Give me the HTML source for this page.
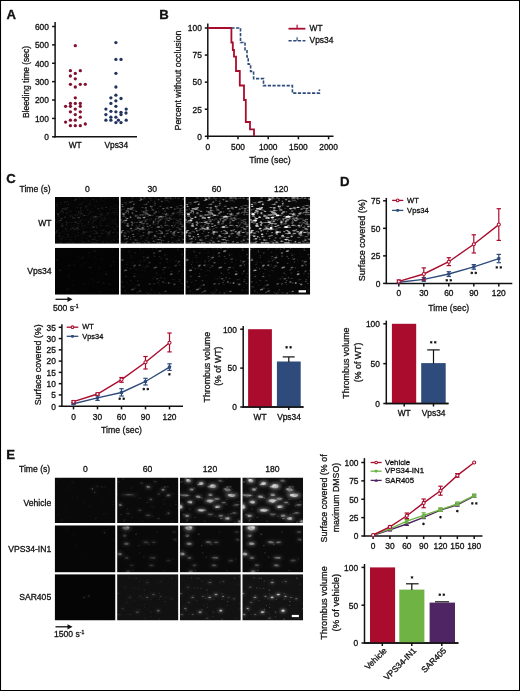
<!DOCTYPE html>
<html><head><meta charset="utf-8"><title>Figure</title>
<style>
html,body{margin:0;padding:0;background:#fff;}
body{width:520px;height:691px;overflow:hidden;font-family:"Liberation Sans",sans-serif;}
svg{display:block;position:absolute;left:0;top:0;will-change:transform;}
svg text{font-family:"Liberation Sans",sans-serif;stroke:#111;stroke-width:0.3px;}
</style></head><body>
<svg width="520" height="691" viewBox="0 0 520 691">
<defs>
<filter id="bl" x="-20%" y="-20%" width="140%" height="140%"><feGaussianBlur stdDeviation="1.7"/></filter>
<filter id="b07" x="-10%" y="-10%" width="120%" height="120%"><feGaussianBlur stdDeviation="0.6"/></filter>
<filter id="b05" x="-10%" y="-10%" width="120%" height="120%"><feGaussianBlur stdDeviation="0.6"/></filter>
<clipPath id="cC00"><rect x="55.0" y="197.0" width="64.1" height="46.8"/></clipPath><clipPath id="cC01"><rect x="120.4" y="197.0" width="63.7" height="46.8"/></clipPath><clipPath id="cC02"><rect x="185.3" y="197.0" width="63.6" height="46.8"/></clipPath><clipPath id="cC03"><rect x="250.1" y="197.0" width="60.1" height="46.8"/></clipPath><clipPath id="cC10"><rect x="55.0" y="247.8" width="64.1" height="46.9"/></clipPath><clipPath id="cC11"><rect x="120.4" y="247.8" width="63.7" height="46.9"/></clipPath><clipPath id="cC12"><rect x="185.3" y="247.8" width="63.6" height="46.9"/></clipPath><clipPath id="cC13"><rect x="250.1" y="247.8" width="60.1" height="46.9"/></clipPath><clipPath id="cE00"><rect x="54.7" y="477.5" width="60.8" height="45.6"/></clipPath><clipPath id="cE01"><rect x="117.1" y="477.5" width="61.3" height="45.6"/></clipPath><clipPath id="cE02"><rect x="179.9" y="477.5" width="60.9" height="45.6"/></clipPath><clipPath id="cE03"><rect x="242.3" y="477.5" width="60.8" height="45.6"/></clipPath><clipPath id="cE10"><rect x="54.7" y="525.3" width="60.8" height="47.1"/></clipPath><clipPath id="cE11"><rect x="117.1" y="525.3" width="61.3" height="47.1"/></clipPath><clipPath id="cE12"><rect x="179.9" y="525.3" width="60.9" height="47.1"/></clipPath><clipPath id="cE13"><rect x="242.3" y="525.3" width="60.8" height="47.1"/></clipPath><clipPath id="cE20"><rect x="54.7" y="574.2" width="60.8" height="46.3"/></clipPath><clipPath id="cE21"><rect x="117.1" y="574.2" width="61.3" height="46.3"/></clipPath><clipPath id="cE22"><rect x="179.9" y="574.2" width="60.9" height="46.3"/></clipPath><clipPath id="cE23"><rect x="242.3" y="574.2" width="60.8" height="46.3"/></clipPath>
</defs>
<rect x="0" y="0" width="520" height="691" fill="#fff"/>
<text x="6.4" y="18.6" font-size="13.2" text-anchor="start" font-weight="bold" fill="#111" stroke-width="0.1">A</text>
<line x1="55.1" y1="22.099999999999998" x2="55.1" y2="137.4" stroke="#111" stroke-width="1.5"/>
<line x1="54.5" y1="136.8" x2="137" y2="136.8" stroke="#111" stroke-width="1.5"/>
<line x1="52.1" y1="136.8" x2="55.1" y2="136.8" stroke="#111" stroke-width="1.5"/>
<text x="48.9" y="140.12400000000002" font-size="8.4" text-anchor="end" font-weight="normal" fill="#111">0</text>
<line x1="52.1" y1="118.41666666666667" x2="55.1" y2="118.41666666666667" stroke="#111" stroke-width="1.5"/>
<text x="48.9" y="121.74066666666667" font-size="8.4" text-anchor="end" font-weight="normal" fill="#111">100</text>
<line x1="52.1" y1="100.03333333333333" x2="55.1" y2="100.03333333333333" stroke="#111" stroke-width="1.5"/>
<text x="48.9" y="103.35733333333333" font-size="8.4" text-anchor="end" font-weight="normal" fill="#111">200</text>
<line x1="52.1" y1="81.65" x2="55.1" y2="81.65" stroke="#111" stroke-width="1.5"/>
<text x="48.9" y="84.974" font-size="8.4" text-anchor="end" font-weight="normal" fill="#111">300</text>
<line x1="52.1" y1="63.266666666666666" x2="55.1" y2="63.266666666666666" stroke="#111" stroke-width="1.5"/>
<text x="48.9" y="66.59066666666666" font-size="8.4" text-anchor="end" font-weight="normal" fill="#111">400</text>
<line x1="52.1" y1="44.883333333333326" x2="55.1" y2="44.883333333333326" stroke="#111" stroke-width="1.5"/>
<text x="48.9" y="48.207333333333324" font-size="8.4" text-anchor="end" font-weight="normal" fill="#111">500</text>
<line x1="52.1" y1="26.5" x2="55.1" y2="26.5" stroke="#111" stroke-width="1.5"/>
<text x="48.9" y="29.824" font-size="8.4" text-anchor="end" font-weight="normal" fill="#111">600</text>
<text transform="translate(29.0,82) rotate(-90)" font-size="9.9" text-anchor="middle" fill="#111" textLength="72" lengthAdjust="spacingAndGlyphs">Bleeding time (sec)</text>
<text x="75.2" y="148.2" font-size="8.4" text-anchor="middle" font-weight="normal" fill="#111">WT</text>
<text x="116.3" y="148.2" font-size="8.4" text-anchor="middle" font-weight="normal" fill="#111">Vps34</text>
<circle cx="75.3" cy="45.7" r="1.65" fill="#84102f"/>
<circle cx="70.4" cy="70.7" r="1.65" fill="#84102f"/>
<circle cx="80.3" cy="70.7" r="1.65" fill="#84102f"/>
<circle cx="75.3" cy="73.4" r="1.65" fill="#84102f"/>
<circle cx="70.4" cy="76.0" r="1.65" fill="#84102f"/>
<circle cx="75.3" cy="78.8" r="1.65" fill="#84102f"/>
<circle cx="70.4" cy="84.3" r="1.65" fill="#84102f"/>
<circle cx="80.3" cy="84.3" r="1.65" fill="#84102f"/>
<circle cx="85.3" cy="84.3" r="1.65" fill="#84102f"/>
<circle cx="75.3" cy="87.0" r="1.65" fill="#84102f"/>
<circle cx="75.3" cy="97.8" r="1.65" fill="#84102f"/>
<circle cx="70.4" cy="103.4" r="1.65" fill="#84102f"/>
<circle cx="75.3" cy="103.4" r="1.65" fill="#84102f"/>
<circle cx="80.3" cy="103.4" r="1.65" fill="#84102f"/>
<circle cx="65.6" cy="106.3" r="1.65" fill="#84102f"/>
<circle cx="70.4" cy="106.3" r="1.65" fill="#84102f"/>
<circle cx="80.3" cy="106.3" r="1.65" fill="#84102f"/>
<circle cx="75.3" cy="109.1" r="1.65" fill="#84102f"/>
<circle cx="70.4" cy="111.8" r="1.65" fill="#84102f"/>
<circle cx="80.3" cy="111.8" r="1.65" fill="#84102f"/>
<circle cx="75.3" cy="114.6" r="1.65" fill="#84102f"/>
<circle cx="80.3" cy="117.2" r="1.65" fill="#84102f"/>
<circle cx="70.4" cy="120.2" r="1.65" fill="#84102f"/>
<circle cx="75.3" cy="120.2" r="1.65" fill="#84102f"/>
<circle cx="65.6" cy="122.1" r="1.65" fill="#84102f"/>
<circle cx="85.3" cy="124.0" r="1.65" fill="#84102f"/>
<circle cx="70.4" cy="125.7" r="1.65" fill="#84102f"/>
<circle cx="75.3" cy="125.7" r="1.65" fill="#84102f"/>
<circle cx="80.3" cy="125.7" r="1.65" fill="#84102f"/>
<circle cx="115.9" cy="42.6" r="1.65" fill="#22335f"/>
<circle cx="115.9" cy="59.4" r="1.65" fill="#22335f"/>
<circle cx="121.0" cy="59.4" r="1.65" fill="#22335f"/>
<circle cx="115.9" cy="73.3" r="1.65" fill="#22335f"/>
<circle cx="115.9" cy="87.0" r="1.65" fill="#22335f"/>
<circle cx="115.9" cy="95.2" r="1.65" fill="#22335f"/>
<circle cx="110.9" cy="97.8" r="1.65" fill="#22335f"/>
<circle cx="121.0" cy="98.5" r="1.65" fill="#22335f"/>
<circle cx="115.9" cy="100.8" r="1.65" fill="#22335f"/>
<circle cx="110.9" cy="103.4" r="1.65" fill="#22335f"/>
<circle cx="115.9" cy="106.3" r="1.65" fill="#22335f"/>
<circle cx="105.9" cy="109.1" r="1.65" fill="#22335f"/>
<circle cx="126.2" cy="109.1" r="1.65" fill="#22335f"/>
<circle cx="110.9" cy="111.3" r="1.65" fill="#22335f"/>
<circle cx="115.9" cy="111.8" r="1.65" fill="#22335f"/>
<circle cx="121.0" cy="112.3" r="1.65" fill="#22335f"/>
<circle cx="126.0" cy="113.0" r="1.65" fill="#22335f"/>
<circle cx="105.9" cy="114.6" r="1.65" fill="#22335f"/>
<circle cx="121.0" cy="114.6" r="1.65" fill="#22335f"/>
<circle cx="110.9" cy="117.2" r="1.65" fill="#22335f"/>
<circle cx="115.9" cy="117.2" r="1.65" fill="#22335f"/>
<circle cx="105.9" cy="120.2" r="1.65" fill="#22335f"/>
<circle cx="110.9" cy="120.2" r="1.65" fill="#22335f"/>
<circle cx="126.2" cy="120.2" r="1.65" fill="#22335f"/>
<circle cx="118.4" cy="120.2" r="1.65" fill="#22335f"/>
<circle cx="115.9" cy="122.6" r="1.65" fill="#22335f"/>
<circle cx="121.0" cy="122.6" r="1.65" fill="#22335f"/>
<text x="159.3" y="18.6" font-size="13.2" text-anchor="start" font-weight="bold" fill="#111" stroke-width="0.1">B</text>
<line x1="207.8" y1="23.4" x2="207.8" y2="136.9" stroke="#111" stroke-width="1.5"/>
<line x1="207.20000000000002" y1="136.3" x2="333.5" y2="136.3" stroke="#111" stroke-width="1.5"/>
<line x1="204.8" y1="136.3" x2="207.8" y2="136.3" stroke="#111" stroke-width="1.5"/>
<text x="201.8" y="139.62400000000002" font-size="8.4" text-anchor="end" font-weight="normal" fill="#111">0</text>
<line x1="204.8" y1="109.22500000000001" x2="207.8" y2="109.22500000000001" stroke="#111" stroke-width="1.5"/>
<text x="201.8" y="112.549" font-size="8.4" text-anchor="end" font-weight="normal" fill="#111">25</text>
<line x1="204.8" y1="82.15" x2="207.8" y2="82.15" stroke="#111" stroke-width="1.5"/>
<text x="201.8" y="85.474" font-size="8.4" text-anchor="end" font-weight="normal" fill="#111">50</text>
<line x1="204.8" y1="55.075" x2="207.8" y2="55.075" stroke="#111" stroke-width="1.5"/>
<text x="201.8" y="58.399" font-size="8.4" text-anchor="end" font-weight="normal" fill="#111">75</text>
<line x1="204.8" y1="28.0" x2="207.8" y2="28.0" stroke="#111" stroke-width="1.5"/>
<text x="201.8" y="31.324" font-size="8.4" text-anchor="end" font-weight="normal" fill="#111">100</text>
<line x1="207.8" y1="136.3" x2="207.8" y2="139.3" stroke="#111" stroke-width="1.5"/>
<text x="207.8" y="150.2" font-size="8.4" text-anchor="middle" font-weight="normal" fill="#111">0</text>
<line x1="238.0" y1="136.3" x2="238.0" y2="139.3" stroke="#111" stroke-width="1.5"/>
<text x="238.0" y="150.2" font-size="8.4" text-anchor="middle" font-weight="normal" fill="#111">500</text>
<line x1="268.2" y1="136.3" x2="268.2" y2="139.3" stroke="#111" stroke-width="1.5"/>
<text x="268.2" y="150.2" font-size="8.4" text-anchor="middle" font-weight="normal" fill="#111">1000</text>
<line x1="298.4" y1="136.3" x2="298.4" y2="139.3" stroke="#111" stroke-width="1.5"/>
<text x="298.4" y="150.2" font-size="8.4" text-anchor="middle" font-weight="normal" fill="#111">1500</text>
<line x1="328.6" y1="136.3" x2="328.6" y2="139.3" stroke="#111" stroke-width="1.5"/>
<text x="328.6" y="150.2" font-size="8.4" text-anchor="middle" font-weight="normal" fill="#111">2000</text>
<text transform="translate(181.2,80.5) rotate(-90)" font-size="9.9" text-anchor="middle" fill="#111" textLength="100" lengthAdjust="spacingAndGlyphs">Percent without occlusion</text>
<text x="270.0" y="163.4" font-size="9.9" text-anchor="middle" font-weight="normal" fill="#111" textLength="41.5" lengthAdjust="spacingAndGlyphs">Time (sec)</text>
<polyline points="207.8,28 231.4,28 231.4,42.5 232.8,42.5 232.8,50 234,50 234,56.7 236,56.7 236,71 239.8,71 239.8,85.5 244,85.5 244,100 245.8,100 245.8,122 250,122 250,129.3 254,129.3 254,136.3" fill="none" stroke="#aa0c2e" stroke-width="1.8"/>
<polyline points="231.4,28 240.5,28 240.5,42.5 245,42.5 245,49.7 247,49.7 247,56.9 248.2,56.9 248.2,64.1 250.6,64.1 250.6,71.4 253.6,71.4 253.6,78.6 263.5,78.6 263.5,85.6 292.4,85.6 292.4,93.1 319.4,93.1 319.4,89.5" fill="none" stroke="#2e4b7c" stroke-width="1.6" stroke-dasharray="3.2 1.5"/>
<line x1="288.5" y1="28.7" x2="305.4" y2="28.7" stroke="#aa0c2e" stroke-width="1.8"/>
<line x1="297.1" y1="24.8" x2="297.1" y2="28.7" stroke="#aa0c2e" stroke-width="1.2"/>
<text x="309.6" y="31.3" font-size="8.4" text-anchor="start" font-weight="normal" fill="#111">WT</text>
<line x1="288.5" y1="40.8" x2="305.4" y2="40.8" stroke="#2e4b7c" stroke-width="1.6" stroke-dasharray="3.2 1.5"/>
<line x1="297.1" y1="37.2" x2="297.1" y2="40.8" stroke="#2e4b7c" stroke-width="1.2"/>
<text x="309.6" y="43.4" font-size="8.4" text-anchor="start" font-weight="normal" fill="#111">Vps34</text>
<text x="6.3" y="182.6" font-size="13.2" text-anchor="start" font-weight="bold" fill="#111" stroke-width="0.1">C</text>
<text x="19.5" y="191.8" font-size="8.6" text-anchor="start" font-weight="normal" fill="#111">Time (s)</text>
<text x="87.3" y="191.8" font-size="8.6" text-anchor="middle" font-weight="normal" fill="#111">0</text>
<text x="152.2" y="191.8" font-size="8.6" text-anchor="middle" font-weight="normal" fill="#111">30</text>
<text x="216.6" y="191.8" font-size="8.6" text-anchor="middle" font-weight="normal" fill="#111">60</text>
<text x="281.2" y="191.8" font-size="8.6" text-anchor="middle" font-weight="normal" fill="#111">120</text>
<text x="51.6" y="226.3" font-size="8.6" text-anchor="end" font-weight="normal" fill="#111">WT</text>
<text x="51.6" y="274.0" font-size="8.6" text-anchor="end" font-weight="normal" fill="#111">Vps34</text>
<g clip-path="url(#cC00)" fill="#fff">
<rect x="55.0" y="197.0" width="64.1" height="46.8" fill="rgb(5,5,5)"/>
<g filter="url(#b05)">
<ellipse cx="84.0" cy="197.9" rx=".8" ry=".6" opacity=".06"/>
<ellipse cx="66.8" cy="208.7" rx=".8" ry=".7" opacity=".11"/>
<ellipse cx="61.0" cy="218.4" rx="1.1" ry=".7" opacity=".03"/>
<ellipse cx="118.0" cy="226.2" rx="1.2" ry=".7" opacity=".06"/>
<ellipse cx="65.1" cy="237.5" rx=".5" ry=".5" opacity=".05"/>
<ellipse cx="56.9" cy="222.0" rx=".8" ry=".6" opacity=".13"/>
<ellipse cx="88.3" cy="209.9" rx="1.0" ry=".6" opacity=".05"/>
<ellipse cx="118.9" cy="207.6" rx="1.2" ry=".7" opacity=".07"/>
<ellipse cx="75.2" cy="221.9" rx=".5" ry=".7" opacity=".07"/>
<ellipse cx="109.3" cy="231.9" rx=".7" ry=".8" opacity=".08"/>
<ellipse cx="55.0" cy="228.1" rx=".8" ry=".8" opacity=".08"/>
<ellipse cx="59.7" cy="242.9" rx=".9" ry=".7" opacity=".06"/>
<ellipse cx="60.6" cy="202.4" rx="1.0" ry=".4" opacity=".05"/>
<ellipse cx="61.5" cy="242.9" rx=".5" ry=".7" opacity=".05"/>
<ellipse cx="90.9" cy="211.8" rx="1.0" ry=".5" opacity=".08"/>
<ellipse cx="62.5" cy="223.4" rx=".8" ry=".5" opacity=".06"/>
<ellipse cx="117.2" cy="224.3" rx="1.2" ry=".5" opacity=".05"/>
<ellipse cx="109.8" cy="209.1" rx=".9" ry=".4" opacity=".09"/>
<ellipse cx="68.7" cy="219.1" rx=".7" ry=".5" opacity=".04"/>
<ellipse cx="60.8" cy="242.9" rx=".9" ry=".5" opacity=".10"/>
<ellipse cx="78.8" cy="197.9" rx=".8" ry=".6" opacity=".09"/>
<ellipse cx="66.7" cy="230.7" rx=".5" ry=".8" opacity=".12"/>
<ellipse cx="71.0" cy="228.9" rx="1.2" ry=".5" opacity=".13"/>
<ellipse cx="111.5" cy="241.8" rx=".9" ry=".6" opacity=".03"/>
<ellipse cx="57.5" cy="230.5" rx="1.0" ry=".5" opacity=".12"/>
<ellipse cx="93.2" cy="218.0" rx=".6" ry=".5" opacity=".09"/>
<ellipse cx="59.4" cy="222.8" rx="1.1" ry=".6" opacity=".06"/>
<ellipse cx="113.8" cy="238.2" rx=".6" ry=".4" opacity=".04"/>
<ellipse cx="83.6" cy="228.5" rx=".7" ry=".6" opacity=".04"/>
<ellipse cx="78.2" cy="223.6" rx="1.2" ry=".8" opacity=".09"/>
<ellipse cx="99.3" cy="213.7" rx=".4" ry=".4" opacity=".10"/>
<ellipse cx="99.9" cy="216.5" rx="1.2" ry=".4" opacity=".07"/>
<ellipse cx="85.9" cy="218.9" rx="1.2" ry=".4" opacity=".08"/>
<ellipse cx="102.2" cy="208.2" rx="1.2" ry=".7" opacity=".08"/>
<ellipse cx="105.8" cy="231.7" rx="1.0" ry=".8" opacity=".09"/>
<ellipse cx="81.7" cy="213.7" rx="1.1" ry=".7" opacity=".08"/>
<ellipse cx="95.1" cy="206.7" rx=".9" ry=".4" opacity=".07"/>
<ellipse cx="118.7" cy="232.9" rx="1.1" ry=".7" opacity=".04"/>
<ellipse cx="102.1" cy="207.2" rx="1.1" ry=".4" opacity=".08"/>
<ellipse cx="56.9" cy="213.0" rx=".9" ry=".6" opacity=".06"/>
<ellipse cx="74.3" cy="220.7" rx="1.0" ry=".5" opacity=".04"/>
<ellipse cx="113.1" cy="212.3" rx="1.2" ry=".5" opacity=".07"/>
<ellipse cx="67.7" cy="207.6" rx=".8" ry=".7" opacity=".12"/>
<ellipse cx="111.4" cy="206.5" rx=".7" ry=".5" opacity=".05"/>
<ellipse cx="108.7" cy="232.7" rx="1.1" ry=".7" opacity=".09"/>
<ellipse cx="72.7" cy="227.9" rx=".6" ry=".5" opacity=".07"/>
<ellipse cx="95.1" cy="233.8" rx=".8" ry=".5" opacity=".10"/>
<ellipse cx="117.9" cy="215.1" rx=".4" ry=".7" opacity=".02"/>
<ellipse cx="100.4" cy="222.0" rx=".9" ry=".5" opacity=".09"/>
<ellipse cx="56.2" cy="230.6" rx=".4" ry=".7" opacity=".06"/>
<ellipse cx="64.0" cy="232.1" rx=".4" ry=".7" opacity=".08"/>
<ellipse cx="95.4" cy="206.1" rx="1.2" ry=".7" opacity=".04"/>
<ellipse cx="85.5" cy="199.3" rx=".6" ry=".4" opacity=".05"/>
<ellipse cx="100.8" cy="225.2" rx=".7" ry=".7" opacity=".06"/>
<ellipse cx="94.4" cy="230.5" rx="1.0" ry=".6" opacity=".09"/>
<ellipse cx="113.1" cy="242.9" rx="1.0" ry=".5" opacity=".05"/>
<ellipse cx="95.1" cy="237.4" rx="1.2" ry=".6" opacity=".07"/>
<ellipse cx="111.4" cy="230.2" rx=".8" ry=".7" opacity=".03"/>
<ellipse cx="101.3" cy="197.9" rx="1.1" ry=".7" opacity=".06"/>
<ellipse cx="68.7" cy="242.9" rx="1.2" ry=".6" opacity=".11"/>
<ellipse cx="75.5" cy="197.9" rx="1.2" ry=".7" opacity=".05"/>
<ellipse cx="60.3" cy="203.9" rx="1.1" ry=".6" opacity=".03"/>
<ellipse cx="106.9" cy="226.8" rx=".5" ry=".7" opacity=".03"/>
<ellipse cx="76.5" cy="222.2" rx=".5" ry=".6" opacity=".10"/>
<ellipse cx="108.8" cy="212.9" rx="1.0" ry=".8" opacity=".06"/>
<ellipse cx="115.8" cy="228.9" rx=".8" ry=".5" opacity=".07"/>
<ellipse cx="96.0" cy="225.5" rx=".8" ry=".7" opacity=".07"/>
<ellipse cx="75.0" cy="200.5" rx="1.2" ry=".5" opacity=".09"/>
<ellipse cx="117.1" cy="238.8" rx=".8" ry=".6" opacity=".03"/>
<ellipse cx="89.4" cy="201.3" rx=".4" ry=".8" opacity=".06"/>
<ellipse cx="80.7" cy="220.0" rx="1.1" ry=".6" opacity=".07"/>
<ellipse cx="99.3" cy="236.4" rx=".8" ry=".8" opacity=".10"/>
<ellipse cx="72.3" cy="227.4" rx=".8" ry=".5" opacity=".07"/>
<ellipse cx="107.3" cy="233.4" rx=".7" ry=".5" opacity=".07"/>
<ellipse cx="114.3" cy="211.1" rx=".5" ry=".7" opacity=".02"/>
<ellipse cx="67.4" cy="223.4" rx=".7" ry=".5" opacity=".09"/>
<ellipse cx="61.7" cy="241.6" rx="1.0" ry=".4" opacity=".09"/>
<ellipse cx="71.1" cy="226.0" rx=".8" ry=".6" opacity=".07"/>
<ellipse cx="88.9" cy="236.7" rx=".5" ry=".5" opacity=".08"/>
<ellipse cx="95.9" cy="197.9" rx=".9" ry=".7" opacity=".03"/>
<ellipse cx="102.5" cy="215.3" rx="1.1" ry=".8" opacity=".05"/>
<ellipse cx="75.2" cy="229.1" rx="1.2" ry=".8" opacity=".04"/>
<ellipse cx="70.3" cy="215.8" rx="1.0" ry=".5" opacity=".04"/>
<ellipse cx="108.3" cy="198.5" rx=".5" ry=".6" opacity=".06"/>
<ellipse cx="56.1" cy="232.1" rx=".6" ry=".7" opacity=".14"/>
<ellipse cx="117.1" cy="232.9" rx="1.0" ry=".6" opacity=".07"/>
<ellipse cx="67.1" cy="231.5" rx=".5" ry=".4" opacity=".03"/>
<ellipse cx="90.4" cy="202.3" rx=".5" ry=".5" opacity=".04"/>
<ellipse cx="108.9" cy="218.7" rx="1.2" ry=".8" opacity=".03"/>
<ellipse cx="59.0" cy="235.3" rx="1.1" ry=".5" opacity=".08"/>
<ellipse cx="88.0" cy="215.7" rx=".8" ry=".6" opacity=".03"/>
<ellipse cx="99.9" cy="225.4" rx=".8" ry=".7" opacity=".06"/>
<ellipse cx="67.5" cy="213.0" rx=".5" ry=".6" opacity=".03"/>
<ellipse cx="112.3" cy="227.4" rx="1.1" ry=".7" opacity=".05"/>
<ellipse cx="93.4" cy="199.6" rx=".8" ry=".8" opacity=".08"/>
<ellipse cx="71.6" cy="240.1" rx="1.1" ry=".7" opacity=".07"/>
<ellipse cx="112.5" cy="208.1" rx="1.1" ry=".7" opacity=".07"/>
<ellipse cx="104.1" cy="201.7" rx=".5" ry=".5" opacity=".05"/>
<ellipse cx="55.7" cy="233.0" rx=".7" ry=".7" opacity=".10"/>
<ellipse cx="69.9" cy="240.0" rx=".7" ry=".7" opacity=".09"/>
<ellipse cx="89.2" cy="213.3" rx=".7" ry=".8" opacity=".08"/>
<ellipse cx="100.0" cy="223.3" rx=".4" ry=".6" opacity=".08"/>
<ellipse cx="71.5" cy="197.9" rx=".7" ry=".4" opacity=".04"/>
<ellipse cx="79.1" cy="229.1" rx="1.2" ry=".6" opacity=".08"/>
<ellipse cx="117.0" cy="226.6" rx=".9" ry=".8" opacity=".06"/>
<ellipse cx="106.9" cy="237.2" rx="1.0" ry=".4" opacity=".09"/>
<ellipse cx="65.3" cy="229.1" rx=".8" ry=".5" opacity=".08"/>
<ellipse cx="94.2" cy="242.9" rx=".8" ry=".6" opacity=".07"/>
<ellipse cx="78.4" cy="232.6" rx=".6" ry=".7" opacity=".08"/>
<ellipse cx="73.2" cy="217.9" rx=".4" ry=".5" opacity=".03"/>
<ellipse cx="65.0" cy="208.9" rx="1.0" ry=".6" opacity=".13"/>
<ellipse cx="103.0" cy="242.9" rx="1.2" ry=".4" opacity=".09"/>
<ellipse cx="82.5" cy="233.4" rx=".8" ry=".8" opacity=".05"/>
<ellipse cx="88.5" cy="241.2" rx=".8" ry=".8" opacity=".10"/>
<ellipse cx="93.7" cy="211.8" rx=".5" ry=".6" opacity=".06"/>
<ellipse cx="68.1" cy="236.7" rx=".5" ry=".6" opacity=".10"/>
<ellipse cx="84.2" cy="225.9" rx=".6" ry=".6" opacity=".06"/>
<ellipse cx="104.9" cy="197.9" rx="1.2" ry=".7" opacity=".03"/>
<ellipse cx="62.3" cy="211.0" rx="1.2" ry=".7" opacity=".10"/>
<ellipse cx="78.0" cy="217.5" rx=".9" ry=".6" opacity=".09"/>
<ellipse cx="103.3" cy="241.5" rx=".6" ry=".5" opacity=".10"/>
<ellipse cx="113.7" cy="223.3" rx=".5" ry=".5" opacity=".05"/>
<ellipse cx="95.0" cy="217.6" rx=".5" ry=".6" opacity=".03"/>
<ellipse cx="60.5" cy="212.5" rx=".9" ry=".5" opacity=".08"/>
<ellipse cx="68.5" cy="204.5" rx=".7" ry=".7" opacity=".11"/>
<ellipse cx="59.8" cy="239.1" rx=".9" ry=".7" opacity=".05"/>
<ellipse cx="82.2" cy="237.9" rx=".6" ry=".7" opacity=".06"/>
<ellipse cx="96.9" cy="232.8" rx=".9" ry=".7" opacity=".10"/>
<ellipse cx="82.4" cy="219.6" rx=".7" ry=".4" opacity=".11"/>
<ellipse cx="60.0" cy="236.1" rx=".8" ry=".7" opacity=".06"/>
<ellipse cx="104.7" cy="229.4" rx=".5" ry=".5" opacity=".07"/>
<ellipse cx="60.2" cy="212.9" rx="1.0" ry=".5" opacity=".05"/>
<ellipse cx="77.9" cy="241.7" rx="1.0" ry=".5" opacity=".04"/>
<ellipse cx="100.5" cy="197.9" rx="1.2" ry=".8" opacity=".04"/>
<ellipse cx="106.5" cy="207.1" rx=".7" ry=".5" opacity=".05"/>
<ellipse cx="114.9" cy="228.8" rx=".7" ry=".5" opacity=".04"/>
<ellipse cx="80.4" cy="213.9" rx=".7" ry=".5" opacity=".08"/>
<ellipse cx="106.1" cy="197.9" rx=".9" ry=".5" opacity=".06"/>
<ellipse cx="111.5" cy="213.7" rx=".6" ry=".4" opacity=".06"/>
<ellipse cx="89.9" cy="197.9" rx="1.0" ry=".7" opacity=".02"/>
<ellipse cx="90.1" cy="205.4" rx="1.1" ry=".4" opacity=".03"/>
<ellipse cx="102.2" cy="225.2" rx=".9" ry=".5" opacity=".08"/>
<ellipse cx="96.6" cy="216.9" rx=".6" ry=".5" opacity=".09"/>
<ellipse cx="88.4" cy="221.7" rx=".7" ry=".8" opacity=".09"/>
<ellipse cx="86.6" cy="206.4" rx=".9" ry=".7" opacity=".09"/>
<ellipse cx="113.7" cy="198.2" rx="1.0" ry=".7" opacity=".06"/>
<ellipse cx="108.4" cy="234.4" rx="1.2" ry=".8" opacity=".07"/>
<ellipse cx="88.6" cy="214.1" rx=".8" ry=".6" opacity=".04"/>
<ellipse cx="102.5" cy="197.9" rx="1.2" ry=".6" opacity=".03"/>
<ellipse cx="68.1" cy="210.0" rx="1.2" ry=".4" opacity=".06"/>
<ellipse cx="62.4" cy="225.7" rx="1.0" ry=".7" opacity=".05"/>
<ellipse cx="59.0" cy="202.4" rx="1.2" ry=".4" opacity=".04"/>
<ellipse cx="66.8" cy="225.2" rx=".6" ry=".5" opacity=".11"/>
<ellipse cx="93.1" cy="221.9" rx=".6" ry=".5" opacity=".09"/>
<ellipse cx="75.0" cy="229.3" rx=".9" ry=".7" opacity=".08"/>
<ellipse cx="71.7" cy="242.9" rx=".7" ry=".6" opacity=".13"/>
<ellipse cx="85.9" cy="200.2" rx=".6" ry=".4" opacity=".09"/>
<ellipse cx="106.4" cy="207.5" rx=".8" ry=".5" opacity=".10"/>
<ellipse cx="97.1" cy="231.8" rx=".6" ry=".4" opacity=".06"/>
<ellipse cx="78.8" cy="226.8" rx=".9" ry=".5" opacity=".04"/>
<ellipse cx="75.6" cy="199.2" rx=".6" ry=".7" opacity=".06"/>
<ellipse cx="95.8" cy="231.4" rx=".9" ry=".5" opacity=".09"/>
<ellipse cx="55.1" cy="219.9" rx="1.1" ry=".7" opacity=".13"/>
<ellipse cx="60.3" cy="217.6" rx=".5" ry=".6" opacity=".08"/>
<ellipse cx="116.2" cy="242.5" rx=".9" ry=".7" opacity=".04"/>
<ellipse cx="105.6" cy="197.9" rx=".5" ry=".7" opacity=".03"/>
<ellipse cx="89.8" cy="236.0" rx=".8" ry=".5" opacity=".10"/>
<ellipse cx="75.0" cy="218.3" rx=".7" ry=".6" opacity=".10"/>
<ellipse cx="78.1" cy="225.6" rx="1.0" ry=".4" opacity=".07"/>
<ellipse cx="84.6" cy="242.9" rx="1.0" ry=".4" opacity=".06"/>
<ellipse cx="100.5" cy="214.9" rx=".6" ry=".6" opacity=".06"/>
<ellipse cx="55.7" cy="242.9" rx=".6" ry=".6" opacity=".06"/>
<ellipse cx="79.1" cy="219.1" rx=".9" ry=".5" opacity=".06"/>
<ellipse cx="80.1" cy="215.0" rx=".6" ry=".7" opacity=".06"/>
<ellipse cx="115.6" cy="211.0" rx=".9" ry=".7" opacity=".04"/>
<ellipse cx="108.0" cy="226.9" rx=".5" ry=".7" opacity=".07"/>
<ellipse cx="66.5" cy="224.6" rx=".7" ry=".7" opacity=".09"/>
<ellipse cx="60.8" cy="221.6" rx=".5" ry=".6" opacity=".04"/>
<ellipse cx="114.0" cy="228.5" rx=".8" ry=".6" opacity=".07"/>
<ellipse cx="104.2" cy="226.4" rx=".7" ry=".6" opacity=".02"/>
<ellipse cx="80.7" cy="207.9" rx="1.0" ry=".8" opacity=".10"/>
<ellipse cx="97.3" cy="218.3" rx=".7" ry=".5" opacity=".08"/>
<ellipse cx="61.8" cy="218.7" rx=".7" ry=".6" opacity=".12"/>
<ellipse cx="107.9" cy="214.1" rx="1.1" ry=".8" opacity=".06"/>
<ellipse cx="77.6" cy="215.1" rx=".8" ry=".5" opacity=".10"/>
<ellipse cx="118.3" cy="198.3" rx="1.1" ry=".5" opacity=".06"/>
<ellipse cx="95.2" cy="218.2" rx=".6" ry=".4" opacity=".04"/>
<ellipse cx="92.0" cy="216.3" rx="1.2" ry=".5" opacity=".06"/>
<ellipse cx="63.0" cy="208.5" rx="1.2" ry=".5" opacity=".13"/>
<ellipse cx="89.8" cy="203.7" rx=".6" ry=".8" opacity=".10"/>
<ellipse cx="107.4" cy="213.7" rx=".9" ry=".4" opacity=".08"/>
<ellipse cx="73.5" cy="228.7" rx=".9" ry=".7" opacity=".05"/>
<ellipse cx="90.1" cy="214.1" rx=".5" ry=".4" opacity=".04"/>
<ellipse cx="118.3" cy="239.5" rx=".7" ry=".7" opacity=".07"/>
<ellipse cx="79.5" cy="212.8" rx=".9" ry=".7" opacity=".03"/>
<ellipse cx="67.8" cy="212.8" rx=".7" ry=".6" opacity=".05"/>
<ellipse cx="88.3" cy="222.0" rx=".6" ry=".6" opacity=".05"/>
<ellipse cx="96.1" cy="240.7" rx=".5" ry=".8" opacity=".07"/>
<ellipse cx="85.1" cy="225.3" rx=".7" ry=".6" opacity=".09"/>
<ellipse cx="103.6" cy="220.6" rx="1.2" ry=".7" opacity=".09"/>
<ellipse cx="81.2" cy="204.2" rx=".8" ry=".6" opacity=".10"/>
<ellipse cx="88.7" cy="205.6" rx="1.2" ry=".5" opacity=".03"/>
<ellipse cx="101.5" cy="218.1" rx="1.2" ry=".7" opacity=".07"/>
<ellipse cx="103.2" cy="214.0" rx=".5" ry=".4" opacity=".06"/>
<ellipse cx="87.2" cy="238.1" rx=".7" ry=".4" opacity=".09"/>
<ellipse cx="88.7" cy="221.2" rx=".7" ry=".5" opacity=".03"/>
<ellipse cx="113.4" cy="232.4" rx="1.2" ry=".7" opacity=".08"/>
<ellipse cx="82.0" cy="223.8" rx="1.0" ry=".6" opacity=".11"/>
<ellipse cx="61.3" cy="211.1" rx="1.1" ry=".4" opacity=".09"/>
<ellipse cx="116.0" cy="230.9" rx=".7" ry=".5" opacity=".02"/>
<ellipse cx="112.4" cy="220.4" rx="1.1" ry=".6" opacity=".05"/>
<ellipse cx="92.5" cy="223.8" rx="1.2" ry=".5" opacity=".07"/>
<ellipse cx="114.9" cy="221.4" rx="1.2" ry=".6" opacity=".03"/>
<ellipse cx="73.9" cy="242.9" rx=".6" ry=".7" opacity=".06"/>
<ellipse cx="85.3" cy="206.4" rx=".5" ry=".8" opacity=".11"/>
<ellipse cx="67.9" cy="214.2" rx="1.1" ry=".4" opacity=".04"/>
<ellipse cx="101.5" cy="213.6" rx=".7" ry=".8" opacity=".09"/>
<ellipse cx="100.7" cy="234.7" rx="1.2" ry=".6" opacity=".03"/>
<ellipse cx="69.3" cy="236.6" rx=".7" ry=".7" opacity=".05"/>
<ellipse cx="66.6" cy="222.3" rx="1.1" ry=".5" opacity=".10"/>
<ellipse cx="111.7" cy="241.1" rx=".9" ry=".5" opacity=".04"/>
<ellipse cx="114.4" cy="214.8" rx=".9" ry=".4" opacity=".09"/>
<ellipse cx="83.2" cy="210.6" rx=".8" ry=".6" opacity=".03"/>
<ellipse cx="93.4" cy="218.1" rx="1.1" ry=".4" opacity=".05"/>
<ellipse cx="103.4" cy="230.8" rx=".6" ry=".5" opacity=".07"/>
<ellipse cx="66.9" cy="242.9" rx=".4" ry=".6" opacity=".11"/>
<ellipse cx="79.7" cy="197.9" rx="1.2" ry=".6" opacity=".03"/>
<ellipse cx="90.6" cy="212.3" rx="1.0" ry=".7" opacity=".07"/>
<ellipse cx="87.4" cy="209.9" rx="1.1" ry=".7" opacity=".07"/>
<ellipse cx="116.0" cy="231.6" rx=".5" ry=".6" opacity=".04"/>
<ellipse cx="83.2" cy="242.1" rx="1.1" ry=".7" opacity=".10"/>
<ellipse cx="70.1" cy="210.5" rx=".9" ry=".6" opacity=".03"/>
<ellipse cx="93.3" cy="221.1" rx="1.0" ry=".6" opacity=".10"/>
<ellipse cx="66.5" cy="221.9" rx=".8" ry=".6" opacity=".08"/>
<ellipse cx="71.9" cy="222.6" rx="1.1" ry=".4" opacity=".12"/>
<ellipse cx="91.5" cy="197.9" rx=".6" ry=".5" opacity=".04"/>
<ellipse cx="57.7" cy="213.7" rx=".7" ry=".6" opacity=".09"/>
<ellipse cx="72.0" cy="215.3" rx="1.1" ry=".5" opacity=".05"/>
<ellipse cx="65.2" cy="217.2" rx="1.0" ry=".7" opacity=".11"/>
<ellipse cx="58.9" cy="209.1" rx=".6" ry=".8" opacity=".03"/>
<ellipse cx="86.4" cy="227.5" rx="1.0" ry=".8" opacity=".04"/>
<ellipse cx="84.2" cy="220.3" rx=".6" ry=".8" opacity=".04"/>
<ellipse cx="80.2" cy="216.4" rx=".7" ry=".6" opacity=".03"/>
<ellipse cx="57.2" cy="242.9" rx="1.0" ry=".5" opacity=".06"/>
<ellipse cx="90.4" cy="219.8" rx=".6" ry=".6" opacity=".11"/>
<ellipse cx="78.3" cy="199.8" rx=".9" ry=".4" opacity=".05"/>
<ellipse cx="96.7" cy="242.9" rx=".4" ry=".5" opacity=".08"/>
<ellipse cx="110.4" cy="197.9" rx=".8" ry=".6" opacity=".06"/>
<ellipse cx="79.4" cy="204.6" rx="1.1" ry=".5" opacity=".05"/>
<ellipse cx="66.8" cy="212.4" rx=".6" ry=".5" opacity=".08"/>
<ellipse cx="74.8" cy="217.8" rx=".8" ry=".8" opacity=".10"/>
<ellipse cx="110.3" cy="224.3" rx=".5" ry=".7" opacity=".05"/>
<ellipse cx="72.6" cy="233.6" rx=".4" ry=".5" opacity=".05"/>
<ellipse cx="80.2" cy="240.1" rx=".6" ry=".5" opacity=".04"/>
<ellipse cx="115.0" cy="210.1" rx=".7" ry=".7" opacity=".07"/>
<ellipse cx="113.1" cy="232.7" rx=".7" ry=".4" opacity=".08"/>
<ellipse cx="75.8" cy="222.0" rx="1.1" ry=".6" opacity=".03"/>
<ellipse cx="80.3" cy="220.7" rx=".5" ry=".6" opacity=".03"/>
<ellipse cx="75.0" cy="224.4" rx=".8" ry=".6" opacity=".04"/>
<ellipse cx="100.3" cy="218.9" rx="1.0" ry=".5" opacity=".04"/>
<ellipse cx="73.0" cy="242.9" rx="1.0" ry=".6" opacity=".07"/>
<ellipse cx="110.5" cy="222.1" rx=".7" ry=".5" opacity=".02"/>
<ellipse cx="56.6" cy="231.9" rx=".9" ry=".6" opacity=".12"/>
<ellipse cx="117.5" cy="214.2" rx="1.2" ry=".5" opacity=".07"/>
<ellipse cx="97.7" cy="240.4" rx="1.2" ry=".7" opacity=".04"/>
<ellipse cx="95.5" cy="232.9" rx=".7" ry=".4" opacity=".06"/>
<ellipse cx="76.0" cy="228.3" rx=".8" ry=".5" opacity=".04"/>
<ellipse cx="80.8" cy="212.0" rx="1.0" ry=".5" opacity=".03"/>
<ellipse cx="76.9" cy="221.7" rx=".8" ry=".5" opacity=".08"/>
<ellipse cx="100.0" cy="199.8" rx=".4" ry=".6" opacity=".04"/>
<ellipse cx="59.0" cy="213.3" rx=".7" ry=".4" opacity=".09"/>
<ellipse cx="92.6" cy="208.2" rx=".6" ry=".4" opacity=".05"/>
<ellipse cx="112.2" cy="222.8" rx=".9" ry=".5" opacity=".07"/>
<ellipse cx="66.9" cy="201.4" rx="1.2" ry=".5" opacity=".08"/>
<ellipse cx="115.4" cy="224.1" rx="1.1" ry=".7" opacity=".06"/>
<ellipse cx="81.3" cy="210.7" rx="1.1" ry=".8" opacity=".06"/>
<ellipse cx="113.3" cy="226.1" rx=".4" ry=".5" opacity=".06"/>
<ellipse cx="74.8" cy="197.9" rx=".5" ry=".5" opacity=".04"/>
<ellipse cx="98.6" cy="242.9" rx=".6" ry=".4" opacity=".07"/>
<ellipse cx="80.2" cy="221.5" rx="1.0" ry=".6" opacity=".09"/>
<ellipse cx="90.9" cy="236.7" rx="1.1" ry=".8" opacity=".05"/>
<ellipse cx="77.2" cy="229.6" rx="1.0" ry=".7" opacity=".09"/>
<ellipse cx="116.8" cy="212.4" rx="1.1" ry=".5" opacity=".06"/>
<ellipse cx="86.5" cy="208.0" rx=".6" ry=".7" opacity=".07"/>
<ellipse cx="70.2" cy="215.1" rx=".6" ry=".5" opacity=".05"/>
<ellipse cx="87.9" cy="224.0" rx=".5" ry=".4" opacity=".09"/>
<ellipse cx="62.2" cy="224.0" rx=".8" ry=".7" opacity=".08"/>
<ellipse cx="65.4" cy="239.3" rx=".4" ry=".5" opacity=".08"/>
<ellipse cx="106.1" cy="199.3" rx=".7" ry=".7" opacity=".03"/>
<ellipse cx="100.9" cy="214.5" rx="1.0" ry=".7" opacity=".09"/>
<ellipse cx="91.4" cy="231.6" rx=".8" ry=".7" opacity=".08"/>
<ellipse cx="108.3" cy="222.7" rx=".7" ry=".7" opacity=".04"/>
<ellipse cx="66.8" cy="213.5" rx=".4" ry=".6" opacity=".13"/>
<ellipse cx="117.2" cy="234.7" rx=".8" ry=".7" opacity=".05"/>
<ellipse cx="114.8" cy="236.4" rx="1.2" ry=".4" opacity=".07"/>
<ellipse cx="62.6" cy="231.5" rx="1.0" ry=".8" opacity=".04"/>
<ellipse cx="76.2" cy="223.4" rx=".4" ry=".6" opacity=".07"/>
<ellipse cx="78.9" cy="211.2" rx="1.1" ry=".5" opacity=".06"/>
<ellipse cx="94.6" cy="242.9" rx="1.1" ry=".8" opacity=".06"/>
<ellipse cx="99.5" cy="197.9" rx=".5" ry=".5" opacity=".02"/>
<ellipse cx="114.8" cy="213.2" rx=".6" ry=".6" opacity=".03"/>
<ellipse cx="75.7" cy="238.4" rx=".5" ry=".7" opacity=".05"/>
<ellipse cx="69.6" cy="222.6" rx=".8" ry=".5" opacity=".06"/>
<ellipse cx="58.3" cy="242.9" rx=".7" ry=".4" opacity=".05"/>
<ellipse cx="86.0" cy="232.1" rx="1.2" ry=".5" opacity=".11"/>
<ellipse cx="86.0" cy="198.5" rx=".7" ry=".4" opacity=".06"/>
<ellipse cx="97.1" cy="233.4" rx=".9" ry=".5" opacity=".10"/>
<ellipse cx="110.4" cy="235.6" rx="1.1" ry=".7" opacity=".03"/>
<ellipse cx="56.7" cy="219.9" rx=".5" ry=".4" opacity=".04"/>
<ellipse cx="78.0" cy="220.7" rx=".8" ry=".4" opacity=".05"/>
<ellipse cx="116.5" cy="208.3" rx=".4" ry=".6" opacity=".07"/>
<ellipse cx="105.8" cy="219.1" rx="1.1" ry=".7" opacity=".08"/>
<ellipse cx="118.2" cy="206.3" rx=".5" ry=".8" opacity=".04"/>
<ellipse cx="100.2" cy="220.3" rx=".4" ry=".6" opacity=".04"/>
<ellipse cx="79.9" cy="242.9" rx=".7" ry=".7" opacity=".10"/>
<ellipse cx="78.4" cy="211.9" rx=".6" ry=".8" opacity=".06"/>
<ellipse cx="61.0" cy="210.4" rx=".7" ry=".7" opacity=".05"/>
<ellipse cx="102.6" cy="200.1" rx=".6" ry=".4" opacity=".03"/>
<ellipse cx="77.5" cy="214.3" rx=".8" ry=".4" opacity=".08"/>
<ellipse cx="80.9" cy="212.8" rx="1.2" ry=".5" opacity=".11"/>
<ellipse cx="75.6" cy="236.1" rx="1.0" ry=".4" opacity=".13"/>
<ellipse cx="82.6" cy="230.0" rx=".7" ry=".7" opacity=".04"/>
<ellipse cx="72.5" cy="218.1" rx="1.0" ry=".8" opacity=".06"/>
<ellipse cx="66.8" cy="197.9" rx=".5" ry=".7" opacity=".05"/>
<ellipse cx="96.3" cy="242.9" rx=".6" ry=".6" opacity=".10"/>
<ellipse cx="109.9" cy="208.9" rx=".9" ry=".4" opacity=".08"/>
<ellipse cx="99.2" cy="208.4" rx=".8" ry=".7" opacity=".06"/>
<ellipse cx="79.7" cy="222.8" rx=".9" ry=".6" opacity=".03"/>
<ellipse cx="95.2" cy="239.3" rx=".8" ry=".6" opacity=".07"/>
<ellipse cx="114.7" cy="229.5" rx="1.2" ry=".7" opacity=".04"/>
<ellipse cx="102.2" cy="233.3" rx="1.2" ry=".6" opacity=".09"/>
<ellipse cx="63.1" cy="236.7" rx=".6" ry=".7" opacity=".10"/>
<ellipse cx="115.1" cy="219.4" rx="1.1" ry=".7" opacity=".06"/>
<ellipse cx="118.7" cy="242.9" rx="1.0" ry=".5" opacity=".07"/>
<ellipse cx="84.1" cy="231.6" rx=".9" ry=".7" opacity=".04"/>
<ellipse cx="72.9" cy="217.0" rx=".9" ry=".7" opacity=".08"/>
<ellipse cx="70.5" cy="216.1" rx="1.1" ry=".7" opacity=".11"/>
<ellipse cx="90.2" cy="241.2" rx=".5" ry=".5" opacity=".03"/>
<ellipse cx="57.4" cy="206.4" rx=".7" ry=".7" opacity=".12"/>
<ellipse cx="62.5" cy="226.2" rx="1.1" ry=".6" opacity=".13"/>
<ellipse cx="59.6" cy="233.1" rx="1.2" ry=".5" opacity=".10"/>
<ellipse cx="111.2" cy="219.1" rx="1.0" ry=".6" opacity=".02"/>
<ellipse cx="76.8" cy="211.2" rx=".7" ry=".7" opacity=".05"/>
<ellipse cx="93.7" cy="217.4" rx=".5" ry=".7" opacity=".06"/>
<ellipse cx="63.3" cy="212.1" rx=".5" ry=".8" opacity=".10"/>
<ellipse cx="77.9" cy="235.5" rx="1.0" ry=".7" opacity=".06"/>
<ellipse cx="74.9" cy="242.9" rx=".7" ry=".5" opacity=".09"/>
<ellipse cx="82.2" cy="226.5" rx=".8" ry=".6" opacity=".12"/>
<ellipse cx="77.2" cy="207.4" rx="1.0" ry=".5" opacity=".08"/>
<ellipse cx="73.3" cy="228.4" rx="1.1" ry=".7" opacity=".07"/>
<ellipse cx="114.8" cy="212.1" rx=".7" ry=".7" opacity=".06"/>
<ellipse cx="83.7" cy="233.9" rx=".6" ry=".6" opacity=".12"/>
<ellipse cx="73.8" cy="226.1" rx="1.0" ry=".7" opacity=".05"/>
<ellipse cx="81.4" cy="240.5" rx=".6" ry=".6" opacity=".06"/>
<ellipse cx="107.6" cy="242.4" rx="1.1" ry=".6" opacity=".06"/>
<ellipse cx="61.4" cy="225.2" rx=".7" ry=".5" opacity=".11"/>
<ellipse cx="97.9" cy="216.7" rx=".7" ry=".8" opacity=".10"/>
<ellipse cx="56.5" cy="209.8" rx=".7" ry=".6" opacity=".07"/>
<ellipse cx="98.0" cy="208.7" rx=".9" ry=".8" opacity=".10"/>
<ellipse cx="118.6" cy="199.5" rx="1.0" ry=".7" opacity=".07"/>
<ellipse cx="59.3" cy="236.5" rx=".8" ry=".6" opacity=".10"/>
<ellipse cx="69.0" cy="230.0" rx=".7" ry=".5" opacity=".07"/>
<ellipse cx="102.5" cy="219.8" rx=".5" ry=".5" opacity=".07"/>
<ellipse cx="94.9" cy="219.9" rx="1.1" ry=".7" opacity=".09"/>
<ellipse cx="62.7" cy="209.7" rx=".8" ry=".4" opacity=".12"/>
<ellipse cx="115.5" cy="222.9" rx=".7" ry=".6" opacity=".06"/>
<ellipse cx="62.1" cy="218.5" rx="1.1" ry=".5" opacity=".09"/>
<ellipse cx="63.0" cy="213.7" rx=".5" ry=".6" opacity=".06"/>
<ellipse cx="104.8" cy="217.3" rx=".6" ry=".6" opacity=".03"/>
<ellipse cx="69.0" cy="203.3" rx=".8" ry=".7" opacity=".03"/>
<ellipse cx="109.5" cy="225.8" rx=".5" ry=".8" opacity=".06"/>
<ellipse cx="81.1" cy="199.0" rx="1.2" ry=".6" opacity=".02"/>
<ellipse cx="64.9" cy="202.2" rx="1.1" ry=".7" opacity=".09"/>
<ellipse cx="65.0" cy="217.1" rx=".5" ry=".5" opacity=".13"/>
<ellipse cx="96.2" cy="219.7" rx="1.1" ry=".4" opacity=".06"/>
<ellipse cx="60.0" cy="219.9" rx="1.2" ry=".5" opacity=".08"/>
<ellipse cx="96.9" cy="227.2" rx="1.2" ry=".8" opacity=".07"/>
<ellipse cx="87.1" cy="232.0" rx=".7" ry=".7" opacity=".05"/>
<ellipse cx="78.6" cy="212.4" rx=".8" ry=".6" opacity=".06"/>
<ellipse cx="82.6" cy="216.1" rx="1.1" ry=".4" opacity=".08"/>
<ellipse cx="90.1" cy="221.8" rx=".7" ry=".5" opacity=".03"/>
<ellipse cx="78.8" cy="214.0" rx=".6" ry=".7" opacity=".07"/>
<ellipse cx="55.6" cy="235.2" rx=".7" ry=".8" opacity=".03"/>
<ellipse cx="93.0" cy="233.4" rx=".9" ry=".5" opacity=".05"/>
<ellipse cx="94.0" cy="217.1" rx=".9" ry=".5" opacity=".07"/>
<ellipse cx="88.1" cy="220.5" rx=".5" ry=".5" opacity=".05"/>
<ellipse cx="106.0" cy="215.8" rx=".8" ry=".7" opacity=".05"/>
<ellipse cx="73.3" cy="217.9" rx="1.2" ry=".7" opacity=".06"/>
<ellipse cx="75.3" cy="215.0" rx="1.1" ry=".7" opacity=".09"/>
<ellipse cx="58.6" cy="220.8" rx=".9" ry=".6" opacity=".13"/>
<ellipse cx="95.9" cy="216.0" rx=".4" ry=".8" opacity=".09"/>
<ellipse cx="92.2" cy="242.9" rx=".8" ry=".7" opacity=".11"/>
<ellipse cx="113.8" cy="221.2" rx=".5" ry=".7" opacity=".05"/>
<ellipse cx="103.2" cy="209.4" rx=".8" ry=".4" opacity=".05"/>
<ellipse cx="102.1" cy="231.0" rx=".5" ry=".4" opacity=".09"/>
<ellipse cx="97.7" cy="213.8" rx=".5" ry=".5" opacity=".10"/>
<ellipse cx="90.9" cy="218.4" rx="1.2" ry=".5" opacity=".06"/>
<ellipse cx="89.4" cy="224.2" rx="1.1" ry=".6" opacity=".03"/>
<ellipse cx="82.7" cy="214.3" rx=".7" ry=".7" opacity=".11"/>
<ellipse cx="86.6" cy="215.2" rx="1.1" ry=".4" opacity=".09"/>
<ellipse cx="65.7" cy="207.5" rx=".9" ry=".5" opacity=".06"/>
<ellipse cx="65.5" cy="209.4" rx=".8" ry=".6" opacity=".09"/>
<ellipse cx="109.0" cy="235.6" rx=".7" ry=".6" opacity=".06"/>
<ellipse cx="117.9" cy="210.2" rx=".6" ry=".5" opacity=".07"/>
<ellipse cx="91.9" cy="239.6" rx=".6" ry=".4" opacity=".10"/>
<ellipse cx="79.2" cy="217.3" rx=".9" ry=".6" opacity=".12"/>
<ellipse cx="113.3" cy="205.8" rx=".8" ry=".6" opacity=".03"/>
<ellipse cx="103.3" cy="230.0" rx="1.1" ry=".4" opacity=".08"/>
<ellipse cx="91.4" cy="227.6" rx=".9" ry=".5" opacity=".04"/>
<ellipse cx="115.9" cy="222.7" rx=".5" ry=".7" opacity=".03"/>
<ellipse cx="67.8" cy="197.9" rx=".9" ry=".6" opacity=".03"/>
<ellipse cx="104.0" cy="197.9" rx="1.2" ry=".7" opacity=".04"/>
<ellipse cx="116.0" cy="205.5" rx="1.0" ry=".5" opacity=".07"/>
<ellipse cx="101.6" cy="219.4" rx=".4" ry=".6" opacity=".04"/>
<ellipse cx="73.8" cy="231.0" rx=".6" ry=".5" opacity=".08"/>
<ellipse cx="72.5" cy="217.9" rx=".8" ry=".7" opacity=".04"/>
<ellipse cx="110.1" cy="231.4" rx="1.1" ry=".6" opacity=".06"/>
<ellipse cx="102.0" cy="200.3" rx="1.2" ry=".7" opacity=".03"/>
<ellipse cx="58.5" cy="216.0" rx="1.2" ry=".5" opacity=".12"/>
<ellipse cx="58.2" cy="214.3" rx="1.1" ry=".6" opacity=".20"/>
<ellipse cx="60.8" cy="220.4" rx="1.0" ry=".6" opacity=".20"/>
<ellipse cx="56.9" cy="204.5" rx=".8" ry=".5" opacity=".14"/>
<ellipse cx="84.5" cy="215.3" rx="1.1" ry=".6" opacity=".20"/>
<ellipse cx="95.4" cy="216.7" rx="1.5" ry=".7" opacity=".20"/>
<ellipse cx="78.7" cy="217.6" rx=".9" ry=".6" opacity=".19"/>
<ellipse cx="77.4" cy="227.9" rx=".9" ry=".8" opacity=".20"/>
<ellipse cx="93.5" cy="227.0" rx="1.4" ry=".7" opacity=".20"/>
<ellipse cx="83.8" cy="232.1" rx="1.1" ry=".6" opacity=".19"/>
<ellipse cx="67.8" cy="234.4" rx=".8" ry=".5" opacity=".16"/>
<ellipse cx="93.5" cy="239.6" rx=".9" ry=".5" opacity=".16"/>
<ellipse cx="74.9" cy="222.3" rx="1.0" ry=".5" opacity=".16"/>
<ellipse cx="65.9" cy="228.4" rx=".8" ry=".5" opacity=".15"/>
<ellipse cx="106.9" cy="225.5" rx=".9" ry=".5" opacity=".14"/>
<ellipse cx="109.5" cy="233.0" rx=".8" ry=".5" opacity=".14"/>
<ellipse cx="76.2" cy="199.3" rx="1.0" ry=".5" opacity=".16"/>
<ellipse cx="96.7" cy="201.2" rx=".9" ry=".4" opacity=".14"/>
<ellipse cx="83.2" cy="202.1" rx=".8" ry=".4" opacity=".14"/>
<ellipse cx="105.6" cy="207.3" rx=".8" ry=".4" opacity=".13"/>
<ellipse cx="61.4" cy="238.7" rx=".8" ry=".5" opacity=".14"/>
<ellipse cx="71.0" cy="211.5" rx=".8" ry=".4" opacity=".14"/>
<ellipse cx="115.3" cy="208.7" rx=".7" ry=".4" opacity=".12"/>
<ellipse cx="104.4" cy="218.1" rx=".9" ry=".5" opacity=".14"/>
<ellipse cx="89.6" cy="235.4" rx=".8" ry=".5" opacity=".14"/>
<ellipse cx="114.0" cy="240.1" rx=".8" ry=".5" opacity=".14"/>
<ellipse cx="99.9" cy="211.0" rx=".8" ry=".4" opacity=".12"/>
<ellipse cx="88.3" cy="222.7" rx=".8" ry=".4" opacity=".14"/>
<ellipse cx="62.7" cy="225.1" rx=".8" ry=".4" opacity=".12"/>
<ellipse cx="101.2" cy="230.7" rx=".8" ry=".4" opacity=".12"/>
<ellipse cx="80.6" cy="210.1" rx=".8" ry=".4" opacity=".12"/>
</g></g>
<g clip-path="url(#cC01)" fill="#fff">
<rect x="120.4" y="197.0" width="63.7" height="46.8" fill="rgb(6,6,6)"/>
<g filter="url(#b05)">
<ellipse cx="149.2" cy="197.9" rx="1.0" ry=".6" opacity=".19"/>
<ellipse cx="132.2" cy="208.7" rx="1.0" ry=".7" opacity=".34"/>
<ellipse cx="126.4" cy="218.4" rx="1.3" ry=".7" opacity=".10"/>
<ellipse cx="183.0" cy="226.2" rx="1.5" ry=".7" opacity=".18"/>
<ellipse cx="130.4" cy="237.5" rx=".6" ry=".5" opacity=".16"/>
<ellipse cx="122.3" cy="222.0" rx="1.0" ry=".6" opacity=".38"/>
<ellipse cx="153.5" cy="209.9" rx="1.2" ry=".6" opacity=".15"/>
<ellipse cx="184.0" cy="207.6" rx="1.5" ry=".7" opacity=".20"/>
<ellipse cx="140.5" cy="221.9" rx=".6" ry=".7" opacity=".20"/>
<ellipse cx="174.3" cy="231.9" rx=".9" ry=".8" opacity=".25"/>
<ellipse cx="120.4" cy="228.1" rx="1.0" ry=".8" opacity=".23"/>
<ellipse cx="125.1" cy="242.9" rx="1.2" ry=".7" opacity=".18"/>
<ellipse cx="126.0" cy="202.4" rx="1.3" ry=".4" opacity=".15"/>
<ellipse cx="126.8" cy="242.9" rx=".6" ry=".7" opacity=".15"/>
<ellipse cx="156.0" cy="211.8" rx="1.3" ry=".5" opacity=".24"/>
<ellipse cx="127.8" cy="223.4" rx=".9" ry=".5" opacity=".18"/>
<ellipse cx="182.2" cy="224.3" rx="1.4" ry=".5" opacity=".14"/>
<ellipse cx="174.8" cy="209.1" rx="1.2" ry=".4" opacity=".28"/>
<ellipse cx="134.0" cy="219.1" rx=".8" ry=".5" opacity=".11"/>
<ellipse cx="126.1" cy="242.9" rx="1.1" ry=".5" opacity=".29"/>
<ellipse cx="144.1" cy="197.9" rx="1.0" ry=".6" opacity=".26"/>
<ellipse cx="132.0" cy="230.7" rx=".7" ry=".8" opacity=".35"/>
<ellipse cx="136.3" cy="228.9" rx="1.5" ry=".5" opacity=".38"/>
<ellipse cx="176.6" cy="241.8" rx="1.1" ry=".6" opacity=".08"/>
<ellipse cx="122.9" cy="230.5" rx="1.2" ry=".5" opacity=".37"/>
<ellipse cx="158.4" cy="218.0" rx=".8" ry=".5" opacity=".26"/>
<ellipse cx="124.8" cy="222.8" rx="1.4" ry=".6" opacity=".18"/>
<ellipse cx="178.8" cy="238.2" rx=".7" ry=".4" opacity=".12"/>
<ellipse cx="148.8" cy="228.5" rx=".9" ry=".6" opacity=".11"/>
<ellipse cx="143.5" cy="223.6" rx="1.4" ry=".8" opacity=".27"/>
<ellipse cx="164.4" cy="213.7" rx=".5" ry=".4" opacity=".29"/>
<ellipse cx="165.1" cy="216.5" rx="1.5" ry=".4" opacity=".22"/>
<ellipse cx="151.1" cy="218.9" rx="1.5" ry=".4" opacity=".23"/>
<ellipse cx="167.3" cy="208.2" rx="1.4" ry=".7" opacity=".23"/>
<ellipse cx="170.9" cy="231.7" rx="1.2" ry=".8" opacity=".27"/>
<ellipse cx="147.0" cy="213.7" rx="1.3" ry=".7" opacity=".24"/>
<ellipse cx="160.2" cy="206.7" rx="1.1" ry=".4" opacity=".22"/>
<ellipse cx="183.7" cy="232.9" rx="1.4" ry=".7" opacity=".13"/>
<ellipse cx="167.2" cy="207.2" rx="1.4" ry=".4" opacity=".24"/>
<ellipse cx="122.3" cy="213.0" rx="1.1" ry=".6" opacity=".17"/>
<ellipse cx="164.9" cy="201.0" rx="1.5" ry=".5" opacity=".06"/>
<ellipse cx="139.6" cy="220.7" rx="1.2" ry=".5" opacity=".13"/>
<ellipse cx="178.1" cy="212.3" rx="1.4" ry=".5" opacity=".20"/>
<ellipse cx="133.0" cy="207.6" rx="1.0" ry=".7" opacity=".37"/>
<ellipse cx="176.5" cy="206.5" rx=".8" ry=".5" opacity=".16"/>
<ellipse cx="173.7" cy="232.7" rx="1.4" ry=".7" opacity=".28"/>
<ellipse cx="138.0" cy="227.9" rx=".8" ry=".5" opacity=".21"/>
<ellipse cx="160.3" cy="233.8" rx="1.0" ry=".5" opacity=".29"/>
<ellipse cx="183.0" cy="215.1" rx=".5" ry=".7" opacity=".06"/>
<ellipse cx="165.5" cy="222.0" rx="1.1" ry=".5" opacity=".26"/>
<ellipse cx="121.6" cy="230.6" rx=".5" ry=".7" opacity=".17"/>
<ellipse cx="129.4" cy="232.1" rx=".5" ry=".7" opacity=".23"/>
<ellipse cx="160.5" cy="206.1" rx="1.5" ry=".7" opacity=".11"/>
<ellipse cx="150.7" cy="199.3" rx=".7" ry=".4" opacity=".16"/>
<ellipse cx="165.9" cy="225.2" rx=".9" ry=".7" opacity=".19"/>
<ellipse cx="159.5" cy="230.5" rx="1.3" ry=".6" opacity=".27"/>
<ellipse cx="178.1" cy="242.9" rx="1.3" ry=".5" opacity=".16"/>
<ellipse cx="160.2" cy="237.4" rx="1.5" ry=".6" opacity=".22"/>
<ellipse cx="176.4" cy="230.2" rx="1.0" ry=".7" opacity=".10"/>
<ellipse cx="166.4" cy="197.9" rx="1.4" ry=".7" opacity=".19"/>
<ellipse cx="134.0" cy="242.9" rx="1.5" ry=".6" opacity=".33"/>
<ellipse cx="140.8" cy="197.9" rx="1.5" ry=".7" opacity=".14"/>
<ellipse cx="125.7" cy="203.9" rx="1.3" ry=".6" opacity=".09"/>
<ellipse cx="171.9" cy="226.8" rx=".6" ry=".7" opacity=".10"/>
<ellipse cx="141.7" cy="222.2" rx=".7" ry=".6" opacity=".30"/>
<ellipse cx="173.9" cy="212.9" rx="1.2" ry=".8" opacity=".17"/>
<ellipse cx="180.9" cy="228.9" rx="1.1" ry=".5" opacity=".21"/>
<ellipse cx="161.1" cy="225.5" rx="1.0" ry=".7" opacity=".21"/>
<ellipse cx="140.3" cy="200.5" rx="1.4" ry=".5" opacity=".28"/>
<ellipse cx="182.1" cy="238.8" rx="1.0" ry=".6" opacity=".10"/>
<ellipse cx="154.5" cy="201.3" rx=".5" ry=".8" opacity=".18"/>
<ellipse cx="145.9" cy="220.0" rx="1.3" ry=".6" opacity=".22"/>
<ellipse cx="164.4" cy="236.4" rx=".9" ry=".8" opacity=".30"/>
<ellipse cx="137.5" cy="227.4" rx="1.0" ry=".5" opacity=".22"/>
<ellipse cx="172.4" cy="233.4" rx=".8" ry=".5" opacity=".20"/>
<ellipse cx="179.3" cy="211.1" rx=".6" ry=".7" opacity=".06"/>
<ellipse cx="132.8" cy="223.4" rx=".8" ry=".5" opacity=".28"/>
<ellipse cx="127.1" cy="241.6" rx="1.3" ry=".4" opacity=".26"/>
<ellipse cx="136.4" cy="226.0" rx="1.0" ry=".6" opacity=".21"/>
<ellipse cx="154.1" cy="236.7" rx=".7" ry=".5" opacity=".24"/>
<ellipse cx="161.1" cy="197.9" rx="1.1" ry=".7" opacity=".10"/>
<ellipse cx="167.6" cy="215.3" rx="1.4" ry=".8" opacity=".14"/>
<ellipse cx="140.5" cy="229.1" rx="1.5" ry=".8" opacity=".12"/>
<ellipse cx="135.6" cy="215.8" rx="1.3" ry=".5" opacity=".11"/>
<ellipse cx="173.4" cy="198.5" rx=".6" ry=".6" opacity=".17"/>
<ellipse cx="121.5" cy="232.1" rx=".7" ry=".7" opacity=".41"/>
<ellipse cx="182.1" cy="232.9" rx="1.3" ry=".6" opacity=".20"/>
<ellipse cx="132.4" cy="231.5" rx=".6" ry=".4" opacity=".10"/>
<ellipse cx="155.5" cy="202.3" rx=".7" ry=".5" opacity=".11"/>
<ellipse cx="173.9" cy="218.7" rx="1.5" ry=".8" opacity=".08"/>
<ellipse cx="124.3" cy="235.3" rx="1.3" ry=".5" opacity=".25"/>
<ellipse cx="153.2" cy="215.7" rx=".9" ry=".6" opacity=".08"/>
<ellipse cx="165.1" cy="225.4" rx="1.0" ry=".7" opacity=".17"/>
<ellipse cx="132.8" cy="213.0" rx=".7" ry=".6" opacity=".09"/>
<ellipse cx="177.3" cy="227.4" rx="1.4" ry=".7" opacity=".15"/>
<ellipse cx="158.6" cy="199.6" rx="1.0" ry=".8" opacity=".23"/>
<ellipse cx="136.9" cy="240.1" rx="1.3" ry=".7" opacity=".21"/>
<ellipse cx="177.5" cy="208.1" rx="1.4" ry=".7" opacity=".22"/>
<ellipse cx="169.1" cy="201.7" rx=".6" ry=".5" opacity=".15"/>
<ellipse cx="121.1" cy="233.0" rx=".9" ry=".7" opacity=".31"/>
<ellipse cx="135.2" cy="240.0" rx=".9" ry=".7" opacity=".26"/>
<ellipse cx="154.4" cy="213.3" rx=".9" ry=".8" opacity=".25"/>
<ellipse cx="165.1" cy="223.3" rx=".5" ry=".6" opacity=".25"/>
<ellipse cx="136.7" cy="197.9" rx=".9" ry=".4" opacity=".11"/>
<ellipse cx="144.3" cy="229.1" rx="1.5" ry=".6" opacity=".23"/>
<ellipse cx="182.0" cy="226.6" rx="1.1" ry=".8" opacity=".19"/>
<ellipse cx="172.0" cy="237.2" rx="1.3" ry=".4" opacity=".28"/>
<ellipse cx="130.6" cy="229.1" rx="1.0" ry=".5" opacity=".25"/>
<ellipse cx="159.3" cy="242.9" rx=".9" ry=".6" opacity=".22"/>
<ellipse cx="143.7" cy="232.6" rx=".8" ry=".7" opacity=".24"/>
<ellipse cx="138.5" cy="217.9" rx=".5" ry=".5" opacity=".09"/>
<ellipse cx="130.4" cy="208.9" rx="1.3" ry=".6" opacity=".38"/>
<ellipse cx="168.1" cy="242.9" rx="1.5" ry=".4" opacity=".28"/>
<ellipse cx="147.8" cy="233.4" rx="1.0" ry=".8" opacity=".15"/>
<ellipse cx="153.7" cy="241.2" rx="1.0" ry=".8" opacity=".30"/>
<ellipse cx="158.9" cy="211.8" rx=".6" ry=".6" opacity=".19"/>
<ellipse cx="133.4" cy="236.7" rx=".6" ry=".6" opacity=".30"/>
<ellipse cx="149.4" cy="225.9" rx=".8" ry=".6" opacity=".19"/>
<ellipse cx="170.0" cy="197.9" rx="1.5" ry=".7" opacity=".09"/>
<ellipse cx="127.7" cy="211.0" rx="1.4" ry=".7" opacity=".29"/>
<ellipse cx="143.3" cy="217.5" rx="1.1" ry=".6" opacity=".27"/>
<ellipse cx="168.4" cy="241.5" rx=".7" ry=".5" opacity=".30"/>
<ellipse cx="178.7" cy="223.3" rx=".6" ry=".5" opacity=".15"/>
<ellipse cx="160.1" cy="217.6" rx=".6" ry=".6" opacity=".09"/>
<ellipse cx="125.9" cy="212.5" rx="1.2" ry=".5" opacity=".25"/>
<ellipse cx="133.8" cy="204.5" rx=".9" ry=".7" opacity=".32"/>
<ellipse cx="125.1" cy="239.1" rx="1.2" ry=".7" opacity=".16"/>
<ellipse cx="147.4" cy="237.9" rx=".8" ry=".7" opacity=".18"/>
<ellipse cx="162.0" cy="232.8" rx="1.1" ry=".7" opacity=".30"/>
<ellipse cx="147.6" cy="219.6" rx=".9" ry=".4" opacity=".33"/>
<ellipse cx="125.4" cy="236.1" rx="1.0" ry=".7" opacity=".19"/>
<ellipse cx="169.8" cy="229.4" rx=".6" ry=".5" opacity=".22"/>
<ellipse cx="125.6" cy="212.9" rx="1.2" ry=".5" opacity=".14"/>
<ellipse cx="143.2" cy="241.7" rx="1.3" ry=".5" opacity=".11"/>
<ellipse cx="165.6" cy="197.9" rx="1.5" ry=".8" opacity=".13"/>
<ellipse cx="171.6" cy="207.1" rx=".8" ry=".5" opacity=".15"/>
<ellipse cx="179.9" cy="228.8" rx=".9" ry=".5" opacity=".13"/>
<ellipse cx="145.6" cy="213.9" rx=".9" ry=".5" opacity=".24"/>
<ellipse cx="171.2" cy="197.9" rx="1.1" ry=".5" opacity=".18"/>
<ellipse cx="176.5" cy="213.7" rx=".8" ry=".4" opacity=".17"/>
<ellipse cx="155.1" cy="197.9" rx="1.2" ry=".7" opacity=".07"/>
<ellipse cx="155.2" cy="205.4" rx="1.3" ry=".4" opacity=".09"/>
<ellipse cx="167.4" cy="225.2" rx="1.2" ry=".5" opacity=".25"/>
<ellipse cx="161.7" cy="216.9" rx=".8" ry=".5" opacity=".26"/>
<ellipse cx="153.6" cy="221.7" rx=".9" ry=".8" opacity=".26"/>
<ellipse cx="151.8" cy="206.4" rx="1.1" ry=".7" opacity=".26"/>
<ellipse cx="178.7" cy="198.2" rx="1.2" ry=".7" opacity=".18"/>
<ellipse cx="173.5" cy="234.4" rx="1.4" ry=".8" opacity=".21"/>
<ellipse cx="153.8" cy="214.1" rx=".9" ry=".6" opacity=".11"/>
<ellipse cx="167.6" cy="197.9" rx="1.5" ry=".6" opacity=".08"/>
<ellipse cx="133.4" cy="210.0" rx="1.5" ry=".4" opacity=".18"/>
<ellipse cx="127.7" cy="225.7" rx="1.2" ry=".7" opacity=".15"/>
<ellipse cx="124.4" cy="202.4" rx="1.5" ry=".4" opacity=".11"/>
<ellipse cx="132.2" cy="225.2" rx=".7" ry=".5" opacity=".32"/>
<ellipse cx="158.3" cy="221.9" rx=".8" ry=".5" opacity=".27"/>
<ellipse cx="140.3" cy="229.3" rx="1.1" ry=".7" opacity=".23"/>
<ellipse cx="137.0" cy="242.9" rx=".9" ry=".6" opacity=".38"/>
<ellipse cx="151.1" cy="200.2" rx=".7" ry=".4" opacity=".28"/>
<ellipse cx="171.5" cy="207.5" rx="1.0" ry=".5" opacity=".29"/>
<ellipse cx="162.3" cy="231.8" rx=".7" ry=".4" opacity=".19"/>
<ellipse cx="144.1" cy="226.8" rx="1.1" ry=".5" opacity=".12"/>
<ellipse cx="140.9" cy="199.2" rx=".8" ry=".7" opacity=".19"/>
<ellipse cx="161.0" cy="231.4" rx="1.1" ry=".5" opacity=".27"/>
<ellipse cx="120.5" cy="219.9" rx="1.4" ry=".7" opacity=".38"/>
<ellipse cx="125.7" cy="217.6" rx=".6" ry=".6" opacity=".25"/>
<ellipse cx="181.3" cy="242.5" rx="1.1" ry=".7" opacity=".12"/>
<ellipse cx="170.7" cy="197.9" rx=".6" ry=".7" opacity=".09"/>
<ellipse cx="155.0" cy="236.0" rx="1.1" ry=".5" opacity=".30"/>
<ellipse cx="140.2" cy="218.3" rx=".8" ry=".6" opacity=".30"/>
<ellipse cx="143.3" cy="225.6" rx="1.2" ry=".4" opacity=".20"/>
<ellipse cx="149.8" cy="242.9" rx="1.2" ry=".4" opacity=".18"/>
<ellipse cx="165.6" cy="214.9" rx=".7" ry=".6" opacity=".18"/>
<ellipse cx="121.1" cy="242.9" rx=".7" ry=".6" opacity=".19"/>
<ellipse cx="144.4" cy="219.1" rx="1.1" ry=".5" opacity=".18"/>
<ellipse cx="145.4" cy="215.0" rx=".7" ry=".7" opacity=".17"/>
<ellipse cx="180.6" cy="211.0" rx="1.1" ry=".7" opacity=".13"/>
<ellipse cx="173.1" cy="226.9" rx=".6" ry=".7" opacity=".22"/>
<ellipse cx="131.9" cy="224.6" rx=".9" ry=".7" opacity=".28"/>
<ellipse cx="126.1" cy="221.6" rx=".6" ry=".6" opacity=".11"/>
<ellipse cx="179.0" cy="228.5" rx=".9" ry=".6" opacity=".20"/>
<ellipse cx="169.2" cy="226.4" rx=".8" ry=".6" opacity=".07"/>
<ellipse cx="145.9" cy="207.9" rx="1.2" ry=".8" opacity=".30"/>
<ellipse cx="162.5" cy="218.3" rx=".8" ry=".5" opacity=".23"/>
<ellipse cx="127.2" cy="218.7" rx=".9" ry=".6" opacity=".35"/>
<ellipse cx="173.0" cy="214.1" rx="1.3" ry=".8" opacity=".19"/>
<ellipse cx="142.9" cy="215.1" rx="1.0" ry=".5" opacity=".29"/>
<ellipse cx="183.3" cy="198.3" rx="1.4" ry=".5" opacity=".19"/>
<ellipse cx="160.3" cy="218.2" rx=".7" ry=".4" opacity=".13"/>
<ellipse cx="157.1" cy="216.3" rx="1.5" ry=".5" opacity=".19"/>
<ellipse cx="128.3" cy="208.5" rx="1.5" ry=".5" opacity=".38"/>
<ellipse cx="155.0" cy="203.7" rx=".8" ry=".8" opacity=".30"/>
<ellipse cx="172.5" cy="213.7" rx="1.1" ry=".4" opacity=".25"/>
<ellipse cx="138.8" cy="228.7" rx="1.1" ry=".7" opacity=".14"/>
<ellipse cx="155.3" cy="214.1" rx=".6" ry=".4" opacity=".12"/>
<ellipse cx="183.3" cy="239.5" rx=".8" ry=".7" opacity=".21"/>
<ellipse cx="144.7" cy="212.8" rx="1.1" ry=".7" opacity=".08"/>
<ellipse cx="133.1" cy="212.8" rx=".9" ry=".6" opacity=".14"/>
<ellipse cx="153.5" cy="222.0" rx=".8" ry=".6" opacity=".16"/>
<ellipse cx="161.3" cy="240.7" rx=".6" ry=".8" opacity=".22"/>
<ellipse cx="150.3" cy="225.3" rx=".9" ry=".6" opacity=".27"/>
<ellipse cx="168.7" cy="220.6" rx="1.5" ry=".7" opacity=".27"/>
<ellipse cx="146.5" cy="204.2" rx="1.0" ry=".6" opacity=".31"/>
<ellipse cx="153.9" cy="205.6" rx="1.4" ry=".5" opacity=".08"/>
<ellipse cx="166.6" cy="218.1" rx="1.4" ry=".7" opacity=".21"/>
<ellipse cx="168.3" cy="214.0" rx=".6" ry=".4" opacity=".17"/>
<ellipse cx="152.4" cy="238.1" rx=".9" ry=".4" opacity=".26"/>
<ellipse cx="153.9" cy="221.2" rx=".9" ry=".5" opacity=".09"/>
<ellipse cx="178.4" cy="232.4" rx="1.5" ry=".7" opacity=".25"/>
<ellipse cx="147.2" cy="223.8" rx="1.3" ry=".6" opacity=".34"/>
<ellipse cx="126.7" cy="211.1" rx="1.3" ry=".4" opacity=".27"/>
<ellipse cx="181.0" cy="230.9" rx=".8" ry=".5" opacity=".07"/>
<ellipse cx="177.4" cy="220.4" rx="1.4" ry=".6" opacity=".14"/>
<ellipse cx="157.7" cy="223.8" rx="1.4" ry=".5" opacity=".20"/>
<ellipse cx="179.9" cy="221.4" rx="1.5" ry=".6" opacity=".10"/>
<ellipse cx="139.2" cy="242.9" rx=".7" ry=".7" opacity=".19"/>
<ellipse cx="150.5" cy="206.4" rx=".7" ry=".8" opacity=".34"/>
<ellipse cx="133.3" cy="214.2" rx="1.4" ry=".4" opacity=".12"/>
<ellipse cx="166.6" cy="213.6" rx=".8" ry=".8" opacity=".28"/>
<ellipse cx="165.8" cy="234.7" rx="1.5" ry=".6" opacity=".08"/>
<ellipse cx="134.6" cy="236.6" rx=".8" ry=".7" opacity=".15"/>
<ellipse cx="131.9" cy="222.3" rx="1.3" ry=".5" opacity=".30"/>
<ellipse cx="176.7" cy="241.1" rx="1.1" ry=".5" opacity=".13"/>
<ellipse cx="179.4" cy="214.8" rx="1.2" ry=".4" opacity=".27"/>
<ellipse cx="148.4" cy="210.6" rx="1.1" ry=".6" opacity=".09"/>
<ellipse cx="158.6" cy="218.1" rx="1.3" ry=".4" opacity=".14"/>
<ellipse cx="168.5" cy="230.8" rx=".8" ry=".5" opacity=".20"/>
<ellipse cx="132.3" cy="242.9" rx=".5" ry=".6" opacity=".33"/>
<ellipse cx="144.9" cy="197.9" rx="1.5" ry=".6" opacity=".10"/>
<ellipse cx="155.8" cy="212.3" rx="1.2" ry=".7" opacity=".21"/>
<ellipse cx="152.6" cy="209.9" rx="1.4" ry=".7" opacity=".22"/>
<ellipse cx="181.0" cy="231.6" rx=".7" ry=".6" opacity=".11"/>
<ellipse cx="148.5" cy="242.1" rx="1.3" ry=".7" opacity=".30"/>
<ellipse cx="135.4" cy="210.5" rx="1.1" ry=".6" opacity=".09"/>
<ellipse cx="158.4" cy="221.1" rx="1.2" ry=".6" opacity=".30"/>
<ellipse cx="131.9" cy="221.9" rx="1.0" ry=".6" opacity=".23"/>
<ellipse cx="137.1" cy="222.6" rx="1.3" ry=".4" opacity=".36"/>
<ellipse cx="156.6" cy="197.9" rx=".7" ry=".5" opacity=".12"/>
<ellipse cx="123.1" cy="213.7" rx=".8" ry=".6" opacity=".27"/>
<ellipse cx="137.3" cy="215.3" rx="1.4" ry=".5" opacity=".16"/>
<ellipse cx="130.6" cy="217.2" rx="1.2" ry=".7" opacity=".34"/>
<ellipse cx="124.3" cy="209.1" rx=".7" ry=".8" opacity=".10"/>
<ellipse cx="151.6" cy="227.5" rx="1.3" ry=".8" opacity=".11"/>
<ellipse cx="149.4" cy="220.3" rx=".7" ry=".8" opacity=".12"/>
<ellipse cx="145.4" cy="216.4" rx=".8" ry=".6" opacity=".10"/>
<ellipse cx="122.6" cy="242.9" rx="1.3" ry=".5" opacity=".18"/>
<ellipse cx="155.6" cy="219.8" rx=".8" ry=".6" opacity=".32"/>
<ellipse cx="143.6" cy="199.8" rx="1.1" ry=".4" opacity=".16"/>
<ellipse cx="161.8" cy="242.9" rx=".6" ry=".5" opacity=".24"/>
<ellipse cx="175.5" cy="197.9" rx="1.0" ry=".6" opacity=".19"/>
<ellipse cx="144.7" cy="204.6" rx="1.3" ry=".5" opacity=".16"/>
<ellipse cx="132.1" cy="212.4" rx=".7" ry=".5" opacity=".24"/>
<ellipse cx="140.1" cy="217.8" rx="1.0" ry=".8" opacity=".29"/>
<ellipse cx="175.4" cy="224.3" rx=".6" ry=".7" opacity=".14"/>
<ellipse cx="137.9" cy="233.6" rx=".5" ry=".5" opacity=".16"/>
<ellipse cx="145.4" cy="240.1" rx=".8" ry=".5" opacity=".12"/>
<ellipse cx="180.1" cy="210.1" rx=".9" ry=".7" opacity=".21"/>
<ellipse cx="178.2" cy="232.7" rx=".9" ry=".4" opacity=".25"/>
<ellipse cx="141.1" cy="222.0" rx="1.3" ry=".6" opacity=".10"/>
<ellipse cx="145.5" cy="220.7" rx=".7" ry=".6" opacity=".09"/>
<ellipse cx="140.3" cy="224.4" rx=".9" ry=".6" opacity=".12"/>
<ellipse cx="165.4" cy="218.9" rx="1.2" ry=".5" opacity=".12"/>
<ellipse cx="138.3" cy="242.9" rx="1.2" ry=".6" opacity=".20"/>
<ellipse cx="175.6" cy="222.1" rx=".9" ry=".5" opacity=".07"/>
<ellipse cx="122.0" cy="231.9" rx="1.2" ry=".6" opacity=".37"/>
<ellipse cx="182.5" cy="214.2" rx="1.5" ry=".5" opacity=".20"/>
<ellipse cx="162.9" cy="240.4" rx="1.5" ry=".7" opacity=".13"/>
<ellipse cx="160.7" cy="232.9" rx=".9" ry=".4" opacity=".17"/>
<ellipse cx="141.3" cy="228.3" rx="1.0" ry=".5" opacity=".13"/>
<ellipse cx="146.0" cy="212.0" rx="1.2" ry=".5" opacity=".10"/>
<ellipse cx="142.2" cy="221.7" rx=".9" ry=".5" opacity=".25"/>
<ellipse cx="165.1" cy="199.8" rx=".5" ry=".6" opacity=".13"/>
<ellipse cx="124.4" cy="213.3" rx=".9" ry=".4" opacity=".26"/>
<ellipse cx="157.7" cy="208.2" rx=".8" ry=".4" opacity=".16"/>
<ellipse cx="177.2" cy="222.8" rx="1.1" ry=".5" opacity=".21"/>
<ellipse cx="132.2" cy="201.4" rx="1.5" ry=".5" opacity=".23"/>
<ellipse cx="180.4" cy="224.1" rx="1.3" ry=".7" opacity=".19"/>
<ellipse cx="146.6" cy="210.7" rx="1.4" ry=".8" opacity=".19"/>
<ellipse cx="178.3" cy="226.1" rx=".5" ry=".5" opacity=".17"/>
<ellipse cx="140.1" cy="197.9" rx=".7" ry=".5" opacity=".12"/>
<ellipse cx="163.7" cy="242.9" rx=".7" ry=".4" opacity=".20"/>
<ellipse cx="145.5" cy="221.5" rx="1.2" ry=".6" opacity=".26"/>
<ellipse cx="156.1" cy="236.7" rx="1.4" ry=".8" opacity=".16"/>
<ellipse cx="142.5" cy="229.6" rx="1.3" ry=".7" opacity=".28"/>
<ellipse cx="181.8" cy="212.4" rx="1.4" ry=".5" opacity=".19"/>
<ellipse cx="151.7" cy="208.0" rx=".8" ry=".7" opacity=".22"/>
<ellipse cx="135.5" cy="215.1" rx=".8" ry=".5" opacity=".14"/>
<ellipse cx="153.1" cy="224.0" rx=".6" ry=".4" opacity=".27"/>
<ellipse cx="127.6" cy="224.0" rx="1.0" ry=".7" opacity=".25"/>
<ellipse cx="130.8" cy="239.3" rx=".6" ry=".5" opacity=".25"/>
<ellipse cx="171.1" cy="199.3" rx=".9" ry=".7" opacity=".10"/>
<ellipse cx="166.0" cy="214.5" rx="1.3" ry=".7" opacity=".27"/>
<ellipse cx="156.5" cy="231.6" rx=".9" ry=".7" opacity=".24"/>
<ellipse cx="173.3" cy="222.7" rx=".9" ry=".7" opacity=".11"/>
<ellipse cx="132.2" cy="213.5" rx=".5" ry=".6" opacity=".39"/>
<ellipse cx="182.2" cy="234.7" rx=".9" ry=".7" opacity=".14"/>
<ellipse cx="179.9" cy="236.4" rx="1.5" ry=".4" opacity=".21"/>
<ellipse cx="127.9" cy="231.5" rx="1.3" ry=".8" opacity=".13"/>
<ellipse cx="141.4" cy="223.4" rx=".5" ry=".6" opacity=".22"/>
<ellipse cx="144.2" cy="211.2" rx="1.4" ry=".5" opacity=".19"/>
<ellipse cx="159.8" cy="242.9" rx="1.3" ry=".8" opacity=".17"/>
<ellipse cx="164.6" cy="197.9" rx=".7" ry=".5" opacity=".07"/>
<ellipse cx="179.9" cy="213.2" rx=".8" ry=".6" opacity=".08"/>
<ellipse cx="141.0" cy="238.4" rx=".6" ry=".7" opacity=".16"/>
<ellipse cx="134.9" cy="222.6" rx="1.0" ry=".5" opacity=".17"/>
<ellipse cx="123.7" cy="242.9" rx=".8" ry=".4" opacity=".15"/>
<ellipse cx="151.2" cy="232.1" rx="1.5" ry=".5" opacity=".32"/>
<ellipse cx="151.2" cy="198.5" rx=".9" ry=".4" opacity=".18"/>
<ellipse cx="162.2" cy="233.4" rx="1.2" ry=".5" opacity=".31"/>
<ellipse cx="175.5" cy="235.6" rx="1.4" ry=".7" opacity=".10"/>
<ellipse cx="122.1" cy="219.9" rx=".7" ry=".4" opacity=".12"/>
<ellipse cx="143.3" cy="220.7" rx="1.0" ry=".4" opacity=".14"/>
<ellipse cx="181.5" cy="208.3" rx=".5" ry=".6" opacity=".22"/>
<ellipse cx="170.9" cy="219.1" rx="1.3" ry=".7" opacity=".24"/>
<ellipse cx="183.2" cy="206.3" rx=".6" ry=".8" opacity=".13"/>
<ellipse cx="165.3" cy="220.3" rx=".5" ry=".6" opacity=".12"/>
<ellipse cx="145.1" cy="242.9" rx=".9" ry=".7" opacity=".31"/>
<ellipse cx="143.6" cy="211.9" rx=".8" ry=".8" opacity=".17"/>
<ellipse cx="126.4" cy="210.4" rx=".8" ry=".7" opacity=".16"/>
<ellipse cx="167.7" cy="200.1" rx=".7" ry=".4" opacity=".08"/>
<ellipse cx="142.7" cy="214.3" rx="1.0" ry=".4" opacity=".23"/>
<ellipse cx="146.1" cy="212.8" rx="1.5" ry=".5" opacity=".33"/>
<ellipse cx="140.8" cy="236.1" rx="1.3" ry=".4" opacity=".38"/>
<ellipse cx="147.8" cy="230.0" rx=".9" ry=".7" opacity=".13"/>
<ellipse cx="137.8" cy="218.1" rx="1.2" ry=".8" opacity=".18"/>
<ellipse cx="132.1" cy="197.9" rx=".7" ry=".7" opacity=".16"/>
<ellipse cx="161.4" cy="242.9" rx=".7" ry=".6" opacity=".29"/>
<ellipse cx="174.9" cy="208.9" rx="1.1" ry=".4" opacity=".25"/>
<ellipse cx="164.3" cy="208.4" rx="1.0" ry=".7" opacity=".17"/>
<ellipse cx="144.9" cy="222.8" rx="1.1" ry=".6" opacity=".09"/>
<ellipse cx="160.4" cy="239.3" rx="1.0" ry=".6" opacity=".22"/>
<ellipse cx="179.7" cy="229.5" rx="1.5" ry=".7" opacity=".12"/>
<ellipse cx="167.3" cy="233.3" rx="1.5" ry=".6" opacity=".27"/>
<ellipse cx="128.5" cy="236.7" rx=".7" ry=".7" opacity=".30"/>
<ellipse cx="180.1" cy="219.4" rx="1.4" ry=".7" opacity=".17"/>
<ellipse cx="183.7" cy="242.9" rx="1.2" ry=".5" opacity=".22"/>
<ellipse cx="149.3" cy="231.6" rx="1.1" ry=".7" opacity=".13"/>
<ellipse cx="138.2" cy="217.0" rx="1.1" ry=".7" opacity=".23"/>
<ellipse cx="135.8" cy="216.1" rx="1.3" ry=".7" opacity=".32"/>
<ellipse cx="155.4" cy="241.2" rx=".7" ry=".5" opacity=".10"/>
<ellipse cx="122.7" cy="206.4" rx=".9" ry=".7" opacity=".36"/>
<ellipse cx="127.9" cy="226.2" rx="1.4" ry=".6" opacity=".39"/>
<ellipse cx="125.0" cy="233.1" rx="1.5" ry=".5" opacity=".30"/>
<ellipse cx="176.2" cy="219.1" rx="1.2" ry=".6" opacity=".06"/>
<ellipse cx="142.0" cy="211.2" rx=".8" ry=".7" opacity=".16"/>
<ellipse cx="158.8" cy="217.4" rx=".6" ry=".7" opacity=".19"/>
<ellipse cx="128.6" cy="212.1" rx=".6" ry=".8" opacity=".29"/>
<ellipse cx="143.2" cy="235.5" rx="1.2" ry=".7" opacity=".19"/>
<ellipse cx="140.2" cy="242.9" rx=".9" ry=".5" opacity=".27"/>
<ellipse cx="147.5" cy="226.5" rx="1.0" ry=".6" opacity=".35"/>
<ellipse cx="142.5" cy="207.4" rx="1.2" ry=".5" opacity=".24"/>
<ellipse cx="138.5" cy="228.4" rx="1.4" ry=".7" opacity=".22"/>
<ellipse cx="179.9" cy="212.1" rx=".9" ry=".7" opacity=".19"/>
<ellipse cx="149.0" cy="233.9" rx=".8" ry=".6" opacity=".35"/>
<ellipse cx="139.1" cy="226.1" rx="1.2" ry=".7" opacity=".16"/>
<ellipse cx="146.6" cy="240.5" rx=".8" ry=".6" opacity=".18"/>
<ellipse cx="172.7" cy="242.4" rx="1.4" ry=".6" opacity=".19"/>
<ellipse cx="126.7" cy="225.2" rx=".9" ry=".5" opacity=".33"/>
<ellipse cx="163.0" cy="216.7" rx=".9" ry=".8" opacity=".31"/>
<ellipse cx="121.9" cy="209.8" rx=".9" ry=".6" opacity=".20"/>
<ellipse cx="163.1" cy="208.7" rx="1.1" ry=".8" opacity=".31"/>
<ellipse cx="183.6" cy="199.5" rx="1.2" ry=".7" opacity=".21"/>
<ellipse cx="124.6" cy="236.5" rx="1.0" ry=".6" opacity=".31"/>
<ellipse cx="134.3" cy="230.0" rx=".9" ry=".5" opacity=".21"/>
<ellipse cx="167.7" cy="219.8" rx=".6" ry=".5" opacity=".22"/>
<ellipse cx="160.1" cy="219.9" rx="1.4" ry=".7" opacity=".27"/>
<ellipse cx="128.0" cy="209.7" rx="1.0" ry=".4" opacity=".37"/>
<ellipse cx="180.6" cy="222.9" rx=".9" ry=".6" opacity=".17"/>
<ellipse cx="127.5" cy="218.5" rx="1.3" ry=".5" opacity=".26"/>
<ellipse cx="128.3" cy="213.7" rx=".6" ry=".6" opacity=".18"/>
<ellipse cx="169.9" cy="217.3" rx=".8" ry=".6" opacity=".08"/>
<ellipse cx="134.3" cy="203.3" rx="1.0" ry=".7" opacity=".10"/>
<ellipse cx="174.6" cy="225.8" rx=".7" ry=".8" opacity=".18"/>
<ellipse cx="146.3" cy="199.0" rx="1.5" ry=".6" opacity=".06"/>
<ellipse cx="130.2" cy="202.2" rx="1.4" ry=".7" opacity=".27"/>
<ellipse cx="130.4" cy="217.1" rx=".6" ry=".5" opacity=".40"/>
<ellipse cx="161.4" cy="219.7" rx="1.4" ry=".4" opacity=".17"/>
<ellipse cx="125.4" cy="219.9" rx="1.5" ry=".5" opacity=".25"/>
<ellipse cx="162.1" cy="227.2" rx="1.4" ry=".8" opacity=".21"/>
<ellipse cx="152.3" cy="232.0" rx=".8" ry=".7" opacity=".14"/>
<ellipse cx="143.8" cy="212.4" rx=".9" ry=".6" opacity=".18"/>
<ellipse cx="147.8" cy="216.1" rx="1.4" ry=".4" opacity=".23"/>
<ellipse cx="155.3" cy="221.8" rx=".9" ry=".5" opacity=".10"/>
<ellipse cx="144.1" cy="214.0" rx=".7" ry=".7" opacity=".22"/>
<ellipse cx="121.0" cy="235.2" rx=".9" ry=".8" opacity=".09"/>
<ellipse cx="158.2" cy="233.4" rx="1.1" ry=".5" opacity=".15"/>
<ellipse cx="159.2" cy="217.1" rx="1.1" ry=".5" opacity=".20"/>
<ellipse cx="153.3" cy="220.5" rx=".6" ry=".5" opacity=".15"/>
<ellipse cx="171.1" cy="215.8" rx=".9" ry=".7" opacity=".16"/>
<ellipse cx="138.6" cy="217.9" rx="1.5" ry=".7" opacity=".18"/>
<ellipse cx="140.6" cy="215.0" rx="1.4" ry=".7" opacity=".27"/>
<ellipse cx="124.0" cy="220.8" rx="1.2" ry=".6" opacity=".40"/>
<ellipse cx="161.1" cy="216.0" rx=".5" ry=".8" opacity=".26"/>
<ellipse cx="157.3" cy="242.9" rx=".9" ry=".7" opacity=".33"/>
<ellipse cx="178.8" cy="221.2" rx=".6" ry=".7" opacity=".15"/>
<ellipse cx="168.3" cy="209.4" rx="1.0" ry=".4" opacity=".14"/>
<ellipse cx="167.2" cy="231.0" rx=".6" ry=".4" opacity=".27"/>
<ellipse cx="162.8" cy="213.8" rx=".6" ry=".5" opacity=".31"/>
<ellipse cx="156.1" cy="218.4" rx="1.5" ry=".5" opacity=".18"/>
<ellipse cx="154.6" cy="224.2" rx="1.4" ry=".6" opacity=".08"/>
<ellipse cx="147.9" cy="214.3" rx=".9" ry=".7" opacity=".34"/>
<ellipse cx="151.8" cy="215.2" rx="1.3" ry=".4" opacity=".28"/>
<ellipse cx="131.0" cy="207.5" rx="1.1" ry=".5" opacity=".19"/>
<ellipse cx="130.8" cy="209.4" rx="1.0" ry=".6" opacity=".27"/>
<ellipse cx="174.1" cy="235.6" rx=".9" ry=".6" opacity=".17"/>
<ellipse cx="182.9" cy="210.2" rx=".7" ry=".5" opacity=".21"/>
<ellipse cx="157.0" cy="239.6" rx=".8" ry=".4" opacity=".29"/>
<ellipse cx="144.5" cy="217.3" rx="1.1" ry=".6" opacity=".36"/>
<ellipse cx="178.3" cy="205.8" rx="1.0" ry=".6" opacity=".10"/>
<ellipse cx="168.4" cy="230.0" rx="1.4" ry=".4" opacity=".23"/>
<ellipse cx="156.6" cy="227.6" rx="1.1" ry=".5" opacity=".11"/>
<ellipse cx="181.0" cy="222.7" rx=".6" ry=".7" opacity=".10"/>
<ellipse cx="133.1" cy="197.9" rx="1.1" ry=".6" opacity=".09"/>
<ellipse cx="169.1" cy="197.9" rx="1.5" ry=".7" opacity=".12"/>
<ellipse cx="181.0" cy="205.5" rx="1.3" ry=".5" opacity=".22"/>
<ellipse cx="166.7" cy="219.4" rx=".5" ry=".6" opacity=".13"/>
<ellipse cx="139.1" cy="231.0" rx=".8" ry=".5" opacity=".23"/>
<ellipse cx="137.8" cy="217.9" rx="1.0" ry=".7" opacity=".13"/>
<ellipse cx="175.2" cy="231.4" rx="1.4" ry=".6" opacity=".18"/>
<ellipse cx="167.2" cy="200.3" rx="1.5" ry=".7" opacity=".10"/>
<ellipse cx="123.9" cy="216.0" rx="1.5" ry=".5" opacity=".36"/>
<ellipse cx="123.6" cy="214.3" rx="1.4" ry=".7" opacity=".48"/>
<ellipse cx="126.1" cy="220.4" rx="1.2" ry=".7" opacity=".48"/>
<ellipse cx="122.3" cy="204.5" rx="1.0" ry=".6" opacity=".34"/>
<ellipse cx="149.7" cy="215.3" rx="1.4" ry=".7" opacity=".48"/>
<ellipse cx="160.5" cy="216.7" rx="1.9" ry=".8" opacity=".48"/>
<ellipse cx="144.0" cy="217.6" rx="1.1" ry=".7" opacity=".46"/>
<ellipse cx="142.7" cy="227.9" rx="1.1" ry=".9" opacity=".48"/>
<ellipse cx="158.6" cy="227.0" rx="1.7" ry=".8" opacity=".48"/>
<ellipse cx="149.1" cy="232.1" rx="1.4" ry=".7" opacity=".46"/>
<ellipse cx="133.1" cy="234.4" rx="1.0" ry=".6" opacity=".38"/>
<ellipse cx="158.6" cy="239.6" rx="1.1" ry=".6" opacity=".38"/>
<ellipse cx="140.1" cy="222.3" rx="1.2" ry=".6" opacity=".38"/>
<ellipse cx="131.2" cy="228.4" rx="1.0" ry=".6" opacity=".36"/>
<ellipse cx="172.0" cy="225.5" rx="1.1" ry=".6" opacity=".34"/>
<ellipse cx="174.5" cy="233.0" rx="1.0" ry=".6" opacity=".34"/>
<ellipse cx="141.4" cy="199.3" rx="1.2" ry=".6" opacity=".38"/>
<ellipse cx="161.8" cy="201.2" rx="1.1" ry=".5" opacity=".34"/>
<ellipse cx="148.4" cy="202.1" rx="1.0" ry=".5" opacity=".34"/>
<ellipse cx="170.7" cy="207.3" rx="1.0" ry=".5" opacity=".31"/>
<ellipse cx="126.8" cy="238.7" rx="1.0" ry=".6" opacity=".34"/>
<ellipse cx="136.3" cy="211.5" rx="1.0" ry=".5" opacity=".34"/>
<ellipse cx="180.3" cy="208.7" rx=".9" ry=".5" opacity=".29"/>
<ellipse cx="169.4" cy="218.1" rx="1.1" ry=".6" opacity=".34"/>
<ellipse cx="154.8" cy="235.4" rx="1.0" ry=".6" opacity=".34"/>
<ellipse cx="179.0" cy="240.1" rx="1.0" ry=".6" opacity=".34"/>
<ellipse cx="165.0" cy="211.0" rx=".9" ry=".5" opacity=".29"/>
<ellipse cx="153.5" cy="222.7" rx="1.0" ry=".5" opacity=".34"/>
<ellipse cx="128.0" cy="225.1" rx=".9" ry=".5" opacity=".29"/>
<ellipse cx="166.3" cy="230.7" rx=".9" ry=".5" opacity=".29"/>
<ellipse cx="145.9" cy="210.1" rx=".9" ry=".5" opacity=".29"/>
</g></g>
<g clip-path="url(#cC02)" fill="#fff">
<rect x="185.3" y="197.0" width="63.6" height="46.8" fill="rgb(8,8,8)"/>
<g filter="url(#b05)">
<ellipse cx="214.1" cy="197.9" rx="1.1" ry=".6" opacity=".30"/>
<ellipse cx="197.0" cy="208.7" rx="1.2" ry=".7" opacity=".55"/>
<ellipse cx="191.3" cy="218.4" rx="1.6" ry=".7" opacity=".17"/>
<ellipse cx="247.8" cy="226.2" rx="1.8" ry=".7" opacity=".30"/>
<ellipse cx="195.3" cy="237.5" rx=".6" ry=".5" opacity=".27"/>
<ellipse cx="187.2" cy="222.0" rx="1.1" ry=".6" opacity=".61"/>
<ellipse cx="218.3" cy="209.9" rx="1.4" ry=".6" opacity=".24"/>
<ellipse cx="248.8" cy="207.6" rx="1.8" ry=".7" opacity=".32"/>
<ellipse cx="205.4" cy="221.9" rx=".7" ry=".7" opacity=".33"/>
<ellipse cx="239.1" cy="231.9" rx="1.0" ry=".8" opacity=".41"/>
<ellipse cx="185.3" cy="228.1" rx="1.2" ry=".8" opacity=".37"/>
<ellipse cx="189.9" cy="242.9" rx="1.3" ry=".7" opacity=".29"/>
<ellipse cx="190.8" cy="202.4" rx="1.5" ry=".4" opacity=".24"/>
<ellipse cx="191.7" cy="242.9" rx=".6" ry=".7" opacity=".24"/>
<ellipse cx="220.9" cy="211.8" rx="1.5" ry=".5" opacity=".39"/>
<ellipse cx="192.7" cy="223.4" rx="1.1" ry=".5" opacity=".29"/>
<ellipse cx="247.1" cy="224.3" rx="1.7" ry=".5" opacity=".22"/>
<ellipse cx="239.6" cy="209.1" rx="1.4" ry=".4" opacity=".46"/>
<ellipse cx="198.9" cy="219.1" rx="1.0" ry=".5" opacity=".17"/>
<ellipse cx="191.0" cy="242.9" rx="1.3" ry=".5" opacity=".47"/>
<ellipse cx="208.9" cy="197.9" rx="1.2" ry=".6" opacity=".42"/>
<ellipse cx="196.9" cy="230.7" rx=".8" ry=".8" opacity=".56"/>
<ellipse cx="201.2" cy="228.9" rx="1.7" ry=".5" opacity=".61"/>
<ellipse cx="241.4" cy="241.8" rx="1.3" ry=".6" opacity=".13"/>
<ellipse cx="187.8" cy="230.5" rx="1.4" ry=".5" opacity=".60"/>
<ellipse cx="223.2" cy="218.0" rx=".9" ry=".5" opacity=".42"/>
<ellipse cx="189.7" cy="222.8" rx="1.6" ry=".6" opacity=".30"/>
<ellipse cx="243.6" cy="238.2" rx=".8" ry=".4" opacity=".19"/>
<ellipse cx="213.6" cy="228.5" rx="1.0" ry=".6" opacity=".18"/>
<ellipse cx="208.3" cy="223.6" rx="1.7" ry=".8" opacity=".44"/>
<ellipse cx="229.3" cy="213.7" rx=".6" ry=".4" opacity=".47"/>
<ellipse cx="229.9" cy="216.5" rx="1.8" ry=".4" opacity=".36"/>
<ellipse cx="216.0" cy="218.9" rx="1.8" ry=".4" opacity=".37"/>
<ellipse cx="232.2" cy="208.2" rx="1.7" ry=".7" opacity=".38"/>
<ellipse cx="235.8" cy="231.7" rx="1.4" ry=".8" opacity=".43"/>
<ellipse cx="211.8" cy="213.7" rx="1.5" ry=".7" opacity=".39"/>
<ellipse cx="225.0" cy="206.7" rx="1.3" ry=".4" opacity=".36"/>
<ellipse cx="248.5" cy="232.9" rx="1.7" ry=".7" opacity=".22"/>
<ellipse cx="232.0" cy="207.2" rx="1.6" ry=".4" opacity=".39"/>
<ellipse cx="187.2" cy="213.0" rx="1.3" ry=".6" opacity=".28"/>
<ellipse cx="229.7" cy="201.0" rx="1.7" ry=".5" opacity=".09"/>
<ellipse cx="204.4" cy="220.7" rx="1.4" ry=".5" opacity=".21"/>
<ellipse cx="242.9" cy="212.3" rx="1.7" ry=".5" opacity=".33"/>
<ellipse cx="197.9" cy="207.6" rx="1.1" ry=".7" opacity=".59"/>
<ellipse cx="241.3" cy="206.5" rx="1.0" ry=".5" opacity=".26"/>
<ellipse cx="238.5" cy="232.7" rx="1.6" ry=".7" opacity=".45"/>
<ellipse cx="202.9" cy="227.9" rx=".9" ry=".5" opacity=".34"/>
<ellipse cx="225.1" cy="233.8" rx="1.2" ry=".5" opacity=".46"/>
<ellipse cx="247.8" cy="215.1" rx=".6" ry=".7" opacity=".10"/>
<ellipse cx="230.4" cy="222.0" rx="1.3" ry=".5" opacity=".42"/>
<ellipse cx="186.5" cy="230.6" rx=".6" ry=".7" opacity=".28"/>
<ellipse cx="194.3" cy="232.1" rx=".6" ry=".7" opacity=".38"/>
<ellipse cx="225.4" cy="206.1" rx="1.7" ry=".7" opacity=".18"/>
<ellipse cx="215.5" cy="199.3" rx=".8" ry=".4" opacity=".27"/>
<ellipse cx="230.7" cy="225.2" rx="1.0" ry=".7" opacity=".31"/>
<ellipse cx="224.4" cy="230.5" rx="1.5" ry=".6" opacity=".44"/>
<ellipse cx="242.9" cy="242.9" rx="1.5" ry=".5" opacity=".25"/>
<ellipse cx="225.1" cy="237.4" rx="1.7" ry=".6" opacity=".35"/>
<ellipse cx="241.2" cy="230.2" rx="1.1" ry=".7" opacity=".17"/>
<ellipse cx="231.2" cy="197.9" rx="1.6" ry=".7" opacity=".30"/>
<ellipse cx="198.9" cy="242.9" rx="1.8" ry=".6" opacity=".54"/>
<ellipse cx="205.7" cy="197.9" rx="1.7" ry=".7" opacity=".23"/>
<ellipse cx="190.6" cy="203.9" rx="1.5" ry=".6" opacity=".14"/>
<ellipse cx="236.8" cy="226.8" rx=".7" ry=".7" opacity=".16"/>
<ellipse cx="206.6" cy="222.2" rx=".8" ry=".6" opacity=".48"/>
<ellipse cx="238.7" cy="212.9" rx="1.4" ry=".8" opacity=".28"/>
<ellipse cx="245.7" cy="228.9" rx="1.2" ry=".5" opacity=".34"/>
<ellipse cx="225.9" cy="225.5" rx="1.2" ry=".7" opacity=".34"/>
<ellipse cx="205.1" cy="200.5" rx="1.7" ry=".5" opacity=".45"/>
<ellipse cx="246.9" cy="238.8" rx="1.2" ry=".6" opacity=".16"/>
<ellipse cx="219.4" cy="201.3" rx=".6" ry=".8" opacity=".29"/>
<ellipse cx="210.8" cy="220.0" rx="1.6" ry=".6" opacity=".36"/>
<ellipse cx="229.2" cy="236.4" rx="1.1" ry=".8" opacity=".48"/>
<ellipse cx="202.4" cy="227.4" rx="1.2" ry=".5" opacity=".35"/>
<ellipse cx="237.2" cy="233.4" rx="1.0" ry=".5" opacity=".33"/>
<ellipse cx="244.1" cy="211.1" rx=".7" ry=".7" opacity=".10"/>
<ellipse cx="197.6" cy="223.4" rx="1.0" ry=".5" opacity=".46"/>
<ellipse cx="192.0" cy="241.6" rx="1.5" ry=".4" opacity=".42"/>
<ellipse cx="201.2" cy="226.0" rx="1.1" ry=".6" opacity=".34"/>
<ellipse cx="219.0" cy="236.7" rx=".8" ry=".5" opacity=".39"/>
<ellipse cx="225.9" cy="197.9" rx="1.3" ry=".7" opacity=".16"/>
<ellipse cx="232.4" cy="215.3" rx="1.6" ry=".8" opacity=".23"/>
<ellipse cx="205.3" cy="229.1" rx="1.8" ry=".8" opacity=".20"/>
<ellipse cx="200.5" cy="215.8" rx="1.5" ry=".5" opacity=".18"/>
<ellipse cx="238.2" cy="198.5" rx=".7" ry=".6" opacity=".28"/>
<ellipse cx="186.4" cy="232.1" rx=".8" ry=".7" opacity=".66"/>
<ellipse cx="246.9" cy="232.9" rx="1.5" ry=".6" opacity=".32"/>
<ellipse cx="197.3" cy="231.5" rx=".7" ry=".4" opacity=".16"/>
<ellipse cx="220.4" cy="202.3" rx=".8" ry=".5" opacity=".18"/>
<ellipse cx="238.7" cy="218.7" rx="1.8" ry=".8" opacity=".13"/>
<ellipse cx="189.2" cy="235.3" rx="1.5" ry=".5" opacity=".40"/>
<ellipse cx="218.1" cy="215.7" rx="1.1" ry=".6" opacity=".12"/>
<ellipse cx="229.9" cy="225.4" rx="1.1" ry=".7" opacity=".27"/>
<ellipse cx="197.7" cy="213.0" rx=".8" ry=".6" opacity=".15"/>
<ellipse cx="242.1" cy="227.4" rx="1.6" ry=".7" opacity=".24"/>
<ellipse cx="223.4" cy="199.6" rx="1.2" ry=".8" opacity=".37"/>
<ellipse cx="201.7" cy="240.1" rx="1.5" ry=".7" opacity=".34"/>
<ellipse cx="242.3" cy="208.1" rx="1.7" ry=".7" opacity=".36"/>
<ellipse cx="234.0" cy="201.7" rx=".7" ry=".5" opacity=".24"/>
<ellipse cx="186.0" cy="233.0" rx="1.0" ry=".7" opacity=".50"/>
<ellipse cx="200.1" cy="240.0" rx="1.0" ry=".7" opacity=".42"/>
<ellipse cx="219.2" cy="213.3" rx="1.1" ry=".8" opacity=".40"/>
<ellipse cx="229.9" cy="223.3" rx=".6" ry=".6" opacity=".40"/>
<ellipse cx="201.6" cy="197.9" rx="1.1" ry=".4" opacity=".18"/>
<ellipse cx="209.2" cy="229.1" rx="1.7" ry=".6" opacity=".37"/>
<ellipse cx="246.8" cy="226.6" rx="1.3" ry=".8" opacity=".31"/>
<ellipse cx="236.8" cy="237.2" rx="1.5" ry=".4" opacity=".45"/>
<ellipse cx="195.5" cy="229.1" rx="1.2" ry=".5" opacity=".40"/>
<ellipse cx="224.2" cy="242.9" rx="1.1" ry=".6" opacity=".36"/>
<ellipse cx="208.6" cy="232.6" rx=".9" ry=".7" opacity=".39"/>
<ellipse cx="203.3" cy="217.9" rx=".6" ry=".5" opacity=".15"/>
<ellipse cx="195.3" cy="208.9" rx="1.5" ry=".6" opacity=".61"/>
<ellipse cx="232.9" cy="242.9" rx="1.7" ry=".4" opacity=".46"/>
<ellipse cx="212.6" cy="233.4" rx="1.2" ry=".8" opacity=".24"/>
<ellipse cx="218.6" cy="241.2" rx="1.1" ry=".8" opacity=".48"/>
<ellipse cx="223.7" cy="211.8" rx=".7" ry=".6" opacity=".31"/>
<ellipse cx="198.3" cy="236.7" rx=".7" ry=".6" opacity=".48"/>
<ellipse cx="214.3" cy="225.9" rx=".9" ry=".6" opacity=".31"/>
<ellipse cx="234.8" cy="197.9" rx="1.7" ry=".7" opacity=".15"/>
<ellipse cx="192.5" cy="211.0" rx="1.7" ry=".7" opacity=".48"/>
<ellipse cx="208.1" cy="217.5" rx="1.3" ry=".6" opacity=".43"/>
<ellipse cx="233.2" cy="241.5" rx=".8" ry=".5" opacity=".48"/>
<ellipse cx="243.5" cy="223.3" rx=".7" ry=".5" opacity=".24"/>
<ellipse cx="224.9" cy="217.6" rx=".7" ry=".6" opacity=".14"/>
<ellipse cx="190.8" cy="212.5" rx="1.3" ry=".5" opacity=".40"/>
<ellipse cx="198.7" cy="204.5" rx="1.0" ry=".7" opacity=".52"/>
<ellipse cx="190.0" cy="239.1" rx="1.3" ry=".7" opacity=".26"/>
<ellipse cx="212.3" cy="237.9" rx=".9" ry=".7" opacity=".29"/>
<ellipse cx="226.9" cy="232.8" rx="1.2" ry=".7" opacity=".49"/>
<ellipse cx="212.5" cy="219.6" rx="1.0" ry=".4" opacity=".53"/>
<ellipse cx="190.3" cy="236.1" rx="1.2" ry=".7" opacity=".31"/>
<ellipse cx="234.6" cy="229.4" rx=".7" ry=".5" opacity=".36"/>
<ellipse cx="190.5" cy="212.9" rx="1.4" ry=".5" opacity=".22"/>
<ellipse cx="208.1" cy="241.7" rx="1.5" ry=".5" opacity=".18"/>
<ellipse cx="230.4" cy="197.9" rx="1.7" ry=".8" opacity=".22"/>
<ellipse cx="236.4" cy="207.1" rx=".9" ry=".5" opacity=".24"/>
<ellipse cx="244.7" cy="228.8" rx="1.0" ry=".5" opacity=".22"/>
<ellipse cx="210.5" cy="213.9" rx="1.1" ry=".5" opacity=".39"/>
<ellipse cx="236.0" cy="197.9" rx="1.3" ry=".5" opacity=".30"/>
<ellipse cx="241.3" cy="213.7" rx=".9" ry=".4" opacity=".28"/>
<ellipse cx="219.9" cy="197.9" rx="1.4" ry=".7" opacity=".11"/>
<ellipse cx="220.1" cy="205.4" rx="1.5" ry=".4" opacity=".14"/>
<ellipse cx="232.2" cy="225.2" rx="1.4" ry=".5" opacity=".40"/>
<ellipse cx="226.6" cy="216.9" rx=".9" ry=".5" opacity=".43"/>
<ellipse cx="218.5" cy="221.7" rx="1.0" ry=".8" opacity=".41"/>
<ellipse cx="216.7" cy="206.4" rx="1.2" ry=".7" opacity=".41"/>
<ellipse cx="243.5" cy="198.2" rx="1.4" ry=".7" opacity=".29"/>
<ellipse cx="238.3" cy="234.4" rx="1.7" ry=".8" opacity=".34"/>
<ellipse cx="218.6" cy="214.1" rx="1.1" ry=".6" opacity=".18"/>
<ellipse cx="232.4" cy="197.9" rx="1.8" ry=".6" opacity=".13"/>
<ellipse cx="198.3" cy="210.0" rx="1.8" ry=".4" opacity=".30"/>
<ellipse cx="192.6" cy="225.7" rx="1.4" ry=".7" opacity=".24"/>
<ellipse cx="189.3" cy="202.4" rx="1.7" ry=".4" opacity=".18"/>
<ellipse cx="197.0" cy="225.2" rx=".8" ry=".5" opacity=".51"/>
<ellipse cx="223.1" cy="221.9" rx=".9" ry=".5" opacity=".43"/>
<ellipse cx="205.1" cy="229.3" rx="1.2" ry=".7" opacity=".37"/>
<ellipse cx="201.9" cy="242.9" rx="1.0" ry=".6" opacity=".61"/>
<ellipse cx="216.0" cy="200.2" rx=".8" ry=".4" opacity=".45"/>
<ellipse cx="236.3" cy="207.5" rx="1.2" ry=".5" opacity=".46"/>
<ellipse cx="227.1" cy="231.8" rx=".9" ry=".4" opacity=".30"/>
<ellipse cx="208.9" cy="226.8" rx="1.3" ry=".5" opacity=".20"/>
<ellipse cx="205.8" cy="199.2" rx=".9" ry=".7" opacity=".30"/>
<ellipse cx="225.8" cy="231.4" rx="1.2" ry=".5" opacity=".43"/>
<ellipse cx="185.4" cy="219.9" rx="1.6" ry=".7" opacity=".61"/>
<ellipse cx="190.5" cy="217.6" rx=".7" ry=".6" opacity=".40"/>
<ellipse cx="246.1" cy="242.5" rx="1.3" ry=".7" opacity=".19"/>
<ellipse cx="235.5" cy="197.9" rx=".7" ry=".7" opacity=".14"/>
<ellipse cx="219.9" cy="236.0" rx="1.2" ry=".5" opacity=".48"/>
<ellipse cx="205.1" cy="218.3" rx="1.0" ry=".6" opacity=".48"/>
<ellipse cx="208.2" cy="225.6" rx="1.4" ry=".4" opacity=".32"/>
<ellipse cx="214.7" cy="242.9" rx="1.4" ry=".4" opacity=".29"/>
<ellipse cx="230.5" cy="214.9" rx=".9" ry=".6" opacity=".29"/>
<ellipse cx="186.0" cy="242.9" rx=".8" ry=".6" opacity=".31"/>
<ellipse cx="209.2" cy="219.1" rx="1.2" ry=".5" opacity=".29"/>
<ellipse cx="210.2" cy="215.0" rx=".8" ry=".7" opacity=".28"/>
<ellipse cx="245.4" cy="211.0" rx="1.3" ry=".7" opacity=".21"/>
<ellipse cx="237.9" cy="226.9" rx=".7" ry=".7" opacity=".36"/>
<ellipse cx="196.7" cy="224.6" rx="1.1" ry=".7" opacity=".45"/>
<ellipse cx="191.0" cy="221.6" rx=".7" ry=".6" opacity=".18"/>
<ellipse cx="243.9" cy="228.5" rx="1.1" ry=".6" opacity=".32"/>
<ellipse cx="234.1" cy="226.4" rx="1.0" ry=".6" opacity=".11"/>
<ellipse cx="210.8" cy="207.9" rx="1.4" ry=".8" opacity=".49"/>
<ellipse cx="227.3" cy="218.3" rx="1.0" ry=".5" opacity=".38"/>
<ellipse cx="192.1" cy="218.7" rx="1.0" ry=".6" opacity=".57"/>
<ellipse cx="237.8" cy="214.1" rx="1.5" ry=".8" opacity=".30"/>
<ellipse cx="207.7" cy="215.1" rx="1.2" ry=".5" opacity=".47"/>
<ellipse cx="248.1" cy="198.3" rx="1.6" ry=".5" opacity=".31"/>
<ellipse cx="225.2" cy="218.2" rx=".8" ry=".4" opacity=".21"/>
<ellipse cx="222.0" cy="216.3" rx="1.7" ry=".5" opacity=".31"/>
<ellipse cx="193.2" cy="208.5" rx="1.8" ry=".5" opacity=".62"/>
<ellipse cx="219.9" cy="203.7" rx=".9" ry=".8" opacity=".49"/>
<ellipse cx="237.3" cy="213.7" rx="1.3" ry=".4" opacity=".41"/>
<ellipse cx="203.7" cy="228.7" rx="1.3" ry=".7" opacity=".22"/>
<ellipse cx="220.1" cy="214.1" rx=".7" ry=".4" opacity=".19"/>
<ellipse cx="248.1" cy="239.5" rx="1.0" ry=".7" opacity=".34"/>
<ellipse cx="209.6" cy="212.8" rx="1.3" ry=".7" opacity=".13"/>
<ellipse cx="198.0" cy="212.8" rx="1.0" ry=".6" opacity=".23"/>
<ellipse cx="218.4" cy="222.0" rx=".9" ry=".6" opacity=".26"/>
<ellipse cx="226.1" cy="240.7" rx=".8" ry=".8" opacity=".36"/>
<ellipse cx="215.2" cy="225.3" rx="1.1" ry=".6" opacity=".43"/>
<ellipse cx="233.5" cy="220.6" rx="1.8" ry=".7" opacity=".43"/>
<ellipse cx="211.3" cy="204.2" rx="1.1" ry=".6" opacity=".49"/>
<ellipse cx="218.8" cy="205.6" rx="1.7" ry=".5" opacity=".13"/>
<ellipse cx="231.4" cy="218.1" rx="1.7" ry=".7" opacity=".34"/>
<ellipse cx="233.1" cy="214.0" rx=".7" ry=".4" opacity=".28"/>
<ellipse cx="217.3" cy="238.1" rx="1.1" ry=".4" opacity=".43"/>
<ellipse cx="218.8" cy="221.2" rx="1.1" ry=".5" opacity=".15"/>
<ellipse cx="243.3" cy="232.4" rx="1.8" ry=".7" opacity=".40"/>
<ellipse cx="212.1" cy="223.8" rx="1.5" ry=".6" opacity=".54"/>
<ellipse cx="191.6" cy="211.1" rx="1.5" ry=".4" opacity=".43"/>
<ellipse cx="245.8" cy="230.9" rx=".9" ry=".5" opacity=".11"/>
<ellipse cx="242.2" cy="220.4" rx="1.6" ry=".6" opacity=".22"/>
<ellipse cx="222.5" cy="223.8" rx="1.7" ry=".5" opacity=".33"/>
<ellipse cx="244.7" cy="221.4" rx="1.8" ry=".6" opacity=".16"/>
<ellipse cx="204.1" cy="242.9" rx=".8" ry=".7" opacity=".31"/>
<ellipse cx="215.4" cy="206.4" rx=".8" ry=".8" opacity=".54"/>
<ellipse cx="198.1" cy="214.2" rx="1.7" ry=".4" opacity=".19"/>
<ellipse cx="231.5" cy="213.6" rx="1.0" ry=".8" opacity=".45"/>
<ellipse cx="230.7" cy="234.7" rx="1.7" ry=".6" opacity=".14"/>
<ellipse cx="199.5" cy="236.6" rx="1.0" ry=".7" opacity=".24"/>
<ellipse cx="196.8" cy="222.3" rx="1.5" ry=".5" opacity=".48"/>
<ellipse cx="241.6" cy="241.1" rx="1.3" ry=".5" opacity=".20"/>
<ellipse cx="244.2" cy="214.8" rx="1.4" ry=".4" opacity=".44"/>
<ellipse cx="213.3" cy="210.6" rx="1.2" ry=".6" opacity=".14"/>
<ellipse cx="223.4" cy="218.1" rx="1.6" ry=".4" opacity=".23"/>
<ellipse cx="233.4" cy="230.8" rx=".9" ry=".5" opacity=".32"/>
<ellipse cx="197.2" cy="242.9" rx=".6" ry=".6" opacity=".53"/>
<ellipse cx="209.8" cy="197.9" rx="1.7" ry=".6" opacity=".16"/>
<ellipse cx="220.7" cy="212.3" rx="1.4" ry=".7" opacity=".34"/>
<ellipse cx="217.5" cy="209.9" rx="1.6" ry=".7" opacity=".35"/>
<ellipse cx="245.8" cy="231.6" rx=".8" ry=".6" opacity=".17"/>
<ellipse cx="213.3" cy="242.1" rx="1.5" ry=".7" opacity=".49"/>
<ellipse cx="200.3" cy="210.5" rx="1.3" ry=".6" opacity=".15"/>
<ellipse cx="223.3" cy="221.1" rx="1.5" ry=".6" opacity=".48"/>
<ellipse cx="196.8" cy="221.9" rx="1.2" ry=".6" opacity=".37"/>
<ellipse cx="202.0" cy="222.6" rx="1.6" ry=".4" opacity=".59"/>
<ellipse cx="221.5" cy="197.9" rx=".9" ry=".5" opacity=".19"/>
<ellipse cx="188.0" cy="213.7" rx="1.0" ry=".6" opacity=".44"/>
<ellipse cx="202.1" cy="215.3" rx="1.6" ry=".5" opacity=".26"/>
<ellipse cx="195.5" cy="217.2" rx="1.4" ry=".7" opacity=".55"/>
<ellipse cx="189.2" cy="209.1" rx=".8" ry=".8" opacity=".17"/>
<ellipse cx="216.4" cy="227.5" rx="1.5" ry=".8" opacity=".18"/>
<ellipse cx="214.3" cy="220.3" rx=".9" ry=".8" opacity=".19"/>
<ellipse cx="210.3" cy="216.4" rx=".9" ry=".6" opacity=".16"/>
<ellipse cx="187.5" cy="242.9" rx="1.5" ry=".5" opacity=".29"/>
<ellipse cx="220.4" cy="219.8" rx=".9" ry=".6" opacity=".52"/>
<ellipse cx="208.5" cy="199.8" rx="1.3" ry=".4" opacity=".26"/>
<ellipse cx="226.6" cy="242.9" rx=".6" ry=".5" opacity=".40"/>
<ellipse cx="240.3" cy="197.9" rx="1.1" ry=".6" opacity=".31"/>
<ellipse cx="209.5" cy="204.6" rx="1.5" ry=".5" opacity=".27"/>
<ellipse cx="197.0" cy="212.4" rx=".8" ry=".5" opacity=".38"/>
<ellipse cx="204.9" cy="217.8" rx="1.1" ry=".8" opacity=".46"/>
<ellipse cx="240.2" cy="224.3" rx=".7" ry=".7" opacity=".23"/>
<ellipse cx="202.8" cy="233.6" rx=".6" ry=".5" opacity=".26"/>
<ellipse cx="210.3" cy="240.1" rx=".9" ry=".5" opacity=".20"/>
<ellipse cx="244.9" cy="210.1" rx="1.0" ry=".7" opacity=".34"/>
<ellipse cx="243.0" cy="232.7" rx="1.0" ry=".4" opacity=".41"/>
<ellipse cx="206.0" cy="222.0" rx="1.5" ry=".6" opacity=".16"/>
<ellipse cx="210.4" cy="220.7" rx=".8" ry=".6" opacity=".14"/>
<ellipse cx="205.2" cy="224.4" rx="1.1" ry=".6" opacity=".20"/>
<ellipse cx="230.2" cy="218.9" rx="1.4" ry=".5" opacity=".19"/>
<ellipse cx="203.1" cy="242.9" rx="1.4" ry=".6" opacity=".32"/>
<ellipse cx="240.4" cy="222.1" rx="1.0" ry=".5" opacity=".11"/>
<ellipse cx="186.9" cy="231.9" rx="1.3" ry=".6" opacity=".60"/>
<ellipse cx="247.3" cy="214.2" rx="1.7" ry=".5" opacity=".32"/>
<ellipse cx="227.7" cy="240.4" rx="1.7" ry=".7" opacity=".20"/>
<ellipse cx="225.5" cy="232.9" rx="1.1" ry=".4" opacity=".27"/>
<ellipse cx="206.2" cy="228.3" rx="1.2" ry=".5" opacity=".21"/>
<ellipse cx="210.9" cy="212.0" rx="1.4" ry=".5" opacity=".17"/>
<ellipse cx="207.0" cy="221.7" rx="1.1" ry=".5" opacity=".41"/>
<ellipse cx="229.9" cy="199.8" rx=".6" ry=".6" opacity=".20"/>
<ellipse cx="189.3" cy="213.3" rx="1.1" ry=".4" opacity=".42"/>
<ellipse cx="222.6" cy="208.2" rx=".9" ry=".4" opacity=".26"/>
<ellipse cx="242.0" cy="222.8" rx="1.3" ry=".5" opacity=".33"/>
<ellipse cx="197.1" cy="201.4" rx="1.7" ry=".5" opacity=".37"/>
<ellipse cx="245.2" cy="224.1" rx="1.5" ry=".7" opacity=".31"/>
<ellipse cx="211.4" cy="210.7" rx="1.6" ry=".8" opacity=".30"/>
<ellipse cx="243.2" cy="226.1" rx=".6" ry=".5" opacity=".27"/>
<ellipse cx="204.9" cy="197.9" rx=".8" ry=".5" opacity=".19"/>
<ellipse cx="228.6" cy="242.9" rx=".9" ry=".4" opacity=".33"/>
<ellipse cx="210.4" cy="221.5" rx="1.4" ry=".6" opacity=".42"/>
<ellipse cx="221.0" cy="236.7" rx="1.6" ry=".8" opacity=".26"/>
<ellipse cx="207.3" cy="229.6" rx="1.5" ry=".7" opacity=".46"/>
<ellipse cx="246.6" cy="212.4" rx="1.6" ry=".5" opacity=".30"/>
<ellipse cx="216.5" cy="208.0" rx=".9" ry=".7" opacity=".35"/>
<ellipse cx="200.4" cy="215.1" rx=".9" ry=".5" opacity=".23"/>
<ellipse cx="218.0" cy="224.0" rx=".7" ry=".4" opacity=".43"/>
<ellipse cx="192.5" cy="224.0" rx="1.1" ry=".7" opacity=".40"/>
<ellipse cx="195.6" cy="239.3" rx=".6" ry=".5" opacity=".41"/>
<ellipse cx="236.0" cy="199.3" rx="1.1" ry=".7" opacity=".16"/>
<ellipse cx="230.8" cy="214.5" rx="1.5" ry=".7" opacity=".43"/>
<ellipse cx="221.4" cy="231.6" rx="1.1" ry=".7" opacity=".38"/>
<ellipse cx="238.2" cy="222.7" rx="1.0" ry=".7" opacity=".18"/>
<ellipse cx="197.0" cy="213.5" rx=".6" ry=".6" opacity=".63"/>
<ellipse cx="247.0" cy="234.7" rx="1.1" ry=".7" opacity=".22"/>
<ellipse cx="244.7" cy="236.4" rx="1.8" ry=".4" opacity=".34"/>
<ellipse cx="192.8" cy="231.5" rx="1.5" ry=".8" opacity=".21"/>
<ellipse cx="206.3" cy="223.4" rx=".6" ry=".6" opacity=".36"/>
<ellipse cx="209.1" cy="211.2" rx="1.6" ry=".5" opacity=".31"/>
<ellipse cx="224.6" cy="242.9" rx="1.5" ry=".8" opacity=".28"/>
<ellipse cx="229.4" cy="197.9" rx=".8" ry=".5" opacity=".12"/>
<ellipse cx="244.7" cy="213.2" rx=".9" ry=".6" opacity=".13"/>
<ellipse cx="205.9" cy="238.4" rx=".8" ry=".7" opacity=".26"/>
<ellipse cx="199.8" cy="222.6" rx="1.2" ry=".5" opacity=".27"/>
<ellipse cx="188.6" cy="242.9" rx="1.0" ry=".4" opacity=".25"/>
<ellipse cx="216.0" cy="232.1" rx="1.8" ry=".5" opacity=".51"/>
<ellipse cx="216.1" cy="198.5" rx="1.1" ry=".4" opacity=".29"/>
<ellipse cx="227.1" cy="233.4" rx="1.3" ry=".5" opacity=".49"/>
<ellipse cx="240.3" cy="235.6" rx="1.6" ry=".7" opacity=".16"/>
<ellipse cx="187.0" cy="219.9" rx=".8" ry=".4" opacity=".19"/>
<ellipse cx="208.1" cy="220.7" rx="1.2" ry=".4" opacity=".23"/>
<ellipse cx="246.3" cy="208.3" rx=".6" ry=".6" opacity=".36"/>
<ellipse cx="235.7" cy="219.1" rx="1.6" ry=".7" opacity=".39"/>
<ellipse cx="248.0" cy="206.3" rx=".7" ry=".8" opacity=".21"/>
<ellipse cx="230.2" cy="220.3" rx=".6" ry=".6" opacity=".20"/>
<ellipse cx="210.0" cy="242.9" rx="1.0" ry=".7" opacity=".51"/>
<ellipse cx="208.5" cy="211.9" rx=".9" ry=".8" opacity=".28"/>
<ellipse cx="191.3" cy="210.4" rx="1.0" ry=".7" opacity=".26"/>
<ellipse cx="232.6" cy="200.1" rx=".8" ry=".4" opacity=".13"/>
<ellipse cx="207.6" cy="214.3" rx="1.1" ry=".4" opacity=".37"/>
<ellipse cx="211.0" cy="212.8" rx="1.7" ry=".5" opacity=".54"/>
<ellipse cx="205.7" cy="236.1" rx="1.5" ry=".4" opacity=".61"/>
<ellipse cx="212.7" cy="230.0" rx="1.1" ry=".7" opacity=".21"/>
<ellipse cx="202.7" cy="218.1" rx="1.4" ry=".8" opacity=".29"/>
<ellipse cx="197.0" cy="197.9" rx=".8" ry=".7" opacity=".26"/>
<ellipse cx="226.3" cy="242.9" rx=".8" ry=".6" opacity=".48"/>
<ellipse cx="239.8" cy="208.9" rx="1.3" ry=".4" opacity=".40"/>
<ellipse cx="229.2" cy="208.4" rx="1.1" ry=".7" opacity=".27"/>
<ellipse cx="209.8" cy="222.8" rx="1.3" ry=".6" opacity=".14"/>
<ellipse cx="225.2" cy="239.3" rx="1.1" ry=".6" opacity=".36"/>
<ellipse cx="244.6" cy="229.5" rx="1.8" ry=".7" opacity=".20"/>
<ellipse cx="232.2" cy="233.3" rx="1.8" ry=".6" opacity=".44"/>
<ellipse cx="193.4" cy="236.7" rx=".9" ry=".7" opacity=".49"/>
<ellipse cx="244.9" cy="219.4" rx="1.6" ry=".7" opacity=".27"/>
<ellipse cx="248.5" cy="242.9" rx="1.4" ry=".5" opacity=".36"/>
<ellipse cx="214.2" cy="231.6" rx="1.2" ry=".7" opacity=".21"/>
<ellipse cx="203.1" cy="217.0" rx="1.3" ry=".7" opacity=".38"/>
<ellipse cx="200.7" cy="216.1" rx="1.6" ry=".7" opacity=".52"/>
<ellipse cx="220.2" cy="241.2" rx=".8" ry=".5" opacity=".16"/>
<ellipse cx="187.6" cy="206.4" rx="1.0" ry=".7" opacity=".58"/>
<ellipse cx="192.8" cy="226.2" rx="1.6" ry=".6" opacity=".62"/>
<ellipse cx="189.9" cy="233.1" rx="1.8" ry=".5" opacity=".49"/>
<ellipse cx="241.0" cy="219.1" rx="1.4" ry=".6" opacity=".10"/>
<ellipse cx="206.9" cy="211.2" rx="1.0" ry=".7" opacity=".26"/>
<ellipse cx="223.7" cy="217.4" rx=".7" ry=".7" opacity=".31"/>
<ellipse cx="193.5" cy="212.1" rx=".7" ry=".8" opacity=".47"/>
<ellipse cx="208.0" cy="235.5" rx="1.4" ry=".7" opacity=".30"/>
<ellipse cx="205.0" cy="242.9" rx="1.1" ry=".5" opacity=".44"/>
<ellipse cx="212.3" cy="226.5" rx="1.1" ry=".6" opacity=".56"/>
<ellipse cx="207.3" cy="207.4" rx="1.4" ry=".5" opacity=".40"/>
<ellipse cx="203.4" cy="228.4" rx="1.6" ry=".7" opacity=".36"/>
<ellipse cx="244.7" cy="212.1" rx="1.1" ry=".7" opacity=".30"/>
<ellipse cx="213.8" cy="233.9" rx=".9" ry=".6" opacity=".56"/>
<ellipse cx="203.9" cy="226.1" rx="1.4" ry=".7" opacity=".25"/>
<ellipse cx="211.5" cy="240.5" rx=".9" ry=".6" opacity=".28"/>
<ellipse cx="237.5" cy="242.4" rx="1.6" ry=".6" opacity=".30"/>
<ellipse cx="191.6" cy="225.2" rx="1.0" ry=".5" opacity=".53"/>
<ellipse cx="227.9" cy="216.7" rx="1.0" ry=".8" opacity=".50"/>
<ellipse cx="186.8" cy="209.8" rx="1.0" ry=".6" opacity=".32"/>
<ellipse cx="228.0" cy="208.7" rx="1.3" ry=".8" opacity=".51"/>
<ellipse cx="248.4" cy="199.5" rx="1.4" ry=".7" opacity=".34"/>
<ellipse cx="189.5" cy="236.5" rx="1.1" ry=".6" opacity=".50"/>
<ellipse cx="199.2" cy="230.0" rx="1.0" ry=".5" opacity=".34"/>
<ellipse cx="232.5" cy="219.8" rx=".7" ry=".5" opacity=".36"/>
<ellipse cx="224.9" cy="219.9" rx="1.6" ry=".7" opacity=".44"/>
<ellipse cx="192.9" cy="209.7" rx="1.1" ry=".4" opacity=".60"/>
<ellipse cx="245.4" cy="222.9" rx="1.0" ry=".6" opacity=".28"/>
<ellipse cx="192.4" cy="218.5" rx="1.5" ry=".5" opacity=".41"/>
<ellipse cx="193.2" cy="213.7" rx=".7" ry=".6" opacity=".30"/>
<ellipse cx="234.7" cy="217.3" rx=".9" ry=".6" opacity=".12"/>
<ellipse cx="199.1" cy="203.3" rx="1.1" ry=".7" opacity=".17"/>
<ellipse cx="239.4" cy="225.8" rx=".8" ry=".8" opacity=".29"/>
<ellipse cx="211.1" cy="199.0" rx="1.8" ry=".6" opacity=".10"/>
<ellipse cx="195.1" cy="202.2" rx="1.6" ry=".7" opacity=".44"/>
<ellipse cx="195.3" cy="217.1" rx=".7" ry=".5" opacity=".65"/>
<ellipse cx="226.2" cy="219.7" rx="1.6" ry=".4" opacity=".28"/>
<ellipse cx="190.3" cy="219.9" rx="1.7" ry=".5" opacity=".41"/>
<ellipse cx="226.9" cy="227.2" rx="1.7" ry=".8" opacity=".34"/>
<ellipse cx="217.2" cy="232.0" rx=".9" ry=".7" opacity=".23"/>
<ellipse cx="208.7" cy="212.4" rx="1.1" ry=".6" opacity=".30"/>
<ellipse cx="212.7" cy="216.1" rx="1.6" ry=".4" opacity=".37"/>
<ellipse cx="220.1" cy="221.8" rx="1.1" ry=".5" opacity=".16"/>
<ellipse cx="209.0" cy="214.0" rx=".9" ry=".7" opacity=".36"/>
<ellipse cx="185.9" cy="235.2" rx="1.1" ry=".8" opacity=".15"/>
<ellipse cx="223.0" cy="233.4" rx="1.3" ry=".5" opacity=".24"/>
<ellipse cx="224.0" cy="217.1" rx="1.3" ry=".5" opacity=".32"/>
<ellipse cx="218.1" cy="220.5" rx=".7" ry=".5" opacity=".24"/>
<ellipse cx="235.9" cy="215.8" rx="1.1" ry=".7" opacity=".25"/>
<ellipse cx="203.5" cy="217.9" rx="1.8" ry=".7" opacity=".29"/>
<ellipse cx="205.5" cy="215.0" rx="1.6" ry=".7" opacity=".44"/>
<ellipse cx="188.9" cy="220.8" rx="1.3" ry=".6" opacity=".65"/>
<ellipse cx="225.9" cy="216.0" rx=".6" ry=".8" opacity=".42"/>
<ellipse cx="222.2" cy="242.9" rx="1.1" ry=".7" opacity=".54"/>
<ellipse cx="243.6" cy="221.2" rx=".7" ry=".7" opacity=".25"/>
<ellipse cx="233.1" cy="209.4" rx="1.1" ry=".4" opacity=".23"/>
<ellipse cx="232.0" cy="231.0" rx=".7" ry=".4" opacity=".43"/>
<ellipse cx="227.7" cy="213.8" rx=".7" ry=".5" opacity=".50"/>
<ellipse cx="220.9" cy="218.4" rx="1.7" ry=".5" opacity=".29"/>
<ellipse cx="219.4" cy="224.2" rx="1.6" ry=".6" opacity=".13"/>
<ellipse cx="212.8" cy="214.3" rx="1.0" ry=".7" opacity=".55"/>
<ellipse cx="216.7" cy="215.2" rx="1.5" ry=".4" opacity=".45"/>
<ellipse cx="195.9" cy="207.5" rx="1.3" ry=".5" opacity=".31"/>
<ellipse cx="195.7" cy="209.4" rx="1.2" ry=".6" opacity=".44"/>
<ellipse cx="238.9" cy="235.6" rx="1.0" ry=".6" opacity=".27"/>
<ellipse cx="247.7" cy="210.2" rx=".9" ry=".5" opacity=".33"/>
<ellipse cx="221.9" cy="239.6" rx=".9" ry=".4" opacity=".47"/>
<ellipse cx="209.3" cy="217.3" rx="1.3" ry=".6" opacity=".59"/>
<ellipse cx="243.2" cy="205.8" rx="1.1" ry=".6" opacity=".16"/>
<ellipse cx="233.2" cy="230.0" rx="1.6" ry=".4" opacity=".37"/>
<ellipse cx="221.4" cy="227.6" rx="1.3" ry=".5" opacity=".18"/>
<ellipse cx="245.8" cy="222.7" rx=".7" ry=".7" opacity=".17"/>
<ellipse cx="198.0" cy="197.9" rx="1.2" ry=".6" opacity=".15"/>
<ellipse cx="233.9" cy="197.9" rx="1.7" ry=".7" opacity=".19"/>
<ellipse cx="245.8" cy="205.5" rx="1.5" ry=".5" opacity=".36"/>
<ellipse cx="231.5" cy="219.4" rx=".6" ry=".6" opacity=".21"/>
<ellipse cx="203.9" cy="231.0" rx=".9" ry=".5" opacity=".37"/>
<ellipse cx="202.6" cy="217.9" rx="1.2" ry=".7" opacity=".21"/>
<ellipse cx="240.0" cy="231.4" rx="1.6" ry=".6" opacity=".29"/>
<ellipse cx="232.0" cy="200.3" rx="1.7" ry=".7" opacity=".17"/>
<ellipse cx="188.8" cy="216.0" rx="1.7" ry=".5" opacity=".58"/>
<ellipse cx="188.5" cy="214.3" rx="1.6" ry=".9" opacity=".78"/>
<ellipse cx="191.0" cy="220.4" rx="1.4" ry=".9" opacity=".78"/>
<ellipse cx="187.2" cy="204.5" rx="1.2" ry=".6" opacity=".55"/>
<ellipse cx="214.6" cy="215.3" rx="1.6" ry=".8" opacity=".78"/>
<ellipse cx="225.4" cy="216.7" rx="2.2" ry=".9" opacity=".78"/>
<ellipse cx="208.8" cy="217.6" rx="1.3" ry=".8" opacity=".74"/>
<ellipse cx="207.6" cy="227.9" rx="1.3" ry="1.1" opacity=".78"/>
<ellipse cx="223.5" cy="227.0" rx="2.0" ry=".9" opacity=".78"/>
<ellipse cx="213.9" cy="232.1" rx="1.6" ry=".8" opacity=".74"/>
<ellipse cx="198.0" cy="234.4" rx="1.2" ry=".7" opacity=".62"/>
<ellipse cx="223.5" cy="239.6" rx="1.3" ry=".7" opacity=".62"/>
<ellipse cx="205.0" cy="222.3" rx="1.4" ry=".6" opacity=".62"/>
<ellipse cx="196.1" cy="228.4" rx="1.2" ry=".6" opacity=".58"/>
<ellipse cx="236.8" cy="225.5" rx="1.3" ry=".6" opacity=".55"/>
<ellipse cx="239.4" cy="233.0" rx="1.2" ry=".6" opacity=".55"/>
<ellipse cx="206.3" cy="199.3" rx="1.4" ry=".6" opacity=".62"/>
<ellipse cx="226.6" cy="201.2" rx="1.3" ry=".6" opacity=".55"/>
<ellipse cx="213.3" cy="202.1" rx="1.2" ry=".6" opacity=".55"/>
<ellipse cx="235.5" cy="207.3" rx="1.2" ry=".6" opacity=".51"/>
<ellipse cx="191.7" cy="238.7" rx="1.2" ry=".6" opacity=".55"/>
<ellipse cx="201.2" cy="211.5" rx="1.2" ry=".6" opacity=".55"/>
<ellipse cx="245.1" cy="208.7" rx="1.0" ry=".6" opacity=".47"/>
<ellipse cx="234.3" cy="218.1" rx="1.3" ry=".6" opacity=".55"/>
<ellipse cx="219.6" cy="235.4" rx="1.2" ry=".6" opacity=".55"/>
<ellipse cx="243.8" cy="240.1" rx="1.2" ry=".6" opacity=".55"/>
<ellipse cx="229.8" cy="211.0" rx="1.1" ry=".6" opacity=".47"/>
<ellipse cx="218.4" cy="222.7" rx="1.2" ry=".6" opacity=".55"/>
<ellipse cx="192.9" cy="225.1" rx="1.1" ry=".6" opacity=".47"/>
<ellipse cx="231.1" cy="230.7" rx="1.1" ry=".6" opacity=".47"/>
<ellipse cx="210.7" cy="210.1" rx="1.1" ry=".6" opacity=".47"/>
</g></g>
<g clip-path="url(#cC03)" fill="#fff">
<rect x="250.1" y="197.0" width="60.1" height="46.8" fill="rgb(9,9,9)"/>
<g filter="url(#b05)">
<ellipse cx="277.3" cy="197.9" rx="1.3" ry=".6" opacity=".41"/>
<ellipse cx="261.2" cy="208.7" rx="1.3" ry=".7" opacity=".74"/>
<ellipse cx="255.8" cy="218.4" rx="1.7" ry=".7" opacity=".23"/>
<ellipse cx="309.1" cy="226.2" rx="2.0" ry=".7" opacity=".40"/>
<ellipse cx="259.6" cy="237.5" rx=".7" ry=".5" opacity=".36"/>
<ellipse cx="251.9" cy="222.0" rx="1.3" ry=".6" opacity=".83"/>
<ellipse cx="281.3" cy="209.9" rx="1.5" ry=".6" opacity=".33"/>
<ellipse cx="310.1" cy="207.6" rx="2.0" ry=".7" opacity=".43"/>
<ellipse cx="269.0" cy="221.9" rx=".7" ry=".7" opacity=".44"/>
<ellipse cx="301.0" cy="231.9" rx="1.2" ry=".8" opacity=".55"/>
<ellipse cx="250.1" cy="228.1" rx="1.3" ry=".8" opacity=".50"/>
<ellipse cx="254.5" cy="242.9" rx="1.5" ry=".7" opacity=".39"/>
<ellipse cx="255.3" cy="202.4" rx="1.7" ry=".4" opacity=".33"/>
<ellipse cx="256.2" cy="242.9" rx=".7" ry=".7" opacity=".32"/>
<ellipse cx="283.7" cy="211.8" rx="1.6" ry=".5" opacity=".53"/>
<ellipse cx="257.1" cy="223.4" rx="1.2" ry=".5" opacity=".39"/>
<ellipse cx="308.5" cy="224.3" rx="1.8" ry=".5" opacity=".30"/>
<ellipse cx="301.4" cy="209.1" rx="1.5" ry=".4" opacity=".62"/>
<ellipse cx="262.9" cy="219.1" rx="1.1" ry=".5" opacity=".24"/>
<ellipse cx="255.5" cy="242.9" rx="1.4" ry=".5" opacity=".63"/>
<ellipse cx="272.4" cy="197.9" rx="1.3" ry=".6" opacity=".56"/>
<ellipse cx="261.1" cy="230.7" rx=".8" ry=".8" opacity=".76"/>
<ellipse cx="265.1" cy="228.9" rx="1.9" ry=".5" opacity=".83"/>
<ellipse cx="303.1" cy="241.8" rx="1.5" ry=".6" opacity=".18"/>
<ellipse cx="252.4" cy="230.5" rx="1.6" ry=".5" opacity=".81"/>
<ellipse cx="285.9" cy="218.0" rx="1.0" ry=".5" opacity=".57"/>
<ellipse cx="254.2" cy="222.8" rx="1.8" ry=".6" opacity=".40"/>
<ellipse cx="305.2" cy="238.2" rx=".9" ry=".4" opacity=".25"/>
<ellipse cx="276.9" cy="228.5" rx="1.1" ry=".6" opacity=".25"/>
<ellipse cx="271.9" cy="223.6" rx="1.9" ry=".8" opacity=".60"/>
<ellipse cx="291.6" cy="213.7" rx=".7" ry=".4" opacity=".64"/>
<ellipse cx="292.2" cy="216.5" rx="1.9" ry=".4" opacity=".49"/>
<ellipse cx="279.1" cy="218.9" rx="2.0" ry=".4" opacity=".50"/>
<ellipse cx="294.4" cy="208.2" rx="1.9" ry=".7" opacity=".51"/>
<ellipse cx="297.8" cy="231.7" rx="1.6" ry=".8" opacity=".58"/>
<ellipse cx="275.2" cy="213.7" rx="1.7" ry=".7" opacity=".53"/>
<ellipse cx="287.7" cy="206.7" rx="1.5" ry=".4" opacity=".49"/>
<ellipse cx="309.8" cy="232.9" rx="1.8" ry=".7" opacity=".30"/>
<ellipse cx="294.3" cy="207.2" rx="1.8" ry=".4" opacity=".52"/>
<ellipse cx="251.9" cy="213.0" rx="1.5" ry=".6" opacity=".37"/>
<ellipse cx="292.1" cy="201.0" rx="1.9" ry=".5" opacity=".13"/>
<ellipse cx="268.2" cy="220.7" rx="1.6" ry=".5" opacity=".29"/>
<ellipse cx="304.5" cy="212.3" rx="1.9" ry=".5" opacity=".45"/>
<ellipse cx="262.0" cy="207.6" rx="1.2" ry=".7" opacity=".80"/>
<ellipse cx="303.0" cy="206.5" rx="1.1" ry=".5" opacity=".35"/>
<ellipse cx="300.4" cy="232.7" rx="1.8" ry=".7" opacity=".61"/>
<ellipse cx="266.7" cy="227.9" rx="1.0" ry=".5" opacity=".46"/>
<ellipse cx="287.7" cy="233.8" rx="1.3" ry=".5" opacity=".62"/>
<ellipse cx="309.1" cy="215.1" rx=".7" ry=".7" opacity=".14"/>
<ellipse cx="292.7" cy="222.0" rx="1.4" ry=".5" opacity=".57"/>
<ellipse cx="251.2" cy="230.6" rx=".7" ry=".7" opacity=".38"/>
<ellipse cx="258.6" cy="232.1" rx=".7" ry=".7" opacity=".51"/>
<ellipse cx="288.0" cy="206.1" rx="1.9" ry=".7" opacity=".25"/>
<ellipse cx="278.7" cy="199.3" rx=".9" ry=".4" opacity=".36"/>
<ellipse cx="293.0" cy="225.2" rx="1.1" ry=".7" opacity=".42"/>
<ellipse cx="287.0" cy="230.5" rx="1.7" ry=".6" opacity=".60"/>
<ellipse cx="304.6" cy="242.9" rx="1.6" ry=".5" opacity=".34"/>
<ellipse cx="287.7" cy="237.4" rx="1.9" ry=".6" opacity=".47"/>
<ellipse cx="302.9" cy="230.2" rx="1.3" ry=".7" opacity=".23"/>
<ellipse cx="293.5" cy="197.9" rx="1.8" ry=".7" opacity=".41"/>
<ellipse cx="262.9" cy="242.9" rx="2.0" ry=".6" opacity=".73"/>
<ellipse cx="269.4" cy="197.9" rx="1.9" ry=".7" opacity=".31"/>
<ellipse cx="255.1" cy="203.9" rx="1.7" ry=".6" opacity=".19"/>
<ellipse cx="298.7" cy="226.8" rx=".7" ry=".7" opacity=".22"/>
<ellipse cx="270.2" cy="222.2" rx=".8" ry=".6" opacity=".65"/>
<ellipse cx="300.6" cy="212.9" rx="1.6" ry=".8" opacity=".38"/>
<ellipse cx="307.1" cy="228.9" rx="1.4" ry=".5" opacity=".46"/>
<ellipse cx="288.5" cy="225.5" rx="1.4" ry=".7" opacity=".46"/>
<ellipse cx="268.8" cy="200.5" rx="1.9" ry=".5" opacity=".61"/>
<ellipse cx="308.3" cy="238.8" rx="1.4" ry=".6" opacity=".21"/>
<ellipse cx="282.3" cy="201.3" rx=".7" ry=".8" opacity=".39"/>
<ellipse cx="274.2" cy="220.0" rx="1.7" ry=".6" opacity=".48"/>
<ellipse cx="291.6" cy="236.4" rx="1.2" ry=".8" opacity=".65"/>
<ellipse cx="266.3" cy="227.4" rx="1.3" ry=".5" opacity=".47"/>
<ellipse cx="299.1" cy="233.4" rx="1.1" ry=".5" opacity=".45"/>
<ellipse cx="305.7" cy="211.1" rx=".8" ry=".7" opacity=".14"/>
<ellipse cx="261.8" cy="223.4" rx="1.1" ry=".5" opacity=".62"/>
<ellipse cx="256.4" cy="241.6" rx="1.6" ry=".4" opacity=".56"/>
<ellipse cx="265.2" cy="226.0" rx="1.2" ry=".6" opacity=".46"/>
<ellipse cx="281.9" cy="236.7" rx=".9" ry=".5" opacity=".53"/>
<ellipse cx="288.5" cy="197.9" rx="1.5" ry=".7" opacity=".22"/>
<ellipse cx="294.6" cy="215.3" rx="1.7" ry=".8" opacity=".31"/>
<ellipse cx="269.0" cy="229.1" rx="2.0" ry=".8" opacity=".26"/>
<ellipse cx="264.5" cy="215.8" rx="1.6" ry=".5" opacity=".25"/>
<ellipse cx="300.1" cy="198.5" rx=".8" ry=".6" opacity=".37"/>
<ellipse cx="251.2" cy="232.1" rx=".9" ry=".7" opacity=".89"/>
<ellipse cx="308.3" cy="232.9" rx="1.7" ry=".6" opacity=".44"/>
<ellipse cx="261.5" cy="231.5" rx=".7" ry=".4" opacity=".21"/>
<ellipse cx="283.3" cy="202.3" rx=".8" ry=".5" opacity=".24"/>
<ellipse cx="300.6" cy="218.7" rx="2.0" ry=".8" opacity=".18"/>
<ellipse cx="253.8" cy="235.3" rx="1.7" ry=".5" opacity=".54"/>
<ellipse cx="281.1" cy="215.7" rx="1.2" ry=".6" opacity=".17"/>
<ellipse cx="292.2" cy="225.4" rx="1.3" ry=".7" opacity=".36"/>
<ellipse cx="261.8" cy="213.0" rx=".9" ry=".6" opacity=".20"/>
<ellipse cx="303.8" cy="227.4" rx="1.8" ry=".7" opacity=".32"/>
<ellipse cx="286.1" cy="199.6" rx="1.3" ry=".8" opacity=".49"/>
<ellipse cx="265.6" cy="240.1" rx="1.7" ry=".7" opacity=".46"/>
<ellipse cx="304.0" cy="208.1" rx="1.8" ry=".7" opacity=".49"/>
<ellipse cx="296.1" cy="201.7" rx=".7" ry=".5" opacity=".33"/>
<ellipse cx="250.7" cy="233.0" rx="1.1" ry=".7" opacity=".67"/>
<ellipse cx="264.0" cy="240.0" rx="1.1" ry=".7" opacity=".57"/>
<ellipse cx="282.1" cy="213.3" rx="1.2" ry=".8" opacity=".54"/>
<ellipse cx="292.2" cy="223.3" rx=".7" ry=".6" opacity=".54"/>
<ellipse cx="265.5" cy="197.9" rx="1.2" ry=".4" opacity=".24"/>
<ellipse cx="272.7" cy="229.1" rx="1.9" ry=".6" opacity=".50"/>
<ellipse cx="308.2" cy="226.6" rx="1.4" ry=".8" opacity=".41"/>
<ellipse cx="298.8" cy="237.2" rx="1.7" ry=".4" opacity=".61"/>
<ellipse cx="259.7" cy="229.1" rx="1.3" ry=".5" opacity=".54"/>
<ellipse cx="286.8" cy="242.9" rx="1.2" ry=".6" opacity=".49"/>
<ellipse cx="272.1" cy="232.6" rx="1.0" ry=".7" opacity=".53"/>
<ellipse cx="267.1" cy="217.9" rx=".7" ry=".5" opacity=".21"/>
<ellipse cx="259.5" cy="208.9" rx="1.7" ry=".6" opacity=".83"/>
<ellipse cx="295.1" cy="242.9" rx="1.9" ry=".4" opacity=".62"/>
<ellipse cx="275.9" cy="233.4" rx="1.3" ry=".8" opacity=".32"/>
<ellipse cx="281.6" cy="241.2" rx="1.3" ry=".8" opacity=".65"/>
<ellipse cx="286.4" cy="211.8" rx=".8" ry=".6" opacity=".41"/>
<ellipse cx="262.3" cy="236.7" rx=".8" ry=".6" opacity=".65"/>
<ellipse cx="277.5" cy="225.9" rx="1.0" ry=".6" opacity=".42"/>
<ellipse cx="296.9" cy="197.9" rx="1.9" ry=".7" opacity=".20"/>
<ellipse cx="256.9" cy="211.0" rx="1.9" ry=".7" opacity=".65"/>
<ellipse cx="271.7" cy="217.5" rx="1.4" ry=".6" opacity=".58"/>
<ellipse cx="295.4" cy="241.5" rx=".9" ry=".5" opacity=".65"/>
<ellipse cx="305.1" cy="223.3" rx=".7" ry=".5" opacity=".33"/>
<ellipse cx="287.6" cy="217.6" rx=".8" ry=".6" opacity=".19"/>
<ellipse cx="255.3" cy="212.5" rx="1.5" ry=".5" opacity=".55"/>
<ellipse cx="262.8" cy="204.5" rx="1.1" ry=".7" opacity=".70"/>
<ellipse cx="254.6" cy="239.1" rx="1.5" ry=".7" opacity=".35"/>
<ellipse cx="275.6" cy="237.9" rx="1.0" ry=".7" opacity=".40"/>
<ellipse cx="289.4" cy="232.8" rx="1.4" ry=".7" opacity=".66"/>
<ellipse cx="275.8" cy="219.6" rx="1.1" ry=".4" opacity=".72"/>
<ellipse cx="254.8" cy="236.1" rx="1.3" ry=".7" opacity=".42"/>
<ellipse cx="296.7" cy="229.4" rx=".7" ry=".5" opacity=".48"/>
<ellipse cx="255.0" cy="212.9" rx="1.6" ry=".5" opacity=".30"/>
<ellipse cx="271.6" cy="241.7" rx="1.6" ry=".5" opacity=".25"/>
<ellipse cx="292.7" cy="197.9" rx="1.9" ry=".8" opacity=".29"/>
<ellipse cx="298.4" cy="207.1" rx="1.1" ry=".5" opacity=".33"/>
<ellipse cx="306.3" cy="228.8" rx="1.1" ry=".5" opacity=".30"/>
<ellipse cx="273.9" cy="213.9" rx="1.2" ry=".5" opacity=".53"/>
<ellipse cx="298.0" cy="197.9" rx="1.4" ry=".5" opacity=".40"/>
<ellipse cx="303.0" cy="213.7" rx="1.0" ry=".4" opacity=".38"/>
<ellipse cx="282.8" cy="197.9" rx="1.5" ry=".7" opacity=".15"/>
<ellipse cx="283.0" cy="205.4" rx="1.7" ry=".4" opacity=".19"/>
<ellipse cx="294.4" cy="225.2" rx="1.5" ry=".5" opacity=".54"/>
<ellipse cx="289.1" cy="216.9" rx="1.0" ry=".5" opacity=".58"/>
<ellipse cx="281.4" cy="221.7" rx="1.1" ry=".8" opacity=".56"/>
<ellipse cx="279.8" cy="206.4" rx="1.4" ry=".7" opacity=".56"/>
<ellipse cx="305.1" cy="198.2" rx="1.5" ry=".7" opacity=".39"/>
<ellipse cx="300.2" cy="234.4" rx="1.8" ry=".8" opacity=".45"/>
<ellipse cx="281.6" cy="214.1" rx="1.2" ry=".6" opacity=".25"/>
<ellipse cx="294.6" cy="197.9" rx="2.0" ry=".6" opacity=".18"/>
<ellipse cx="262.4" cy="210.0" rx="2.0" ry=".4" opacity=".40"/>
<ellipse cx="257.0" cy="225.7" rx="1.5" ry=".7" opacity=".32"/>
<ellipse cx="253.8" cy="202.4" rx="1.9" ry=".4" opacity=".24"/>
<ellipse cx="261.2" cy="225.2" rx=".9" ry=".5" opacity=".69"/>
<ellipse cx="285.8" cy="221.9" rx="1.0" ry=".5" opacity=".59"/>
<ellipse cx="268.8" cy="229.3" rx="1.4" ry=".7" opacity=".49"/>
<ellipse cx="265.8" cy="242.9" rx="1.1" ry=".6" opacity=".83"/>
<ellipse cx="279.1" cy="200.2" rx=".9" ry=".4" opacity=".60"/>
<ellipse cx="298.3" cy="207.5" rx="1.3" ry=".5" opacity=".62"/>
<ellipse cx="289.6" cy="231.8" rx="1.0" ry=".4" opacity=".41"/>
<ellipse cx="272.4" cy="226.8" rx="1.5" ry=".5" opacity=".27"/>
<ellipse cx="269.4" cy="199.2" rx="1.0" ry=".7" opacity=".41"/>
<ellipse cx="288.4" cy="231.4" rx="1.4" ry=".5" opacity=".58"/>
<ellipse cx="250.2" cy="219.9" rx="1.8" ry=".7" opacity=".83"/>
<ellipse cx="255.1" cy="217.6" rx=".8" ry=".6" opacity=".54"/>
<ellipse cx="307.5" cy="242.5" rx="1.4" ry=".7" opacity=".26"/>
<ellipse cx="297.5" cy="197.9" rx=".8" ry=".7" opacity=".19"/>
<ellipse cx="282.8" cy="236.0" rx="1.4" ry=".5" opacity=".65"/>
<ellipse cx="268.8" cy="218.3" rx="1.1" ry=".6" opacity=".65"/>
<ellipse cx="271.7" cy="225.6" rx="1.6" ry=".4" opacity=".43"/>
<ellipse cx="277.9" cy="242.9" rx="1.5" ry=".4" opacity=".40"/>
<ellipse cx="292.8" cy="214.9" rx="1.0" ry=".6" opacity=".39"/>
<ellipse cx="250.7" cy="242.9" rx=".9" ry=".6" opacity=".42"/>
<ellipse cx="272.7" cy="219.1" rx="1.4" ry=".5" opacity=".39"/>
<ellipse cx="273.7" cy="215.0" rx=".9" ry=".7" opacity=".38"/>
<ellipse cx="306.9" cy="211.0" rx="1.4" ry=".7" opacity=".28"/>
<ellipse cx="299.8" cy="226.9" rx=".8" ry=".7" opacity=".49"/>
<ellipse cx="260.9" cy="224.6" rx="1.2" ry=".7" opacity=".60"/>
<ellipse cx="255.5" cy="221.6" rx=".8" ry=".6" opacity=".25"/>
<ellipse cx="305.4" cy="228.5" rx="1.2" ry=".6" opacity=".43"/>
<ellipse cx="296.2" cy="226.4" rx="1.1" ry=".6" opacity=".15"/>
<ellipse cx="274.2" cy="207.9" rx="1.6" ry=".8" opacity=".66"/>
<ellipse cx="289.8" cy="218.3" rx="1.1" ry=".5" opacity=".51"/>
<ellipse cx="256.5" cy="218.7" rx="1.2" ry=".6" opacity=".77"/>
<ellipse cx="299.7" cy="214.1" rx="1.7" ry=".8" opacity=".41"/>
<ellipse cx="271.3" cy="215.1" rx="1.3" ry=".5" opacity=".64"/>
<ellipse cx="309.4" cy="198.3" rx="1.8" ry=".5" opacity=".43"/>
<ellipse cx="287.8" cy="218.2" rx=".9" ry=".4" opacity=".29"/>
<ellipse cx="284.7" cy="216.3" rx="1.9" ry=".5" opacity=".42"/>
<ellipse cx="257.6" cy="208.5" rx="2.0" ry=".5" opacity=".84"/>
<ellipse cx="282.8" cy="203.7" rx="1.0" ry=".8" opacity=".66"/>
<ellipse cx="299.2" cy="213.7" rx="1.5" ry=".4" opacity=".55"/>
<ellipse cx="267.4" cy="228.7" rx="1.4" ry=".7" opacity=".30"/>
<ellipse cx="283.0" cy="214.1" rx=".7" ry=".4" opacity=".26"/>
<ellipse cx="309.4" cy="239.5" rx="1.1" ry=".7" opacity=".45"/>
<ellipse cx="273.0" cy="212.8" rx="1.4" ry=".7" opacity=".18"/>
<ellipse cx="262.1" cy="212.8" rx="1.2" ry=".6" opacity=".31"/>
<ellipse cx="281.3" cy="222.0" rx="1.0" ry=".6" opacity=".36"/>
<ellipse cx="288.7" cy="240.7" rx=".8" ry=".8" opacity=".49"/>
<ellipse cx="278.3" cy="225.3" rx="1.2" ry=".6" opacity=".59"/>
<ellipse cx="295.7" cy="220.6" rx="2.0" ry=".7" opacity=".59"/>
<ellipse cx="274.7" cy="204.2" rx="1.2" ry=".6" opacity=".67"/>
<ellipse cx="281.7" cy="205.6" rx="1.9" ry=".5" opacity=".18"/>
<ellipse cx="293.7" cy="218.1" rx="1.9" ry=".7" opacity=".46"/>
<ellipse cx="295.3" cy="214.0" rx=".7" ry=".4" opacity=".38"/>
<ellipse cx="280.3" cy="238.1" rx="1.2" ry=".4" opacity=".58"/>
<ellipse cx="281.7" cy="221.2" rx="1.2" ry=".5" opacity=".20"/>
<ellipse cx="304.9" cy="232.4" rx="2.0" ry=".7" opacity=".54"/>
<ellipse cx="275.4" cy="223.8" rx="1.7" ry=".6" opacity=".73"/>
<ellipse cx="256.0" cy="211.1" rx="1.7" ry=".4" opacity=".59"/>
<ellipse cx="307.3" cy="230.9" rx="1.0" ry=".5" opacity=".15"/>
<ellipse cx="303.9" cy="220.4" rx="1.7" ry=".6" opacity=".30"/>
<ellipse cx="285.3" cy="223.8" rx="1.9" ry=".5" opacity=".44"/>
<ellipse cx="306.2" cy="221.4" rx="2.0" ry=".6" opacity=".22"/>
<ellipse cx="267.9" cy="242.9" rx=".9" ry=".7" opacity=".41"/>
<ellipse cx="278.5" cy="206.4" rx=".9" ry=".8" opacity=".74"/>
<ellipse cx="262.2" cy="214.2" rx="1.8" ry=".4" opacity=".26"/>
<ellipse cx="293.7" cy="213.6" rx="1.1" ry=".8" opacity=".61"/>
<ellipse cx="293.0" cy="234.7" rx="1.9" ry=".6" opacity=".19"/>
<ellipse cx="263.5" cy="236.6" rx="1.1" ry=".7" opacity=".32"/>
<ellipse cx="261.0" cy="222.3" rx="1.7" ry=".5" opacity=".65"/>
<ellipse cx="303.3" cy="241.1" rx="1.4" ry=".5" opacity=".27"/>
<ellipse cx="305.8" cy="214.8" rx="1.5" ry=".4" opacity=".59"/>
<ellipse cx="276.6" cy="210.6" rx="1.4" ry=".6" opacity=".19"/>
<ellipse cx="286.1" cy="218.1" rx="1.7" ry=".4" opacity=".32"/>
<ellipse cx="295.5" cy="230.8" rx="1.0" ry=".5" opacity=".43"/>
<ellipse cx="261.3" cy="242.9" rx=".7" ry=".6" opacity=".71"/>
<ellipse cx="273.2" cy="197.9" rx="1.9" ry=".6" opacity=".22"/>
<ellipse cx="283.5" cy="212.3" rx="1.5" ry=".7" opacity=".46"/>
<ellipse cx="280.5" cy="209.9" rx="1.8" ry=".7" opacity=".47"/>
<ellipse cx="307.3" cy="231.6" rx=".9" ry=".6" opacity=".23"/>
<ellipse cx="276.6" cy="242.1" rx="1.7" ry=".7" opacity=".66"/>
<ellipse cx="264.3" cy="210.5" rx="1.4" ry=".6" opacity=".21"/>
<ellipse cx="286.0" cy="221.1" rx="1.6" ry=".6" opacity=".65"/>
<ellipse cx="260.9" cy="221.9" rx="1.3" ry=".6" opacity=".50"/>
<ellipse cx="265.9" cy="222.6" rx="1.7" ry=".4" opacity=".80"/>
<ellipse cx="284.3" cy="197.9" rx="1.0" ry=".5" opacity=".26"/>
<ellipse cx="252.6" cy="213.7" rx="1.1" ry=".6" opacity=".59"/>
<ellipse cx="266.0" cy="215.3" rx="1.8" ry=".5" opacity=".35"/>
<ellipse cx="259.7" cy="217.2" rx="1.6" ry=".7" opacity=".75"/>
<ellipse cx="253.8" cy="209.1" rx=".9" ry=".8" opacity=".23"/>
<ellipse cx="279.5" cy="227.5" rx="1.7" ry=".8" opacity=".25"/>
<ellipse cx="277.5" cy="220.3" rx="1.0" ry=".8" opacity=".25"/>
<ellipse cx="273.7" cy="216.4" rx="1.0" ry=".6" opacity=".22"/>
<ellipse cx="252.2" cy="242.9" rx="1.6" ry=".5" opacity=".39"/>
<ellipse cx="283.3" cy="219.8" rx="1.0" ry=".6" opacity=".70"/>
<ellipse cx="272.0" cy="199.8" rx="1.5" ry=".4" opacity=".35"/>
<ellipse cx="289.2" cy="242.9" rx=".7" ry=".5" opacity=".54"/>
<ellipse cx="302.1" cy="197.9" rx="1.3" ry=".6" opacity=".42"/>
<ellipse cx="273.0" cy="204.6" rx="1.7" ry=".5" opacity=".36"/>
<ellipse cx="261.1" cy="212.4" rx=".9" ry=".5" opacity=".52"/>
<ellipse cx="268.6" cy="217.8" rx="1.2" ry=".8" opacity=".63"/>
<ellipse cx="301.9" cy="224.3" rx=".7" ry=".7" opacity=".31"/>
<ellipse cx="266.6" cy="233.6" rx=".7" ry=".5" opacity=".36"/>
<ellipse cx="273.7" cy="240.1" rx="1.0" ry=".5" opacity=".27"/>
<ellipse cx="306.4" cy="210.1" rx="1.1" ry=".7" opacity=".46"/>
<ellipse cx="304.6" cy="232.7" rx="1.2" ry=".4" opacity=".55"/>
<ellipse cx="269.6" cy="222.0" rx="1.7" ry=".6" opacity=".21"/>
<ellipse cx="273.8" cy="220.7" rx=".8" ry=".6" opacity=".19"/>
<ellipse cx="268.9" cy="224.4" rx="1.2" ry=".6" opacity=".27"/>
<ellipse cx="292.6" cy="218.9" rx="1.5" ry=".5" opacity=".25"/>
<ellipse cx="266.9" cy="242.9" rx="1.6" ry=".6" opacity=".44"/>
<ellipse cx="302.1" cy="222.1" rx="1.1" ry=".5" opacity=".15"/>
<ellipse cx="251.6" cy="231.9" rx="1.5" ry=".6" opacity=".81"/>
<ellipse cx="308.7" cy="214.2" rx="1.9" ry=".5" opacity=".44"/>
<ellipse cx="290.2" cy="240.4" rx="1.9" ry=".7" opacity=".28"/>
<ellipse cx="288.1" cy="232.9" rx="1.2" ry=".4" opacity=".37"/>
<ellipse cx="269.8" cy="228.3" rx="1.3" ry=".5" opacity=".28"/>
<ellipse cx="274.3" cy="212.0" rx="1.5" ry=".5" opacity=".23"/>
<ellipse cx="270.6" cy="221.7" rx="1.2" ry=".5" opacity=".55"/>
<ellipse cx="292.3" cy="199.8" rx=".7" ry=".6" opacity=".28"/>
<ellipse cx="253.9" cy="213.3" rx="1.2" ry=".4" opacity=".56"/>
<ellipse cx="285.3" cy="208.2" rx="1.0" ry=".4" opacity=".35"/>
<ellipse cx="303.7" cy="222.8" rx="1.4" ry=".5" opacity=".45"/>
<ellipse cx="261.3" cy="201.4" rx="1.9" ry=".5" opacity=".50"/>
<ellipse cx="306.7" cy="224.1" rx="1.7" ry=".7" opacity=".41"/>
<ellipse cx="274.8" cy="210.7" rx="1.8" ry=".8" opacity=".41"/>
<ellipse cx="304.8" cy="226.1" rx=".7" ry=".5" opacity=".37"/>
<ellipse cx="268.6" cy="197.9" rx=".8" ry=".5" opacity=".25"/>
<ellipse cx="291.0" cy="242.9" rx="1.0" ry=".4" opacity=".44"/>
<ellipse cx="273.8" cy="221.5" rx="1.5" ry=".6" opacity=".57"/>
<ellipse cx="283.8" cy="236.7" rx="1.8" ry=".8" opacity=".35"/>
<ellipse cx="270.9" cy="229.6" rx="1.6" ry=".7" opacity=".62"/>
<ellipse cx="308.0" cy="212.4" rx="1.8" ry=".5" opacity=".41"/>
<ellipse cx="279.6" cy="208.0" rx="1.0" ry=".7" opacity=".48"/>
<ellipse cx="264.3" cy="215.1" rx="1.0" ry=".5" opacity=".30"/>
<ellipse cx="281.0" cy="224.0" rx=".7" ry=".4" opacity=".58"/>
<ellipse cx="256.9" cy="224.0" rx="1.3" ry=".7" opacity=".54"/>
<ellipse cx="259.9" cy="239.3" rx=".7" ry=".5" opacity=".55"/>
<ellipse cx="298.0" cy="199.3" rx="1.2" ry=".7" opacity=".21"/>
<ellipse cx="293.1" cy="214.5" rx="1.7" ry=".7" opacity=".59"/>
<ellipse cx="284.2" cy="231.6" rx="1.2" ry=".7" opacity=".52"/>
<ellipse cx="300.0" cy="222.7" rx="1.2" ry=".7" opacity=".25"/>
<ellipse cx="261.2" cy="213.5" rx=".7" ry=".6" opacity=".85"/>
<ellipse cx="308.4" cy="234.7" rx="1.2" ry=".7" opacity=".30"/>
<ellipse cx="306.2" cy="236.4" rx="2.0" ry=".4" opacity=".46"/>
<ellipse cx="257.2" cy="231.5" rx="1.6" ry=".8" opacity=".28"/>
<ellipse cx="269.9" cy="223.4" rx=".7" ry=".6" opacity=".49"/>
<ellipse cx="272.5" cy="211.2" rx="1.8" ry=".5" opacity=".42"/>
<ellipse cx="287.2" cy="242.9" rx="1.7" ry=".8" opacity=".37"/>
<ellipse cx="291.8" cy="197.9" rx=".8" ry=".5" opacity=".16"/>
<ellipse cx="306.2" cy="213.2" rx="1.0" ry=".6" opacity=".18"/>
<ellipse cx="269.6" cy="238.4" rx=".8" ry=".7" opacity=".36"/>
<ellipse cx="263.8" cy="222.6" rx="1.3" ry=".5" opacity=".36"/>
<ellipse cx="253.2" cy="242.9" rx="1.1" ry=".4" opacity=".33"/>
<ellipse cx="279.2" cy="232.1" rx="2.0" ry=".5" opacity=".69"/>
<ellipse cx="279.2" cy="198.5" rx="1.2" ry=".4" opacity=".39"/>
<ellipse cx="289.6" cy="233.4" rx="1.5" ry=".5" opacity=".67"/>
<ellipse cx="302.1" cy="235.6" rx="1.8" ry=".7" opacity=".22"/>
<ellipse cx="251.7" cy="219.9" rx=".9" ry=".4" opacity=".26"/>
<ellipse cx="271.7" cy="220.7" rx="1.3" ry=".4" opacity=".31"/>
<ellipse cx="307.8" cy="208.3" rx=".7" ry=".6" opacity=".49"/>
<ellipse cx="297.7" cy="219.1" rx="1.7" ry=".7" opacity=".53"/>
<ellipse cx="309.4" cy="206.3" rx=".8" ry=".8" opacity=".29"/>
<ellipse cx="292.5" cy="220.3" rx=".7" ry=".6" opacity=".27"/>
<ellipse cx="273.4" cy="242.9" rx="1.1" ry=".7" opacity=".69"/>
<ellipse cx="272.0" cy="211.9" rx="1.0" ry=".8" opacity=".38"/>
<ellipse cx="255.8" cy="210.4" rx="1.1" ry=".7" opacity=".35"/>
<ellipse cx="294.8" cy="200.1" rx=".9" ry=".4" opacity=".18"/>
<ellipse cx="271.2" cy="214.3" rx="1.2" ry=".4" opacity=".50"/>
<ellipse cx="274.3" cy="212.8" rx="1.9" ry=".5" opacity=".73"/>
<ellipse cx="269.4" cy="236.1" rx="1.7" ry=".4" opacity=".83"/>
<ellipse cx="275.9" cy="230.0" rx="1.2" ry=".7" opacity=".28"/>
<ellipse cx="266.5" cy="218.1" rx="1.6" ry=".8" opacity=".40"/>
<ellipse cx="261.1" cy="197.9" rx=".8" ry=".7" opacity=".35"/>
<ellipse cx="288.8" cy="242.9" rx=".9" ry=".6" opacity=".65"/>
<ellipse cx="301.6" cy="208.9" rx="1.4" ry=".4" opacity=".54"/>
<ellipse cx="291.6" cy="208.4" rx="1.3" ry=".7" opacity=".37"/>
<ellipse cx="273.2" cy="222.8" rx="1.4" ry=".6" opacity=".19"/>
<ellipse cx="287.8" cy="239.3" rx="1.2" ry=".6" opacity=".49"/>
<ellipse cx="306.1" cy="229.5" rx="2.0" ry=".7" opacity=".27"/>
<ellipse cx="294.4" cy="233.3" rx="2.0" ry=".6" opacity=".60"/>
<ellipse cx="257.7" cy="236.7" rx="1.0" ry=".7" opacity=".66"/>
<ellipse cx="306.5" cy="219.4" rx="1.8" ry=".7" opacity=".36"/>
<ellipse cx="309.8" cy="242.9" rx="1.6" ry=".5" opacity=".48"/>
<ellipse cx="277.4" cy="231.6" rx="1.4" ry=".7" opacity=".29"/>
<ellipse cx="266.9" cy="217.0" rx="1.4" ry=".7" opacity=".51"/>
<ellipse cx="264.6" cy="216.1" rx="1.7" ry=".7" opacity=".71"/>
<ellipse cx="283.1" cy="241.2" rx=".8" ry=".5" opacity=".22"/>
<ellipse cx="252.3" cy="206.4" rx="1.1" ry=".7" opacity=".78"/>
<ellipse cx="257.2" cy="226.2" rx="1.8" ry=".6" opacity=".84"/>
<ellipse cx="254.4" cy="233.1" rx="2.0" ry=".5" opacity=".66"/>
<ellipse cx="302.8" cy="219.1" rx="1.5" ry=".6" opacity=".14"/>
<ellipse cx="270.5" cy="211.2" rx="1.1" ry=".7" opacity=".36"/>
<ellipse cx="286.3" cy="217.4" rx=".8" ry=".7" opacity=".42"/>
<ellipse cx="257.9" cy="212.1" rx=".8" ry=".8" opacity=".63"/>
<ellipse cx="271.6" cy="235.5" rx="1.6" ry=".7" opacity=".41"/>
<ellipse cx="268.7" cy="242.9" rx="1.2" ry=".5" opacity=".60"/>
<ellipse cx="275.6" cy="226.5" rx="1.3" ry=".6" opacity=".76"/>
<ellipse cx="270.9" cy="207.4" rx="1.6" ry=".5" opacity=".54"/>
<ellipse cx="267.2" cy="228.4" rx="1.8" ry=".7" opacity=".48"/>
<ellipse cx="306.2" cy="212.1" rx="1.2" ry=".7" opacity=".41"/>
<ellipse cx="277.0" cy="233.9" rx="1.0" ry=".6" opacity=".76"/>
<ellipse cx="267.7" cy="226.1" rx="1.6" ry=".7" opacity=".34"/>
<ellipse cx="274.8" cy="240.5" rx="1.0" ry=".6" opacity=".38"/>
<ellipse cx="299.4" cy="242.4" rx="1.8" ry=".6" opacity=".41"/>
<ellipse cx="256.1" cy="225.2" rx="1.1" ry=".5" opacity=".72"/>
<ellipse cx="290.3" cy="216.7" rx="1.1" ry=".8" opacity=".67"/>
<ellipse cx="251.5" cy="209.8" rx="1.1" ry=".6" opacity=".44"/>
<ellipse cx="290.4" cy="208.7" rx="1.5" ry=".8" opacity=".68"/>
<ellipse cx="309.8" cy="199.5" rx="1.5" ry=".7" opacity=".46"/>
<ellipse cx="254.1" cy="236.5" rx="1.3" ry=".6" opacity=".68"/>
<ellipse cx="263.2" cy="230.0" rx="1.1" ry=".5" opacity=".46"/>
<ellipse cx="294.7" cy="219.8" rx=".8" ry=".5" opacity=".48"/>
<ellipse cx="287.5" cy="219.9" rx="1.7" ry=".7" opacity=".59"/>
<ellipse cx="257.3" cy="209.7" rx="1.3" ry=".4" opacity=".81"/>
<ellipse cx="306.9" cy="222.9" rx="1.1" ry=".6" opacity=".37"/>
<ellipse cx="256.8" cy="218.5" rx="1.7" ry=".5" opacity=".56"/>
<ellipse cx="257.6" cy="213.7" rx=".8" ry=".6" opacity=".40"/>
<ellipse cx="296.8" cy="217.3" rx="1.0" ry=".6" opacity=".17"/>
<ellipse cx="263.2" cy="203.3" rx="1.3" ry=".7" opacity=".23"/>
<ellipse cx="301.2" cy="225.8" rx=".9" ry=".8" opacity=".39"/>
<ellipse cx="274.5" cy="199.0" rx="2.0" ry=".6" opacity=".14"/>
<ellipse cx="259.3" cy="202.2" rx="1.8" ry=".7" opacity=".60"/>
<ellipse cx="259.5" cy="217.1" rx=".8" ry=".5" opacity=".88"/>
<ellipse cx="288.7" cy="219.7" rx="1.8" ry=".4" opacity=".38"/>
<ellipse cx="254.8" cy="219.9" rx="1.9" ry=".5" opacity=".56"/>
<ellipse cx="289.4" cy="227.2" rx="1.8" ry=".8" opacity=".46"/>
<ellipse cx="280.2" cy="232.0" rx="1.0" ry=".7" opacity=".32"/>
<ellipse cx="272.2" cy="212.4" rx="1.2" ry=".6" opacity=".40"/>
<ellipse cx="276.0" cy="216.1" rx="1.8" ry=".4" opacity=".50"/>
<ellipse cx="283.0" cy="221.8" rx="1.2" ry=".5" opacity=".22"/>
<ellipse cx="272.5" cy="214.0" rx="1.0" ry=".7" opacity=".49"/>
<ellipse cx="250.6" cy="235.2" rx="1.2" ry=".8" opacity=".21"/>
<ellipse cx="285.8" cy="233.4" rx="1.5" ry=".5" opacity=".33"/>
<ellipse cx="286.7" cy="217.1" rx="1.4" ry=".5" opacity=".44"/>
<ellipse cx="281.1" cy="220.5" rx=".8" ry=".5" opacity=".32"/>
<ellipse cx="297.9" cy="215.8" rx="1.2" ry=".7" opacity=".34"/>
<ellipse cx="267.3" cy="217.9" rx="2.0" ry=".7" opacity=".40"/>
<ellipse cx="269.2" cy="215.0" rx="1.8" ry=".7" opacity=".60"/>
<ellipse cx="253.5" cy="220.8" rx="1.5" ry=".6" opacity=".89"/>
<ellipse cx="288.5" cy="216.0" rx=".7" ry=".8" opacity=".57"/>
<ellipse cx="284.9" cy="242.9" rx="1.2" ry=".7" opacity=".72"/>
<ellipse cx="305.2" cy="221.2" rx=".7" ry=".7" opacity=".34"/>
<ellipse cx="295.3" cy="209.4" rx="1.2" ry=".4" opacity=".31"/>
<ellipse cx="294.3" cy="231.0" rx=".7" ry=".4" opacity=".58"/>
<ellipse cx="290.1" cy="213.8" rx=".8" ry=".5" opacity=".67"/>
<ellipse cx="283.8" cy="218.4" rx="1.9" ry=".5" opacity=".40"/>
<ellipse cx="282.3" cy="224.2" rx="1.8" ry=".6" opacity=".18"/>
<ellipse cx="276.1" cy="214.3" rx="1.2" ry=".7" opacity=".75"/>
<ellipse cx="279.8" cy="215.2" rx="1.7" ry=".4" opacity=".61"/>
<ellipse cx="260.1" cy="207.5" rx="1.4" ry=".5" opacity=".42"/>
<ellipse cx="259.9" cy="209.4" rx="1.3" ry=".6" opacity=".60"/>
<ellipse cx="300.7" cy="235.6" rx="1.1" ry=".6" opacity=".37"/>
<ellipse cx="309.0" cy="210.2" rx="1.0" ry=".5" opacity=".45"/>
<ellipse cx="284.7" cy="239.6" rx="1.0" ry=".4" opacity=".63"/>
<ellipse cx="272.8" cy="217.3" rx="1.5" ry=".6" opacity=".80"/>
<ellipse cx="304.8" cy="205.8" rx="1.3" ry=".6" opacity=".22"/>
<ellipse cx="295.4" cy="230.0" rx="1.8" ry=".4" opacity=".51"/>
<ellipse cx="284.2" cy="227.6" rx="1.4" ry=".5" opacity=".24"/>
<ellipse cx="307.2" cy="222.7" rx=".8" ry=".7" opacity=".22"/>
<ellipse cx="262.1" cy="197.9" rx="1.4" ry=".6" opacity=".21"/>
<ellipse cx="296.1" cy="197.9" rx="1.9" ry=".7" opacity=".25"/>
<ellipse cx="307.3" cy="205.5" rx="1.6" ry=".5" opacity=".49"/>
<ellipse cx="293.8" cy="219.4" rx=".7" ry=".6" opacity=".28"/>
<ellipse cx="267.7" cy="231.0" rx="1.0" ry=".5" opacity=".50"/>
<ellipse cx="266.5" cy="217.9" rx="1.3" ry=".7" opacity=".29"/>
<ellipse cx="301.8" cy="231.4" rx="1.8" ry=".6" opacity=".40"/>
<ellipse cx="294.2" cy="200.3" rx="1.9" ry=".7" opacity=".23"/>
<ellipse cx="253.4" cy="216.0" rx="1.9" ry=".5" opacity=".78"/>
<ellipse cx="253.1" cy="214.3" rx="1.8" ry="1.0" opacity="1.00"/>
<ellipse cx="255.5" cy="220.4" rx="1.6" ry="1.0" opacity="1.00"/>
<ellipse cx="251.9" cy="204.5" rx="1.3" ry=".7" opacity=".70"/>
<ellipse cx="277.7" cy="215.3" rx="1.8" ry=".9" opacity="1.00"/>
<ellipse cx="288.0" cy="216.7" rx="2.4" ry="1.0" opacity="1.00"/>
<ellipse cx="272.3" cy="217.6" rx="1.4" ry=".9" opacity=".95"/>
<ellipse cx="271.1" cy="227.9" rx="1.4" ry="1.2" opacity="1.00"/>
<ellipse cx="286.2" cy="227.0" rx="2.2" ry="1.0" opacity="1.00"/>
<ellipse cx="277.1" cy="232.1" rx="1.8" ry=".9" opacity=".95"/>
<ellipse cx="262.1" cy="234.4" rx="1.3" ry=".8" opacity=".80"/>
<ellipse cx="286.2" cy="239.6" rx="1.4" ry=".8" opacity=".80"/>
<ellipse cx="268.7" cy="222.3" rx="1.6" ry=".7" opacity=".80"/>
<ellipse cx="260.3" cy="228.4" rx="1.3" ry=".7" opacity=".75"/>
<ellipse cx="298.8" cy="225.5" rx="1.4" ry=".7" opacity=".70"/>
<ellipse cx="301.2" cy="233.0" rx="1.3" ry=".7" opacity=".70"/>
<ellipse cx="269.9" cy="199.3" rx="1.6" ry=".7" opacity=".80"/>
<ellipse cx="289.2" cy="201.2" rx="1.4" ry=".6" opacity=".70"/>
<ellipse cx="276.5" cy="202.1" rx="1.3" ry=".6" opacity=".70"/>
<ellipse cx="297.6" cy="207.3" rx="1.3" ry=".6" opacity=".65"/>
<ellipse cx="256.1" cy="238.7" rx="1.3" ry=".7" opacity=".70"/>
<ellipse cx="265.1" cy="211.5" rx="1.3" ry=".6" opacity=".70"/>
<ellipse cx="306.6" cy="208.7" rx="1.1" ry=".6" opacity=".60"/>
<ellipse cx="296.4" cy="218.1" rx="1.4" ry=".7" opacity=".70"/>
<ellipse cx="282.6" cy="235.4" rx="1.3" ry=".7" opacity=".70"/>
<ellipse cx="305.4" cy="240.1" rx="1.3" ry=".7" opacity=".70"/>
<ellipse cx="292.2" cy="211.0" rx="1.2" ry=".6" opacity=".60"/>
<ellipse cx="281.4" cy="222.7" rx="1.3" ry=".6" opacity=".70"/>
<ellipse cx="257.3" cy="225.1" rx="1.2" ry=".6" opacity=".60"/>
<ellipse cx="293.4" cy="230.7" rx="1.2" ry=".6" opacity=".60"/>
<ellipse cx="274.1" cy="210.1" rx="1.2" ry=".6" opacity=".60"/>
</g></g>
<g clip-path="url(#cC10)" fill="#fff">
<rect x="55.0" y="247.8" width="64.1" height="46.9" fill="rgb(3,3,3)"/>
<g filter="url(#b05)">
<ellipse cx="79.0" cy="260.7" rx=".9" ry=".5" opacity=".03" transform="rotate(-12 79.0 260.7)"/>
<ellipse cx="113.1" cy="250.6" rx=".9" ry=".4" opacity=".03" transform="rotate(-12 113.1 250.6)"/>
<ellipse cx="113.7" cy="271.7" rx=".5" ry=".6" opacity=".04" transform="rotate(-12 113.7 271.7)"/>
<ellipse cx="62.2" cy="267.6" rx=".5" ry=".4" opacity=".03" transform="rotate(-12 62.2 267.6)"/>
<ellipse cx="65.5" cy="280.5" rx=".5" ry=".4" opacity=".03" transform="rotate(-12 65.5 280.5)"/>
<ellipse cx="80.7" cy="267.4" rx=".8" ry=".5" opacity=".02" transform="rotate(-12 80.7 267.4)"/>
<ellipse cx="57.0" cy="281.9" rx="1.0" ry=".6" opacity=".03" transform="rotate(-12 57.0 281.9)"/>
<ellipse cx="70.1" cy="264.8" rx=".7" ry=".6" opacity=".03" transform="rotate(-12 70.1 264.8)"/>
<ellipse cx="82.4" cy="266.0" rx=".9" ry=".4" opacity=".03" transform="rotate(-12 82.4 266.0)"/>
<ellipse cx="66.4" cy="280.4" rx=".4" ry=".4" opacity=".02" transform="rotate(-12 66.4 280.4)"/>
<ellipse cx="114.2" cy="264.9" rx=".5" ry=".5" opacity=".04" transform="rotate(-12 114.2 264.9)"/>
<ellipse cx="55.6" cy="249.7" rx=".8" ry=".6" opacity=".04" transform="rotate(-12 55.6 249.7)"/>
<ellipse cx="87.3" cy="248.9" rx=".6" ry=".5" opacity=".03" transform="rotate(-12 87.3 248.9)"/>
<ellipse cx="96.0" cy="258.6" rx=".7" ry=".5" opacity=".03" transform="rotate(-12 96.0 258.6)"/>
<ellipse cx="111.0" cy="260.9" rx="1.0" ry=".5" opacity=".03" transform="rotate(-12 111.0 260.9)"/>
<ellipse cx="100.2" cy="257.8" rx=".6" ry=".4" opacity=".03" transform="rotate(-12 100.2 257.8)"/>
<ellipse cx="82.9" cy="293.7" rx=".8" ry=".5" opacity=".04" transform="rotate(-12 82.9 293.7)"/>
<ellipse cx="116.7" cy="283.5" rx=".7" ry=".5" opacity=".04" transform="rotate(-12 116.7 283.5)"/>
<ellipse cx="105.6" cy="275.0" rx=".6" ry=".4" opacity=".03" transform="rotate(-12 105.6 275.0)"/>
<ellipse cx="91.1" cy="248.6" rx=".8" ry=".6" opacity=".03" transform="rotate(-12 91.1 248.6)"/>
<ellipse cx="112.5" cy="290.5" rx=".7" ry=".5" opacity=".02" transform="rotate(-12 112.5 290.5)"/>
<ellipse cx="61.3" cy="264.4" rx=".6" ry=".6" opacity=".03" transform="rotate(-12 61.3 264.4)"/>
<ellipse cx="89.7" cy="277.0" rx=".5" ry=".5" opacity=".03" transform="rotate(-12 89.7 277.0)"/>
<ellipse cx="80.3" cy="259.3" rx=".7" ry=".4" opacity=".03" transform="rotate(-12 80.3 259.3)"/>
<ellipse cx="64.1" cy="252.0" rx=".6" ry=".5" opacity=".03" transform="rotate(-12 64.1 252.0)"/>
<ellipse cx="97.3" cy="291.6" rx=".6" ry=".4" opacity=".02" transform="rotate(-12 97.3 291.6)"/>
<ellipse cx="67.9" cy="268.1" rx=".6" ry=".6" opacity=".03" transform="rotate(-12 67.9 268.1)"/>
<ellipse cx="99.7" cy="255.4" rx=".7" ry=".5" opacity=".04" transform="rotate(-12 99.7 255.4)"/>
<ellipse cx="89.5" cy="283.5" rx=".7" ry=".5" opacity=".03" transform="rotate(-12 89.5 283.5)"/>
<ellipse cx="117.3" cy="273.8" rx=".8" ry=".4" opacity=".03" transform="rotate(-12 117.3 273.8)"/>
<ellipse cx="69.5" cy="273.3" rx=".6" ry=".4" opacity=".03" transform="rotate(-12 69.5 273.3)"/>
<ellipse cx="73.3" cy="291.7" rx=".8" ry=".4" opacity=".04" transform="rotate(-12 73.3 291.7)"/>
<ellipse cx="112.5" cy="262.9" rx=".5" ry=".5" opacity=".04" transform="rotate(-12 112.5 262.9)"/>
<ellipse cx="81.1" cy="265.6" rx=".7" ry=".4" opacity=".03" transform="rotate(-12 81.1 265.6)"/>
<ellipse cx="65.9" cy="257.4" rx=".6" ry=".6" opacity=".03" transform="rotate(-12 65.9 257.4)"/>
<ellipse cx="58.4" cy="287.0" rx=".9" ry=".6" opacity=".02" transform="rotate(-12 58.4 287.0)"/>
<ellipse cx="102.1" cy="262.1" rx=".5" ry=".6" opacity=".03" transform="rotate(-12 102.1 262.1)"/>
<ellipse cx="98.9" cy="272.9" rx=".7" ry=".5" opacity=".03" transform="rotate(-12 98.9 272.9)"/>
<ellipse cx="106.3" cy="271.5" rx=".8" ry=".5" opacity=".03" transform="rotate(-12 106.3 271.5)"/>
<ellipse cx="114.3" cy="270.9" rx=".9" ry=".5" opacity=".04" transform="rotate(-12 114.3 270.9)"/>
<ellipse cx="98.7" cy="267.8" rx=".7" ry=".5" opacity=".03" transform="rotate(-12 98.7 267.8)"/>
<ellipse cx="58.6" cy="248.2" rx=".6" ry=".4" opacity=".03" transform="rotate(-12 58.6 248.2)"/>
<ellipse cx="94.5" cy="293.1" rx="1.0" ry=".5" opacity=".04" transform="rotate(-12 94.5 293.1)"/>
<ellipse cx="60.6" cy="276.3" rx="1.0" ry=".6" opacity=".03" transform="rotate(-12 60.6 276.3)"/>
<ellipse cx="114.8" cy="264.8" rx=".6" ry=".6" opacity=".03" transform="rotate(-12 114.8 264.8)"/>
<ellipse cx="97.9" cy="248.4" rx=".6" ry=".5" opacity=".03" transform="rotate(-12 97.9 248.4)"/>
<ellipse cx="107.9" cy="283.3" rx=".6" ry=".4" opacity=".04" transform="rotate(-12 107.9 283.3)"/>
<ellipse cx="118.4" cy="270.5" rx=".5" ry=".5" opacity=".03" transform="rotate(-12 118.4 270.5)"/>
<ellipse cx="89.7" cy="292.5" rx=".9" ry=".4" opacity=".02" transform="rotate(-12 89.7 292.5)"/>
<ellipse cx="61.6" cy="282.4" rx=".8" ry=".4" opacity=".03" transform="rotate(-12 61.6 282.4)"/>
<ellipse cx="93.2" cy="274.9" rx=".7" ry=".4" opacity=".02" transform="rotate(-12 93.2 274.9)"/>
<ellipse cx="80.6" cy="257.4" rx=".6" ry=".4" opacity=".02" transform="rotate(-12 80.6 257.4)"/>
<ellipse cx="115.1" cy="261.7" rx=".6" ry=".5" opacity=".02" transform="rotate(-12 115.1 261.7)"/>
<ellipse cx="95.9" cy="277.7" rx=".8" ry=".5" opacity=".04" transform="rotate(-12 95.9 277.7)"/>
<ellipse cx="84.4" cy="291.7" rx=".7" ry=".5" opacity=".02" transform="rotate(-12 84.4 291.7)"/>
<ellipse cx="100.8" cy="283.0" rx=".6" ry=".5" opacity=".03" transform="rotate(-12 100.8 283.0)"/>
<ellipse cx="87.2" cy="278.9" rx=".8" ry=".5" opacity=".02" transform="rotate(-12 87.2 278.9)"/>
<ellipse cx="74.7" cy="249.0" rx="1.0" ry=".5" opacity=".02" transform="rotate(-12 74.7 249.0)"/>
<ellipse cx="117.0" cy="290.1" rx=".5" ry=".6" opacity=".02" transform="rotate(-12 117.0 290.1)"/>
<ellipse cx="62.5" cy="262.2" rx=".5" ry=".4" opacity=".03" transform="rotate(-12 62.5 262.2)"/>
<ellipse cx="69.6" cy="288.2" rx="1.0" ry=".6" opacity=".03" transform="rotate(-12 69.6 288.2)"/>
<ellipse cx="78.5" cy="256.6" rx="1.0" ry=".5" opacity=".03" transform="rotate(-12 78.5 256.6)"/>
<ellipse cx="94.6" cy="256.5" rx=".9" ry=".6" opacity=".03" transform="rotate(-12 94.6 256.5)"/>
<ellipse cx="82.9" cy="248.8" rx=".7" ry=".4" opacity=".02" transform="rotate(-12 82.9 248.8)"/>
<ellipse cx="60.0" cy="291.0" rx=".7" ry=".5" opacity=".04" transform="rotate(-12 60.0 291.0)"/>
<ellipse cx="112.5" cy="273.6" rx=".7" ry=".6" opacity=".02" transform="rotate(-12 112.5 273.6)"/>
<ellipse cx="112.7" cy="248.9" rx=".9" ry=".5" opacity=".03" transform="rotate(-12 112.7 248.9)"/>
<ellipse cx="118.5" cy="258.1" rx=".7" ry=".5" opacity=".03" transform="rotate(-12 118.5 258.1)"/>
<ellipse cx="88.6" cy="284.2" rx=".8" ry=".6" opacity=".03" transform="rotate(-12 88.6 284.2)"/>
<ellipse cx="117.5" cy="254.4" rx=".8" ry=".4" opacity=".04" transform="rotate(-12 117.5 254.4)"/>
<ellipse cx="89.1" cy="256.1" rx=".9" ry=".6" opacity=".04" transform="rotate(-12 89.1 256.1)"/>
<ellipse cx="69.3" cy="266.7" rx=".8" ry=".4" opacity=".03" transform="rotate(-12 69.3 266.7)"/>
<ellipse cx="103.4" cy="268.1" rx=".5" ry=".4" opacity=".03" transform="rotate(-12 103.4 268.1)"/>
<ellipse cx="91.3" cy="273.1" rx=".7" ry=".6" opacity=".04" transform="rotate(-12 91.3 273.1)"/>
<ellipse cx="62.8" cy="292.8" rx=".5" ry=".4" opacity=".02" transform="rotate(-12 62.8 292.8)"/>
<ellipse cx="107.5" cy="279.7" rx="1.0" ry=".5" opacity=".02" transform="rotate(-12 107.5 279.7)"/>
<ellipse cx="113.4" cy="262.7" rx=".5" ry=".6" opacity=".04" transform="rotate(-12 113.4 262.7)"/>
<ellipse cx="61.0" cy="270.3" rx="1.0" ry=".6" opacity=".03" transform="rotate(-12 61.0 270.3)"/>
<ellipse cx="98.2" cy="269.7" rx=".9" ry=".5" opacity=".04" transform="rotate(-12 98.2 269.7)"/>
<ellipse cx="109.2" cy="279.6" rx=".8" ry=".4" opacity=".02" transform="rotate(-12 109.2 279.6)"/>
<ellipse cx="95.0" cy="263.2" rx="1.0" ry=".5" opacity=".03" transform="rotate(-12 95.0 263.2)"/>
<ellipse cx="82.8" cy="266.2" rx=".5" ry=".6" opacity=".04" transform="rotate(-12 82.8 266.2)"/>
<ellipse cx="75.8" cy="275.3" rx=".5" ry=".4" opacity=".03" transform="rotate(-12 75.8 275.3)"/>
<ellipse cx="86.1" cy="289.5" rx=".5" ry=".4" opacity=".04" transform="rotate(-12 86.1 289.5)"/>
<ellipse cx="94.0" cy="280.3" rx=".8" ry=".4" opacity=".04" transform="rotate(-12 94.0 280.3)"/>
<ellipse cx="86.8" cy="290.4" rx=".5" ry=".4" opacity=".03" transform="rotate(-12 86.8 290.4)"/>
<ellipse cx="72.4" cy="292.3" rx=".9" ry=".5" opacity=".02" transform="rotate(-12 72.4 292.3)"/>
<ellipse cx="57.7" cy="286.8" rx=".5" ry=".4" opacity=".02" transform="rotate(-12 57.7 286.8)"/>
<ellipse cx="102.1" cy="254.4" rx=".6" ry=".4" opacity=".02" transform="rotate(-12 102.1 254.4)"/>
<ellipse cx="73.9" cy="285.0" rx="1.0" ry=".4" opacity=".02" transform="rotate(-12 73.9 285.0)"/>
<ellipse cx="116.5" cy="254.9" rx=".5" ry=".4" opacity=".04" transform="rotate(-12 116.5 254.9)"/>
<ellipse cx="93.1" cy="282.6" rx=".9" ry=".5" opacity=".04" transform="rotate(-12 93.1 282.6)"/>
<ellipse cx="72.5" cy="280.4" rx="1.0" ry=".4" opacity=".03" transform="rotate(-12 72.5 280.4)"/>
<ellipse cx="114.8" cy="279.7" rx=".9" ry=".6" opacity=".02" transform="rotate(-12 114.8 279.7)"/>
<ellipse cx="99.6" cy="278.5" rx=".8" ry=".4" opacity=".04" transform="rotate(-12 99.6 278.5)"/>
<ellipse cx="65.1" cy="268.7" rx=".8" ry=".5" opacity=".03" transform="rotate(-12 65.1 268.7)"/>
<ellipse cx="75.0" cy="261.8" rx=".9" ry=".4" opacity=".04" transform="rotate(-12 75.0 261.8)"/>
<ellipse cx="63.7" cy="250.9" rx=".5" ry=".5" opacity=".04" transform="rotate(-12 63.7 250.9)"/>
<ellipse cx="55.4" cy="269.5" rx=".6" ry=".4" opacity=".02" transform="rotate(-12 55.4 269.5)"/>
<ellipse cx="114.5" cy="281.5" rx="1.0" ry=".6" opacity=".03" transform="rotate(-12 114.5 281.5)"/>
<ellipse cx="69.5" cy="252.9" rx="1.0" ry=".5" opacity=".03" transform="rotate(-12 69.5 252.9)"/>
<ellipse cx="117.0" cy="277.0" rx=".5" ry=".4" opacity=".03" transform="rotate(-12 117.0 277.0)"/>
<ellipse cx="77.6" cy="270.2" rx=".5" ry=".4" opacity=".02" transform="rotate(-12 77.6 270.2)"/>
<ellipse cx="56.9" cy="260.0" rx="1.5" ry=".8" opacity=".05" transform="rotate(-12 56.9 260.0)"/>
<ellipse cx="60.1" cy="270.3" rx="1.7" ry=".8" opacity=".06" transform="rotate(-12 60.1 270.3)"/>
<ellipse cx="69.1" cy="265.6" rx="1.4" ry=".8" opacity=".05" transform="rotate(-12 69.1 265.6)"/>
<ellipse cx="74.2" cy="265.2" rx="1.3" ry=".8" opacity=".05" transform="rotate(-12 74.2 265.2)"/>
<ellipse cx="82.6" cy="257.6" rx="1.5" ry=".8" opacity=".05" transform="rotate(-12 82.6 257.6)"/>
<ellipse cx="84.5" cy="262.8" rx="1.3" ry=".7" opacity=".04" transform="rotate(-12 84.5 262.8)"/>
<ellipse cx="90.3" cy="267.5" rx="2.0" ry=".8" opacity=".06" transform="rotate(-12 90.3 267.5)"/>
<ellipse cx="94.7" cy="251.1" rx="1.7" ry=".8" opacity=".06" transform="rotate(-12 94.7 251.1)"/>
<ellipse cx="89.0" cy="253.0" rx="1.4" ry=".7" opacity=".05" transform="rotate(-12 89.0 253.0)"/>
<ellipse cx="106.3" cy="274.1" rx="1.5" ry=".8" opacity=".07" transform="rotate(-12 106.3 274.1)"/>
<ellipse cx="110.8" cy="265.6" rx="1.4" ry=".8" opacity=".04" transform="rotate(-12 110.8 265.6)"/>
<ellipse cx="99.9" cy="267.5" rx="1.4" ry=".8" opacity=".04" transform="rotate(-12 99.9 267.5)"/>
<ellipse cx="69.1" cy="276.4" rx="1.3" ry=".7" opacity=".04" transform="rotate(-12 69.1 276.4)"/>
<ellipse cx="67.2" cy="289.5" rx="1.7" ry=".8" opacity=".05" transform="rotate(-12 67.2 289.5)"/>
<ellipse cx="74.9" cy="290.9" rx="1.4" ry=".7" opacity=".04" transform="rotate(-12 74.9 290.9)"/>
<ellipse cx="84.5" cy="283.9" rx="1.4" ry=".7" opacity=".05" transform="rotate(-12 84.5 283.9)"/>
<ellipse cx="92.2" cy="278.8" rx="1.4" ry=".7" opacity=".04" transform="rotate(-12 92.2 278.8)"/>
<ellipse cx="103.7" cy="283.0" rx="1.0" ry=".8" opacity=".07" transform="rotate(-12 103.7 283.0)"/>
<ellipse cx="109.5" cy="284.4" rx="1.2" ry=".8" opacity=".05" transform="rotate(-12 109.5 284.4)"/>
<ellipse cx="100.5" cy="291.4" rx="1.4" ry=".7" opacity=".05" transform="rotate(-12 100.5 291.4)"/>
<ellipse cx="101.8" cy="259.1" rx="1.4" ry=".7" opacity=".04" transform="rotate(-12 101.8 259.1)"/>
<ellipse cx="114.0" cy="261.4" rx="1.3" ry=".7" opacity=".04" transform="rotate(-12 114.0 261.4)"/>
<ellipse cx="73.6" cy="284.9" rx="1.3" ry=".7" opacity=".04" transform="rotate(-12 73.6 284.9)"/>
<ellipse cx="97.9" cy="282.0" rx="1.2" ry=".7" opacity=".05" transform="rotate(-12 97.9 282.0)"/>
</g></g>
<g clip-path="url(#cC11)" fill="#fff">
<rect x="120.4" y="247.8" width="63.7" height="46.9" fill="rgb(4,4,4)"/>
<g filter="url(#b05)">
<ellipse cx="150.6" cy="278.6" rx=".8" ry=".4" opacity=".04" transform="rotate(-12 150.6 278.6)"/>
<ellipse cx="144.3" cy="260.7" rx=".9" ry=".5" opacity=".11" transform="rotate(-12 144.3 260.7)"/>
<ellipse cx="156.0" cy="278.8" rx=".5" ry=".5" opacity=".06" transform="rotate(-12 156.0 278.8)"/>
<ellipse cx="178.1" cy="250.6" rx=".9" ry=".4" opacity=".12" transform="rotate(-12 178.1 250.6)"/>
<ellipse cx="141.9" cy="266.8" rx=".9" ry=".4" opacity=".05" transform="rotate(-12 141.9 266.8)"/>
<ellipse cx="178.7" cy="271.7" rx=".5" ry=".6" opacity=".15" transform="rotate(-12 178.7 271.7)"/>
<ellipse cx="127.6" cy="267.6" rx=".5" ry=".4" opacity=".11" transform="rotate(-12 127.6 267.6)"/>
<ellipse cx="130.8" cy="280.5" rx=".5" ry=".4" opacity=".14" transform="rotate(-12 130.8 280.5)"/>
<ellipse cx="145.9" cy="267.4" rx=".8" ry=".5" opacity=".09" transform="rotate(-12 145.9 267.4)"/>
<ellipse cx="122.3" cy="281.9" rx="1.0" ry=".6" opacity=".12" transform="rotate(-12 122.3 281.9)"/>
<ellipse cx="143.1" cy="264.8" rx=".8" ry=".5" opacity=".05" transform="rotate(-12 143.1 264.8)"/>
<ellipse cx="135.4" cy="264.8" rx=".7" ry=".6" opacity=".10" transform="rotate(-12 135.4 264.8)"/>
<ellipse cx="122.2" cy="286.4" rx=".7" ry=".5" opacity=".07" transform="rotate(-12 122.2 286.4)"/>
<ellipse cx="147.6" cy="266.0" rx=".9" ry=".4" opacity=".11" transform="rotate(-12 147.6 266.0)"/>
<ellipse cx="131.7" cy="280.4" rx=".4" ry=".4" opacity=".08" transform="rotate(-12 131.7 280.4)"/>
<ellipse cx="161.0" cy="250.2" rx=".7" ry=".4" opacity=".07" transform="rotate(-12 161.0 250.2)"/>
<ellipse cx="150.7" cy="292.8" rx=".7" ry=".6" opacity=".06" transform="rotate(-12 150.7 292.8)"/>
<ellipse cx="179.3" cy="264.9" rx=".5" ry=".5" opacity=".15" transform="rotate(-12 179.3 264.9)"/>
<ellipse cx="120.8" cy="260.4" rx=".9" ry=".4" opacity=".07" transform="rotate(-12 120.8 260.4)"/>
<ellipse cx="120.9" cy="249.7" rx=".8" ry=".6" opacity=".16" transform="rotate(-12 120.9 249.7)"/>
<ellipse cx="152.5" cy="248.9" rx=".6" ry=".5" opacity=".14" transform="rotate(-12 152.5 248.9)"/>
<ellipse cx="161.1" cy="258.6" rx=".7" ry=".5" opacity=".12" transform="rotate(-12 161.1 258.6)"/>
<ellipse cx="137.1" cy="292.2" rx="1.0" ry=".4" opacity=".07" transform="rotate(-12 137.1 292.2)"/>
<ellipse cx="176.0" cy="260.9" rx="1.0" ry=".5" opacity=".12" transform="rotate(-12 176.0 260.9)"/>
<ellipse cx="165.3" cy="257.8" rx=".6" ry=".4" opacity=".12" transform="rotate(-12 165.3 257.8)"/>
<ellipse cx="164.6" cy="254.0" rx="1.0" ry=".5" opacity=".07" transform="rotate(-12 164.6 254.0)"/>
<ellipse cx="148.1" cy="293.7" rx=".8" ry=".5" opacity=".15" transform="rotate(-12 148.1 293.7)"/>
<ellipse cx="181.7" cy="283.5" rx=".7" ry=".5" opacity=".15" transform="rotate(-12 181.7 283.5)"/>
<ellipse cx="170.7" cy="275.0" rx=".6" ry=".4" opacity=".13" transform="rotate(-12 170.7 275.0)"/>
<ellipse cx="156.3" cy="248.6" rx=".8" ry=".6" opacity=".14" transform="rotate(-12 156.3 248.6)"/>
<ellipse cx="177.6" cy="290.5" rx=".7" ry=".5" opacity=".09" transform="rotate(-12 177.6 290.5)"/>
<ellipse cx="126.7" cy="264.4" rx=".6" ry=".6" opacity=".12" transform="rotate(-12 126.7 264.4)"/>
<ellipse cx="154.9" cy="277.0" rx=".5" ry=".5" opacity=".12" transform="rotate(-12 154.9 277.0)"/>
<ellipse cx="145.5" cy="259.3" rx=".7" ry=".4" opacity=".12" transform="rotate(-12 145.5 259.3)"/>
<ellipse cx="129.4" cy="252.0" rx=".6" ry=".5" opacity=".13" transform="rotate(-12 129.4 252.0)"/>
<ellipse cx="162.4" cy="291.6" rx=".6" ry=".4" opacity=".10" transform="rotate(-12 162.4 291.6)"/>
<ellipse cx="148.7" cy="256.2" rx=".8" ry=".4" opacity=".07" transform="rotate(-12 148.7 256.2)"/>
<ellipse cx="141.3" cy="292.1" rx=".4" ry=".4" opacity=".07" transform="rotate(-12 141.3 292.1)"/>
<ellipse cx="133.2" cy="268.1" rx=".6" ry=".6" opacity=".10" transform="rotate(-12 133.2 268.1)"/>
<ellipse cx="164.9" cy="255.4" rx=".7" ry=".5" opacity=".14" transform="rotate(-12 164.9 255.4)"/>
<ellipse cx="136.3" cy="269.4" rx=".9" ry=".6" opacity=".07" transform="rotate(-12 136.3 269.4)"/>
<ellipse cx="154.7" cy="283.5" rx=".7" ry=".5" opacity=".12" transform="rotate(-12 154.7 283.5)"/>
<ellipse cx="182.3" cy="273.8" rx=".8" ry=".4" opacity=".13" transform="rotate(-12 182.3 273.8)"/>
<ellipse cx="140.9" cy="271.2" rx=".6" ry=".4" opacity=".06" transform="rotate(-12 140.9 271.2)"/>
<ellipse cx="134.8" cy="273.3" rx=".6" ry=".4" opacity=".14" transform="rotate(-12 134.8 273.3)"/>
<ellipse cx="138.6" cy="291.7" rx=".8" ry=".4" opacity=".14" transform="rotate(-12 138.6 291.7)"/>
<ellipse cx="177.6" cy="262.9" rx=".5" ry=".5" opacity=".14" transform="rotate(-12 177.6 262.9)"/>
<ellipse cx="159.2" cy="284.6" rx=".7" ry=".5" opacity=".07" transform="rotate(-12 159.2 284.6)"/>
<ellipse cx="146.3" cy="265.6" rx=".7" ry=".4" opacity=".14" transform="rotate(-12 146.3 265.6)"/>
<ellipse cx="131.2" cy="257.4" rx=".6" ry=".6" opacity=".10" transform="rotate(-12 131.2 257.4)"/>
<ellipse cx="123.8" cy="287.0" rx=".9" ry=".6" opacity=".08" transform="rotate(-12 123.8 287.0)"/>
<ellipse cx="167.2" cy="262.1" rx=".5" ry=".6" opacity=".14" transform="rotate(-12 167.2 262.1)"/>
<ellipse cx="133.9" cy="289.1" rx=".4" ry=".4" opacity=".04" transform="rotate(-12 133.9 289.1)"/>
<ellipse cx="131.3" cy="255.5" rx=".9" ry=".4" opacity=".06" transform="rotate(-12 131.3 255.5)"/>
<ellipse cx="132.1" cy="262.4" rx=".9" ry=".5" opacity=".05" transform="rotate(-12 132.1 262.4)"/>
<ellipse cx="164.0" cy="272.9" rx=".7" ry=".5" opacity=".12" transform="rotate(-12 164.0 272.9)"/>
<ellipse cx="171.4" cy="271.5" rx=".8" ry=".5" opacity=".12" transform="rotate(-12 171.4 271.5)"/>
<ellipse cx="145.1" cy="267.3" rx=".7" ry=".5" opacity=".07" transform="rotate(-12 145.1 267.3)"/>
<ellipse cx="179.3" cy="270.9" rx=".9" ry=".5" opacity=".15" transform="rotate(-12 179.3 270.9)"/>
<ellipse cx="163.9" cy="267.8" rx=".7" ry=".5" opacity=".13" transform="rotate(-12 163.9 267.8)"/>
<ellipse cx="173.8" cy="253.9" rx=".5" ry=".4" opacity=".05" transform="rotate(-12 173.8 253.9)"/>
<ellipse cx="124.0" cy="248.2" rx=".6" ry=".4" opacity=".12" transform="rotate(-12 124.0 248.2)"/>
<ellipse cx="159.6" cy="293.1" rx="1.0" ry=".5" opacity=".15" transform="rotate(-12 159.6 293.1)"/>
<ellipse cx="122.2" cy="258.5" rx="1.0" ry=".5" opacity=".06" transform="rotate(-12 122.2 258.5)"/>
<ellipse cx="168.6" cy="267.7" rx=".7" ry=".4" opacity=".07" transform="rotate(-12 168.6 267.7)"/>
<ellipse cx="126.0" cy="276.3" rx="1.0" ry=".6" opacity=".13" transform="rotate(-12 126.0 276.3)"/>
<ellipse cx="179.9" cy="264.8" rx=".6" ry=".6" opacity=".11" transform="rotate(-12 179.9 264.8)"/>
<ellipse cx="163.0" cy="248.4" rx=".6" ry=".5" opacity=".13" transform="rotate(-12 163.0 248.4)"/>
<ellipse cx="173.0" cy="283.3" rx=".6" ry=".4" opacity=".14" transform="rotate(-12 173.0 283.3)"/>
<ellipse cx="183.4" cy="270.5" rx=".5" ry=".5" opacity=".10" transform="rotate(-12 183.4 270.5)"/>
<ellipse cx="143.4" cy="258.6" rx=".7" ry=".5" opacity=".06" transform="rotate(-12 143.4 258.6)"/>
<ellipse cx="154.9" cy="292.5" rx=".9" ry=".4" opacity=".09" transform="rotate(-12 154.9 292.5)"/>
<ellipse cx="126.9" cy="282.4" rx=".8" ry=".4" opacity=".11" transform="rotate(-12 126.9 282.4)"/>
<ellipse cx="158.4" cy="274.9" rx=".7" ry=".4" opacity=".08" transform="rotate(-12 158.4 274.9)"/>
<ellipse cx="183.9" cy="263.3" rx=".7" ry=".5" opacity=".06" transform="rotate(-12 183.9 263.3)"/>
<ellipse cx="145.9" cy="257.4" rx=".6" ry=".4" opacity=".08" transform="rotate(-12 145.9 257.4)"/>
<ellipse cx="180.1" cy="261.7" rx=".6" ry=".5" opacity=".09" transform="rotate(-12 180.1 261.7)"/>
<ellipse cx="153.3" cy="278.2" rx=".5" ry=".5" opacity=".05" transform="rotate(-12 153.3 278.2)"/>
<ellipse cx="136.3" cy="285.8" rx="1.0" ry=".5" opacity=".06" transform="rotate(-12 136.3 285.8)"/>
<ellipse cx="148.3" cy="261.1" rx=".9" ry=".4" opacity=".06" transform="rotate(-12 148.3 261.1)"/>
<ellipse cx="161.0" cy="277.7" rx=".8" ry=".5" opacity=".16" transform="rotate(-12 161.0 277.7)"/>
<ellipse cx="149.6" cy="291.7" rx=".7" ry=".5" opacity=".08" transform="rotate(-12 149.6 291.7)"/>
<ellipse cx="166.0" cy="283.0" rx=".6" ry=".5" opacity=".13" transform="rotate(-12 166.0 283.0)"/>
<ellipse cx="152.3" cy="278.9" rx=".8" ry=".5" opacity=".08" transform="rotate(-12 152.3 278.9)"/>
<ellipse cx="139.9" cy="249.0" rx="1.0" ry=".5" opacity=".09" transform="rotate(-12 139.9 249.0)"/>
<ellipse cx="182.0" cy="290.1" rx=".5" ry=".6" opacity=".09" transform="rotate(-12 182.0 290.1)"/>
<ellipse cx="140.4" cy="260.0" rx=".7" ry=".4" opacity=".05" transform="rotate(-12 140.4 260.0)"/>
<ellipse cx="127.8" cy="262.2" rx=".5" ry=".4" opacity=".14" transform="rotate(-12 127.8 262.2)"/>
<ellipse cx="144.6" cy="270.8" rx=".8" ry=".6" opacity=".06" transform="rotate(-12 144.6 270.8)"/>
<ellipse cx="134.9" cy="288.2" rx="1.0" ry=".6" opacity=".10" transform="rotate(-12 134.9 288.2)"/>
<ellipse cx="143.8" cy="256.6" rx="1.0" ry=".5" opacity=".11" transform="rotate(-12 143.8 256.6)"/>
<ellipse cx="170.8" cy="260.0" rx=".7" ry=".6" opacity=".05" transform="rotate(-12 170.8 260.0)"/>
<ellipse cx="159.7" cy="256.5" rx=".9" ry=".6" opacity=".12" transform="rotate(-12 159.7 256.5)"/>
<ellipse cx="148.2" cy="248.8" rx=".7" ry=".4" opacity=".09" transform="rotate(-12 148.2 248.8)"/>
<ellipse cx="125.3" cy="291.0" rx=".7" ry=".5" opacity=".14" transform="rotate(-12 125.3 291.0)"/>
<ellipse cx="177.5" cy="273.6" rx=".7" ry=".6" opacity=".08" transform="rotate(-12 177.5 273.6)"/>
<ellipse cx="177.8" cy="248.9" rx=".9" ry=".5" opacity=".11" transform="rotate(-12 177.8 248.9)"/>
<ellipse cx="183.5" cy="258.1" rx=".7" ry=".5" opacity=".13" transform="rotate(-12 183.5 258.1)"/>
<ellipse cx="153.8" cy="284.2" rx=".8" ry=".6" opacity=".12" transform="rotate(-12 153.8 284.2)"/>
<ellipse cx="143.5" cy="261.3" rx=".5" ry=".4" opacity=".05" transform="rotate(-12 143.5 261.3)"/>
<ellipse cx="182.5" cy="254.4" rx=".8" ry=".4" opacity=".16" transform="rotate(-12 182.5 254.4)"/>
<ellipse cx="154.3" cy="256.1" rx=".9" ry=".6" opacity=".16" transform="rotate(-12 154.3 256.1)"/>
<ellipse cx="134.6" cy="266.7" rx=".8" ry=".4" opacity=".11" transform="rotate(-12 134.6 266.7)"/>
<ellipse cx="165.1" cy="283.0" rx=".9" ry=".5" opacity=".07" transform="rotate(-12 165.1 283.0)"/>
<ellipse cx="168.5" cy="268.1" rx=".5" ry=".4" opacity=".11" transform="rotate(-12 168.5 268.1)"/>
<ellipse cx="143.2" cy="252.2" rx=".7" ry=".5" opacity=".08" transform="rotate(-12 143.2 252.2)"/>
<ellipse cx="156.5" cy="273.1" rx=".7" ry=".6" opacity=".15" transform="rotate(-12 156.5 273.1)"/>
<ellipse cx="139.4" cy="288.7" rx=".6" ry=".6" opacity=".05" transform="rotate(-12 139.4 288.7)"/>
<ellipse cx="140.7" cy="291.5" rx=".8" ry=".5" opacity=".06" transform="rotate(-12 140.7 291.5)"/>
<ellipse cx="128.2" cy="292.8" rx=".5" ry=".4" opacity=".09" transform="rotate(-12 128.2 292.8)"/>
<ellipse cx="172.6" cy="279.7" rx="1.0" ry=".5" opacity=".09" transform="rotate(-12 172.6 279.7)"/>
<ellipse cx="178.5" cy="262.7" rx=".5" ry=".6" opacity=".15" transform="rotate(-12 178.5 262.7)"/>
<ellipse cx="162.5" cy="270.3" rx=".5" ry=".4" opacity=".05" transform="rotate(-12 162.5 270.3)"/>
<ellipse cx="126.4" cy="270.3" rx="1.0" ry=".6" opacity=".10" transform="rotate(-12 126.4 270.3)"/>
<ellipse cx="163.3" cy="269.7" rx=".9" ry=".5" opacity=".16" transform="rotate(-12 163.3 269.7)"/>
<ellipse cx="174.3" cy="279.6" rx=".8" ry=".4" opacity=".10" transform="rotate(-12 174.3 279.6)"/>
<ellipse cx="148.9" cy="255.0" rx=".5" ry=".5" opacity=".06" transform="rotate(-12 148.9 255.0)"/>
<ellipse cx="160.2" cy="263.2" rx="1.0" ry=".5" opacity=".10" transform="rotate(-12 160.2 263.2)"/>
<ellipse cx="148.0" cy="266.2" rx=".5" ry=".6" opacity=".15" transform="rotate(-12 148.0 266.2)"/>
<ellipse cx="161.8" cy="278.3" rx=".5" ry=".5" opacity=".06" transform="rotate(-12 161.8 278.3)"/>
<ellipse cx="141.1" cy="275.3" rx=".5" ry=".4" opacity=".13" transform="rotate(-12 141.1 275.3)"/>
<ellipse cx="151.3" cy="289.5" rx=".5" ry=".4" opacity=".15" transform="rotate(-12 151.3 289.5)"/>
<ellipse cx="159.2" cy="280.3" rx=".8" ry=".4" opacity=".16" transform="rotate(-12 159.2 280.3)"/>
<ellipse cx="152.0" cy="290.4" rx=".5" ry=".4" opacity=".11" transform="rotate(-12 152.0 290.4)"/>
<ellipse cx="136.2" cy="288.1" rx=".6" ry=".4" opacity=".06" transform="rotate(-12 136.2 288.1)"/>
<ellipse cx="137.7" cy="292.3" rx=".9" ry=".5" opacity=".09" transform="rotate(-12 137.7 292.3)"/>
<ellipse cx="123.0" cy="286.8" rx=".5" ry=".4" opacity=".09" transform="rotate(-12 123.0 286.8)"/>
<ellipse cx="175.3" cy="256.4" rx=".5" ry=".6" opacity=".04" transform="rotate(-12 175.3 256.4)"/>
<ellipse cx="167.2" cy="254.4" rx=".6" ry=".4" opacity=".09" transform="rotate(-12 167.2 254.4)"/>
<ellipse cx="179.1" cy="287.2" rx=".7" ry=".4" opacity=".06" transform="rotate(-12 179.1 287.2)"/>
<ellipse cx="139.2" cy="285.0" rx="1.0" ry=".4" opacity=".08" transform="rotate(-12 139.2 285.0)"/>
<ellipse cx="181.6" cy="254.9" rx=".5" ry=".4" opacity=".15" transform="rotate(-12 181.6 254.9)"/>
<ellipse cx="137.2" cy="281.6" rx=".5" ry=".5" opacity=".06" transform="rotate(-12 137.2 281.6)"/>
<ellipse cx="158.3" cy="282.6" rx=".9" ry=".5" opacity=".16" transform="rotate(-12 158.3 282.6)"/>
<ellipse cx="146.3" cy="292.3" rx="1.0" ry=".6" opacity=".05" transform="rotate(-12 146.3 292.3)"/>
<ellipse cx="137.8" cy="280.4" rx="1.0" ry=".4" opacity=".13" transform="rotate(-12 137.8 280.4)"/>
<ellipse cx="150.8" cy="248.0" rx=".5" ry=".4" opacity=".07" transform="rotate(-12 150.8 248.0)"/>
<ellipse cx="179.8" cy="279.7" rx=".9" ry=".6" opacity=".09" transform="rotate(-12 179.8 279.7)"/>
<ellipse cx="164.7" cy="278.5" rx=".8" ry=".4" opacity=".15" transform="rotate(-12 164.7 278.5)"/>
<ellipse cx="130.4" cy="268.7" rx=".8" ry=".5" opacity=".14" transform="rotate(-12 130.4 268.7)"/>
<ellipse cx="140.3" cy="261.8" rx=".9" ry=".4" opacity=".14" transform="rotate(-12 140.3 261.8)"/>
<ellipse cx="140.5" cy="266.2" rx=".6" ry=".5" opacity=".06" transform="rotate(-12 140.5 266.2)"/>
<ellipse cx="129.0" cy="250.9" rx=".5" ry=".5" opacity=".16" transform="rotate(-12 129.0 250.9)"/>
<ellipse cx="120.8" cy="269.5" rx=".6" ry=".4" opacity=".08" transform="rotate(-12 120.8 269.5)"/>
<ellipse cx="127.3" cy="267.7" rx=".6" ry=".4" opacity=".06" transform="rotate(-12 127.3 267.7)"/>
<ellipse cx="179.5" cy="281.5" rx="1.0" ry=".6" opacity=".13" transform="rotate(-12 179.5 281.5)"/>
<ellipse cx="134.8" cy="252.9" rx="1.0" ry=".5" opacity=".13" transform="rotate(-12 134.8 252.9)"/>
<ellipse cx="129.5" cy="284.9" rx=".7" ry=".4" opacity=".07" transform="rotate(-12 129.5 284.9)"/>
<ellipse cx="182.0" cy="277.0" rx=".5" ry=".4" opacity=".13" transform="rotate(-12 182.0 277.0)"/>
<ellipse cx="142.8" cy="270.2" rx=".5" ry=".4" opacity=".10" transform="rotate(-12 142.8 270.2)"/>
<ellipse cx="122.3" cy="260.0" rx="1.5" ry=".8" opacity=".23" transform="rotate(-12 122.3 260.0)"/>
<ellipse cx="125.5" cy="270.3" rx="1.7" ry=".8" opacity=".25" transform="rotate(-12 125.5 270.3)"/>
<ellipse cx="134.4" cy="265.6" rx="1.4" ry=".8" opacity=".23" transform="rotate(-12 134.4 265.6)"/>
<ellipse cx="139.5" cy="265.2" rx="1.3" ry=".8" opacity=".20" transform="rotate(-12 139.5 265.2)"/>
<ellipse cx="147.8" cy="257.6" rx="1.5" ry=".8" opacity=".20" transform="rotate(-12 147.8 257.6)"/>
<ellipse cx="149.7" cy="262.8" rx="1.3" ry=".7" opacity=".18" transform="rotate(-12 149.7 262.8)"/>
<ellipse cx="155.4" cy="267.5" rx="2.0" ry=".8" opacity=".27" transform="rotate(-12 155.4 267.5)"/>
<ellipse cx="159.9" cy="251.1" rx="1.7" ry=".8" opacity=".27" transform="rotate(-12 159.9 251.1)"/>
<ellipse cx="154.2" cy="253.0" rx="1.4" ry=".7" opacity=".20" transform="rotate(-12 154.2 253.0)"/>
<ellipse cx="171.4" cy="274.1" rx="1.5" ry=".8" opacity=".29" transform="rotate(-12 171.4 274.1)"/>
<ellipse cx="175.8" cy="265.6" rx="1.4" ry=".8" opacity=".18" transform="rotate(-12 175.8 265.6)"/>
<ellipse cx="165.0" cy="267.5" rx="1.4" ry=".8" opacity=".18" transform="rotate(-12 165.0 267.5)"/>
<ellipse cx="134.4" cy="276.4" rx="1.3" ry=".7" opacity=".18" transform="rotate(-12 134.4 276.4)"/>
<ellipse cx="132.5" cy="289.5" rx="1.7" ry=".8" opacity=".23" transform="rotate(-12 132.5 289.5)"/>
<ellipse cx="140.1" cy="290.9" rx="1.4" ry=".7" opacity=".18" transform="rotate(-12 140.1 290.9)"/>
<ellipse cx="149.7" cy="283.9" rx="1.4" ry=".7" opacity=".20" transform="rotate(-12 149.7 283.9)"/>
<ellipse cx="157.3" cy="278.8" rx="1.4" ry=".7" opacity=".18" transform="rotate(-12 157.3 278.8)"/>
<ellipse cx="168.8" cy="283.0" rx="1.0" ry=".8" opacity=".32" transform="rotate(-12 168.8 283.0)"/>
<ellipse cx="174.5" cy="284.4" rx="1.2" ry=".8" opacity=".23" transform="rotate(-12 174.5 284.4)"/>
<ellipse cx="165.6" cy="291.4" rx="1.4" ry=".7" opacity=".23" transform="rotate(-12 165.6 291.4)"/>
<ellipse cx="166.9" cy="259.1" rx="1.4" ry=".7" opacity=".18" transform="rotate(-12 166.9 259.1)"/>
<ellipse cx="179.0" cy="261.4" rx="1.3" ry=".7" opacity=".18" transform="rotate(-12 179.0 261.4)"/>
<ellipse cx="138.9" cy="284.9" rx="1.3" ry=".7" opacity=".18" transform="rotate(-12 138.9 284.9)"/>
<ellipse cx="163.1" cy="282.0" rx="1.2" ry=".7" opacity=".20" transform="rotate(-12 163.1 282.0)"/>
</g></g>
<g clip-path="url(#cC12)" fill="#fff">
<rect x="185.3" y="247.8" width="63.6" height="46.9" fill="rgb(5,5,5)"/>
<g filter="url(#b05)">
<ellipse cx="215.5" cy="278.6" rx=".8" ry=".4" opacity=".07" transform="rotate(-12 215.5 278.6)"/>
<ellipse cx="209.1" cy="260.7" rx=".9" ry=".5" opacity=".20" transform="rotate(-12 209.1 260.7)"/>
<ellipse cx="220.8" cy="278.8" rx=".5" ry=".5" opacity=".10" transform="rotate(-12 220.8 278.8)"/>
<ellipse cx="242.9" cy="250.6" rx=".9" ry=".4" opacity=".21" transform="rotate(-12 242.9 250.6)"/>
<ellipse cx="206.7" cy="266.8" rx=".9" ry=".4" opacity=".08" transform="rotate(-12 206.7 266.8)"/>
<ellipse cx="243.5" cy="271.7" rx=".5" ry=".6" opacity=".27" transform="rotate(-12 243.5 271.7)"/>
<ellipse cx="192.5" cy="267.6" rx=".5" ry=".4" opacity=".20" transform="rotate(-12 192.5 267.6)"/>
<ellipse cx="195.7" cy="280.5" rx=".5" ry=".4" opacity=".24" transform="rotate(-12 195.7 280.5)"/>
<ellipse cx="210.8" cy="267.4" rx=".8" ry=".5" opacity=".15" transform="rotate(-12 210.8 267.4)"/>
<ellipse cx="187.2" cy="281.9" rx="1.0" ry=".6" opacity=".21" transform="rotate(-12 187.2 281.9)"/>
<ellipse cx="208.0" cy="264.8" rx=".8" ry=".5" opacity=".09" transform="rotate(-12 208.0 264.8)"/>
<ellipse cx="200.2" cy="264.8" rx=".7" ry=".6" opacity=".18" transform="rotate(-12 200.2 264.8)"/>
<ellipse cx="187.1" cy="286.4" rx=".7" ry=".5" opacity=".12" transform="rotate(-12 187.1 286.4)"/>
<ellipse cx="212.5" cy="266.0" rx=".9" ry=".4" opacity=".19" transform="rotate(-12 212.5 266.0)"/>
<ellipse cx="196.6" cy="280.4" rx=".4" ry=".4" opacity=".14" transform="rotate(-12 196.6 280.4)"/>
<ellipse cx="225.8" cy="250.2" rx=".7" ry=".4" opacity=".13" transform="rotate(-12 225.8 250.2)"/>
<ellipse cx="215.6" cy="292.8" rx=".7" ry=".6" opacity=".11" transform="rotate(-12 215.6 292.8)"/>
<ellipse cx="244.1" cy="264.9" rx=".5" ry=".5" opacity=".26" transform="rotate(-12 244.1 264.9)"/>
<ellipse cx="185.7" cy="260.4" rx=".9" ry=".4" opacity=".12" transform="rotate(-12 185.7 260.4)"/>
<ellipse cx="185.8" cy="249.7" rx=".8" ry=".6" opacity=".28" transform="rotate(-12 185.8 249.7)"/>
<ellipse cx="217.3" cy="248.9" rx=".6" ry=".5" opacity=".24" transform="rotate(-12 217.3 248.9)"/>
<ellipse cx="226.0" cy="258.6" rx=".7" ry=".5" opacity=".20" transform="rotate(-12 226.0 258.6)"/>
<ellipse cx="202.0" cy="292.2" rx="1.0" ry=".4" opacity=".13" transform="rotate(-12 202.0 292.2)"/>
<ellipse cx="240.8" cy="260.9" rx="1.0" ry=".5" opacity=".22" transform="rotate(-12 240.8 260.9)"/>
<ellipse cx="230.1" cy="257.8" rx=".6" ry=".4" opacity=".21" transform="rotate(-12 230.1 257.8)"/>
<ellipse cx="229.4" cy="254.0" rx="1.0" ry=".5" opacity=".12" transform="rotate(-12 229.4 254.0)"/>
<ellipse cx="213.0" cy="293.7" rx=".8" ry=".5" opacity=".26" transform="rotate(-12 213.0 293.7)"/>
<ellipse cx="246.5" cy="283.5" rx=".7" ry=".5" opacity=".26" transform="rotate(-12 246.5 283.5)"/>
<ellipse cx="235.5" cy="275.0" rx=".6" ry=".4" opacity=".22" transform="rotate(-12 235.5 275.0)"/>
<ellipse cx="221.1" cy="248.6" rx=".8" ry=".6" opacity=".24" transform="rotate(-12 221.1 248.6)"/>
<ellipse cx="242.4" cy="290.5" rx=".7" ry=".5" opacity=".15" transform="rotate(-12 242.4 290.5)"/>
<ellipse cx="191.6" cy="264.4" rx=".6" ry=".6" opacity=".21" transform="rotate(-12 191.6 264.4)"/>
<ellipse cx="219.7" cy="277.0" rx=".5" ry=".5" opacity=".22" transform="rotate(-12 219.7 277.0)"/>
<ellipse cx="210.4" cy="259.3" rx=".7" ry=".4" opacity=".21" transform="rotate(-12 210.4 259.3)"/>
<ellipse cx="194.3" cy="252.0" rx=".6" ry=".5" opacity=".23" transform="rotate(-12 194.3 252.0)"/>
<ellipse cx="227.2" cy="291.6" rx=".6" ry=".4" opacity=".17" transform="rotate(-12 227.2 291.6)"/>
<ellipse cx="213.5" cy="256.2" rx=".8" ry=".4" opacity=".12" transform="rotate(-12 213.5 256.2)"/>
<ellipse cx="206.1" cy="292.1" rx=".4" ry=".4" opacity=".13" transform="rotate(-12 206.1 292.1)"/>
<ellipse cx="198.1" cy="268.1" rx=".6" ry=".6" opacity=".18" transform="rotate(-12 198.1 268.1)"/>
<ellipse cx="229.7" cy="255.4" rx=".7" ry=".5" opacity=".25" transform="rotate(-12 229.7 255.4)"/>
<ellipse cx="201.2" cy="269.4" rx=".9" ry=".6" opacity=".12" transform="rotate(-12 201.2 269.4)"/>
<ellipse cx="219.5" cy="283.5" rx=".7" ry=".5" opacity=".21" transform="rotate(-12 219.5 283.5)"/>
<ellipse cx="247.1" cy="273.8" rx=".8" ry=".4" opacity=".22" transform="rotate(-12 247.1 273.8)"/>
<ellipse cx="205.8" cy="271.2" rx=".6" ry=".4" opacity=".10" transform="rotate(-12 205.8 271.2)"/>
<ellipse cx="199.7" cy="273.3" rx=".6" ry=".4" opacity=".24" transform="rotate(-12 199.7 273.3)"/>
<ellipse cx="203.5" cy="291.7" rx=".8" ry=".4" opacity=".25" transform="rotate(-12 203.5 291.7)"/>
<ellipse cx="242.4" cy="262.9" rx=".5" ry=".5" opacity=".25" transform="rotate(-12 242.4 262.9)"/>
<ellipse cx="224.0" cy="284.6" rx=".7" ry=".5" opacity=".13" transform="rotate(-12 224.0 284.6)"/>
<ellipse cx="211.2" cy="265.6" rx=".7" ry=".4" opacity=".24" transform="rotate(-12 211.2 265.6)"/>
<ellipse cx="196.1" cy="257.4" rx=".6" ry=".6" opacity=".18" transform="rotate(-12 196.1 257.4)"/>
<ellipse cx="188.7" cy="287.0" rx=".9" ry=".6" opacity=".15" transform="rotate(-12 188.7 287.0)"/>
<ellipse cx="232.0" cy="262.1" rx=".5" ry=".6" opacity=".24" transform="rotate(-12 232.0 262.1)"/>
<ellipse cx="198.7" cy="289.1" rx=".4" ry=".4" opacity=".07" transform="rotate(-12 198.7 289.1)"/>
<ellipse cx="196.2" cy="255.5" rx=".9" ry=".4" opacity=".11" transform="rotate(-12 196.2 255.5)"/>
<ellipse cx="197.0" cy="262.4" rx=".9" ry=".5" opacity=".09" transform="rotate(-12 197.0 262.4)"/>
<ellipse cx="228.9" cy="272.9" rx=".7" ry=".5" opacity=".21" transform="rotate(-12 228.9 272.9)"/>
<ellipse cx="236.2" cy="271.5" rx=".8" ry=".5" opacity=".20" transform="rotate(-12 236.2 271.5)"/>
<ellipse cx="210.0" cy="267.3" rx=".7" ry=".5" opacity=".13" transform="rotate(-12 210.0 267.3)"/>
<ellipse cx="244.1" cy="270.9" rx=".9" ry=".5" opacity=".27" transform="rotate(-12 244.1 270.9)"/>
<ellipse cx="228.7" cy="267.8" rx=".7" ry=".5" opacity=".23" transform="rotate(-12 228.7 267.8)"/>
<ellipse cx="238.7" cy="253.9" rx=".5" ry=".4" opacity=".09" transform="rotate(-12 238.7 253.9)"/>
<ellipse cx="188.9" cy="248.2" rx=".6" ry=".4" opacity=".21" transform="rotate(-12 188.9 248.2)"/>
<ellipse cx="224.5" cy="293.1" rx="1.0" ry=".5" opacity=".27" transform="rotate(-12 224.5 293.1)"/>
<ellipse cx="187.1" cy="258.5" rx="1.0" ry=".5" opacity=".11" transform="rotate(-12 187.1 258.5)"/>
<ellipse cx="233.4" cy="267.7" rx=".7" ry=".4" opacity=".12" transform="rotate(-12 233.4 267.7)"/>
<ellipse cx="190.8" cy="276.3" rx="1.0" ry=".6" opacity=".23" transform="rotate(-12 190.8 276.3)"/>
<ellipse cx="244.7" cy="264.8" rx=".6" ry=".6" opacity=".20" transform="rotate(-12 244.7 264.8)"/>
<ellipse cx="227.9" cy="248.4" rx=".6" ry=".5" opacity=".22" transform="rotate(-12 227.9 248.4)"/>
<ellipse cx="237.8" cy="283.3" rx=".6" ry=".4" opacity=".25" transform="rotate(-12 237.8 283.3)"/>
<ellipse cx="248.2" cy="270.5" rx=".5" ry=".5" opacity=".18" transform="rotate(-12 248.2 270.5)"/>
<ellipse cx="208.3" cy="258.6" rx=".7" ry=".5" opacity=".10" transform="rotate(-12 208.3 258.6)"/>
<ellipse cx="219.7" cy="292.5" rx=".9" ry=".4" opacity=".16" transform="rotate(-12 219.7 292.5)"/>
<ellipse cx="191.8" cy="282.4" rx=".8" ry=".4" opacity=".19" transform="rotate(-12 191.8 282.4)"/>
<ellipse cx="223.2" cy="274.9" rx=".7" ry=".4" opacity=".14" transform="rotate(-12 223.2 274.9)"/>
<ellipse cx="248.7" cy="263.3" rx=".7" ry=".5" opacity=".11" transform="rotate(-12 248.7 263.3)"/>
<ellipse cx="210.7" cy="257.4" rx=".6" ry=".4" opacity=".14" transform="rotate(-12 210.7 257.4)"/>
<ellipse cx="245.0" cy="261.7" rx=".6" ry=".5" opacity=".15" transform="rotate(-12 245.0 261.7)"/>
<ellipse cx="218.1" cy="278.2" rx=".5" ry=".5" opacity=".09" transform="rotate(-12 218.1 278.2)"/>
<ellipse cx="201.2" cy="285.8" rx="1.0" ry=".5" opacity=".11" transform="rotate(-12 201.2 285.8)"/>
<ellipse cx="213.2" cy="261.1" rx=".9" ry=".4" opacity=".11" transform="rotate(-12 213.2 261.1)"/>
<ellipse cx="225.9" cy="277.7" rx=".8" ry=".5" opacity=".27" transform="rotate(-12 225.9 277.7)"/>
<ellipse cx="214.5" cy="291.7" rx=".7" ry=".5" opacity=".15" transform="rotate(-12 214.5 291.7)"/>
<ellipse cx="230.8" cy="283.0" rx=".6" ry=".5" opacity=".22" transform="rotate(-12 230.8 283.0)"/>
<ellipse cx="217.2" cy="278.9" rx=".8" ry=".5" opacity=".14" transform="rotate(-12 217.2 278.9)"/>
<ellipse cx="204.8" cy="249.0" rx="1.0" ry=".5" opacity=".15" transform="rotate(-12 204.8 249.0)"/>
<ellipse cx="246.8" cy="290.1" rx=".5" ry=".6" opacity=".16" transform="rotate(-12 246.8 290.1)"/>
<ellipse cx="205.3" cy="260.0" rx=".7" ry=".4" opacity=".08" transform="rotate(-12 205.3 260.0)"/>
<ellipse cx="192.7" cy="262.2" rx=".5" ry=".4" opacity=".24" transform="rotate(-12 192.7 262.2)"/>
<ellipse cx="209.4" cy="270.8" rx=".8" ry=".6" opacity=".10" transform="rotate(-12 209.4 270.8)"/>
<ellipse cx="199.8" cy="288.2" rx="1.0" ry=".6" opacity=".18" transform="rotate(-12 199.8 288.2)"/>
<ellipse cx="208.6" cy="256.6" rx="1.0" ry=".5" opacity=".19" transform="rotate(-12 208.6 256.6)"/>
<ellipse cx="235.6" cy="260.0" rx=".7" ry=".6" opacity=".09" transform="rotate(-12 235.6 260.0)"/>
<ellipse cx="224.6" cy="256.5" rx=".9" ry=".6" opacity=".21" transform="rotate(-12 224.6 256.5)"/>
<ellipse cx="213.0" cy="248.8" rx=".7" ry=".4" opacity=".15" transform="rotate(-12 213.0 248.8)"/>
<ellipse cx="190.2" cy="291.0" rx=".7" ry=".5" opacity=".25" transform="rotate(-12 190.2 291.0)"/>
<ellipse cx="242.3" cy="273.6" rx=".7" ry=".6" opacity=".15" transform="rotate(-12 242.3 273.6)"/>
<ellipse cx="242.6" cy="248.9" rx=".9" ry=".5" opacity=".20" transform="rotate(-12 242.6 248.9)"/>
<ellipse cx="248.3" cy="258.1" rx=".7" ry=".5" opacity=".23" transform="rotate(-12 248.3 258.1)"/>
<ellipse cx="218.6" cy="284.2" rx=".8" ry=".6" opacity=".21" transform="rotate(-12 218.6 284.2)"/>
<ellipse cx="208.4" cy="261.3" rx=".5" ry=".4" opacity=".08" transform="rotate(-12 208.4 261.3)"/>
<ellipse cx="247.4" cy="254.4" rx=".8" ry=".4" opacity=".27" transform="rotate(-12 247.4 254.4)"/>
<ellipse cx="219.2" cy="256.1" rx=".9" ry=".6" opacity=".28" transform="rotate(-12 219.2 256.1)"/>
<ellipse cx="199.5" cy="266.7" rx=".8" ry=".4" opacity=".19" transform="rotate(-12 199.5 266.7)"/>
<ellipse cx="229.9" cy="283.0" rx=".9" ry=".5" opacity=".13" transform="rotate(-12 229.9 283.0)"/>
<ellipse cx="233.4" cy="268.1" rx=".5" ry=".4" opacity=".20" transform="rotate(-12 233.4 268.1)"/>
<ellipse cx="208.1" cy="252.2" rx=".7" ry=".5" opacity=".14" transform="rotate(-12 208.1 252.2)"/>
<ellipse cx="221.3" cy="273.1" rx=".7" ry=".6" opacity=".26" transform="rotate(-12 221.3 273.1)"/>
<ellipse cx="204.3" cy="288.7" rx=".6" ry=".6" opacity=".08" transform="rotate(-12 204.3 288.7)"/>
<ellipse cx="205.5" cy="291.5" rx=".8" ry=".5" opacity=".11" transform="rotate(-12 205.5 291.5)"/>
<ellipse cx="193.0" cy="292.8" rx=".5" ry=".4" opacity=".16" transform="rotate(-12 193.0 292.8)"/>
<ellipse cx="237.4" cy="279.7" rx="1.0" ry=".5" opacity=".16" transform="rotate(-12 237.4 279.7)"/>
<ellipse cx="243.3" cy="262.7" rx=".5" ry=".6" opacity=".26" transform="rotate(-12 243.3 262.7)"/>
<ellipse cx="227.3" cy="270.3" rx=".5" ry=".4" opacity=".08" transform="rotate(-12 227.3 270.3)"/>
<ellipse cx="191.3" cy="270.3" rx="1.0" ry=".6" opacity=".18" transform="rotate(-12 191.3 270.3)"/>
<ellipse cx="228.1" cy="269.7" rx=".9" ry=".5" opacity=".28" transform="rotate(-12 228.1 269.7)"/>
<ellipse cx="239.1" cy="279.6" rx=".8" ry=".4" opacity=".17" transform="rotate(-12 239.1 279.6)"/>
<ellipse cx="213.8" cy="255.0" rx=".5" ry=".5" opacity=".11" transform="rotate(-12 213.8 255.0)"/>
<ellipse cx="225.0" cy="263.2" rx="1.0" ry=".5" opacity=".18" transform="rotate(-12 225.0 263.2)"/>
<ellipse cx="212.9" cy="266.2" rx=".5" ry=".6" opacity=".26" transform="rotate(-12 212.9 266.2)"/>
<ellipse cx="226.6" cy="278.3" rx=".5" ry=".5" opacity=".11" transform="rotate(-12 226.6 278.3)"/>
<ellipse cx="205.9" cy="275.3" rx=".5" ry=".4" opacity=".22" transform="rotate(-12 205.9 275.3)"/>
<ellipse cx="216.1" cy="289.5" rx=".5" ry=".4" opacity=".27" transform="rotate(-12 216.1 289.5)"/>
<ellipse cx="224.0" cy="280.3" rx=".8" ry=".4" opacity=".28" transform="rotate(-12 224.0 280.3)"/>
<ellipse cx="216.8" cy="290.4" rx=".5" ry=".4" opacity=".19" transform="rotate(-12 216.8 290.4)"/>
<ellipse cx="201.0" cy="288.1" rx=".6" ry=".4" opacity=".10" transform="rotate(-12 201.0 288.1)"/>
<ellipse cx="202.6" cy="292.3" rx=".9" ry=".5" opacity=".16" transform="rotate(-12 202.6 292.3)"/>
<ellipse cx="187.9" cy="286.8" rx=".5" ry=".4" opacity=".16" transform="rotate(-12 187.9 286.8)"/>
<ellipse cx="240.2" cy="256.4" rx=".5" ry=".6" opacity=".07" transform="rotate(-12 240.2 256.4)"/>
<ellipse cx="232.0" cy="254.4" rx=".6" ry=".4" opacity=".16" transform="rotate(-12 232.0 254.4)"/>
<ellipse cx="243.9" cy="287.2" rx=".7" ry=".4" opacity=".11" transform="rotate(-12 243.9 287.2)"/>
<ellipse cx="204.1" cy="285.0" rx="1.0" ry=".4" opacity=".14" transform="rotate(-12 204.1 285.0)"/>
<ellipse cx="246.4" cy="254.9" rx=".5" ry=".4" opacity=".26" transform="rotate(-12 246.4 254.9)"/>
<ellipse cx="202.0" cy="281.6" rx=".5" ry=".5" opacity=".11" transform="rotate(-12 202.0 281.6)"/>
<ellipse cx="223.1" cy="282.6" rx=".9" ry=".5" opacity=".28" transform="rotate(-12 223.1 282.6)"/>
<ellipse cx="211.1" cy="292.3" rx="1.0" ry=".6" opacity=".09" transform="rotate(-12 211.1 292.3)"/>
<ellipse cx="202.7" cy="280.4" rx="1.0" ry=".4" opacity=".23" transform="rotate(-12 202.7 280.4)"/>
<ellipse cx="215.6" cy="248.0" rx=".5" ry=".4" opacity=".12" transform="rotate(-12 215.6 248.0)"/>
<ellipse cx="244.6" cy="279.7" rx=".9" ry=".6" opacity=".15" transform="rotate(-12 244.6 279.7)"/>
<ellipse cx="229.6" cy="278.5" rx=".8" ry=".4" opacity=".26" transform="rotate(-12 229.6 278.5)"/>
<ellipse cx="195.3" cy="268.7" rx=".8" ry=".5" opacity=".24" transform="rotate(-12 195.3 268.7)"/>
<ellipse cx="205.2" cy="261.8" rx=".9" ry=".4" opacity=".25" transform="rotate(-12 205.2 261.8)"/>
<ellipse cx="205.4" cy="266.2" rx=".6" ry=".5" opacity=".11" transform="rotate(-12 205.4 266.2)"/>
<ellipse cx="193.9" cy="250.9" rx=".5" ry=".5" opacity=".28" transform="rotate(-12 193.9 250.9)"/>
<ellipse cx="185.7" cy="269.5" rx=".6" ry=".4" opacity=".14" transform="rotate(-12 185.7 269.5)"/>
<ellipse cx="192.2" cy="267.7" rx=".6" ry=".4" opacity=".10" transform="rotate(-12 192.2 267.7)"/>
<ellipse cx="244.3" cy="281.5" rx="1.0" ry=".6" opacity=".23" transform="rotate(-12 244.3 281.5)"/>
<ellipse cx="199.7" cy="252.9" rx="1.0" ry=".5" opacity=".22" transform="rotate(-12 199.7 252.9)"/>
<ellipse cx="194.4" cy="284.9" rx=".7" ry=".4" opacity=".11" transform="rotate(-12 194.4 284.9)"/>
<ellipse cx="246.8" cy="277.0" rx=".5" ry=".4" opacity=".23" transform="rotate(-12 246.8 277.0)"/>
<ellipse cx="207.7" cy="270.2" rx=".5" ry=".4" opacity=".17" transform="rotate(-12 207.7 270.2)"/>
<ellipse cx="187.2" cy="260.0" rx="1.5" ry=".8" opacity=".38" transform="rotate(-12 187.2 260.0)"/>
<ellipse cx="190.4" cy="270.3" rx="1.7" ry=".8" opacity=".41" transform="rotate(-12 190.4 270.3)"/>
<ellipse cx="199.3" cy="265.6" rx="1.4" ry=".8" opacity=".38" transform="rotate(-12 199.3 265.6)"/>
<ellipse cx="204.4" cy="265.2" rx="1.3" ry=".8" opacity=".34" transform="rotate(-12 204.4 265.2)"/>
<ellipse cx="212.6" cy="257.6" rx="1.5" ry=".8" opacity=".34" transform="rotate(-12 212.6 257.6)"/>
<ellipse cx="214.6" cy="262.8" rx="1.3" ry=".7" opacity=".30" transform="rotate(-12 214.6 262.8)"/>
<ellipse cx="220.3" cy="267.5" rx="2.0" ry=".8" opacity=".45" transform="rotate(-12 220.3 267.5)"/>
<ellipse cx="224.7" cy="251.1" rx="1.7" ry=".8" opacity=".45" transform="rotate(-12 224.7 251.1)"/>
<ellipse cx="219.0" cy="253.0" rx="1.4" ry=".7" opacity=".34" transform="rotate(-12 219.0 253.0)"/>
<ellipse cx="236.2" cy="274.1" rx="1.5" ry=".8" opacity=".49" transform="rotate(-12 236.2 274.1)"/>
<ellipse cx="240.6" cy="265.6" rx="1.4" ry=".8" opacity=".30" transform="rotate(-12 240.6 265.6)"/>
<ellipse cx="229.8" cy="267.5" rx="1.4" ry=".8" opacity=".30" transform="rotate(-12 229.8 267.5)"/>
<ellipse cx="199.3" cy="276.4" rx="1.3" ry=".7" opacity=".30" transform="rotate(-12 199.3 276.4)"/>
<ellipse cx="197.4" cy="289.5" rx="1.7" ry=".8" opacity=".38" transform="rotate(-12 197.4 289.5)"/>
<ellipse cx="205.0" cy="290.9" rx="1.4" ry=".7" opacity=".30" transform="rotate(-12 205.0 290.9)"/>
<ellipse cx="214.6" cy="283.9" rx="1.4" ry=".7" opacity=".34" transform="rotate(-12 214.6 283.9)"/>
<ellipse cx="222.2" cy="278.8" rx="1.4" ry=".7" opacity=".30" transform="rotate(-12 222.2 278.8)"/>
<ellipse cx="233.6" cy="283.0" rx="1.0" ry=".8" opacity=".52" transform="rotate(-12 233.6 283.0)"/>
<ellipse cx="239.4" cy="284.4" rx="1.2" ry=".8" opacity=".38" transform="rotate(-12 239.4 284.4)"/>
<ellipse cx="230.5" cy="291.4" rx="1.4" ry=".7" opacity=".38" transform="rotate(-12 230.5 291.4)"/>
<ellipse cx="231.7" cy="259.1" rx="1.4" ry=".7" opacity=".30" transform="rotate(-12 231.7 259.1)"/>
<ellipse cx="243.8" cy="261.4" rx="1.3" ry=".7" opacity=".30" transform="rotate(-12 243.8 261.4)"/>
<ellipse cx="203.7" cy="284.9" rx="1.3" ry=".7" opacity=".30" transform="rotate(-12 203.7 284.9)"/>
<ellipse cx="227.9" cy="282.0" rx="1.2" ry=".7" opacity=".34" transform="rotate(-12 227.9 282.0)"/>
</g></g>
<g clip-path="url(#cC13)" fill="#fff">
<rect x="250.1" y="247.8" width="60.1" height="46.9" fill="rgb(6,6,6)"/>
<g filter="url(#b05)">
<ellipse cx="278.6" cy="278.6" rx=".8" ry=".4" opacity=".09" transform="rotate(-12 278.6 278.6)"/>
<ellipse cx="272.6" cy="260.7" rx=".9" ry=".5" opacity=".24" transform="rotate(-12 272.6 260.7)"/>
<ellipse cx="283.6" cy="278.8" rx=".5" ry=".5" opacity=".13" transform="rotate(-12 283.6 278.8)"/>
<ellipse cx="304.5" cy="250.6" rx=".9" ry=".4" opacity=".26" transform="rotate(-12 304.5 250.6)"/>
<ellipse cx="270.4" cy="266.8" rx=".9" ry=".4" opacity=".10" transform="rotate(-12 270.4 266.8)"/>
<ellipse cx="305.1" cy="271.7" rx=".5" ry=".6" opacity=".33" transform="rotate(-12 305.1 271.7)"/>
<ellipse cx="256.9" cy="267.6" rx=".5" ry=".4" opacity=".24" transform="rotate(-12 256.9 267.6)"/>
<ellipse cx="259.9" cy="280.5" rx=".5" ry=".4" opacity=".29" transform="rotate(-12 259.9 280.5)"/>
<ellipse cx="274.2" cy="267.4" rx=".8" ry=".5" opacity=".18" transform="rotate(-12 274.2 267.4)"/>
<ellipse cx="251.9" cy="281.9" rx="1.0" ry=".6" opacity=".25" transform="rotate(-12 251.9 281.9)"/>
<ellipse cx="271.5" cy="264.8" rx=".8" ry=".5" opacity=".11" transform="rotate(-12 271.5 264.8)"/>
<ellipse cx="264.2" cy="264.8" rx=".7" ry=".6" opacity=".21" transform="rotate(-12 264.2 264.8)"/>
<ellipse cx="251.8" cy="286.4" rx=".7" ry=".5" opacity=".14" transform="rotate(-12 251.8 286.4)"/>
<ellipse cx="275.8" cy="266.0" rx=".9" ry=".4" opacity=".23" transform="rotate(-12 275.8 266.0)"/>
<ellipse cx="260.8" cy="280.4" rx=".4" ry=".4" opacity=".17" transform="rotate(-12 260.8 280.4)"/>
<ellipse cx="288.4" cy="250.2" rx=".7" ry=".4" opacity=".16" transform="rotate(-12 288.4 250.2)"/>
<ellipse cx="278.7" cy="292.8" rx=".7" ry=".6" opacity=".13" transform="rotate(-12 278.7 292.8)"/>
<ellipse cx="305.6" cy="264.9" rx=".5" ry=".5" opacity=".32" transform="rotate(-12 305.6 264.9)"/>
<ellipse cx="250.5" cy="260.4" rx=".9" ry=".4" opacity=".15" transform="rotate(-12 250.5 260.4)"/>
<ellipse cx="250.6" cy="249.7" rx=".8" ry=".6" opacity=".34" transform="rotate(-12 250.6 249.7)"/>
<ellipse cx="280.4" cy="248.9" rx=".6" ry=".5" opacity=".30" transform="rotate(-12 280.4 248.9)"/>
<ellipse cx="288.5" cy="258.6" rx=".7" ry=".5" opacity=".24" transform="rotate(-12 288.5 258.6)"/>
<ellipse cx="265.9" cy="292.2" rx="1.0" ry=".4" opacity=".16" transform="rotate(-12 265.9 292.2)"/>
<ellipse cx="302.6" cy="260.9" rx="1.0" ry=".5" opacity=".26" transform="rotate(-12 302.6 260.9)"/>
<ellipse cx="292.5" cy="257.8" rx=".6" ry=".4" opacity=".26" transform="rotate(-12 292.5 257.8)"/>
<ellipse cx="291.8" cy="254.0" rx="1.0" ry=".5" opacity=".15" transform="rotate(-12 291.8 254.0)"/>
<ellipse cx="276.3" cy="293.7" rx=".8" ry=".5" opacity=".32" transform="rotate(-12 276.3 293.7)"/>
<ellipse cx="307.9" cy="283.5" rx=".7" ry=".5" opacity=".31" transform="rotate(-12 307.9 283.5)"/>
<ellipse cx="297.5" cy="275.0" rx=".6" ry=".4" opacity=".27" transform="rotate(-12 297.5 275.0)"/>
<ellipse cx="284.0" cy="248.6" rx=".8" ry=".6" opacity=".29" transform="rotate(-12 284.0 248.6)"/>
<ellipse cx="304.0" cy="290.5" rx=".7" ry=".5" opacity=".18" transform="rotate(-12 304.0 290.5)"/>
<ellipse cx="256.0" cy="264.4" rx=".6" ry=".6" opacity=".26" transform="rotate(-12 256.0 264.4)"/>
<ellipse cx="282.7" cy="277.0" rx=".5" ry=".5" opacity=".26" transform="rotate(-12 282.7 277.0)"/>
<ellipse cx="273.8" cy="259.3" rx=".7" ry=".4" opacity=".26" transform="rotate(-12 273.8 259.3)"/>
<ellipse cx="258.6" cy="252.0" rx=".6" ry=".5" opacity=".28" transform="rotate(-12 258.6 252.0)"/>
<ellipse cx="289.7" cy="291.6" rx=".6" ry=".4" opacity=".21" transform="rotate(-12 289.7 291.6)"/>
<ellipse cx="276.8" cy="256.2" rx=".8" ry=".4" opacity=".15" transform="rotate(-12 276.8 256.2)"/>
<ellipse cx="269.8" cy="292.1" rx=".4" ry=".4" opacity=".16" transform="rotate(-12 269.8 292.1)"/>
<ellipse cx="262.2" cy="268.1" rx=".6" ry=".6" opacity=".21" transform="rotate(-12 262.2 268.1)"/>
<ellipse cx="292.1" cy="255.4" rx=".7" ry=".5" opacity=".30" transform="rotate(-12 292.1 255.4)"/>
<ellipse cx="265.1" cy="269.4" rx=".9" ry=".6" opacity=".14" transform="rotate(-12 265.1 269.4)"/>
<ellipse cx="282.4" cy="283.5" rx=".7" ry=".5" opacity=".25" transform="rotate(-12 282.4 283.5)"/>
<ellipse cx="308.5" cy="273.8" rx=".8" ry=".4" opacity=".27" transform="rotate(-12 308.5 273.8)"/>
<ellipse cx="269.5" cy="271.2" rx=".6" ry=".4" opacity=".12" transform="rotate(-12 269.5 271.2)"/>
<ellipse cx="263.7" cy="273.3" rx=".6" ry=".4" opacity=".29" transform="rotate(-12 263.7 273.3)"/>
<ellipse cx="267.3" cy="291.7" rx=".8" ry=".4" opacity=".31" transform="rotate(-12 267.3 291.7)"/>
<ellipse cx="304.0" cy="262.9" rx=".5" ry=".5" opacity=".30" transform="rotate(-12 304.0 262.9)"/>
<ellipse cx="286.7" cy="284.6" rx=".7" ry=".5" opacity=".15" transform="rotate(-12 286.7 284.6)"/>
<ellipse cx="274.6" cy="265.6" rx=".7" ry=".4" opacity=".29" transform="rotate(-12 274.6 265.6)"/>
<ellipse cx="260.3" cy="257.4" rx=".6" ry=".6" opacity=".22" transform="rotate(-12 260.3 257.4)"/>
<ellipse cx="253.3" cy="287.0" rx=".9" ry=".6" opacity=".18" transform="rotate(-12 253.3 287.0)"/>
<ellipse cx="294.3" cy="262.1" rx=".5" ry=".6" opacity=".30" transform="rotate(-12 294.3 262.1)"/>
<ellipse cx="262.8" cy="289.1" rx=".4" ry=".4" opacity=".09" transform="rotate(-12 262.8 289.1)"/>
<ellipse cx="260.4" cy="255.5" rx=".9" ry=".4" opacity=".13" transform="rotate(-12 260.4 255.5)"/>
<ellipse cx="261.2" cy="262.4" rx=".9" ry=".5" opacity=".11" transform="rotate(-12 261.2 262.4)"/>
<ellipse cx="291.3" cy="272.9" rx=".7" ry=".5" opacity=".25" transform="rotate(-12 291.3 272.9)"/>
<ellipse cx="298.2" cy="271.5" rx=".8" ry=".5" opacity=".25" transform="rotate(-12 298.2 271.5)"/>
<ellipse cx="273.4" cy="267.3" rx=".7" ry=".5" opacity=".16" transform="rotate(-12 273.4 267.3)"/>
<ellipse cx="305.7" cy="270.9" rx=".9" ry=".5" opacity=".33" transform="rotate(-12 305.7 270.9)"/>
<ellipse cx="291.1" cy="267.8" rx=".7" ry=".5" opacity=".28" transform="rotate(-12 291.1 267.8)"/>
<ellipse cx="300.5" cy="253.9" rx=".5" ry=".4" opacity=".11" transform="rotate(-12 300.5 253.9)"/>
<ellipse cx="253.5" cy="248.2" rx=".6" ry=".4" opacity=".26" transform="rotate(-12 253.5 248.2)"/>
<ellipse cx="287.1" cy="293.1" rx="1.0" ry=".5" opacity=".33" transform="rotate(-12 287.1 293.1)"/>
<ellipse cx="251.8" cy="258.5" rx="1.0" ry=".5" opacity=".14" transform="rotate(-12 251.8 258.5)"/>
<ellipse cx="295.6" cy="267.7" rx=".7" ry=".4" opacity=".15" transform="rotate(-12 295.6 267.7)"/>
<ellipse cx="255.3" cy="276.3" rx="1.0" ry=".6" opacity=".28" transform="rotate(-12 255.3 276.3)"/>
<ellipse cx="306.2" cy="264.8" rx=".6" ry=".6" opacity=".24" transform="rotate(-12 306.2 264.8)"/>
<ellipse cx="290.3" cy="248.4" rx=".6" ry=".5" opacity=".27" transform="rotate(-12 290.3 248.4)"/>
<ellipse cx="299.7" cy="283.3" rx=".6" ry=".4" opacity=".30" transform="rotate(-12 299.7 283.3)"/>
<ellipse cx="309.6" cy="270.5" rx=".5" ry=".5" opacity=".22" transform="rotate(-12 309.6 270.5)"/>
<ellipse cx="271.8" cy="258.6" rx=".7" ry=".5" opacity=".12" transform="rotate(-12 271.8 258.6)"/>
<ellipse cx="282.6" cy="292.5" rx=".9" ry=".4" opacity=".19" transform="rotate(-12 282.6 292.5)"/>
<ellipse cx="256.3" cy="282.4" rx=".8" ry=".4" opacity=".22" transform="rotate(-12 256.3 282.4)"/>
<ellipse cx="285.9" cy="274.9" rx=".7" ry=".4" opacity=".18" transform="rotate(-12 285.9 274.9)"/>
<ellipse cx="310.1" cy="263.3" rx=".7" ry=".5" opacity=".13" transform="rotate(-12 310.1 263.3)"/>
<ellipse cx="274.1" cy="257.4" rx=".6" ry=".4" opacity=".17" transform="rotate(-12 274.1 257.4)"/>
<ellipse cx="306.5" cy="261.7" rx=".6" ry=".5" opacity=".19" transform="rotate(-12 306.5 261.7)"/>
<ellipse cx="281.1" cy="278.2" rx=".5" ry=".5" opacity=".11" transform="rotate(-12 281.1 278.2)"/>
<ellipse cx="265.1" cy="285.8" rx="1.0" ry=".5" opacity=".13" transform="rotate(-12 265.1 285.8)"/>
<ellipse cx="276.4" cy="261.1" rx=".9" ry=".4" opacity=".14" transform="rotate(-12 276.4 261.1)"/>
<ellipse cx="288.4" cy="277.7" rx=".8" ry=".5" opacity=".33" transform="rotate(-12 288.4 277.7)"/>
<ellipse cx="277.7" cy="291.7" rx=".7" ry=".5" opacity=".18" transform="rotate(-12 277.7 291.7)"/>
<ellipse cx="293.1" cy="283.0" rx=".6" ry=".5" opacity=".27" transform="rotate(-12 293.1 283.0)"/>
<ellipse cx="280.2" cy="278.9" rx=".8" ry=".5" opacity=".18" transform="rotate(-12 280.2 278.9)"/>
<ellipse cx="268.5" cy="249.0" rx="1.0" ry=".5" opacity=".18" transform="rotate(-12 268.5 249.0)"/>
<ellipse cx="308.2" cy="290.1" rx=".5" ry=".6" opacity=".19" transform="rotate(-12 308.2 290.1)"/>
<ellipse cx="269.0" cy="260.0" rx=".7" ry=".4" opacity=".10" transform="rotate(-12 269.0 260.0)"/>
<ellipse cx="257.1" cy="262.2" rx=".5" ry=".4" opacity=".30" transform="rotate(-12 257.1 262.2)"/>
<ellipse cx="272.9" cy="270.8" rx=".8" ry=".6" opacity=".12" transform="rotate(-12 272.9 270.8)"/>
<ellipse cx="263.8" cy="288.2" rx="1.0" ry=".6" opacity=".22" transform="rotate(-12 263.8 288.2)"/>
<ellipse cx="272.2" cy="256.6" rx="1.0" ry=".5" opacity=".23" transform="rotate(-12 272.2 256.6)"/>
<ellipse cx="297.7" cy="260.0" rx=".7" ry=".6" opacity=".11" transform="rotate(-12 297.7 260.0)"/>
<ellipse cx="287.2" cy="256.5" rx=".9" ry=".6" opacity=".25" transform="rotate(-12 287.2 256.5)"/>
<ellipse cx="276.3" cy="248.8" rx=".7" ry=".4" opacity=".19" transform="rotate(-12 276.3 248.8)"/>
<ellipse cx="254.8" cy="291.0" rx=".7" ry=".5" opacity=".30" transform="rotate(-12 254.8 291.0)"/>
<ellipse cx="304.0" cy="273.6" rx=".7" ry=".6" opacity=".18" transform="rotate(-12 304.0 273.6)"/>
<ellipse cx="304.2" cy="248.9" rx=".9" ry=".5" opacity=".24" transform="rotate(-12 304.2 248.9)"/>
<ellipse cx="309.6" cy="258.1" rx=".7" ry=".5" opacity=".28" transform="rotate(-12 309.6 258.1)"/>
<ellipse cx="281.6" cy="284.2" rx=".8" ry=".6" opacity=".25" transform="rotate(-12 281.6 284.2)"/>
<ellipse cx="271.9" cy="261.3" rx=".5" ry=".4" opacity=".10" transform="rotate(-12 271.9 261.3)"/>
<ellipse cx="308.7" cy="254.4" rx=".8" ry=".4" opacity=".33" transform="rotate(-12 308.7 254.4)"/>
<ellipse cx="282.1" cy="256.1" rx=".9" ry=".6" opacity=".33" transform="rotate(-12 282.1 256.1)"/>
<ellipse cx="263.5" cy="266.7" rx=".8" ry=".4" opacity=".23" transform="rotate(-12 263.5 266.7)"/>
<ellipse cx="292.2" cy="283.0" rx=".9" ry=".5" opacity=".16" transform="rotate(-12 292.2 283.0)"/>
<ellipse cx="295.5" cy="268.1" rx=".5" ry=".4" opacity=".24" transform="rotate(-12 295.5 268.1)"/>
<ellipse cx="271.6" cy="252.2" rx=".7" ry=".5" opacity=".17" transform="rotate(-12 271.6 252.2)"/>
<ellipse cx="284.1" cy="273.1" rx=".7" ry=".6" opacity=".32" transform="rotate(-12 284.1 273.1)"/>
<ellipse cx="268.1" cy="288.7" rx=".6" ry=".6" opacity=".10" transform="rotate(-12 268.1 288.7)"/>
<ellipse cx="269.2" cy="291.5" rx=".8" ry=".5" opacity=".14" transform="rotate(-12 269.2 291.5)"/>
<ellipse cx="257.4" cy="292.8" rx=".5" ry=".4" opacity=".19" transform="rotate(-12 257.4 292.8)"/>
<ellipse cx="299.3" cy="279.7" rx="1.0" ry=".5" opacity=".20" transform="rotate(-12 299.3 279.7)"/>
<ellipse cx="304.9" cy="262.7" rx=".5" ry=".6" opacity=".31" transform="rotate(-12 304.9 262.7)"/>
<ellipse cx="289.8" cy="270.3" rx=".5" ry=".4" opacity=".10" transform="rotate(-12 289.8 270.3)"/>
<ellipse cx="255.7" cy="270.3" rx="1.0" ry=".6" opacity=".22" transform="rotate(-12 255.7 270.3)"/>
<ellipse cx="290.6" cy="269.7" rx=".9" ry=".5" opacity=".34" transform="rotate(-12 290.6 269.7)"/>
<ellipse cx="300.9" cy="279.6" rx=".8" ry=".4" opacity=".21" transform="rotate(-12 300.9 279.6)"/>
<ellipse cx="277.0" cy="255.0" rx=".5" ry=".5" opacity=".13" transform="rotate(-12 277.0 255.0)"/>
<ellipse cx="287.6" cy="263.2" rx="1.0" ry=".5" opacity=".22" transform="rotate(-12 287.6 263.2)"/>
<ellipse cx="276.2" cy="266.2" rx=".5" ry=".6" opacity=".32" transform="rotate(-12 276.2 266.2)"/>
<ellipse cx="289.2" cy="278.3" rx=".5" ry=".5" opacity=".13" transform="rotate(-12 289.2 278.3)"/>
<ellipse cx="269.6" cy="275.3" rx=".5" ry=".4" opacity=".27" transform="rotate(-12 269.6 275.3)"/>
<ellipse cx="279.2" cy="289.5" rx=".5" ry=".4" opacity=".32" transform="rotate(-12 279.2 289.5)"/>
<ellipse cx="286.7" cy="280.3" rx=".8" ry=".4" opacity=".33" transform="rotate(-12 286.7 280.3)"/>
<ellipse cx="279.9" cy="290.4" rx=".5" ry=".4" opacity=".23" transform="rotate(-12 279.9 290.4)"/>
<ellipse cx="265.0" cy="288.1" rx=".6" ry=".4" opacity=".13" transform="rotate(-12 265.0 288.1)"/>
<ellipse cx="266.4" cy="292.3" rx=".9" ry=".5" opacity=".19" transform="rotate(-12 266.4 292.3)"/>
<ellipse cx="252.6" cy="286.8" rx=".5" ry=".4" opacity=".20" transform="rotate(-12 252.6 286.8)"/>
<ellipse cx="301.9" cy="256.4" rx=".5" ry=".6" opacity=".09" transform="rotate(-12 301.9 256.4)"/>
<ellipse cx="294.2" cy="254.4" rx=".6" ry=".4" opacity=".20" transform="rotate(-12 294.2 254.4)"/>
<ellipse cx="305.5" cy="287.2" rx=".7" ry=".4" opacity=".13" transform="rotate(-12 305.5 287.2)"/>
<ellipse cx="267.9" cy="285.0" rx="1.0" ry=".4" opacity=".17" transform="rotate(-12 267.9 285.0)"/>
<ellipse cx="307.8" cy="254.9" rx=".5" ry=".4" opacity=".31" transform="rotate(-12 307.8 254.9)"/>
<ellipse cx="265.9" cy="281.6" rx=".5" ry=".5" opacity=".13" transform="rotate(-12 265.9 281.6)"/>
<ellipse cx="285.9" cy="282.6" rx=".9" ry=".5" opacity=".34" transform="rotate(-12 285.9 282.6)"/>
<ellipse cx="274.5" cy="292.3" rx="1.0" ry=".6" opacity=".11" transform="rotate(-12 274.5 292.3)"/>
<ellipse cx="266.5" cy="280.4" rx="1.0" ry=".4" opacity=".28" transform="rotate(-12 266.5 280.4)"/>
<ellipse cx="278.8" cy="248.0" rx=".5" ry=".4" opacity=".14" transform="rotate(-12 278.8 248.0)"/>
<ellipse cx="306.2" cy="279.7" rx=".9" ry=".6" opacity=".19" transform="rotate(-12 306.2 279.7)"/>
<ellipse cx="291.9" cy="278.5" rx=".8" ry=".4" opacity=".31" transform="rotate(-12 291.9 278.5)"/>
<ellipse cx="259.5" cy="268.7" rx=".8" ry=".5" opacity=".30" transform="rotate(-12 259.5 268.7)"/>
<ellipse cx="268.9" cy="261.8" rx=".9" ry=".4" opacity=".31" transform="rotate(-12 268.9 261.8)"/>
<ellipse cx="269.1" cy="266.2" rx=".6" ry=".5" opacity=".13" transform="rotate(-12 269.1 266.2)"/>
<ellipse cx="258.2" cy="250.9" rx=".5" ry=".5" opacity=".34" transform="rotate(-12 258.2 250.9)"/>
<ellipse cx="250.5" cy="269.5" rx=".6" ry=".4" opacity=".17" transform="rotate(-12 250.5 269.5)"/>
<ellipse cx="256.6" cy="267.7" rx=".6" ry=".4" opacity=".12" transform="rotate(-12 256.6 267.7)"/>
<ellipse cx="305.9" cy="281.5" rx="1.0" ry=".6" opacity=".27" transform="rotate(-12 305.9 281.5)"/>
<ellipse cx="263.7" cy="252.9" rx="1.0" ry=".5" opacity=".27" transform="rotate(-12 263.7 252.9)"/>
<ellipse cx="258.7" cy="284.9" rx=".7" ry=".4" opacity=".14" transform="rotate(-12 258.7 284.9)"/>
<ellipse cx="308.3" cy="277.0" rx=".5" ry=".4" opacity=".28" transform="rotate(-12 308.3 277.0)"/>
<ellipse cx="271.3" cy="270.2" rx=".5" ry=".4" opacity=".21" transform="rotate(-12 271.3 270.2)"/>
<ellipse cx="251.9" cy="260.0" rx="1.5" ry=".8" opacity=".44" transform="rotate(-12 251.9 260.0)"/>
<ellipse cx="254.9" cy="270.3" rx="1.7" ry=".8" opacity=".48" transform="rotate(-12 254.9 270.3)"/>
<ellipse cx="263.3" cy="265.6" rx="1.4" ry=".8" opacity=".44" transform="rotate(-12 263.3 265.6)"/>
<ellipse cx="268.1" cy="265.2" rx="1.3" ry=".8" opacity=".40" transform="rotate(-12 268.1 265.2)"/>
<ellipse cx="275.9" cy="257.6" rx="1.5" ry=".8" opacity=".40" transform="rotate(-12 275.9 257.6)"/>
<ellipse cx="277.7" cy="262.8" rx="1.3" ry=".7" opacity=".35" transform="rotate(-12 277.7 262.8)"/>
<ellipse cx="283.2" cy="267.5" rx="2.0" ry=".8" opacity=".53" transform="rotate(-12 283.2 267.5)"/>
<ellipse cx="287.4" cy="251.1" rx="1.7" ry=".8" opacity=".53" transform="rotate(-12 287.4 251.1)"/>
<ellipse cx="282.0" cy="253.0" rx="1.4" ry=".7" opacity=".40" transform="rotate(-12 282.0 253.0)"/>
<ellipse cx="298.2" cy="274.1" rx="1.5" ry=".8" opacity=".57" transform="rotate(-12 298.2 274.1)"/>
<ellipse cx="302.4" cy="265.6" rx="1.4" ry=".8" opacity=".35" transform="rotate(-12 302.4 265.6)"/>
<ellipse cx="292.2" cy="267.5" rx="1.4" ry=".8" opacity=".35" transform="rotate(-12 292.2 267.5)"/>
<ellipse cx="263.3" cy="276.4" rx="1.3" ry=".7" opacity=".35" transform="rotate(-12 263.3 276.4)"/>
<ellipse cx="261.5" cy="289.5" rx="1.7" ry=".8" opacity=".44" transform="rotate(-12 261.5 289.5)"/>
<ellipse cx="268.7" cy="290.9" rx="1.4" ry=".7" opacity=".35" transform="rotate(-12 268.7 290.9)"/>
<ellipse cx="277.7" cy="283.9" rx="1.4" ry=".7" opacity=".40" transform="rotate(-12 277.7 283.9)"/>
<ellipse cx="285.0" cy="278.8" rx="1.4" ry=".7" opacity=".35" transform="rotate(-12 285.0 278.8)"/>
<ellipse cx="295.8" cy="283.0" rx="1.0" ry=".8" opacity=".62" transform="rotate(-12 295.8 283.0)"/>
<ellipse cx="301.2" cy="284.4" rx="1.2" ry=".8" opacity=".44" transform="rotate(-12 301.2 284.4)"/>
<ellipse cx="292.8" cy="291.4" rx="1.4" ry=".7" opacity=".44" transform="rotate(-12 292.8 291.4)"/>
<ellipse cx="294.0" cy="259.1" rx="1.4" ry=".7" opacity=".35" transform="rotate(-12 294.0 259.1)"/>
<ellipse cx="305.4" cy="261.4" rx="1.3" ry=".7" opacity=".35" transform="rotate(-12 305.4 261.4)"/>
<ellipse cx="267.5" cy="284.9" rx="1.3" ry=".7" opacity=".35" transform="rotate(-12 267.5 284.9)"/>
<ellipse cx="290.4" cy="282.0" rx="1.2" ry=".7" opacity=".40" transform="rotate(-12 290.4 282.0)"/>
</g></g>
<rect x="298.6" y="290.2" width="7.4" height="2.3" fill="#fff"/>
<line x1="55.5" y1="299.3" x2="69.5" y2="299.3" stroke="#111" stroke-width="1.3"/>
<path d="M72.5,299.3 L67.5,296.7 L67.5,301.90000000000003 Z" fill="#111"/>
<text x="53" y="310.8" font-size="8.6" text-anchor="start" font-weight="normal" fill="#111">500 s<tspan font-size="5" dy="-3">-1</tspan></text>
<line x1="61.9" y1="324.2" x2="61.9" y2="406.8" stroke="#111" stroke-width="1.5"/>
<line x1="61.3" y1="406.2" x2="183" y2="406.2" stroke="#111" stroke-width="1.5"/>
<line x1="58.699999999999996" y1="406.2" x2="61.9" y2="406.2" stroke="#111" stroke-width="1.5"/>
<text x="55.8" y="409.524" font-size="8.4" text-anchor="end" font-weight="normal" fill="#111">0</text>
<line x1="58.699999999999996" y1="394.92857142857144" x2="61.9" y2="394.92857142857144" stroke="#111" stroke-width="1.5"/>
<text x="55.8" y="398.25257142857146" font-size="8.4" text-anchor="end" font-weight="normal" fill="#111">5</text>
<line x1="58.699999999999996" y1="383.65714285714284" x2="61.9" y2="383.65714285714284" stroke="#111" stroke-width="1.5"/>
<text x="55.8" y="386.98114285714286" font-size="8.4" text-anchor="end" font-weight="normal" fill="#111">10</text>
<line x1="58.699999999999996" y1="372.3857142857143" x2="61.9" y2="372.3857142857143" stroke="#111" stroke-width="1.5"/>
<text x="55.8" y="375.7097142857143" font-size="8.4" text-anchor="end" font-weight="normal" fill="#111">15</text>
<line x1="58.699999999999996" y1="361.1142857142857" x2="61.9" y2="361.1142857142857" stroke="#111" stroke-width="1.5"/>
<text x="55.8" y="364.4382857142857" font-size="8.4" text-anchor="end" font-weight="normal" fill="#111">20</text>
<line x1="58.699999999999996" y1="349.84285714285716" x2="61.9" y2="349.84285714285716" stroke="#111" stroke-width="1.5"/>
<text x="55.8" y="353.16685714285717" font-size="8.4" text-anchor="end" font-weight="normal" fill="#111">25</text>
<line x1="58.699999999999996" y1="338.57142857142856" x2="61.9" y2="338.57142857142856" stroke="#111" stroke-width="1.5"/>
<text x="55.8" y="341.89542857142857" font-size="8.4" text-anchor="end" font-weight="normal" fill="#111">30</text>
<line x1="58.699999999999996" y1="327.3" x2="61.9" y2="327.3" stroke="#111" stroke-width="1.5"/>
<text x="55.8" y="330.624" font-size="8.4" text-anchor="end" font-weight="normal" fill="#111">35</text>
<line x1="73.5" y1="406.2" x2="73.5" y2="409.4" stroke="#111" stroke-width="1.5"/>
<text x="73.5" y="420.2" font-size="8.4" text-anchor="middle" font-weight="normal" fill="#111">0</text>
<line x1="97.5" y1="406.2" x2="97.5" y2="409.4" stroke="#111" stroke-width="1.5"/>
<text x="97.5" y="420.2" font-size="8.4" text-anchor="middle" font-weight="normal" fill="#111">30</text>
<line x1="121.5" y1="406.2" x2="121.5" y2="409.4" stroke="#111" stroke-width="1.5"/>
<text x="121.5" y="420.2" font-size="8.4" text-anchor="middle" font-weight="normal" fill="#111">60</text>
<line x1="145.5" y1="406.2" x2="145.5" y2="409.4" stroke="#111" stroke-width="1.5"/>
<text x="145.5" y="420.2" font-size="8.4" text-anchor="middle" font-weight="normal" fill="#111">90</text>
<line x1="169.5" y1="406.2" x2="169.5" y2="409.4" stroke="#111" stroke-width="1.5"/>
<text x="169.5" y="420.2" font-size="8.4" text-anchor="middle" font-weight="normal" fill="#111">120</text>
<text transform="translate(41,364.8) rotate(-90)" font-size="9.9" text-anchor="middle" fill="#111" textLength="81" lengthAdjust="spacingAndGlyphs">Surface covered (%)</text>
<text x="121.5" y="433.4" font-size="9.9" text-anchor="middle" font-weight="normal" fill="#111" textLength="41" lengthAdjust="spacingAndGlyphs">Time (sec)</text>
<polyline points="73.5,403.7 97.5,397.9 121.5,392.5 145.5,381.5 169.5,367.1" fill="none" stroke="#2e4b7c" stroke-width="1.4"/>
<line x1="73.5" y1="403" x2="73.5" y2="404.4" stroke="#2e4b7c" stroke-width="1.2"/>
<line x1="71.3" y1="403" x2="75.7" y2="403" stroke="#2e4b7c" stroke-width="1.2"/>
<line x1="71.3" y1="404.4" x2="75.7" y2="404.4" stroke="#2e4b7c" stroke-width="1.2"/>
<line x1="97.5" y1="395.7" x2="97.5" y2="400.4" stroke="#2e4b7c" stroke-width="1.2"/>
<line x1="95.3" y1="395.7" x2="99.7" y2="395.7" stroke="#2e4b7c" stroke-width="1.2"/>
<line x1="95.3" y1="400.4" x2="99.7" y2="400.4" stroke="#2e4b7c" stroke-width="1.2"/>
<line x1="121.5" y1="388.7" x2="121.5" y2="396" stroke="#2e4b7c" stroke-width="1.2"/>
<line x1="119.3" y1="388.7" x2="123.7" y2="388.7" stroke="#2e4b7c" stroke-width="1.2"/>
<line x1="119.3" y1="396" x2="123.7" y2="396" stroke="#2e4b7c" stroke-width="1.2"/>
<line x1="145.5" y1="378.3" x2="145.5" y2="385" stroke="#2e4b7c" stroke-width="1.2"/>
<line x1="143.3" y1="378.3" x2="147.7" y2="378.3" stroke="#2e4b7c" stroke-width="1.2"/>
<line x1="143.3" y1="385" x2="147.7" y2="385" stroke="#2e4b7c" stroke-width="1.2"/>
<line x1="169.5" y1="363.8" x2="169.5" y2="370.4" stroke="#2e4b7c" stroke-width="1.2"/>
<line x1="167.3" y1="363.8" x2="171.7" y2="363.8" stroke="#2e4b7c" stroke-width="1.2"/>
<line x1="167.3" y1="370.4" x2="171.7" y2="370.4" stroke="#2e4b7c" stroke-width="1.2"/>
<rect x="71.90" y="402.10" width="3.20" height="3.20" rx="0.7" fill="#2e4b7c"/>
<rect x="95.90" y="396.30" width="3.20" height="3.20" rx="0.7" fill="#2e4b7c"/>
<rect x="119.90" y="390.90" width="3.20" height="3.20" rx="0.7" fill="#2e4b7c"/>
<rect x="143.90" y="379.90" width="3.20" height="3.20" rx="0.7" fill="#2e4b7c"/>
<rect x="167.90" y="365.50" width="3.20" height="3.20" rx="0.7" fill="#2e4b7c"/>
<polyline points="73.5,401.7 97.5,394.0 121.5,379.6 145.5,362.3 169.5,342.7" fill="none" stroke="#aa0c2e" stroke-width="1.4"/>
<line x1="73.5" y1="400.7" x2="73.5" y2="402.7" stroke="#aa0c2e" stroke-width="1.2"/>
<line x1="71.3" y1="400.7" x2="75.7" y2="400.7" stroke="#aa0c2e" stroke-width="1.2"/>
<line x1="71.3" y1="402.7" x2="75.7" y2="402.7" stroke="#aa0c2e" stroke-width="1.2"/>
<line x1="97.5" y1="393" x2="97.5" y2="395" stroke="#aa0c2e" stroke-width="1.2"/>
<line x1="95.3" y1="393" x2="99.7" y2="393" stroke="#aa0c2e" stroke-width="1.2"/>
<line x1="95.3" y1="395" x2="99.7" y2="395" stroke="#aa0c2e" stroke-width="1.2"/>
<line x1="121.5" y1="377.5" x2="121.5" y2="382.3" stroke="#aa0c2e" stroke-width="1.2"/>
<line x1="119.3" y1="377.5" x2="123.7" y2="377.5" stroke="#aa0c2e" stroke-width="1.2"/>
<line x1="119.3" y1="382.3" x2="123.7" y2="382.3" stroke="#aa0c2e" stroke-width="1.2"/>
<line x1="145.5" y1="356.5" x2="145.5" y2="369" stroke="#aa0c2e" stroke-width="1.2"/>
<line x1="143.3" y1="356.5" x2="147.7" y2="356.5" stroke="#aa0c2e" stroke-width="1.2"/>
<line x1="143.3" y1="369" x2="147.7" y2="369" stroke="#aa0c2e" stroke-width="1.2"/>
<line x1="169.5" y1="333" x2="169.5" y2="351.9" stroke="#aa0c2e" stroke-width="1.2"/>
<line x1="167.3" y1="333" x2="171.7" y2="333" stroke="#aa0c2e" stroke-width="1.2"/>
<line x1="167.3" y1="351.9" x2="171.7" y2="351.9" stroke="#aa0c2e" stroke-width="1.2"/>
<circle cx="73.5" cy="401.7" r="1.55" fill="#fff" stroke="#aa0c2e" stroke-width="1.05"/>
<circle cx="97.5" cy="394.0" r="1.55" fill="#fff" stroke="#aa0c2e" stroke-width="1.05"/>
<circle cx="121.5" cy="379.6" r="1.55" fill="#fff" stroke="#aa0c2e" stroke-width="1.05"/>
<circle cx="145.5" cy="362.3" r="1.55" fill="#fff" stroke="#aa0c2e" stroke-width="1.05"/>
<circle cx="169.5" cy="342.7" r="1.55" fill="#fff" stroke="#aa0c2e" stroke-width="1.05"/>
<path d="M119.70,397.40V400.00M118.50,398.10L120.90,399.30M118.50,399.30L120.90,398.10" stroke="#111" stroke-width="0.95" fill="none"/>
<path d="M123.70,397.40V400.00M122.50,398.10L124.90,399.30M122.50,399.30L124.90,398.10" stroke="#111" stroke-width="0.95" fill="none"/>
<path d="M143.80,387.80V390.40M142.60,388.50L145.00,389.70M142.60,389.70L145.00,388.50" stroke="#111" stroke-width="0.95" fill="none"/>
<path d="M147.80,387.80V390.40M146.60,388.50L149.00,389.70M146.60,389.70L149.00,388.50" stroke="#111" stroke-width="0.95" fill="none"/>
<path d="M169.40,373.00V375.60M168.20,373.70L170.60,374.90M168.20,374.90L170.60,373.70" stroke="#111" stroke-width="0.95" fill="none"/>
<line x1="66.7" y1="327.2" x2="78.3" y2="327.2" stroke="#aa0c2e" stroke-width="1.3"/>
<circle cx="72.5" cy="327.2" r="1.32" fill="#fff" stroke="#aa0c2e" stroke-width="1.05"/>
<text x="82.3" y="329.4" font-size="7.4" text-anchor="start" font-weight="normal" fill="#111">WT</text>
<line x1="66.7" y1="336.3" x2="78.3" y2="336.3" stroke="#2e4b7c" stroke-width="1.3"/>
<rect x="71.14" y="334.94" width="2.72" height="2.72" rx="0.7" fill="#2e4b7c"/>
<text x="82.3" y="338.5" font-size="7.4" text-anchor="start" font-weight="normal" fill="#111">Vps34</text>
<line x1="243.2" y1="325.99999999999994" x2="243.2" y2="407.6" stroke="#111" stroke-width="1.5"/>
<line x1="242.6" y1="407.0" x2="303.5" y2="407.0" stroke="#111" stroke-width="1.5"/>
<line x1="240.2" y1="407.0" x2="243.2" y2="407.0" stroke="#111" stroke-width="1.5"/>
<text x="236.9" y="410.324" font-size="8.4" text-anchor="end" font-weight="normal" fill="#111">0</text>
<line x1="240.2" y1="368.1" x2="243.2" y2="368.1" stroke="#111" stroke-width="1.5"/>
<text x="236.9" y="371.42400000000004" font-size="8.4" text-anchor="end" font-weight="normal" fill="#111">50</text>
<line x1="240.2" y1="329.2" x2="243.2" y2="329.2" stroke="#111" stroke-width="1.5"/>
<text x="236.9" y="332.524" font-size="8.4" text-anchor="end" font-weight="normal" fill="#111">100</text>
<line x1="260" y1="407.0" x2="260" y2="410.0" stroke="#111" stroke-width="1.5"/>
<line x1="288.8" y1="407.0" x2="288.8" y2="410.0" stroke="#111" stroke-width="1.5"/>
<rect x="248.1" y="329.2" width="23.8" height="77.80000000000001" fill="#aa0c2e"/>
<rect x="276.9" y="361.5" width="23.8" height="45.5" fill="#2e4b7c"/>
<line x1="288.8" y1="356.9" x2="288.8" y2="362" stroke="#111" stroke-width="1.2"/>
<line x1="282.7" y1="356.9" x2="294.7" y2="356.9" stroke="#111" stroke-width="1.2"/>
<line x1="242.6" y1="407.0" x2="303.5" y2="407.0" stroke="#111" stroke-width="1.3"/>
<path d="M286.60,346.00V348.60M285.40,346.70L287.80,347.90M285.40,347.90L287.80,346.70" stroke="#111" stroke-width="0.95" fill="none"/>
<path d="M290.60,346.00V348.60M289.40,346.70L291.80,347.90M289.40,347.90L291.80,346.70" stroke="#111" stroke-width="0.95" fill="none"/>
<text x="260" y="419.8" font-size="8.4" text-anchor="middle" font-weight="normal" fill="#111">WT</text>
<text x="289" y="419.8" font-size="8.4" text-anchor="middle" font-weight="normal" fill="#111">Vps34</text>
<text transform="translate(209.5,367.2) rotate(-90)" font-size="9.9" text-anchor="middle" fill="#111" textLength="70.5" lengthAdjust="spacingAndGlyphs">Thrombus volume</text>
<text transform="translate(221.1,366.2) rotate(-90)" font-size="9.9" text-anchor="middle" fill="#111" textLength="39.2" lengthAdjust="spacingAndGlyphs">(% of WT)</text>
<text x="340.0" y="185.6" font-size="13.2" text-anchor="start" font-weight="bold" fill="#111" stroke-width="0.1">D</text>
<line x1="386.3" y1="197.9" x2="386.3" y2="284.0" stroke="#111" stroke-width="1.5"/>
<line x1="385.7" y1="283.4" x2="512.3" y2="283.4" stroke="#111" stroke-width="1.5"/>
<line x1="383.1" y1="283.4" x2="386.3" y2="283.4" stroke="#111" stroke-width="1.5"/>
<text x="380.4" y="286.724" font-size="8.4" text-anchor="end" font-weight="normal" fill="#111">0</text>
<line x1="383.1" y1="255.86666666666665" x2="386.3" y2="255.86666666666665" stroke="#111" stroke-width="1.5"/>
<text x="380.4" y="259.19066666666663" font-size="8.4" text-anchor="end" font-weight="normal" fill="#111">25</text>
<line x1="383.1" y1="228.33333333333334" x2="386.3" y2="228.33333333333334" stroke="#111" stroke-width="1.5"/>
<text x="380.4" y="231.65733333333336" font-size="8.4" text-anchor="end" font-weight="normal" fill="#111">50</text>
<line x1="383.1" y1="200.8" x2="386.3" y2="200.8" stroke="#111" stroke-width="1.5"/>
<text x="380.4" y="204.12400000000002" font-size="8.4" text-anchor="end" font-weight="normal" fill="#111">75</text>
<line x1="398.8" y1="283.4" x2="398.8" y2="286.59999999999997" stroke="#111" stroke-width="1.5"/>
<text x="398.8" y="296.2" font-size="8.4" text-anchor="middle" font-weight="normal" fill="#111">0</text>
<line x1="423.8" y1="283.4" x2="423.8" y2="286.59999999999997" stroke="#111" stroke-width="1.5"/>
<text x="423.8" y="296.2" font-size="8.4" text-anchor="middle" font-weight="normal" fill="#111">30</text>
<line x1="448.8" y1="283.4" x2="448.8" y2="286.59999999999997" stroke="#111" stroke-width="1.5"/>
<text x="448.8" y="296.2" font-size="8.4" text-anchor="middle" font-weight="normal" fill="#111">60</text>
<line x1="473.8" y1="283.4" x2="473.8" y2="286.59999999999997" stroke="#111" stroke-width="1.5"/>
<text x="473.8" y="296.2" font-size="8.4" text-anchor="middle" font-weight="normal" fill="#111">90</text>
<line x1="498.8" y1="283.4" x2="498.8" y2="286.59999999999997" stroke="#111" stroke-width="1.5"/>
<text x="498.8" y="296.2" font-size="8.4" text-anchor="middle" font-weight="normal" fill="#111">120</text>
<text transform="translate(364.7,240.2) rotate(-90)" font-size="9.9" text-anchor="middle" fill="#111" textLength="82" lengthAdjust="spacingAndGlyphs">Surface covered (%)</text>
<text x="448.7" y="310.8" font-size="9.9" text-anchor="middle" font-weight="normal" fill="#111" textLength="41" lengthAdjust="spacingAndGlyphs">Time (sec)</text>
<polyline points="398.8,282.3 423.8,279.4 448.8,274.0 473.8,266.9 498.8,258.7" fill="none" stroke="#2e4b7c" stroke-width="1.4"/>
<line x1="423.8" y1="277.5" x2="423.8" y2="281.3" stroke="#2e4b7c" stroke-width="1.2"/>
<line x1="421.6" y1="277.5" x2="426.0" y2="277.5" stroke="#2e4b7c" stroke-width="1.2"/>
<line x1="421.6" y1="281.3" x2="426.0" y2="281.3" stroke="#2e4b7c" stroke-width="1.2"/>
<line x1="448.8" y1="271.7" x2="448.8" y2="276.5" stroke="#2e4b7c" stroke-width="1.2"/>
<line x1="446.6" y1="271.7" x2="451.0" y2="271.7" stroke="#2e4b7c" stroke-width="1.2"/>
<line x1="446.6" y1="276.5" x2="451.0" y2="276.5" stroke="#2e4b7c" stroke-width="1.2"/>
<line x1="473.8" y1="264.6" x2="473.8" y2="269.2" stroke="#2e4b7c" stroke-width="1.2"/>
<line x1="471.6" y1="264.6" x2="476.0" y2="264.6" stroke="#2e4b7c" stroke-width="1.2"/>
<line x1="471.6" y1="269.2" x2="476.0" y2="269.2" stroke="#2e4b7c" stroke-width="1.2"/>
<line x1="498.8" y1="254.4" x2="498.8" y2="262.7" stroke="#2e4b7c" stroke-width="1.2"/>
<line x1="496.6" y1="254.4" x2="501.0" y2="254.4" stroke="#2e4b7c" stroke-width="1.2"/>
<line x1="496.6" y1="262.7" x2="501.0" y2="262.7" stroke="#2e4b7c" stroke-width="1.2"/>
<rect x="397.20" y="280.70" width="3.20" height="3.20" rx="0.7" fill="#2e4b7c"/>
<rect x="422.20" y="277.80" width="3.20" height="3.20" rx="0.7" fill="#2e4b7c"/>
<rect x="447.20" y="272.40" width="3.20" height="3.20" rx="0.7" fill="#2e4b7c"/>
<rect x="472.20" y="265.30" width="3.20" height="3.20" rx="0.7" fill="#2e4b7c"/>
<rect x="497.20" y="257.10" width="3.20" height="3.20" rx="0.7" fill="#2e4b7c"/>
<polyline points="398.8,281.4 423.8,274.0 448.8,261.7 473.8,244.2 498.8,224.6" fill="none" stroke="#aa0c2e" stroke-width="1.4"/>
<line x1="398.8" y1="280" x2="398.8" y2="282.5" stroke="#aa0c2e" stroke-width="1.2"/>
<line x1="396.6" y1="280" x2="401.0" y2="280" stroke="#aa0c2e" stroke-width="1.2"/>
<line x1="396.6" y1="282.5" x2="401.0" y2="282.5" stroke="#aa0c2e" stroke-width="1.2"/>
<line x1="423.8" y1="267.9" x2="423.8" y2="280" stroke="#aa0c2e" stroke-width="1.2"/>
<line x1="421.6" y1="267.9" x2="426.0" y2="267.9" stroke="#aa0c2e" stroke-width="1.2"/>
<line x1="421.6" y1="280" x2="426.0" y2="280" stroke="#aa0c2e" stroke-width="1.2"/>
<line x1="448.8" y1="257.7" x2="448.8" y2="265.6" stroke="#aa0c2e" stroke-width="1.2"/>
<line x1="446.6" y1="257.7" x2="451.0" y2="257.7" stroke="#aa0c2e" stroke-width="1.2"/>
<line x1="446.6" y1="265.6" x2="451.0" y2="265.6" stroke="#aa0c2e" stroke-width="1.2"/>
<line x1="473.8" y1="234.8" x2="473.8" y2="253" stroke="#aa0c2e" stroke-width="1.2"/>
<line x1="471.6" y1="234.8" x2="476.0" y2="234.8" stroke="#aa0c2e" stroke-width="1.2"/>
<line x1="471.6" y1="253" x2="476.0" y2="253" stroke="#aa0c2e" stroke-width="1.2"/>
<line x1="498.8" y1="208.7" x2="498.8" y2="240.4" stroke="#aa0c2e" stroke-width="1.2"/>
<line x1="496.6" y1="208.7" x2="501.0" y2="208.7" stroke="#aa0c2e" stroke-width="1.2"/>
<line x1="496.6" y1="240.4" x2="501.0" y2="240.4" stroke="#aa0c2e" stroke-width="1.2"/>
<circle cx="398.8" cy="281.4" r="1.55" fill="#fff" stroke="#aa0c2e" stroke-width="1.05"/>
<circle cx="423.8" cy="274.0" r="1.55" fill="#fff" stroke="#aa0c2e" stroke-width="1.05"/>
<circle cx="448.8" cy="261.7" r="1.55" fill="#fff" stroke="#aa0c2e" stroke-width="1.05"/>
<circle cx="473.8" cy="244.2" r="1.55" fill="#fff" stroke="#aa0c2e" stroke-width="1.05"/>
<circle cx="498.8" cy="224.6" r="1.55" fill="#fff" stroke="#aa0c2e" stroke-width="1.05"/>
<path d="M446.80,279.00V281.60M445.60,279.70L448.00,280.90M445.60,280.90L448.00,279.70" stroke="#111" stroke-width="0.95" fill="none"/>
<path d="M450.80,279.00V281.60M449.60,279.70L452.00,280.90M449.60,280.90L452.00,279.70" stroke="#111" stroke-width="0.95" fill="none"/>
<path d="M471.80,271.60V274.20M470.60,272.30L473.00,273.50M470.60,273.50L473.00,272.30" stroke="#111" stroke-width="0.95" fill="none"/>
<path d="M475.80,271.60V274.20M474.60,272.30L477.00,273.50M474.60,273.50L477.00,272.30" stroke="#111" stroke-width="0.95" fill="none"/>
<path d="M496.80,266.10V268.70M495.60,266.80L498.00,268.00M495.60,268.00L498.00,266.80" stroke="#111" stroke-width="0.95" fill="none"/>
<path d="M500.80,266.10V268.70M499.60,266.80L502.00,268.00M499.60,268.00L502.00,266.80" stroke="#111" stroke-width="0.95" fill="none"/>
<line x1="392.1" y1="200.4" x2="403.3" y2="200.4" stroke="#aa0c2e" stroke-width="1.3"/>
<circle cx="397.70000000000005" cy="200.4" r="1.32" fill="#fff" stroke="#aa0c2e" stroke-width="1.05"/>
<text x="407.1" y="202.6" font-size="7.6" text-anchor="start" font-weight="normal" fill="#111">WT</text>
<line x1="392.1" y1="210.4" x2="403.3" y2="210.4" stroke="#2e4b7c" stroke-width="1.3"/>
<rect x="396.34" y="209.04" width="2.72" height="2.72" rx="0.7" fill="#2e4b7c"/>
<text x="407.1" y="212.6" font-size="7.6" text-anchor="start" font-weight="normal" fill="#111">Vps34</text>
<line x1="386.3" y1="320.59999999999997" x2="386.3" y2="404.1" stroke="#111" stroke-width="1.5"/>
<line x1="385.7" y1="403.5" x2="448.5" y2="403.5" stroke="#111" stroke-width="1.5"/>
<line x1="383.3" y1="403.5" x2="386.3" y2="403.5" stroke="#111" stroke-width="1.5"/>
<text x="379.9" y="406.824" font-size="8.4" text-anchor="end" font-weight="normal" fill="#111">0</text>
<line x1="383.3" y1="363.65" x2="386.3" y2="363.65" stroke="#111" stroke-width="1.5"/>
<text x="379.9" y="366.974" font-size="8.4" text-anchor="end" font-weight="normal" fill="#111">50</text>
<line x1="383.3" y1="323.8" x2="386.3" y2="323.8" stroke="#111" stroke-width="1.5"/>
<text x="379.9" y="327.124" font-size="8.4" text-anchor="end" font-weight="normal" fill="#111">100</text>
<line x1="404.2" y1="403.5" x2="404.2" y2="406.5" stroke="#111" stroke-width="1.5"/>
<line x1="433.5" y1="403.5" x2="433.5" y2="406.5" stroke="#111" stroke-width="1.5"/>
<rect x="391.9" y="323.8" width="24.3" height="79.69999999999999" fill="#aa0c2e"/>
<rect x="421.2" y="363.1" width="24.5" height="40.39999999999998" fill="#2e4b7c"/>
<line x1="433.5" y1="349.9" x2="433.5" y2="363.5" stroke="#111" stroke-width="1.2"/>
<line x1="427.2" y1="349.9" x2="439.7" y2="349.9" stroke="#111" stroke-width="1.2"/>
<line x1="385.7" y1="403.5" x2="448.5" y2="403.5" stroke="#111" stroke-width="1.3"/>
<path d="M431.20,341.00V343.60M430.00,341.70L432.40,342.90M430.00,342.90L432.40,341.70" stroke="#111" stroke-width="0.95" fill="none"/>
<path d="M435.20,341.00V343.60M434.00,341.70L436.40,342.90M434.00,342.90L436.40,341.70" stroke="#111" stroke-width="0.95" fill="none"/>
<text x="404.2" y="416.3" font-size="8.4" text-anchor="middle" font-weight="normal" fill="#111">WT</text>
<text x="433.6" y="416.3" font-size="8.4" text-anchor="middle" font-weight="normal" fill="#111">Vps34</text>
<text transform="translate(348.8,363.1) rotate(-90)" font-size="9.9" text-anchor="middle" fill="#111" textLength="71.2" lengthAdjust="spacingAndGlyphs">Thrombus volume</text>
<text transform="translate(360.5,362.4) rotate(-90)" font-size="9.9" text-anchor="middle" fill="#111" textLength="39.5" lengthAdjust="spacingAndGlyphs">(% of WT)</text>
<text x="6.3" y="459.4" font-size="13.2" text-anchor="start" font-weight="bold" fill="#111" stroke-width="0.1">E</text>
<text x="19" y="472" font-size="8.6" text-anchor="start" font-weight="normal" fill="#111">Time (s)</text>
<text x="85.3" y="472" font-size="8.6" text-anchor="middle" font-weight="normal" fill="#111">0</text>
<text x="147.6" y="472" font-size="8.6" text-anchor="middle" font-weight="normal" fill="#111">60</text>
<text x="210" y="472" font-size="8.6" text-anchor="middle" font-weight="normal" fill="#111">120</text>
<text x="272.4" y="472" font-size="8.6" text-anchor="middle" font-weight="normal" fill="#111">180</text>
<text x="51.2" y="505.6" font-size="8.6" text-anchor="end" font-weight="normal" fill="#111">Vehicle</text>
<text x="51.2" y="552.1" font-size="8.6" text-anchor="end" font-weight="normal" fill="#111">VPS34-IN1</text>
<text x="51.2" y="600.1" font-size="8.6" text-anchor="end" font-weight="normal" fill="#111">SAR405</text>
<g clip-path="url(#cE00)" fill="#fff">
<rect x="54.7" y="477.5" width="60.8" height="45.6" fill="rgb(9,9,9)"/>
<g filter="url(#bl)">
<ellipse cx="92.4" cy="488.9" rx="1.3" ry=".9" opacity=".17"/>
<ellipse cx="94.8" cy="492.5" rx="1.1" ry=".8" opacity=".14"/>
<ellipse cx="97.3" cy="486.6" rx="1.0" ry=".8" opacity=".12"/>
<ellipse cx="72.9" cy="482.1" rx="1.0" ry=".7" opacity=".10"/>
</g><g filter="url(#b07)">
<ellipse cx="64.7" cy="509.0" rx="1.1" ry=".7" opacity=".03"/>
<ellipse cx="102.9" cy="514.3" rx="1.0" ry=".7" opacity=".03"/>
<ellipse cx="54.9" cy="494.4" rx="1.1" ry=".5" opacity=".06"/>
<ellipse cx="68.8" cy="488.1" rx=".6" ry=".9" opacity=".06"/>
<ellipse cx="107.9" cy="505.6" rx=".6" ry=".6" opacity=".04"/>
<ellipse cx="61.7" cy="520.9" rx=".9" ry=".6" opacity=".06"/>
<ellipse cx="62.3" cy="519.8" rx="1.0" ry=".7" opacity=".04"/>
<ellipse cx="84.2" cy="486.0" rx=".6" ry=".8" opacity=".03"/>
<ellipse cx="102.1" cy="487.0" rx="1.4" ry=".9" opacity=".06"/>
<ellipse cx="101.1" cy="504.0" rx="1.2" ry=".5" opacity=".04"/>
<ellipse cx="105.0" cy="486.7" rx="1.3" ry=".9" opacity=".04"/>
<ellipse cx="76.9" cy="498.1" rx=".9" ry=".9" opacity=".04"/>
<ellipse cx="56.3" cy="481.8" rx="1.2" ry=".9" opacity=".04"/>
<ellipse cx="84.6" cy="502.6" rx="1.2" ry=".6" opacity=".05"/>
<ellipse cx="88.5" cy="505.9" rx=".7" ry=".6" opacity=".04"/>
<ellipse cx="111.1" cy="493.3" rx="1.1" ry=".6" opacity=".03"/>
<ellipse cx="58.7" cy="514.6" rx="1.2" ry=".6" opacity=".05"/>
<ellipse cx="95.8" cy="518.5" rx="1.4" ry=".7" opacity=".07"/>
<ellipse cx="113.2" cy="504.4" rx="1.3" ry=".7" opacity=".04"/>
<ellipse cx="69.7" cy="517.5" rx=".7" ry=".5" opacity=".06"/>
<ellipse cx="101.8" cy="499.5" rx="1.3" ry=".5" opacity=".03"/>
<ellipse cx="72.3" cy="496.6" rx=".7" ry=".5" opacity=".04"/>
<ellipse cx="109.4" cy="522.3" rx="1.2" ry=".7" opacity=".03"/>
<ellipse cx="113.0" cy="501.5" rx="1.2" ry=".5" opacity=".03"/>
<ellipse cx="105.7" cy="513.8" rx="1.3" ry=".7" opacity=".04"/>
<ellipse cx="90.0" cy="516.2" rx=".8" ry=".7" opacity=".03"/>
<ellipse cx="101.4" cy="478.0" rx="1.1" ry=".9" opacity=".02"/>
<ellipse cx="90.8" cy="506.9" rx="1.3" ry=".7" opacity=".03"/>
<ellipse cx="79.4" cy="521.2" rx="1.3" ry=".6" opacity=".02"/>
<ellipse cx="60.4" cy="478.7" rx="1.0" ry=".6" opacity=".06"/>
<ellipse cx="92.4" cy="488.9" rx=".7" ry=".6" opacity=".24"/>
<ellipse cx="91.9" cy="488.6" rx=".4" ry=".3" opacity=".16"/>
<ellipse cx="92.2" cy="488.6" rx=".4" ry=".3" opacity=".16"/>
<ellipse cx="94.8" cy="492.5" rx=".6" ry=".5" opacity=".21"/>
<ellipse cx="94.7" cy="492.3" rx=".3" ry=".2" opacity=".14"/>
<ellipse cx="94.9" cy="492.6" rx=".3" ry=".2" opacity=".14"/>
<ellipse cx="97.3" cy="486.6" rx=".5" ry=".5" opacity=".17"/>
<ellipse cx="97.1" cy="486.8" rx=".3" ry=".2" opacity=".11"/>
<ellipse cx="96.6" cy="487.0" rx=".3" ry=".2" opacity=".11"/>
<ellipse cx="72.9" cy="482.1" rx=".5" ry=".4" opacity=".14"/>
<ellipse cx="72.9" cy="481.9" rx=".3" ry=".2" opacity=".09"/>
<ellipse cx="72.8" cy="482.0" rx=".3" ry=".2" opacity=".09"/>
</g></g>
<g clip-path="url(#cE01)" fill="#fff">
<rect x="117.1" y="477.5" width="61.3" height="45.6" fill="rgb(10,10,10)"/>
<g filter="url(#bl)">
<ellipse cx="148.4" cy="487.1" rx="3.3" ry="2.1" opacity=".16"/>
<ellipse cx="163.1" cy="489.8" rx="3.0" ry="1.9" opacity=".16"/>
<ellipse cx="168.6" cy="495.3" rx="3.0" ry="1.7" opacity=".16"/>
<ellipse cx="129.4" cy="494.8" rx="8.4" ry="1.0" opacity=".13"/>
<ellipse cx="150.8" cy="499.4" rx="2.7" ry="1.4" opacity=".11"/>
<ellipse cx="120.2" cy="504.9" rx="2.4" ry="1.9" opacity=".16"/>
<ellipse cx="139.8" cy="510.3" rx="2.4" ry="1.3" opacity=".10"/>
<ellipse cx="148.4" cy="515.3" rx="3.6" ry="1.3" opacity=".11"/>
<ellipse cx="168.6" cy="513.1" rx="2.4" ry="1.3" opacity=".09"/>
<ellipse cx="128.1" cy="513.5" rx="2.3" ry="1.2" opacity=".07"/>
<ellipse cx="155.1" cy="481.6" rx="2.3" ry="1.2" opacity=".08"/>
<ellipse cx="141.6" cy="483.0" rx="2.1" ry="1.2" opacity=".07"/>
<ellipse cx="158.8" cy="493.9" rx="2.3" ry="1.2" opacity=".09"/>
</g><g filter="url(#b07)">
<ellipse cx="127.2" cy="509.0" rx="1.1" ry=".7" opacity=".06"/>
<ellipse cx="165.7" cy="514.3" rx="1.0" ry=".7" opacity=".06"/>
<ellipse cx="117.3" cy="494.4" rx="1.1" ry=".5" opacity=".12"/>
<ellipse cx="131.3" cy="488.1" rx=".6" ry=".9" opacity=".11"/>
<ellipse cx="170.7" cy="505.6" rx=".6" ry=".6" opacity=".09"/>
<ellipse cx="124.2" cy="520.9" rx=".9" ry=".6" opacity=".12"/>
<ellipse cx="124.8" cy="519.8" rx="1.0" ry=".7" opacity=".07"/>
<ellipse cx="146.8" cy="486.0" rx=".6" ry=".8" opacity=".06"/>
<ellipse cx="164.9" cy="487.0" rx="1.4" ry=".9" opacity=".12"/>
<ellipse cx="163.9" cy="504.0" rx="1.2" ry=".5" opacity=".09"/>
<ellipse cx="167.8" cy="486.7" rx="1.3" ry=".9" opacity=".08"/>
<ellipse cx="139.5" cy="498.1" rx=".9" ry=".9" opacity=".08"/>
<ellipse cx="118.7" cy="481.8" rx="1.2" ry=".9" opacity=".09"/>
<ellipse cx="147.2" cy="502.6" rx="1.2" ry=".6" opacity=".10"/>
<ellipse cx="151.2" cy="505.9" rx=".7" ry=".6" opacity=".07"/>
<ellipse cx="173.9" cy="493.3" rx="1.1" ry=".6" opacity=".05"/>
<ellipse cx="121.1" cy="514.6" rx="1.2" ry=".6" opacity=".11"/>
<ellipse cx="158.5" cy="518.5" rx="1.4" ry=".7" opacity=".14"/>
<ellipse cx="176.0" cy="504.4" rx="1.3" ry=".7" opacity=".08"/>
<ellipse cx="132.3" cy="517.5" rx=".7" ry=".5" opacity=".12"/>
<ellipse cx="164.5" cy="499.5" rx="1.3" ry=".5" opacity=".07"/>
<ellipse cx="134.9" cy="496.6" rx=".7" ry=".5" opacity=".07"/>
<ellipse cx="172.2" cy="522.3" rx="1.2" ry=".7" opacity=".07"/>
<ellipse cx="175.9" cy="501.5" rx="1.2" ry=".5" opacity=".06"/>
<ellipse cx="168.5" cy="513.8" rx="1.3" ry=".7" opacity=".08"/>
<ellipse cx="152.7" cy="516.2" rx=".8" ry=".7" opacity=".07"/>
<ellipse cx="164.2" cy="478.0" rx="1.1" ry=".9" opacity=".04"/>
<ellipse cx="153.5" cy="506.9" rx="1.3" ry=".7" opacity=".07"/>
<ellipse cx="142.0" cy="521.2" rx="1.3" ry=".6" opacity=".05"/>
<ellipse cx="122.9" cy="478.7" rx="1.0" ry=".6" opacity=".13"/>
<ellipse cx="148.4" cy="487.1" rx="1.9" ry="1.2" opacity=".24"/>
<ellipse cx="147.1" cy="486.4" rx="1.0" ry=".6" opacity=".15"/>
<ellipse cx="147.9" cy="486.4" rx="1.0" ry=".6" opacity=".15"/>
<ellipse cx="163.1" cy="489.8" rx="1.7" ry="1.1" opacity=".24"/>
<ellipse cx="162.7" cy="489.1" rx=".9" ry=".6" opacity=".15"/>
<ellipse cx="163.2" cy="489.9" rx=".9" ry=".6" opacity=".15"/>
<ellipse cx="168.6" cy="495.3" rx="1.7" ry="1.0" opacity=".23"/>
<ellipse cx="167.9" cy="495.8" rx=".9" ry=".5" opacity=".15"/>
<ellipse cx="166.5" cy="496.0" rx=".9" ry=".5" opacity=".15"/>
<ellipse cx="129.4" cy="494.8" rx="4.7" ry=".6" opacity=".19"/>
<ellipse cx="128.6" cy="494.5" rx="2.6" ry=".3" opacity=".12"/>
<ellipse cx="128.0" cy="494.8" rx="2.6" ry=".3" opacity=".12"/>
<ellipse cx="123.4" cy="495.0" rx="2.6" ry=".3" opacity=".12"/>
<ellipse cx="150.8" cy="499.4" rx="1.5" ry=".8" opacity=".16"/>
<ellipse cx="151.4" cy="499.5" rx=".9" ry=".4" opacity=".10"/>
<ellipse cx="151.4" cy="499.9" rx=".9" ry=".4" opacity=".10"/>
<ellipse cx="120.2" cy="504.9" rx="1.4" ry="1.1" opacity=".24"/>
<ellipse cx="120.1" cy="505.0" rx=".8" ry=".6" opacity=".15"/>
<ellipse cx="121.7" cy="505.6" rx=".8" ry=".6" opacity=".15"/>
<ellipse cx="139.8" cy="510.3" rx="1.4" ry=".8" opacity=".15"/>
<ellipse cx="138.6" cy="509.9" rx=".8" ry=".4" opacity=".09"/>
<ellipse cx="141.2" cy="510.5" rx=".8" ry=".4" opacity=".09"/>
<ellipse cx="148.4" cy="515.3" rx="2.1" ry=".8" opacity=".16"/>
<ellipse cx="145.8" cy="515.0" rx="1.1" ry=".4" opacity=".10"/>
<ellipse cx="147.5" cy="515.2" rx="1.1" ry=".4" opacity=".10"/>
<ellipse cx="168.6" cy="513.1" rx="1.4" ry=".8" opacity=".13"/>
<ellipse cx="167.8" cy="512.8" rx=".8" ry=".4" opacity=".09"/>
<ellipse cx="168.8" cy="513.6" rx=".8" ry=".4" opacity=".09"/>
<ellipse cx="128.1" cy="513.5" rx="1.3" ry=".7" opacity=".11"/>
<ellipse cx="128.8" cy="514.0" rx=".7" ry=".3" opacity=".07"/>
<ellipse cx="126.5" cy="513.3" rx=".7" ry=".3" opacity=".07"/>
<ellipse cx="155.1" cy="481.6" rx="1.3" ry=".7" opacity=".12"/>
<ellipse cx="156.4" cy="481.7" rx=".7" ry=".3" opacity=".08"/>
<ellipse cx="154.5" cy="481.3" rx=".7" ry=".3" opacity=".08"/>
<ellipse cx="141.6" cy="483.0" rx="1.2" ry=".7" opacity=".11"/>
<ellipse cx="142.7" cy="483.5" rx=".7" ry=".3" opacity=".07"/>
<ellipse cx="142.1" cy="483.3" rx=".7" ry=".3" opacity=".07"/>
<ellipse cx="158.8" cy="493.9" rx="1.3" ry=".7" opacity=".13"/>
<ellipse cx="159.6" cy="494.2" rx=".7" ry=".3" opacity=".09"/>
<ellipse cx="158.6" cy="494.3" rx=".7" ry=".3" opacity=".09"/>
</g></g>
<g clip-path="url(#cE02)" fill="#fff">
<rect x="179.9" y="477.5" width="60.9" height="45.6" fill="rgb(12,12,12)"/>
<g filter="url(#bl)">
<ellipse cx="188.4" cy="480.7" rx="4.1" ry="2.6" opacity=".28"/>
<ellipse cx="201.2" cy="483.4" rx="4.1" ry="2.6" opacity=".29"/>
<ellipse cx="212.8" cy="486.2" rx="5.3" ry="3.2" opacity=".29"/>
<ellipse cx="191.5" cy="489.4" rx="3.4" ry="2.0" opacity=".18"/>
<ellipse cx="220.1" cy="480.7" rx="3.4" ry="1.7" opacity=".12"/>
<ellipse cx="227.4" cy="489.8" rx="4.4" ry="2.6" opacity=".18"/>
<ellipse cx="231.7" cy="495.3" rx="6.6" ry="2.6" opacity=".28"/>
<ellipse cx="184.8" cy="495.3" rx="6.3" ry="1.7" opacity=".18"/>
<ellipse cx="198.2" cy="496.7" rx="4.1" ry="2.0" opacity=".20"/>
<ellipse cx="210.3" cy="494.8" rx="3.8" ry="2.0" opacity=".18"/>
<ellipse cx="209.7" cy="500.8" rx="5.6" ry="2.6" opacity=".28"/>
<ellipse cx="217.0" cy="498.9" rx="3.4" ry="2.0" opacity=".18"/>
<ellipse cx="190.3" cy="502.1" rx="3.8" ry="2.2" opacity=".29"/>
<ellipse cx="217.7" cy="506.7" rx="4.4" ry="2.1" opacity=".26"/>
<ellipse cx="180.5" cy="506.7" rx="2.8" ry="3.4" opacity=".31"/>
<ellipse cx="201.2" cy="510.3" rx="5.6" ry="2.2" opacity=".29"/>
<ellipse cx="187.2" cy="515.8" rx="3.8" ry="2.1" opacity=".18"/>
<ellipse cx="210.3" cy="514.4" rx="3.8" ry="1.6" opacity=".14"/>
<ellipse cx="220.7" cy="515.8" rx="3.8" ry="1.9" opacity=".17"/>
<ellipse cx="227.4" cy="518.5" rx="4.4" ry="2.2" opacity=".23"/>
<ellipse cx="234.1" cy="513.1" rx="3.8" ry="1.6" opacity=".12"/>
<ellipse cx="239.6" cy="521.7" rx="3.1" ry="2.1" opacity=".18"/>
<ellipse cx="223.7" cy="502.6" rx="3.1" ry="1.6" opacity=".15"/>
<ellipse cx="235.9" cy="504.9" rx="3.1" ry="1.6" opacity=".14"/>
</g><g filter="url(#b07)">
<ellipse cx="189.9" cy="509.0" rx="1.1" ry=".7" opacity=".11"/>
<ellipse cx="228.2" cy="514.3" rx="1.0" ry=".7" opacity=".11"/>
<ellipse cx="180.1" cy="494.4" rx="1.1" ry=".5" opacity=".21"/>
<ellipse cx="194.0" cy="488.1" rx=".6" ry=".9" opacity=".20"/>
<ellipse cx="233.2" cy="505.6" rx=".6" ry=".6" opacity=".16"/>
<ellipse cx="187.0" cy="520.9" rx=".9" ry=".6" opacity=".21"/>
<ellipse cx="187.5" cy="519.8" rx="1.0" ry=".7" opacity=".13"/>
<ellipse cx="209.4" cy="486.0" rx=".6" ry=".8" opacity=".11"/>
<ellipse cx="227.4" cy="487.0" rx="1.4" ry=".9" opacity=".20"/>
<ellipse cx="226.4" cy="504.0" rx="1.2" ry=".5" opacity=".15"/>
<ellipse cx="230.3" cy="486.7" rx="1.3" ry=".9" opacity=".14"/>
<ellipse cx="202.1" cy="498.1" rx=".9" ry=".9" opacity=".14"/>
<ellipse cx="181.5" cy="481.8" rx="1.2" ry=".9" opacity=".16"/>
<ellipse cx="209.8" cy="502.6" rx="1.2" ry=".6" opacity=".18"/>
<ellipse cx="213.8" cy="505.9" rx=".7" ry=".6" opacity=".13"/>
<ellipse cx="236.4" cy="493.3" rx="1.1" ry=".6" opacity=".09"/>
<ellipse cx="183.9" cy="514.6" rx="1.2" ry=".6" opacity=".19"/>
<ellipse cx="221.1" cy="518.5" rx="1.4" ry=".7" opacity=".24"/>
<ellipse cx="238.5" cy="504.4" rx="1.3" ry=".7" opacity=".14"/>
<ellipse cx="195.0" cy="517.5" rx=".7" ry=".5" opacity=".21"/>
<ellipse cx="227.0" cy="499.5" rx="1.3" ry=".5" opacity=".12"/>
<ellipse cx="197.6" cy="496.6" rx=".7" ry=".5" opacity=".13"/>
<ellipse cx="234.7" cy="522.3" rx="1.2" ry=".7" opacity=".11"/>
<ellipse cx="238.3" cy="501.5" rx="1.2" ry=".5" opacity=".11"/>
<ellipse cx="231.0" cy="513.8" rx="1.3" ry=".7" opacity=".14"/>
<ellipse cx="215.3" cy="516.2" rx=".8" ry=".7" opacity=".12"/>
<ellipse cx="226.7" cy="478.0" rx="1.1" ry=".9" opacity=".07"/>
<ellipse cx="216.1" cy="506.9" rx="1.3" ry=".7" opacity=".12"/>
<ellipse cx="204.6" cy="521.2" rx="1.3" ry=".6" opacity=".09"/>
<ellipse cx="185.6" cy="478.7" rx="1.0" ry=".6" opacity=".22"/>
<ellipse cx="188.4" cy="480.7" rx="2.3" ry="1.6" opacity=".40"/>
<ellipse cx="186.9" cy="479.9" rx="1.3" ry=".8" opacity=".26"/>
<ellipse cx="187.9" cy="479.9" rx="1.3" ry=".8" opacity=".26"/>
<ellipse cx="187.9" cy="479.8" rx="1.3" ry=".8" opacity=".26"/>
<ellipse cx="201.2" cy="483.4" rx="2.3" ry="1.6" opacity=".43"/>
<ellipse cx="201.4" cy="483.6" rx="1.3" ry=".8" opacity=".27"/>
<ellipse cx="200.4" cy="484.2" rx="1.3" ry=".8" opacity=".27"/>
<ellipse cx="198.5" cy="484.6" rx="1.3" ry=".8" opacity=".27"/>
<ellipse cx="212.8" cy="486.2" rx="3.0" ry="1.9" opacity=".43"/>
<ellipse cx="212.3" cy="485.2" rx="1.7" ry=".9" opacity=".27"/>
<ellipse cx="211.9" cy="485.9" rx="1.7" ry=".9" opacity=".27"/>
<ellipse cx="209.1" cy="486.7" rx="1.7" ry=".9" opacity=".27"/>
<ellipse cx="191.5" cy="489.4" rx="1.9" ry="1.2" opacity=".27"/>
<ellipse cx="192.1" cy="489.5" rx="1.1" ry=".6" opacity=".17"/>
<ellipse cx="192.1" cy="490.1" rx="1.1" ry=".6" opacity=".17"/>
<ellipse cx="220.1" cy="480.7" rx="1.9" ry="1.0" opacity=".18"/>
<ellipse cx="220.0" cy="480.8" rx="1.1" ry=".5" opacity=".12"/>
<ellipse cx="222.2" cy="481.3" rx="1.1" ry=".5" opacity=".12"/>
<ellipse cx="227.4" cy="489.8" rx="2.5" ry="1.6" opacity=".27"/>
<ellipse cx="225.4" cy="488.9" rx="1.4" ry=".8" opacity=".17"/>
<ellipse cx="229.9" cy="490.1" rx="1.4" ry=".8" opacity=".17"/>
<ellipse cx="224.5" cy="489.1" rx="1.4" ry=".8" opacity=".17"/>
<ellipse cx="231.7" cy="495.3" rx="3.7" ry="1.6" opacity=".40"/>
<ellipse cx="230.1" cy="495.1" rx="2.1" ry=".8" opacity=".26"/>
<ellipse cx="229.5" cy="494.8" rx="2.1" ry=".8" opacity=".26"/>
<ellipse cx="232.2" cy="496.3" rx="2.1" ry=".8" opacity=".26"/>
<ellipse cx="184.8" cy="495.3" rx="3.5" ry="1.0" opacity=".27"/>
<ellipse cx="186.5" cy="496.0" rx="2.0" ry=".5" opacity=".17"/>
<ellipse cx="180.4" cy="494.9" rx="2.0" ry=".5" opacity=".17"/>
<ellipse cx="188.2" cy="495.4" rx="2.0" ry=".5" opacity=".17"/>
<ellipse cx="198.2" cy="496.7" rx="2.3" ry="1.2" opacity=".29"/>
<ellipse cx="197.2" cy="496.2" rx="1.3" ry=".6" opacity=".19"/>
<ellipse cx="200.2" cy="497.5" rx="1.3" ry=".6" opacity=".19"/>
<ellipse cx="199.0" cy="497.1" rx="1.3" ry=".6" opacity=".19"/>
<ellipse cx="210.3" cy="494.8" rx="2.1" ry="1.2" opacity=".27"/>
<ellipse cx="211.6" cy="495.3" rx="1.2" ry=".6" opacity=".17"/>
<ellipse cx="210.1" cy="495.4" rx="1.2" ry=".6" opacity=".17"/>
<ellipse cx="209.7" cy="500.8" rx="3.2" ry="1.6" opacity=".40"/>
<ellipse cx="210.9" cy="501.8" rx="1.8" ry=".8" opacity=".26"/>
<ellipse cx="212.9" cy="500.2" rx="1.8" ry=".8" opacity=".26"/>
<ellipse cx="209.8" cy="500.5" rx="1.8" ry=".8" opacity=".26"/>
<ellipse cx="217.0" cy="498.9" rx="1.9" ry="1.2" opacity=".27"/>
<ellipse cx="215.2" cy="498.6" rx="1.1" ry=".6" opacity=".17"/>
<ellipse cx="219.4" cy="498.7" rx="1.1" ry=".6" opacity=".17"/>
<ellipse cx="190.3" cy="502.1" rx="2.1" ry="1.3" opacity=".43"/>
<ellipse cx="188.2" cy="502.0" rx="1.2" ry=".7" opacity=".27"/>
<ellipse cx="190.9" cy="502.8" rx="1.2" ry=".7" opacity=".27"/>
<ellipse cx="217.7" cy="506.7" rx="2.5" ry="1.3" opacity=".38"/>
<ellipse cx="216.7" cy="506.9" rx="1.4" ry=".6" opacity=".24"/>
<ellipse cx="216.2" cy="507.6" rx="1.4" ry=".6" opacity=".24"/>
<ellipse cx="217.3" cy="507.3" rx="1.4" ry=".6" opacity=".24"/>
<ellipse cx="180.5" cy="506.7" rx="1.6" ry="2.0" opacity=".45"/>
<ellipse cx="182.1" cy="507.3" rx=".9" ry="1.0" opacity=".29"/>
<ellipse cx="180.4" cy="507.3" rx=".9" ry="1.0" opacity=".29"/>
<ellipse cx="201.2" cy="510.3" rx="3.2" ry="1.3" opacity=".43"/>
<ellipse cx="201.7" cy="510.7" rx="1.8" ry=".7" opacity=".27"/>
<ellipse cx="204.9" cy="510.1" rx="1.8" ry=".7" opacity=".27"/>
<ellipse cx="199.9" cy="509.9" rx="1.8" ry=".7" opacity=".27"/>
<ellipse cx="187.2" cy="515.8" rx="2.1" ry="1.3" opacity=".27"/>
<ellipse cx="187.0" cy="516.4" rx="1.2" ry=".6" opacity=".17"/>
<ellipse cx="186.3" cy="515.8" rx="1.2" ry=".6" opacity=".17"/>
<ellipse cx="210.3" cy="514.4" rx="2.1" ry=".9" opacity=".20"/>
<ellipse cx="213.0" cy="514.1" rx="1.2" ry=".5" opacity=".13"/>
<ellipse cx="208.3" cy="513.8" rx="1.2" ry=".5" opacity=".13"/>
<ellipse cx="220.7" cy="515.8" rx="2.1" ry="1.1" opacity=".25"/>
<ellipse cx="222.0" cy="515.1" rx="1.2" ry=".5" opacity=".16"/>
<ellipse cx="219.9" cy="516.1" rx="1.2" ry=".5" opacity=".16"/>
<ellipse cx="227.4" cy="518.5" rx="2.5" ry="1.3" opacity=".34"/>
<ellipse cx="227.3" cy="518.6" rx="1.4" ry=".7" opacity=".22"/>
<ellipse cx="228.0" cy="517.5" rx="1.4" ry=".7" opacity=".22"/>
<ellipse cx="228.1" cy="518.9" rx="1.4" ry=".7" opacity=".22"/>
<ellipse cx="234.1" cy="513.1" rx="2.1" ry=".9" opacity=".18"/>
<ellipse cx="236.6" cy="513.0" rx="1.2" ry=".5" opacity=".12"/>
<ellipse cx="234.2" cy="512.5" rx="1.2" ry=".5" opacity=".12"/>
<ellipse cx="239.6" cy="521.7" rx="1.8" ry="1.3" opacity=".27"/>
<ellipse cx="239.2" cy="520.9" rx="1.0" ry=".6" opacity=".17"/>
<ellipse cx="239.9" cy="521.1" rx="1.0" ry=".6" opacity=".17"/>
<ellipse cx="223.7" cy="502.6" rx="1.8" ry=".9" opacity=".22"/>
<ellipse cx="224.9" cy="502.2" rx="1.0" ry=".5" opacity=".14"/>
<ellipse cx="222.2" cy="502.4" rx="1.0" ry=".5" opacity=".14"/>
<ellipse cx="235.9" cy="504.9" rx="1.8" ry=".9" opacity=".20"/>
<ellipse cx="237.3" cy="504.7" rx="1.0" ry=".5" opacity=".13"/>
<ellipse cx="237.9" cy="505.2" rx="1.0" ry=".5" opacity=".13"/>
</g></g>
<g clip-path="url(#cE03)" fill="#fff">
<rect x="242.3" y="477.5" width="60.8" height="45.6" fill="rgb(14,14,14)"/>
<g filter="url(#bl)">
<ellipse cx="250.8" cy="480.7" rx="4.5" ry="2.9" opacity=".33"/>
<ellipse cx="263.6" cy="483.4" rx="4.5" ry="2.9" opacity=".35"/>
<ellipse cx="275.1" cy="486.2" rx="5.9" ry="3.5" opacity=".35"/>
<ellipse cx="253.9" cy="489.4" rx="3.8" ry="2.2" opacity=".22"/>
<ellipse cx="282.4" cy="480.7" rx="3.8" ry="1.9" opacity=".15"/>
<ellipse cx="289.7" cy="489.8" rx="4.8" ry="2.9" opacity=".22"/>
<ellipse cx="294.0" cy="495.3" rx="7.3" ry="2.9" opacity=".33"/>
<ellipse cx="247.2" cy="495.3" rx="6.9" ry="1.9" opacity=".22"/>
<ellipse cx="260.5" cy="496.7" rx="4.5" ry="2.2" opacity=".24"/>
<ellipse cx="272.7" cy="494.8" rx="4.1" ry="2.2" opacity=".22"/>
<ellipse cx="272.1" cy="500.8" rx="6.2" ry="2.9" opacity=".33"/>
<ellipse cx="279.4" cy="498.9" rx="3.8" ry="2.2" opacity=".22"/>
<ellipse cx="252.6" cy="502.1" rx="4.1" ry="2.5" opacity=".35"/>
<ellipse cx="280.0" cy="506.7" rx="4.8" ry="2.3" opacity=".31"/>
<ellipse cx="242.9" cy="506.7" rx="3.1" ry="3.8" opacity=".36"/>
<ellipse cx="263.6" cy="510.3" rx="6.2" ry="2.5" opacity=".35"/>
<ellipse cx="249.6" cy="515.8" rx="4.1" ry="2.3" opacity=".22"/>
<ellipse cx="272.7" cy="514.4" rx="4.1" ry="1.7" opacity=".16"/>
<ellipse cx="283.0" cy="515.8" rx="4.1" ry="2.0" opacity=".20"/>
<ellipse cx="289.7" cy="518.5" rx="4.8" ry="2.5" opacity=".27"/>
<ellipse cx="296.4" cy="513.1" rx="4.1" ry="1.7" opacity=".15"/>
<ellipse cx="301.9" cy="521.7" rx="3.5" ry="2.3" opacity=".22"/>
<ellipse cx="286.1" cy="502.6" rx="3.5" ry="1.7" opacity=".18"/>
<ellipse cx="298.2" cy="504.9" rx="3.5" ry="1.7" opacity=".16"/>
</g><g filter="url(#b07)">
<ellipse cx="252.3" cy="509.0" rx="1.1" ry=".7" opacity=".12"/>
<ellipse cx="290.5" cy="514.3" rx="1.0" ry=".7" opacity=".13"/>
<ellipse cx="242.5" cy="494.4" rx="1.1" ry=".5" opacity=".24"/>
<ellipse cx="256.4" cy="488.1" rx=".6" ry=".9" opacity=".23"/>
<ellipse cx="295.5" cy="505.6" rx=".6" ry=".6" opacity=".18"/>
<ellipse cx="249.3" cy="520.9" rx=".9" ry=".6" opacity=".24"/>
<ellipse cx="249.9" cy="519.8" rx="1.0" ry=".7" opacity=".15"/>
<ellipse cx="271.8" cy="486.0" rx=".6" ry=".8" opacity=".13"/>
<ellipse cx="289.7" cy="487.0" rx="1.4" ry=".9" opacity=".23"/>
<ellipse cx="288.7" cy="504.0" rx="1.2" ry=".5" opacity=".18"/>
<ellipse cx="292.6" cy="486.7" rx="1.3" ry=".9" opacity=".16"/>
<ellipse cx="264.5" cy="498.1" rx=".9" ry=".9" opacity=".16"/>
<ellipse cx="243.9" cy="481.8" rx="1.2" ry=".9" opacity=".18"/>
<ellipse cx="272.2" cy="502.6" rx="1.2" ry=".6" opacity=".20"/>
<ellipse cx="276.1" cy="505.9" rx=".7" ry=".6" opacity=".15"/>
<ellipse cx="298.7" cy="493.3" rx="1.1" ry=".6" opacity=".10"/>
<ellipse cx="246.3" cy="514.6" rx="1.2" ry=".6" opacity=".22"/>
<ellipse cx="283.4" cy="518.5" rx="1.4" ry=".7" opacity=".28"/>
<ellipse cx="300.8" cy="504.4" rx="1.3" ry=".7" opacity=".16"/>
<ellipse cx="257.3" cy="517.5" rx=".7" ry=".5" opacity=".24"/>
<ellipse cx="289.4" cy="499.5" rx="1.3" ry=".5" opacity=".13"/>
<ellipse cx="259.9" cy="496.6" rx=".7" ry=".5" opacity=".15"/>
<ellipse cx="297.0" cy="522.3" rx="1.2" ry=".7" opacity=".13"/>
<ellipse cx="300.6" cy="501.5" rx="1.2" ry=".5" opacity=".12"/>
<ellipse cx="293.3" cy="513.8" rx="1.3" ry=".7" opacity=".17"/>
<ellipse cx="277.6" cy="516.2" rx=".8" ry=".7" opacity=".14"/>
<ellipse cx="289.0" cy="478.0" rx="1.1" ry=".9" opacity=".08"/>
<ellipse cx="278.4" cy="506.9" rx="1.3" ry=".7" opacity=".13"/>
<ellipse cx="267.0" cy="521.2" rx="1.3" ry=".6" opacity=".10"/>
<ellipse cx="248.0" cy="478.7" rx="1.0" ry=".6" opacity=".25"/>
<ellipse cx="250.8" cy="480.7" rx="2.5" ry="1.7" opacity=".48"/>
<ellipse cx="249.3" cy="479.9" rx="1.4" ry=".9" opacity=".31"/>
<ellipse cx="250.2" cy="479.9" rx="1.4" ry=".9" opacity=".31"/>
<ellipse cx="250.3" cy="479.8" rx="1.4" ry=".9" opacity=".31"/>
<ellipse cx="263.6" cy="483.4" rx="2.5" ry="1.7" opacity=".51"/>
<ellipse cx="263.7" cy="483.6" rx="1.4" ry=".9" opacity=".32"/>
<ellipse cx="262.7" cy="484.2" rx="1.4" ry=".9" opacity=".32"/>
<ellipse cx="260.9" cy="484.6" rx="1.4" ry=".9" opacity=".32"/>
<ellipse cx="275.1" cy="486.2" rx="3.3" ry="2.1" opacity=".51"/>
<ellipse cx="274.6" cy="485.2" rx="1.8" ry="1.0" opacity=".32"/>
<ellipse cx="274.3" cy="485.9" rx="1.8" ry="1.0" opacity=".32"/>
<ellipse cx="271.4" cy="486.7" rx="1.8" ry="1.0" opacity=".32"/>
<ellipse cx="253.9" cy="489.4" rx="2.1" ry="1.3" opacity=".32"/>
<ellipse cx="254.5" cy="489.5" rx="1.2" ry=".6" opacity=".21"/>
<ellipse cx="254.5" cy="490.1" rx="1.2" ry=".6" opacity=".21"/>
<ellipse cx="282.4" cy="480.7" rx="2.1" ry="1.1" opacity=".21"/>
<ellipse cx="282.3" cy="480.8" rx="1.2" ry=".6" opacity=".14"/>
<ellipse cx="284.6" cy="481.3" rx="1.2" ry=".6" opacity=".14"/>
<ellipse cx="289.7" cy="489.8" rx="2.7" ry="1.7" opacity=".32"/>
<ellipse cx="287.7" cy="488.9" rx="1.5" ry=".9" opacity=".21"/>
<ellipse cx="292.2" cy="490.1" rx="1.5" ry=".9" opacity=".21"/>
<ellipse cx="286.8" cy="489.1" rx="1.5" ry=".9" opacity=".21"/>
<ellipse cx="294.0" cy="495.3" rx="4.1" ry="1.7" opacity=".48"/>
<ellipse cx="292.4" cy="495.1" rx="2.3" ry=".9" opacity=".31"/>
<ellipse cx="291.8" cy="494.8" rx="2.3" ry=".9" opacity=".31"/>
<ellipse cx="294.5" cy="496.3" rx="2.3" ry=".9" opacity=".31"/>
<ellipse cx="247.2" cy="495.3" rx="3.9" ry="1.1" opacity=".32"/>
<ellipse cx="248.9" cy="496.0" rx="2.2" ry=".6" opacity=".21"/>
<ellipse cx="242.8" cy="494.9" rx="2.2" ry=".6" opacity=".21"/>
<ellipse cx="250.6" cy="495.4" rx="2.2" ry=".6" opacity=".21"/>
<ellipse cx="260.5" cy="496.7" rx="2.5" ry="1.3" opacity=".35"/>
<ellipse cx="259.6" cy="496.2" rx="1.4" ry=".6" opacity=".22"/>
<ellipse cx="262.5" cy="497.5" rx="1.4" ry=".6" opacity=".22"/>
<ellipse cx="261.4" cy="497.1" rx="1.4" ry=".6" opacity=".22"/>
<ellipse cx="272.7" cy="494.8" rx="2.3" ry="1.3" opacity=".32"/>
<ellipse cx="274.0" cy="495.3" rx="1.3" ry=".6" opacity=".21"/>
<ellipse cx="272.4" cy="495.4" rx="1.3" ry=".6" opacity=".21"/>
<ellipse cx="272.1" cy="500.8" rx="3.5" ry="1.7" opacity=".48"/>
<ellipse cx="273.2" cy="501.8" rx="1.9" ry=".9" opacity=".31"/>
<ellipse cx="275.2" cy="500.2" rx="1.9" ry=".9" opacity=".31"/>
<ellipse cx="272.1" cy="500.5" rx="1.9" ry=".9" opacity=".31"/>
<ellipse cx="279.4" cy="498.9" rx="2.1" ry="1.3" opacity=".32"/>
<ellipse cx="277.5" cy="498.6" rx="1.2" ry=".6" opacity=".21"/>
<ellipse cx="281.7" cy="498.7" rx="1.2" ry=".6" opacity=".21"/>
<ellipse cx="252.6" cy="502.1" rx="2.3" ry="1.5" opacity=".51"/>
<ellipse cx="250.6" cy="502.0" rx="1.3" ry=".7" opacity=".32"/>
<ellipse cx="253.3" cy="502.8" rx="1.3" ry=".7" opacity=".32"/>
<ellipse cx="280.0" cy="506.7" rx="2.7" ry="1.4" opacity=".45"/>
<ellipse cx="279.0" cy="506.9" rx="1.5" ry=".7" opacity=".29"/>
<ellipse cx="278.5" cy="507.6" rx="1.5" ry=".7" opacity=".29"/>
<ellipse cx="279.7" cy="507.3" rx="1.5" ry=".7" opacity=".29"/>
<ellipse cx="242.9" cy="506.7" rx="1.7" ry="2.2" opacity=".53"/>
<ellipse cx="244.5" cy="507.3" rx="1.0" ry="1.1" opacity=".34"/>
<ellipse cx="242.8" cy="507.3" rx="1.0" ry="1.1" opacity=".34"/>
<ellipse cx="263.6" cy="510.3" rx="3.5" ry="1.5" opacity=".51"/>
<ellipse cx="264.1" cy="510.7" rx="1.9" ry=".7" opacity=".32"/>
<ellipse cx="267.3" cy="510.1" rx="1.9" ry=".7" opacity=".32"/>
<ellipse cx="262.2" cy="509.9" rx="1.9" ry=".7" opacity=".32"/>
<ellipse cx="249.6" cy="515.8" rx="2.3" ry="1.4" opacity=".32"/>
<ellipse cx="249.4" cy="516.4" rx="1.3" ry=".7" opacity=".21"/>
<ellipse cx="248.7" cy="515.8" rx="1.3" ry=".7" opacity=".21"/>
<ellipse cx="272.7" cy="514.4" rx="2.3" ry="1.0" opacity=".24"/>
<ellipse cx="275.3" cy="514.1" rx="1.3" ry=".5" opacity=".15"/>
<ellipse cx="270.6" cy="513.8" rx="1.3" ry=".5" opacity=".15"/>
<ellipse cx="283.0" cy="515.8" rx="2.3" ry="1.2" opacity=".29"/>
<ellipse cx="284.3" cy="515.1" rx="1.3" ry=".6" opacity=".19"/>
<ellipse cx="282.3" cy="516.1" rx="1.3" ry=".6" opacity=".19"/>
<ellipse cx="289.7" cy="518.5" rx="2.7" ry="1.5" opacity=".40"/>
<ellipse cx="289.6" cy="518.6" rx="1.5" ry=".7" opacity=".26"/>
<ellipse cx="290.3" cy="517.5" rx="1.5" ry=".7" opacity=".26"/>
<ellipse cx="290.4" cy="518.9" rx="1.5" ry=".7" opacity=".26"/>
<ellipse cx="296.4" cy="513.1" rx="2.3" ry="1.0" opacity=".21"/>
<ellipse cx="299.0" cy="513.0" rx="1.3" ry=".5" opacity=".14"/>
<ellipse cx="296.6" cy="512.5" rx="1.3" ry=".5" opacity=".14"/>
<ellipse cx="301.9" cy="521.7" rx="1.9" ry="1.4" opacity=".32"/>
<ellipse cx="301.5" cy="520.9" rx="1.1" ry=".7" opacity=".21"/>
<ellipse cx="302.2" cy="521.1" rx="1.1" ry=".7" opacity=".21"/>
<ellipse cx="286.1" cy="502.6" rx="1.9" ry="1.0" opacity=".27"/>
<ellipse cx="287.2" cy="502.2" rx="1.1" ry=".5" opacity=".17"/>
<ellipse cx="284.6" cy="502.4" rx="1.1" ry=".5" opacity=".17"/>
<ellipse cx="298.2" cy="504.9" rx="1.9" ry="1.0" opacity=".24"/>
<ellipse cx="299.6" cy="504.7" rx="1.1" ry=".5" opacity=".15"/>
<ellipse cx="300.2" cy="505.2" rx="1.1" ry=".5" opacity=".15"/>
</g></g>
<g clip-path="url(#cE10)" fill="#fff">
<rect x="54.7" y="525.3" width="60.8" height="47.1" fill="rgb(6,6,6)"/>
<g filter="url(#bl)">
<ellipse cx="104.6" cy="532.8" rx="1.0" ry=".8" opacity=".14"/>
<ellipse cx="66.9" cy="529.1" rx="1.1" ry=".7" opacity=".07"/>
</g><g filter="url(#b07)">
<ellipse cx="113.0" cy="531.9" rx=".6" ry=".8" opacity=".02"/>
<ellipse cx="62.0" cy="556.0" rx=".8" ry=".8" opacity=".02"/>
<ellipse cx="113.0" cy="540.3" rx="1.0" ry=".8" opacity=".04"/>
<ellipse cx="110.9" cy="558.7" rx=".6" ry=".8" opacity=".03"/>
<ellipse cx="73.6" cy="534.3" rx="1.1" ry=".7" opacity=".04"/>
<ellipse cx="101.8" cy="570.6" rx=".9" ry=".7" opacity=".03"/>
<ellipse cx="70.4" cy="570.4" rx=".8" ry=".7" opacity=".04"/>
<ellipse cx="94.3" cy="532.0" rx="1.1" ry=".7" opacity=".02"/>
<ellipse cx="57.7" cy="550.3" rx=".6" ry=".8" opacity=".03"/>
<ellipse cx="86.2" cy="544.6" rx="1.0" ry=".8" opacity=".02"/>
<ellipse cx="77.4" cy="552.7" rx=".8" ry=".7" opacity=".03"/>
<ellipse cx="81.1" cy="557.0" rx=".9" ry=".5" opacity=".04"/>
<ellipse cx="76.3" cy="545.6" rx=".8" ry=".8" opacity=".04"/>
<ellipse cx="85.8" cy="544.2" rx=".7" ry=".8" opacity=".02"/>
<ellipse cx="104.6" cy="532.8" rx=".5" ry=".5" opacity=".21"/>
<ellipse cx="104.8" cy="532.6" rx=".3" ry=".2" opacity=".14"/>
<ellipse cx="104.0" cy="532.7" rx=".3" ry=".2" opacity=".14"/>
<ellipse cx="66.9" cy="529.1" rx=".6" ry=".4" opacity=".10"/>
<ellipse cx="67.3" cy="529.0" rx=".3" ry=".2" opacity=".07"/>
<ellipse cx="67.5" cy="529.1" rx=".3" ry=".2" opacity=".07"/>
</g></g>
<g clip-path="url(#cE11)" fill="#fff">
<rect x="117.1" y="525.3" width="61.3" height="47.1" fill="rgb(9,9,9)"/>
<g filter="url(#bl)">
<ellipse cx="126.3" cy="528.1" rx="5.1" ry="3.2" opacity=".16"/>
<ellipse cx="126.3" cy="543.7" rx="3.8" ry="2.0" opacity=".12"/>
<ellipse cx="119.6" cy="554.0" rx="3.5" ry="2.2" opacity=".14"/>
<ellipse cx="145.9" cy="542.3" rx="4.2" ry="1.5" opacity=".09"/>
<ellipse cx="153.9" cy="542.3" rx="3.2" ry="1.4" opacity=".08"/>
<ellipse cx="126.9" cy="557.8" rx="2.9" ry="1.6" opacity=".08"/>
<ellipse cx="152.7" cy="557.8" rx="4.2" ry="1.5" opacity=".09"/>
<ellipse cx="168.6" cy="560.6" rx="3.2" ry="1.4" opacity=".06"/>
<ellipse cx="151.4" cy="565.3" rx="3.5" ry="1.5" opacity=".08"/>
<ellipse cx="131.8" cy="565.3" rx="2.9" ry="1.4" opacity=".07"/>
<ellipse cx="128.1" cy="571.5" rx="3.2" ry="1.6" opacity=".08"/>
<ellipse cx="174.7" cy="539.4" rx="2.6" ry="1.4" opacity=".05"/>
<ellipse cx="174.1" cy="531.9" rx="2.6" ry="1.4" opacity=".05"/>
<ellipse cx="124.5" cy="535.7" rx="2.9" ry="1.9" opacity=".08"/>
</g><g filter="url(#b07)">
<ellipse cx="175.8" cy="531.9" rx=".6" ry=".8" opacity=".05"/>
<ellipse cx="124.5" cy="556.0" rx=".8" ry=".8" opacity=".06"/>
<ellipse cx="175.9" cy="540.3" rx="1.0" ry=".8" opacity=".09"/>
<ellipse cx="173.7" cy="558.7" rx=".6" ry=".8" opacity=".09"/>
<ellipse cx="136.1" cy="534.3" rx="1.1" ry=".7" opacity=".12"/>
<ellipse cx="164.5" cy="570.6" rx=".9" ry=".7" opacity=".09"/>
<ellipse cx="132.9" cy="570.4" rx=".8" ry=".7" opacity=".12"/>
<ellipse cx="157.0" cy="532.0" rx="1.1" ry=".7" opacity=".05"/>
<ellipse cx="120.1" cy="550.3" rx=".6" ry=".8" opacity=".08"/>
<ellipse cx="148.8" cy="544.6" rx="1.0" ry=".8" opacity=".06"/>
<ellipse cx="140.0" cy="552.7" rx=".8" ry=".7" opacity=".08"/>
<ellipse cx="143.7" cy="557.0" rx=".9" ry=".5" opacity=".12"/>
<ellipse cx="138.9" cy="545.6" rx=".8" ry=".8" opacity=".12"/>
<ellipse cx="148.5" cy="544.2" rx=".7" ry=".8" opacity=".05"/>
<ellipse cx="126.3" cy="528.1" rx="2.9" ry="1.9" opacity=".24"/>
<ellipse cx="127.8" cy="527.2" rx="1.6" ry="1.0" opacity=".15"/>
<ellipse cx="123.5" cy="527.7" rx="1.6" ry="1.0" opacity=".15"/>
<ellipse cx="128.2" cy="527.6" rx="1.6" ry="1.0" opacity=".15"/>
<ellipse cx="126.3" cy="543.7" rx="2.2" ry="1.2" opacity=".18"/>
<ellipse cx="128.3" cy="543.9" rx="1.2" ry=".6" opacity=".11"/>
<ellipse cx="126.3" cy="543.9" rx="1.2" ry=".6" opacity=".11"/>
<ellipse cx="119.6" cy="554.0" rx="2.0" ry="1.3" opacity=".20"/>
<ellipse cx="119.9" cy="554.1" rx="1.1" ry=".6" opacity=".13"/>
<ellipse cx="121.1" cy="554.4" rx="1.1" ry=".6" opacity=".13"/>
<ellipse cx="145.9" cy="542.3" rx="2.3" ry=".9" opacity=".13"/>
<ellipse cx="146.0" cy="541.6" rx="1.3" ry=".4" opacity=".08"/>
<ellipse cx="144.2" cy="541.8" rx="1.3" ry=".4" opacity=".08"/>
<ellipse cx="148.1" cy="542.9" rx="1.3" ry=".4" opacity=".08"/>
<ellipse cx="153.9" cy="542.3" rx="1.8" ry=".8" opacity=".12"/>
<ellipse cx="153.3" cy="542.6" rx="1.0" ry=".4" opacity=".08"/>
<ellipse cx="152.0" cy="542.7" rx="1.0" ry=".4" opacity=".08"/>
<ellipse cx="126.9" cy="557.8" rx="1.6" ry="1.0" opacity=".12"/>
<ellipse cx="125.2" cy="558.3" rx=".9" ry=".5" opacity=".08"/>
<ellipse cx="127.5" cy="558.3" rx=".9" ry=".5" opacity=".08"/>
<ellipse cx="152.7" cy="557.8" rx="2.3" ry=".9" opacity=".13"/>
<ellipse cx="154.2" cy="557.7" rx="1.3" ry=".4" opacity=".08"/>
<ellipse cx="150.3" cy="557.4" rx="1.3" ry=".4" opacity=".08"/>
<ellipse cx="154.7" cy="558.0" rx="1.3" ry=".4" opacity=".08"/>
<ellipse cx="168.6" cy="560.6" rx="1.8" ry=".8" opacity=".08"/>
<ellipse cx="166.4" cy="561.0" rx="1.0" ry=".4" opacity=".05"/>
<ellipse cx="166.7" cy="560.0" rx="1.0" ry=".4" opacity=".05"/>
<ellipse cx="151.4" cy="565.3" rx="2.0" ry=".9" opacity=".12"/>
<ellipse cx="153.4" cy="565.9" rx="1.1" ry=".4" opacity=".08"/>
<ellipse cx="150.8" cy="565.7" rx="1.1" ry=".4" opacity=".08"/>
<ellipse cx="131.8" cy="565.3" rx="1.6" ry=".8" opacity=".10"/>
<ellipse cx="130.7" cy="565.0" rx=".9" ry=".4" opacity=".06"/>
<ellipse cx="132.9" cy="565.1" rx=".9" ry=".4" opacity=".06"/>
<ellipse cx="128.1" cy="571.5" rx="1.8" ry="1.0" opacity=".12"/>
<ellipse cx="126.3" cy="572.0" rx="1.0" ry=".5" opacity=".08"/>
<ellipse cx="128.2" cy="571.8" rx="1.0" ry=".5" opacity=".08"/>
<ellipse cx="174.7" cy="539.4" rx="1.4" ry=".8" opacity=".07"/>
<ellipse cx="176.0" cy="539.6" rx=".8" ry=".4" opacity=".05"/>
<ellipse cx="173.4" cy="539.0" rx=".8" ry=".4" opacity=".05"/>
<ellipse cx="174.1" cy="531.9" rx="1.4" ry=".8" opacity=".07"/>
<ellipse cx="175.4" cy="531.9" rx=".8" ry=".4" opacity=".05"/>
<ellipse cx="173.1" cy="532.2" rx=".8" ry=".4" opacity=".05"/>
<ellipse cx="124.5" cy="535.7" rx="1.6" ry="1.1" opacity=".12"/>
<ellipse cx="125.9" cy="535.1" rx=".9" ry=".6" opacity=".08"/>
<ellipse cx="124.8" cy="536.4" rx=".9" ry=".6" opacity=".08"/>
</g></g>
<g clip-path="url(#cE12)" fill="#fff">
<rect x="179.9" y="525.3" width="60.9" height="47.1" fill="rgb(10,10,10)"/>
<g filter="url(#bl)">
<ellipse cx="189.0" cy="528.1" rx="5.6" ry="3.6" opacity=".25"/>
<ellipse cx="189.0" cy="543.7" rx="4.2" ry="2.2" opacity=".19"/>
<ellipse cx="182.3" cy="554.0" rx="3.9" ry="2.4" opacity=".21"/>
<ellipse cx="208.5" cy="542.3" rx="4.6" ry="1.6" opacity=".14"/>
<ellipse cx="216.4" cy="542.3" rx="3.5" ry="1.5" opacity=".12"/>
<ellipse cx="189.6" cy="557.8" rx="3.2" ry="1.8" opacity=".12"/>
<ellipse cx="215.2" cy="557.8" rx="4.6" ry="1.6" opacity=".14"/>
<ellipse cx="231.1" cy="560.6" rx="3.5" ry="1.5" opacity=".09"/>
<ellipse cx="214.0" cy="565.3" rx="3.9" ry="1.6" opacity=".12"/>
<ellipse cx="194.5" cy="565.3" rx="3.2" ry="1.5" opacity=".10"/>
<ellipse cx="190.9" cy="571.5" rx="3.5" ry="1.8" opacity=".12"/>
<ellipse cx="237.1" cy="539.4" rx="2.8" ry="1.5" opacity=".07"/>
<ellipse cx="236.5" cy="531.9" rx="2.8" ry="1.5" opacity=".07"/>
<ellipse cx="187.2" cy="535.7" rx="3.2" ry="2.1" opacity=".12"/>
</g><g filter="url(#b07)">
<ellipse cx="238.3" cy="531.9" rx=".6" ry=".8" opacity=".08"/>
<ellipse cx="187.2" cy="556.0" rx=".8" ry=".8" opacity=".09"/>
<ellipse cx="238.3" cy="540.3" rx="1.0" ry=".8" opacity=".14"/>
<ellipse cx="236.2" cy="558.7" rx=".6" ry=".8" opacity=".13"/>
<ellipse cx="198.8" cy="534.3" rx="1.1" ry=".7" opacity=".17"/>
<ellipse cx="227.0" cy="570.6" rx=".9" ry=".7" opacity=".13"/>
<ellipse cx="195.6" cy="570.4" rx=".8" ry=".7" opacity=".17"/>
<ellipse cx="219.5" cy="532.0" rx="1.1" ry=".7" opacity=".08"/>
<ellipse cx="182.9" cy="550.3" rx=".6" ry=".8" opacity=".12"/>
<ellipse cx="211.4" cy="544.6" rx="1.0" ry=".8" opacity=".10"/>
<ellipse cx="202.7" cy="552.7" rx=".8" ry=".7" opacity=".13"/>
<ellipse cx="206.3" cy="557.0" rx=".9" ry=".5" opacity=".18"/>
<ellipse cx="201.6" cy="545.6" rx=".8" ry=".8" opacity=".17"/>
<ellipse cx="211.1" cy="544.2" rx=".7" ry=".8" opacity=".08"/>
<ellipse cx="189.0" cy="528.1" rx="3.2" ry="2.1" opacity=".36"/>
<ellipse cx="190.5" cy="527.2" rx="1.8" ry="1.1" opacity=".23"/>
<ellipse cx="186.2" cy="527.7" rx="1.8" ry="1.1" opacity=".23"/>
<ellipse cx="190.9" cy="527.6" rx="1.8" ry="1.1" opacity=".23"/>
<ellipse cx="189.0" cy="543.7" rx="2.4" ry="1.3" opacity=".27"/>
<ellipse cx="191.1" cy="543.9" rx="1.3" ry=".7" opacity=".18"/>
<ellipse cx="189.1" cy="543.9" rx="1.3" ry=".7" opacity=".18"/>
<ellipse cx="182.3" cy="554.0" rx="2.2" ry="1.4" opacity=".31"/>
<ellipse cx="182.7" cy="554.1" rx="1.2" ry=".7" opacity=".20"/>
<ellipse cx="183.9" cy="554.4" rx="1.2" ry=".7" opacity=".20"/>
<ellipse cx="208.5" cy="542.3" rx="2.6" ry="1.0" opacity=".20"/>
<ellipse cx="208.6" cy="541.6" rx="1.4" ry=".5" opacity=".13"/>
<ellipse cx="206.9" cy="541.8" rx="1.4" ry=".5" opacity=".13"/>
<ellipse cx="210.7" cy="542.9" rx="1.4" ry=".5" opacity=".13"/>
<ellipse cx="216.4" cy="542.3" rx="2.0" ry=".9" opacity=".18"/>
<ellipse cx="215.9" cy="542.6" rx="1.1" ry=".4" opacity=".12"/>
<ellipse cx="214.5" cy="542.7" rx="1.1" ry=".4" opacity=".12"/>
<ellipse cx="189.6" cy="557.8" rx="1.8" ry="1.1" opacity=".18"/>
<ellipse cx="187.9" cy="558.3" rx="1.0" ry=".5" opacity=".12"/>
<ellipse cx="190.2" cy="558.3" rx="1.0" ry=".5" opacity=".12"/>
<ellipse cx="215.2" cy="557.8" rx="2.6" ry="1.0" opacity=".20"/>
<ellipse cx="216.7" cy="557.7" rx="1.4" ry=".5" opacity=".13"/>
<ellipse cx="212.9" cy="557.4" rx="1.4" ry=".5" opacity=".13"/>
<ellipse cx="217.3" cy="558.0" rx="1.4" ry=".5" opacity=".13"/>
<ellipse cx="231.1" cy="560.6" rx="2.0" ry=".9" opacity=".13"/>
<ellipse cx="228.9" cy="561.0" rx="1.1" ry=".4" opacity=".08"/>
<ellipse cx="229.2" cy="560.0" rx="1.1" ry=".4" opacity=".08"/>
<ellipse cx="214.0" cy="565.3" rx="2.2" ry="1.0" opacity=".18"/>
<ellipse cx="215.9" cy="565.9" rx="1.2" ry=".5" opacity=".12"/>
<ellipse cx="213.3" cy="565.7" rx="1.2" ry=".5" opacity=".12"/>
<ellipse cx="194.5" cy="565.3" rx="1.8" ry=".9" opacity=".15"/>
<ellipse cx="193.4" cy="565.0" rx="1.0" ry=".4" opacity=".09"/>
<ellipse cx="195.6" cy="565.1" rx="1.0" ry=".4" opacity=".09"/>
<ellipse cx="190.9" cy="571.5" rx="2.0" ry="1.1" opacity=".18"/>
<ellipse cx="189.0" cy="572.0" rx="1.1" ry=".5" opacity=".12"/>
<ellipse cx="190.9" cy="571.8" rx="1.1" ry=".5" opacity=".12"/>
<ellipse cx="237.1" cy="539.4" rx="1.6" ry=".9" opacity=".11"/>
<ellipse cx="238.4" cy="539.6" rx=".9" ry=".4" opacity=".07"/>
<ellipse cx="235.8" cy="539.0" rx=".9" ry=".4" opacity=".07"/>
<ellipse cx="236.5" cy="531.9" rx="1.6" ry=".9" opacity=".11"/>
<ellipse cx="237.8" cy="531.9" rx=".9" ry=".4" opacity=".07"/>
<ellipse cx="235.5" cy="532.2" rx=".9" ry=".4" opacity=".07"/>
<ellipse cx="187.2" cy="535.7" rx="1.8" ry="1.2" opacity=".18"/>
<ellipse cx="188.7" cy="535.1" rx="1.0" ry=".6" opacity=".12"/>
<ellipse cx="187.5" cy="536.4" rx="1.0" ry=".6" opacity=".12"/>
</g></g>
<g clip-path="url(#cE13)" fill="#fff">
<rect x="242.3" y="525.3" width="60.8" height="47.1" fill="rgb(11,11,11)"/>
<g filter="url(#bl)">
<ellipse cx="251.4" cy="528.1" rx="6.1" ry="3.9" opacity=".32"/>
<ellipse cx="251.4" cy="543.7" rx="4.6" ry="2.4" opacity=".24"/>
<ellipse cx="244.7" cy="554.0" rx="4.2" ry="2.6" opacity=".27"/>
<ellipse cx="270.9" cy="542.3" rx="5.0" ry="1.8" opacity=".17"/>
<ellipse cx="278.8" cy="542.3" rx="3.8" ry="1.6" opacity=".16"/>
<ellipse cx="252.0" cy="557.8" rx="3.5" ry="1.9" opacity=".16"/>
<ellipse cx="277.6" cy="557.8" rx="5.0" ry="1.8" opacity=".17"/>
<ellipse cx="293.4" cy="560.6" rx="3.8" ry="1.6" opacity=".11"/>
<ellipse cx="276.3" cy="565.3" rx="4.2" ry="1.8" opacity=".16"/>
<ellipse cx="256.9" cy="565.3" rx="3.5" ry="1.6" opacity=".13"/>
<ellipse cx="253.2" cy="571.5" rx="3.8" ry="1.9" opacity=".16"/>
<ellipse cx="299.5" cy="539.4" rx="3.1" ry="1.6" opacity=".10"/>
<ellipse cx="298.8" cy="531.9" rx="3.1" ry="1.6" opacity=".10"/>
<ellipse cx="249.6" cy="535.7" rx="3.5" ry="2.3" opacity=".16"/>
</g><g filter="url(#b07)">
<ellipse cx="300.6" cy="531.9" rx=".6" ry=".8" opacity=".10"/>
<ellipse cx="249.6" cy="556.0" rx=".8" ry=".8" opacity=".10"/>
<ellipse cx="300.6" cy="540.3" rx="1.0" ry=".8" opacity=".17"/>
<ellipse cx="298.5" cy="558.7" rx=".6" ry=".8" opacity=".15"/>
<ellipse cx="261.2" cy="534.3" rx="1.1" ry=".7" opacity=".20"/>
<ellipse cx="289.4" cy="570.6" rx=".9" ry=".7" opacity=".16"/>
<ellipse cx="258.0" cy="570.4" rx=".8" ry=".7" opacity=".20"/>
<ellipse cx="281.9" cy="532.0" rx="1.1" ry=".7" opacity=".10"/>
<ellipse cx="245.3" cy="550.3" rx=".6" ry=".8" opacity=".14"/>
<ellipse cx="273.8" cy="544.6" rx="1.0" ry=".8" opacity=".11"/>
<ellipse cx="265.0" cy="552.7" rx=".8" ry=".7" opacity=".15"/>
<ellipse cx="268.7" cy="557.0" rx=".9" ry=".5" opacity=".21"/>
<ellipse cx="263.9" cy="545.6" rx=".8" ry=".8" opacity=".20"/>
<ellipse cx="273.4" cy="544.2" rx=".7" ry=".8" opacity=".09"/>
<ellipse cx="251.4" cy="528.1" rx="3.5" ry="2.3" opacity=".46"/>
<ellipse cx="252.9" cy="527.2" rx="1.9" ry="1.2" opacity=".30"/>
<ellipse cx="248.6" cy="527.7" rx="1.9" ry="1.2" opacity=".30"/>
<ellipse cx="253.3" cy="527.6" rx="1.9" ry="1.2" opacity=".30"/>
<ellipse cx="251.4" cy="543.7" rx="2.6" ry="1.4" opacity=".35"/>
<ellipse cx="253.5" cy="543.9" rx="1.4" ry=".7" opacity=".22"/>
<ellipse cx="251.5" cy="543.9" rx="1.4" ry=".7" opacity=".22"/>
<ellipse cx="244.7" cy="554.0" rx="2.4" ry="1.5" opacity=".39"/>
<ellipse cx="245.1" cy="554.1" rx="1.3" ry=".8" opacity=".25"/>
<ellipse cx="246.2" cy="554.4" rx="1.3" ry=".8" opacity=".25"/>
<ellipse cx="270.9" cy="542.3" rx="2.8" ry="1.1" opacity=".25"/>
<ellipse cx="271.0" cy="541.6" rx="1.6" ry=".5" opacity=".16"/>
<ellipse cx="269.2" cy="541.8" rx="1.6" ry=".5" opacity=".16"/>
<ellipse cx="273.0" cy="542.9" rx="1.6" ry=".5" opacity=".16"/>
<ellipse cx="278.8" cy="542.3" rx="2.2" ry="1.0" opacity=".23"/>
<ellipse cx="278.2" cy="542.6" rx="1.2" ry=".5" opacity=".15"/>
<ellipse cx="276.9" cy="542.7" rx="1.2" ry=".5" opacity=".15"/>
<ellipse cx="252.0" cy="557.8" rx="1.9" ry="1.2" opacity=".23"/>
<ellipse cx="250.3" cy="558.3" rx="1.1" ry=".6" opacity=".15"/>
<ellipse cx="252.6" cy="558.3" rx="1.1" ry=".6" opacity=".15"/>
<ellipse cx="277.6" cy="557.8" rx="2.8" ry="1.1" opacity=".25"/>
<ellipse cx="279.1" cy="557.7" rx="1.6" ry=".5" opacity=".16"/>
<ellipse cx="275.2" cy="557.4" rx="1.6" ry=".5" opacity=".16"/>
<ellipse cx="279.6" cy="558.0" rx="1.6" ry=".5" opacity=".16"/>
<ellipse cx="293.4" cy="560.6" rx="2.2" ry="1.0" opacity=".16"/>
<ellipse cx="291.2" cy="561.0" rx="1.2" ry=".5" opacity=".10"/>
<ellipse cx="291.5" cy="560.0" rx="1.2" ry=".5" opacity=".10"/>
<ellipse cx="276.3" cy="565.3" rx="2.4" ry="1.1" opacity=".23"/>
<ellipse cx="278.3" cy="565.9" rx="1.3" ry=".5" opacity=".15"/>
<ellipse cx="275.7" cy="565.7" rx="1.3" ry=".5" opacity=".15"/>
<ellipse cx="256.9" cy="565.3" rx="1.9" ry="1.0" opacity=".18"/>
<ellipse cx="255.8" cy="565.0" rx="1.1" ry=".5" opacity=".12"/>
<ellipse cx="258.0" cy="565.1" rx="1.1" ry=".5" opacity=".12"/>
<ellipse cx="253.2" cy="571.5" rx="2.2" ry="1.2" opacity=".23"/>
<ellipse cx="251.4" cy="572.0" rx="1.2" ry=".6" opacity=".15"/>
<ellipse cx="253.3" cy="571.8" rx="1.2" ry=".6" opacity=".15"/>
<ellipse cx="299.5" cy="539.4" rx="1.7" ry="1.0" opacity=".14"/>
<ellipse cx="300.7" cy="539.6" rx="1.0" ry=".5" opacity=".09"/>
<ellipse cx="298.1" cy="539.0" rx="1.0" ry=".5" opacity=".09"/>
<ellipse cx="298.8" cy="531.9" rx="1.7" ry="1.0" opacity=".14"/>
<ellipse cx="300.1" cy="531.9" rx="1.0" ry=".5" opacity=".09"/>
<ellipse cx="297.8" cy="532.2" rx="1.0" ry=".5" opacity=".09"/>
<ellipse cx="249.6" cy="535.7" rx="1.9" ry="1.3" opacity=".23"/>
<ellipse cx="251.1" cy="535.1" rx="1.1" ry=".7" opacity=".15"/>
<ellipse cx="249.9" cy="536.4" rx="1.1" ry=".7" opacity=".15"/>
</g></g>
<g clip-path="url(#cE20)" fill="#fff">
<rect x="54.7" y="574.2" width="60.8" height="46.3" fill="rgb(5,5,5)"/>
<g filter="url(#bl)">
<ellipse cx="83.9" cy="597.4" rx="1.1" ry=".8" opacity=".14"/>
<ellipse cx="88.7" cy="596.0" rx="1.1" ry=".8" opacity=".14"/>
</g><g filter="url(#b07)">
<ellipse cx="110.9" cy="618.1" rx=".9" ry=".4" opacity=".02"/>
<ellipse cx="80.5" cy="598.7" rx=".6" ry=".5" opacity=".02"/>
<ellipse cx="68.1" cy="595.3" rx=".5" ry=".4" opacity=".03"/>
<ellipse cx="102.3" cy="601.5" rx=".8" ry=".6" opacity=".03"/>
<ellipse cx="76.8" cy="609.4" rx=".7" ry=".6" opacity=".03"/>
<ellipse cx="73.8" cy="578.2" rx=".7" ry=".6" opacity=".02"/>
<ellipse cx="114.0" cy="576.8" rx=".7" ry=".4" opacity=".03"/>
<ellipse cx="96.5" cy="619.3" rx=".9" ry=".7" opacity=".02"/>
<ellipse cx="66.5" cy="577.7" rx=".7" ry=".5" opacity=".03"/>
<ellipse cx="87.8" cy="611.8" rx=".6" ry=".5" opacity=".03"/>
<ellipse cx="81.7" cy="590.1" rx=".9" ry=".6" opacity=".03"/>
<ellipse cx="96.5" cy="593.3" rx=".8" ry=".6" opacity=".03"/>
<ellipse cx="69.2" cy="587.9" rx=".7" ry=".6" opacity=".02"/>
<ellipse cx="88.9" cy="599.3" rx=".6" ry=".6" opacity=".02"/>
<ellipse cx="82.0" cy="607.5" rx=".5" ry=".5" opacity=".03"/>
<ellipse cx="82.0" cy="593.8" rx=".5" ry=".6" opacity=".02"/>
<ellipse cx="109.3" cy="578.2" rx=".9" ry=".7" opacity=".02"/>
<ellipse cx="71.6" cy="578.3" rx=".6" ry=".5" opacity=".03"/>
<ellipse cx="85.3" cy="579.3" rx=".7" ry=".4" opacity=".02"/>
<ellipse cx="76.7" cy="581.0" rx=".9" ry=".4" opacity=".03"/>
<ellipse cx="78.8" cy="605.7" rx=".6" ry=".4" opacity=".03"/>
<ellipse cx="83.9" cy="597.4" rx=".6" ry=".5" opacity=".21"/>
<ellipse cx="84.5" cy="597.1" rx=".3" ry=".2" opacity=".14"/>
<ellipse cx="84.3" cy="597.4" rx=".3" ry=".2" opacity=".14"/>
<ellipse cx="88.7" cy="596.0" rx=".6" ry=".5" opacity=".21"/>
<ellipse cx="89.5" cy="596.0" rx=".3" ry=".2" opacity=".14"/>
<ellipse cx="88.6" cy="595.7" rx=".3" ry=".2" opacity=".14"/>
</g></g>
<g clip-path="url(#cE21)" fill="#fff">
<rect x="117.1" y="574.2" width="61.3" height="46.3" fill="rgb(17,17,17)"/>
<g filter="url(#bl)">
<ellipse cx="147.1" cy="582.5" rx="1.9" ry=".9" opacity=".08"/>
<ellipse cx="160.6" cy="581.6" rx="1.4" ry=".8" opacity=".05"/>
<ellipse cx="125.1" cy="587.2" rx="1.4" ry=".8" opacity=".05"/>
<ellipse cx="153.3" cy="594.6" rx="2.2" ry="1.1" opacity=".14"/>
<ellipse cx="147.1" cy="597.4" rx="1.9" ry="1.1" opacity=".13"/>
<ellipse cx="130.0" cy="597.4" rx="1.8" ry=".9" opacity=".09"/>
<ellipse cx="160.6" cy="596.4" rx="1.7" ry=".9" opacity=".09"/>
<ellipse cx="171.7" cy="598.7" rx="1.6" ry=".8" opacity=".06"/>
<ellipse cx="117.7" cy="593.6" rx="1.6" ry=".9" opacity=".08"/>
<ellipse cx="126.3" cy="602.4" rx="1.4" ry=".8" opacity=".05"/>
<ellipse cx="122.6" cy="608.5" rx="1.8" ry="1.0" opacity=".08"/>
<ellipse cx="137.3" cy="612.2" rx="2.2" ry="1.2" opacity=".13"/>
<ellipse cx="158.2" cy="610.8" rx="2.4" ry="1.5" opacity=".14"/>
<ellipse cx="118.9" cy="614.5" rx="1.6" ry=".9" opacity=".08"/>
<ellipse cx="130.0" cy="614.5" rx="1.4" ry=".8" opacity=".06"/>
<ellipse cx="144.7" cy="618.2" rx="1.4" ry=".8" opacity=".05"/>
<ellipse cx="140.4" cy="596.4" rx="1.4" ry=".8" opacity=".08"/>
<ellipse cx="166.1" cy="597.4" rx="1.3" ry=".7" opacity=".06"/>
</g><g filter="url(#b05)">
<ellipse cx="173.8" cy="618.1" rx=".9" ry=".4" opacity=".09"/>
<ellipse cx="143.1" cy="598.7" rx=".6" ry=".5" opacity=".07"/>
<ellipse cx="130.6" cy="595.3" rx=".5" ry=".4" opacity=".10"/>
<ellipse cx="142.9" cy="597.9" rx=".9" ry=".5" opacity=".04"/>
<ellipse cx="165.1" cy="601.5" rx=".8" ry=".6" opacity=".12"/>
<ellipse cx="139.3" cy="609.4" rx=".7" ry=".6" opacity=".09"/>
<ellipse cx="136.4" cy="578.2" rx=".7" ry=".6" opacity=".09"/>
<ellipse cx="144.5" cy="603.9" rx=".6" ry=".5" opacity=".06"/>
<ellipse cx="167.1" cy="583.3" rx=".6" ry=".4" opacity=".04"/>
<ellipse cx="134.0" cy="600.7" rx=".9" ry=".5" opacity=".07"/>
<ellipse cx="134.8" cy="588.3" rx=".9" ry=".6" opacity=".06"/>
<ellipse cx="123.7" cy="610.5" rx=".9" ry=".6" opacity=".06"/>
<ellipse cx="150.5" cy="616.7" rx=".8" ry=".7" opacity=".05"/>
<ellipse cx="176.9" cy="576.8" rx=".7" ry=".4" opacity=".11"/>
<ellipse cx="159.2" cy="619.3" rx=".9" ry=".7" opacity=".08"/>
<ellipse cx="177.7" cy="608.9" rx=".7" ry=".7" opacity=".07"/>
<ellipse cx="129.0" cy="577.7" rx=".7" ry=".5" opacity=".12"/>
<ellipse cx="175.4" cy="584.2" rx=".6" ry=".6" opacity=".05"/>
<ellipse cx="150.4" cy="611.8" rx=".6" ry=".5" opacity=".11"/>
<ellipse cx="144.4" cy="590.1" rx=".9" ry=".6" opacity=".11"/>
<ellipse cx="159.3" cy="593.3" rx=".8" ry=".6" opacity=".09"/>
<ellipse cx="131.7" cy="587.9" rx=".7" ry=".6" opacity=".08"/>
<ellipse cx="150.8" cy="612.5" rx=".6" ry=".6" opacity=".06"/>
<ellipse cx="151.4" cy="612.9" rx=".6" ry=".7" opacity=".04"/>
<ellipse cx="151.6" cy="599.3" rx=".6" ry=".6" opacity=".08"/>
<ellipse cx="144.7" cy="607.5" rx=".5" ry=".5" opacity=".10"/>
<ellipse cx="125.8" cy="614.4" rx=".6" ry=".6" opacity=".05"/>
<ellipse cx="144.6" cy="593.8" rx=".5" ry=".6" opacity=".08"/>
<ellipse cx="159.3" cy="599.2" rx=".8" ry=".6" opacity=".06"/>
<ellipse cx="172.2" cy="578.2" rx=".9" ry=".7" opacity=".08"/>
<ellipse cx="164.7" cy="605.4" rx=".8" ry=".5" opacity=".06"/>
<ellipse cx="138.5" cy="588.2" rx="1.0" ry=".5" opacity=".07"/>
<ellipse cx="142.8" cy="612.0" rx=".7" ry=".6" opacity=".06"/>
<ellipse cx="134.1" cy="578.3" rx=".6" ry=".5" opacity=".11"/>
<ellipse cx="147.9" cy="579.3" rx=".7" ry=".4" opacity=".08"/>
<ellipse cx="144.2" cy="613.9" rx=".6" ry=".7" opacity=".06"/>
<ellipse cx="177.3" cy="603.6" rx=".5" ry=".6" opacity=".06"/>
<ellipse cx="139.3" cy="581.0" rx=".9" ry=".4" opacity=".10"/>
<ellipse cx="141.4" cy="605.7" rx=".6" ry=".4" opacity=".12"/>
<ellipse cx="157.2" cy="582.1" rx="1.0" ry=".7" opacity=".05"/>
<ellipse cx="147.1" cy="582.5" rx="1.1" ry=".5" opacity=".12"/>
<ellipse cx="148.6" cy="582.2" rx=".6" ry=".3" opacity=".08"/>
<ellipse cx="148.1" cy="582.6" rx=".6" ry=".3" opacity=".08"/>
<ellipse cx="160.6" cy="581.6" rx=".8" ry=".5" opacity=".08"/>
<ellipse cx="161.9" cy="581.7" rx=".4" ry=".2" opacity=".05"/>
<ellipse cx="160.4" cy="581.2" rx=".4" ry=".2" opacity=".05"/>
<ellipse cx="125.1" cy="587.2" rx=".8" ry=".5" opacity=".08"/>
<ellipse cx="124.9" cy="587.6" rx=".4" ry=".2" opacity=".05"/>
<ellipse cx="126.4" cy="586.9" rx=".4" ry=".2" opacity=".05"/>
<ellipse cx="153.3" cy="594.6" rx="1.2" ry=".7" opacity=".20"/>
<ellipse cx="154.5" cy="594.2" rx=".7" ry=".3" opacity=".13"/>
<ellipse cx="153.6" cy="594.4" rx=".7" ry=".3" opacity=".13"/>
<ellipse cx="147.1" cy="597.4" rx="1.1" ry=".7" opacity=".19"/>
<ellipse cx="146.3" cy="597.3" rx=".6" ry=".3" opacity=".12"/>
<ellipse cx="148.0" cy="597.6" rx=".6" ry=".3" opacity=".12"/>
<ellipse cx="130.0" cy="597.4" rx="1.0" ry=".5" opacity=".13"/>
<ellipse cx="129.4" cy="597.0" rx=".6" ry=".3" opacity=".09"/>
<ellipse cx="128.4" cy="597.8" rx=".6" ry=".3" opacity=".09"/>
<ellipse cx="160.6" cy="596.4" rx=".9" ry=".5" opacity=".13"/>
<ellipse cx="160.7" cy="596.4" rx=".5" ry=".3" opacity=".09"/>
<ellipse cx="160.4" cy="596.0" rx=".5" ry=".3" opacity=".09"/>
<ellipse cx="171.7" cy="598.7" rx=".9" ry=".5" opacity=".09"/>
<ellipse cx="170.9" cy="599.2" rx=".5" ry=".2" opacity=".06"/>
<ellipse cx="171.3" cy="598.8" rx=".5" ry=".2" opacity=".06"/>
<ellipse cx="117.7" cy="593.6" rx=".9" ry=".5" opacity=".12"/>
<ellipse cx="119.0" cy="593.8" rx=".5" ry=".3" opacity=".08"/>
<ellipse cx="116.8" cy="593.2" rx=".5" ry=".3" opacity=".08"/>
<ellipse cx="126.3" cy="602.4" rx=".8" ry=".5" opacity=".08"/>
<ellipse cx="125.4" cy="602.1" rx=".4" ry=".2" opacity=".05"/>
<ellipse cx="125.4" cy="602.1" rx=".4" ry=".2" opacity=".05"/>
<ellipse cx="122.6" cy="608.5" rx="1.0" ry=".6" opacity=".12"/>
<ellipse cx="122.0" cy="608.4" rx=".6" ry=".3" opacity=".08"/>
<ellipse cx="122.2" cy="608.3" rx=".6" ry=".3" opacity=".08"/>
<ellipse cx="137.3" cy="612.2" rx="1.2" ry=".7" opacity=".19"/>
<ellipse cx="137.4" cy="611.8" rx=".7" ry=".4" opacity=".12"/>
<ellipse cx="139.2" cy="611.8" rx=".7" ry=".4" opacity=".12"/>
<ellipse cx="158.2" cy="610.8" rx="1.4" ry=".9" opacity=".20"/>
<ellipse cx="158.8" cy="610.6" rx=".8" ry=".5" opacity=".13"/>
<ellipse cx="158.3" cy="609.9" rx=".8" ry=".5" opacity=".13"/>
<ellipse cx="118.9" cy="614.5" rx=".9" ry=".5" opacity=".12"/>
<ellipse cx="120.3" cy="614.9" rx=".5" ry=".3" opacity=".08"/>
<ellipse cx="117.6" cy="614.2" rx=".5" ry=".3" opacity=".08"/>
<ellipse cx="130.0" cy="614.5" rx=".8" ry=".5" opacity=".09"/>
<ellipse cx="131.1" cy="614.7" rx=".4" ry=".2" opacity=".06"/>
<ellipse cx="130.1" cy="614.8" rx=".4" ry=".2" opacity=".06"/>
<ellipse cx="144.7" cy="618.2" rx=".8" ry=".5" opacity=".08"/>
<ellipse cx="143.7" cy="618.4" rx=".4" ry=".2" opacity=".05"/>
<ellipse cx="143.8" cy="618.0" rx=".4" ry=".2" opacity=".05"/>
<ellipse cx="140.4" cy="596.4" rx=".8" ry=".5" opacity=".11"/>
<ellipse cx="141.6" cy="596.3" rx=".4" ry=".2" opacity=".07"/>
<ellipse cx="140.5" cy="596.6" rx=".4" ry=".2" opacity=".07"/>
<ellipse cx="166.1" cy="597.4" rx=".7" ry=".4" opacity=".09"/>
<ellipse cx="166.0" cy="597.6" rx=".4" ry=".2" opacity=".06"/>
<ellipse cx="167.2" cy="597.4" rx=".4" ry=".2" opacity=".06"/>
</g></g>
<g clip-path="url(#cE22)" fill="#fff">
<rect x="179.9" y="574.2" width="60.9" height="46.3" fill="rgb(18,18,18)"/>
<g filter="url(#bl)">
<ellipse cx="209.7" cy="582.5" rx="2.2" ry="1.0" opacity=".18"/>
<ellipse cx="223.1" cy="581.6" rx="1.6" ry=".9" opacity=".12"/>
<ellipse cx="187.8" cy="587.2" rx="1.6" ry=".9" opacity=".12"/>
<ellipse cx="215.8" cy="594.6" rx="2.4" ry="1.3" opacity=".30"/>
<ellipse cx="209.7" cy="597.4" rx="2.2" ry="1.3" opacity=".29"/>
<ellipse cx="192.7" cy="597.4" rx="2.0" ry="1.0" opacity=".20"/>
<ellipse cx="223.1" cy="596.4" rx="1.9" ry="1.0" opacity=".20"/>
<ellipse cx="234.1" cy="598.7" rx="1.8" ry=".9" opacity=".13"/>
<ellipse cx="180.5" cy="593.6" rx="1.8" ry="1.0" opacity=".18"/>
<ellipse cx="189.0" cy="602.4" rx="1.6" ry=".9" opacity=".12"/>
<ellipse cx="185.4" cy="608.5" rx="2.0" ry="1.1" opacity=".18"/>
<ellipse cx="200.0" cy="612.2" rx="2.4" ry="1.4" opacity=".29"/>
<ellipse cx="220.7" cy="610.8" rx="2.7" ry="1.7" opacity=".30"/>
<ellipse cx="181.7" cy="614.5" rx="1.8" ry="1.0" opacity=".18"/>
<ellipse cx="192.7" cy="614.5" rx="1.6" ry=".9" opacity=".13"/>
<ellipse cx="207.3" cy="618.2" rx="1.6" ry=".9" opacity=".12"/>
<ellipse cx="203.0" cy="596.4" rx="1.6" ry=".9" opacity=".17"/>
<ellipse cx="228.6" cy="597.4" rx="1.5" ry=".8" opacity=".13"/>
</g><g filter="url(#b05)">
<ellipse cx="236.2" cy="618.1" rx=".9" ry=".4" opacity=".15"/>
<ellipse cx="205.7" cy="598.7" rx=".6" ry=".5" opacity=".13"/>
<ellipse cx="193.4" cy="595.3" rx=".5" ry=".4" opacity=".17"/>
<ellipse cx="205.6" cy="597.9" rx=".9" ry=".5" opacity=".07"/>
<ellipse cx="227.6" cy="601.5" rx=".8" ry=".6" opacity=".21"/>
<ellipse cx="202.0" cy="609.4" rx=".7" ry=".6" opacity=".16"/>
<ellipse cx="199.0" cy="578.2" rx=".7" ry=".6" opacity=".15"/>
<ellipse cx="207.1" cy="603.9" rx=".6" ry=".5" opacity=".11"/>
<ellipse cx="229.6" cy="583.3" rx=".6" ry=".4" opacity=".07"/>
<ellipse cx="196.7" cy="600.7" rx=".9" ry=".5" opacity=".12"/>
<ellipse cx="197.5" cy="588.3" rx=".9" ry=".6" opacity=".10"/>
<ellipse cx="186.4" cy="610.5" rx=".9" ry=".6" opacity=".10"/>
<ellipse cx="213.1" cy="616.7" rx=".8" ry=".7" opacity=".09"/>
<ellipse cx="239.3" cy="576.8" rx=".7" ry=".4" opacity=".18"/>
<ellipse cx="221.8" cy="619.3" rx=".9" ry=".7" opacity=".14"/>
<ellipse cx="240.1" cy="608.9" rx=".7" ry=".7" opacity=".12"/>
<ellipse cx="191.7" cy="577.7" rx=".7" ry=".5" opacity=".20"/>
<ellipse cx="237.8" cy="584.2" rx=".6" ry=".6" opacity=".09"/>
<ellipse cx="213.0" cy="611.8" rx=".6" ry=".5" opacity=".20"/>
<ellipse cx="207.0" cy="590.1" rx=".9" ry=".6" opacity=".19"/>
<ellipse cx="221.8" cy="593.3" rx=".8" ry=".6" opacity=".16"/>
<ellipse cx="194.4" cy="587.9" rx=".7" ry=".6" opacity=".14"/>
<ellipse cx="213.4" cy="612.5" rx=".6" ry=".6" opacity=".11"/>
<ellipse cx="214.0" cy="612.9" rx=".6" ry=".7" opacity=".07"/>
<ellipse cx="214.1" cy="599.3" rx=".6" ry=".6" opacity=".13"/>
<ellipse cx="207.3" cy="607.5" rx=".5" ry=".5" opacity=".18"/>
<ellipse cx="188.5" cy="614.4" rx=".6" ry=".6" opacity=".09"/>
<ellipse cx="207.3" cy="593.8" rx=".5" ry=".6" opacity=".13"/>
<ellipse cx="221.9" cy="599.2" rx=".8" ry=".6" opacity=".10"/>
<ellipse cx="234.6" cy="578.2" rx=".9" ry=".7" opacity=".13"/>
<ellipse cx="227.2" cy="605.4" rx=".8" ry=".5" opacity=".11"/>
<ellipse cx="201.2" cy="588.2" rx="1.0" ry=".5" opacity=".12"/>
<ellipse cx="205.5" cy="612.0" rx=".7" ry=".6" opacity=".10"/>
<ellipse cx="196.8" cy="578.3" rx=".6" ry=".5" opacity=".19"/>
<ellipse cx="210.5" cy="579.3" rx=".7" ry=".4" opacity=".14"/>
<ellipse cx="206.8" cy="613.9" rx=".6" ry=".7" opacity=".10"/>
<ellipse cx="239.7" cy="603.6" rx=".5" ry=".6" opacity=".10"/>
<ellipse cx="202.0" cy="581.0" rx=".9" ry=".4" opacity=".17"/>
<ellipse cx="204.0" cy="605.7" rx=".6" ry=".4" opacity=".20"/>
<ellipse cx="219.8" cy="582.1" rx="1.0" ry=".7" opacity=".09"/>
<ellipse cx="209.7" cy="582.5" rx="1.2" ry=".6" opacity=".27"/>
<ellipse cx="211.2" cy="582.2" rx=".7" ry=".3" opacity=".17"/>
<ellipse cx="210.7" cy="582.6" rx=".7" ry=".3" opacity=".17"/>
<ellipse cx="223.1" cy="581.6" rx=".9" ry=".5" opacity=".17"/>
<ellipse cx="224.4" cy="581.7" rx=".5" ry=".3" opacity=".11"/>
<ellipse cx="223.0" cy="581.2" rx=".5" ry=".3" opacity=".11"/>
<ellipse cx="187.8" cy="587.2" rx=".9" ry=".5" opacity=".17"/>
<ellipse cx="187.6" cy="587.6" rx=".5" ry=".3" opacity=".11"/>
<ellipse cx="189.1" cy="586.9" rx=".5" ry=".3" opacity=".11"/>
<ellipse cx="215.8" cy="594.6" rx="1.4" ry=".7" opacity=".44"/>
<ellipse cx="217.1" cy="594.2" rx=".8" ry=".4" opacity=".28"/>
<ellipse cx="216.2" cy="594.4" rx=".8" ry=".4" opacity=".28"/>
<ellipse cx="209.7" cy="597.4" rx="1.2" ry=".7" opacity=".42"/>
<ellipse cx="208.9" cy="597.3" rx=".7" ry=".4" opacity=".27"/>
<ellipse cx="210.6" cy="597.6" rx=".7" ry=".4" opacity=".27"/>
<ellipse cx="192.7" cy="597.4" rx="1.1" ry=".6" opacity=".29"/>
<ellipse cx="192.2" cy="597.0" rx=".6" ry=".3" opacity=".19"/>
<ellipse cx="191.1" cy="597.8" rx=".6" ry=".3" opacity=".19"/>
<ellipse cx="223.1" cy="596.4" rx="1.1" ry=".6" opacity=".29"/>
<ellipse cx="223.2" cy="596.4" rx=".6" ry=".3" opacity=".19"/>
<ellipse cx="222.9" cy="596.0" rx=".6" ry=".3" opacity=".19"/>
<ellipse cx="234.1" cy="598.7" rx="1.0" ry=".5" opacity=".20"/>
<ellipse cx="233.3" cy="599.2" rx=".6" ry=".3" opacity=".13"/>
<ellipse cx="233.8" cy="598.8" rx=".6" ry=".3" opacity=".13"/>
<ellipse cx="180.5" cy="593.6" rx="1.0" ry=".6" opacity=".27"/>
<ellipse cx="181.8" cy="593.8" rx=".6" ry=".3" opacity=".17"/>
<ellipse cx="179.6" cy="593.2" rx=".6" ry=".3" opacity=".17"/>
<ellipse cx="189.0" cy="602.4" rx=".9" ry=".5" opacity=".17"/>
<ellipse cx="188.2" cy="602.1" rx=".5" ry=".3" opacity=".11"/>
<ellipse cx="188.2" cy="602.1" rx=".5" ry=".3" opacity=".11"/>
<ellipse cx="185.4" cy="608.5" rx="1.1" ry=".7" opacity=".27"/>
<ellipse cx="184.8" cy="608.4" rx=".6" ry=".3" opacity=".17"/>
<ellipse cx="185.0" cy="608.3" rx=".6" ry=".3" opacity=".17"/>
<ellipse cx="200.0" cy="612.2" rx="1.4" ry=".8" opacity=".42"/>
<ellipse cx="200.1" cy="611.8" rx=".8" ry=".4" opacity=".27"/>
<ellipse cx="201.8" cy="611.8" rx=".8" ry=".4" opacity=".27"/>
<ellipse cx="220.7" cy="610.8" rx="1.5" ry="1.0" opacity=".44"/>
<ellipse cx="221.3" cy="610.6" rx=".8" ry=".5" opacity=".28"/>
<ellipse cx="220.9" cy="609.9" rx=".8" ry=".5" opacity=".28"/>
<ellipse cx="181.7" cy="614.5" rx="1.0" ry=".6" opacity=".27"/>
<ellipse cx="183.1" cy="614.9" rx=".6" ry=".3" opacity=".17"/>
<ellipse cx="180.4" cy="614.2" rx=".6" ry=".3" opacity=".17"/>
<ellipse cx="192.7" cy="614.5" rx=".9" ry=".5" opacity=".20"/>
<ellipse cx="193.8" cy="614.7" rx=".5" ry=".3" opacity=".13"/>
<ellipse cx="192.9" cy="614.8" rx=".5" ry=".3" opacity=".13"/>
<ellipse cx="207.3" cy="618.2" rx=".9" ry=".5" opacity=".17"/>
<ellipse cx="206.3" cy="618.4" rx=".5" ry=".3" opacity=".11"/>
<ellipse cx="206.4" cy="618.0" rx=".5" ry=".3" opacity=".11"/>
<ellipse cx="203.0" cy="596.4" rx=".9" ry=".5" opacity=".24"/>
<ellipse cx="204.2" cy="596.3" rx=".5" ry=".3" opacity=".16"/>
<ellipse cx="203.2" cy="596.6" rx=".5" ry=".3" opacity=".16"/>
<ellipse cx="228.6" cy="597.4" rx=".8" ry=".5" opacity=".20"/>
<ellipse cx="228.5" cy="597.6" rx=".5" ry=".2" opacity=".13"/>
<ellipse cx="229.7" cy="597.4" rx=".5" ry=".2" opacity=".13"/>
</g></g>
<g clip-path="url(#cE23)" fill="#fff">
<rect x="242.3" y="574.2" width="60.8" height="46.3" fill="rgb(19,19,19)"/>
<g filter="url(#bl)">
<ellipse cx="272.1" cy="582.5" rx="2.4" ry="1.2" opacity=".25"/>
<ellipse cx="285.5" cy="581.6" rx="1.8" ry="1.0" opacity=".16"/>
<ellipse cx="250.2" cy="587.2" rx="1.8" ry="1.0" opacity=".16"/>
<ellipse cx="278.2" cy="594.6" rx="2.7" ry="1.4" opacity=".41"/>
<ellipse cx="272.1" cy="597.4" rx="2.4" ry="1.4" opacity=".39"/>
<ellipse cx="255.1" cy="597.4" rx="2.3" ry="1.2" opacity=".27"/>
<ellipse cx="285.5" cy="596.4" rx="2.1" ry="1.2" opacity=".27"/>
<ellipse cx="296.4" cy="598.7" rx="2.0" ry="1.0" opacity=".18"/>
<ellipse cx="242.9" cy="593.6" rx="2.0" ry="1.2" opacity=".25"/>
<ellipse cx="251.4" cy="602.4" rx="1.8" ry="1.0" opacity=".16"/>
<ellipse cx="247.8" cy="608.5" rx="2.3" ry="1.3" opacity=".25"/>
<ellipse cx="262.4" cy="612.2" rx="2.7" ry="1.5" opacity=".39"/>
<ellipse cx="283.0" cy="610.8" rx="3.0" ry="1.9" opacity=".41"/>
<ellipse cx="244.1" cy="614.5" rx="2.0" ry="1.2" opacity=".25"/>
<ellipse cx="255.1" cy="614.5" rx="1.8" ry="1.0" opacity=".18"/>
<ellipse cx="269.7" cy="618.2" rx="1.8" ry="1.0" opacity=".16"/>
<ellipse cx="265.4" cy="596.4" rx="1.8" ry="1.0" opacity=".23"/>
<ellipse cx="290.9" cy="597.4" rx="1.7" ry=".9" opacity=".18"/>
</g><g filter="url(#b05)">
<ellipse cx="298.5" cy="618.1" rx=".9" ry=".4" opacity=".21"/>
<ellipse cx="268.1" cy="598.7" rx=".6" ry=".5" opacity=".18"/>
<ellipse cx="255.7" cy="595.3" rx=".5" ry=".4" opacity=".24"/>
<ellipse cx="267.9" cy="597.9" rx=".9" ry=".5" opacity=".10"/>
<ellipse cx="289.9" cy="601.5" rx=".8" ry=".6" opacity=".29"/>
<ellipse cx="264.4" cy="609.4" rx=".7" ry=".6" opacity=".23"/>
<ellipse cx="261.4" cy="578.2" rx=".7" ry=".6" opacity=".21"/>
<ellipse cx="269.5" cy="603.9" rx=".6" ry=".5" opacity=".15"/>
<ellipse cx="291.9" cy="583.3" rx=".6" ry=".4" opacity=".09"/>
<ellipse cx="259.1" cy="600.7" rx=".9" ry=".5" opacity=".16"/>
<ellipse cx="259.8" cy="588.3" rx=".9" ry=".6" opacity=".14"/>
<ellipse cx="248.8" cy="610.5" rx=".9" ry=".6" opacity=".14"/>
<ellipse cx="275.5" cy="616.7" rx=".8" ry=".7" opacity=".12"/>
<ellipse cx="301.6" cy="576.8" rx=".7" ry=".4" opacity=".26"/>
<ellipse cx="284.1" cy="619.3" rx=".9" ry=".7" opacity=".20"/>
<ellipse cx="302.4" cy="608.9" rx=".7" ry=".7" opacity=".17"/>
<ellipse cx="254.1" cy="577.7" rx=".7" ry=".5" opacity=".28"/>
<ellipse cx="300.1" cy="584.2" rx=".6" ry=".6" opacity=".12"/>
<ellipse cx="275.4" cy="611.8" rx=".6" ry=".5" opacity=".28"/>
<ellipse cx="269.3" cy="590.1" rx=".9" ry=".6" opacity=".28"/>
<ellipse cx="284.1" cy="593.3" rx=".8" ry=".6" opacity=".22"/>
<ellipse cx="256.8" cy="587.9" rx=".7" ry=".6" opacity=".20"/>
<ellipse cx="275.7" cy="612.5" rx=".6" ry=".6" opacity=".16"/>
<ellipse cx="276.3" cy="612.9" rx=".6" ry=".7" opacity=".10"/>
<ellipse cx="276.5" cy="599.3" rx=".6" ry=".6" opacity=".19"/>
<ellipse cx="269.6" cy="607.5" rx=".5" ry=".5" opacity=".25"/>
<ellipse cx="250.9" cy="614.4" rx=".6" ry=".6" opacity=".12"/>
<ellipse cx="269.6" cy="593.8" rx=".5" ry=".6" opacity=".19"/>
<ellipse cx="284.2" cy="599.2" rx=".8" ry=".6" opacity=".15"/>
<ellipse cx="296.9" cy="578.2" rx=".9" ry=".7" opacity=".19"/>
<ellipse cx="289.5" cy="605.4" rx=".8" ry=".5" opacity=".15"/>
<ellipse cx="263.5" cy="588.2" rx="1.0" ry=".5" opacity=".17"/>
<ellipse cx="267.8" cy="612.0" rx=".7" ry=".6" opacity=".14"/>
<ellipse cx="259.2" cy="578.3" rx=".6" ry=".5" opacity=".27"/>
<ellipse cx="272.9" cy="579.3" rx=".7" ry=".4" opacity=".21"/>
<ellipse cx="269.2" cy="613.9" rx=".6" ry=".7" opacity=".14"/>
<ellipse cx="302.0" cy="603.6" rx=".5" ry=".6" opacity=".14"/>
<ellipse cx="264.3" cy="581.0" rx=".9" ry=".4" opacity=".24"/>
<ellipse cx="266.4" cy="605.7" rx=".6" ry=".4" opacity=".28"/>
<ellipse cx="282.1" cy="582.1" rx="1.0" ry=".7" opacity=".12"/>
<ellipse cx="272.1" cy="582.5" rx="1.4" ry=".7" opacity=".37"/>
<ellipse cx="273.6" cy="582.2" rx=".8" ry=".3" opacity=".24"/>
<ellipse cx="273.1" cy="582.6" rx=".8" ry=".3" opacity=".24"/>
<ellipse cx="285.5" cy="581.6" rx="1.0" ry=".6" opacity=".23"/>
<ellipse cx="286.7" cy="581.7" rx=".6" ry=".3" opacity=".15"/>
<ellipse cx="285.3" cy="581.2" rx=".6" ry=".3" opacity=".15"/>
<ellipse cx="250.2" cy="587.2" rx="1.0" ry=".6" opacity=".23"/>
<ellipse cx="250.0" cy="587.6" rx=".6" ry=".3" opacity=".15"/>
<ellipse cx="251.5" cy="586.9" rx=".6" ry=".3" opacity=".15"/>
<ellipse cx="278.2" cy="594.6" rx="1.5" ry=".8" opacity=".60"/>
<ellipse cx="279.4" cy="594.2" rx=".9" ry=".4" opacity=".38"/>
<ellipse cx="278.5" cy="594.4" rx=".9" ry=".4" opacity=".38"/>
<ellipse cx="272.1" cy="597.4" rx="1.4" ry=".8" opacity=".57"/>
<ellipse cx="271.2" cy="597.3" rx=".8" ry=".4" opacity=".36"/>
<ellipse cx="272.9" cy="597.6" rx=".8" ry=".4" opacity=".36"/>
<ellipse cx="255.1" cy="597.4" rx="1.3" ry=".7" opacity=".40"/>
<ellipse cx="254.5" cy="597.0" rx=".7" ry=".3" opacity=".26"/>
<ellipse cx="253.5" cy="597.8" rx=".7" ry=".3" opacity=".26"/>
<ellipse cx="285.5" cy="596.4" rx="1.2" ry=".7" opacity=".40"/>
<ellipse cx="285.5" cy="596.4" rx=".7" ry=".3" opacity=".26"/>
<ellipse cx="285.2" cy="596.0" rx=".7" ry=".3" opacity=".26"/>
<ellipse cx="296.4" cy="598.7" rx="1.1" ry=".6" opacity=".27"/>
<ellipse cx="295.7" cy="599.2" rx=".6" ry=".3" opacity=".17"/>
<ellipse cx="296.1" cy="598.8" rx=".6" ry=".3" opacity=".17"/>
<ellipse cx="242.9" cy="593.6" rx="1.1" ry=".7" opacity=".37"/>
<ellipse cx="244.2" cy="593.8" rx=".6" ry=".3" opacity=".24"/>
<ellipse cx="242.0" cy="593.2" rx=".6" ry=".3" opacity=".24"/>
<ellipse cx="251.4" cy="602.4" rx="1.0" ry=".6" opacity=".23"/>
<ellipse cx="250.5" cy="602.1" rx=".6" ry=".3" opacity=".15"/>
<ellipse cx="250.6" cy="602.1" rx=".6" ry=".3" opacity=".15"/>
<ellipse cx="247.8" cy="608.5" rx="1.3" ry=".8" opacity=".37"/>
<ellipse cx="247.2" cy="608.4" rx=".7" ry=".4" opacity=".24"/>
<ellipse cx="247.4" cy="608.3" rx=".7" ry=".4" opacity=".24"/>
<ellipse cx="262.4" cy="612.2" rx="1.5" ry=".9" opacity=".57"/>
<ellipse cx="262.4" cy="611.8" rx=".9" ry=".5" opacity=".36"/>
<ellipse cx="264.2" cy="611.8" rx=".9" ry=".5" opacity=".36"/>
<ellipse cx="283.0" cy="610.8" rx="1.7" ry="1.1" opacity=".60"/>
<ellipse cx="283.6" cy="610.6" rx=".9" ry=".6" opacity=".38"/>
<ellipse cx="283.2" cy="609.9" rx=".9" ry=".6" opacity=".38"/>
<ellipse cx="244.1" cy="614.5" rx="1.1" ry=".7" opacity=".37"/>
<ellipse cx="245.5" cy="614.9" rx=".6" ry=".3" opacity=".24"/>
<ellipse cx="242.8" cy="614.2" rx=".6" ry=".3" opacity=".24"/>
<ellipse cx="255.1" cy="614.5" rx="1.0" ry=".6" opacity=".27"/>
<ellipse cx="256.2" cy="614.7" rx=".6" ry=".3" opacity=".17"/>
<ellipse cx="255.2" cy="614.8" rx=".6" ry=".3" opacity=".17"/>
<ellipse cx="269.7" cy="618.2" rx="1.0" ry=".6" opacity=".23"/>
<ellipse cx="268.6" cy="618.4" rx=".6" ry=".3" opacity=".15"/>
<ellipse cx="268.8" cy="618.0" rx=".6" ry=".3" opacity=".15"/>
<ellipse cx="265.4" cy="596.4" rx="1.0" ry=".6" opacity=".33"/>
<ellipse cx="266.6" cy="596.3" rx=".6" ry=".3" opacity=".21"/>
<ellipse cx="265.5" cy="596.6" rx=".6" ry=".3" opacity=".21"/>
<ellipse cx="290.9" cy="597.4" rx=".9" ry=".5" opacity=".27"/>
<ellipse cx="290.8" cy="597.6" rx=".5" ry=".3" opacity=".17"/>
<ellipse cx="292.0" cy="597.4" rx=".5" ry=".3" opacity=".17"/>
</g></g>
<rect x="291.8" y="614.9" width="7.1" height="2.2" fill="#fff"/>
<line x1="55.5" y1="626.8" x2="69.5" y2="626.8" stroke="#111" stroke-width="1.3"/>
<path d="M72.5,626.8 L67.5,624.1999999999999 L67.5,629.4 Z" fill="#111"/>
<text x="54" y="637.2" font-size="8.6" text-anchor="start" font-weight="normal" fill="#111">1500 s<tspan font-size="5" dy="-3">-1</tspan></text>
<line x1="364.4" y1="458.09999999999997" x2="364.4" y2="536.6" stroke="#111" stroke-width="1.5"/>
<line x1="363.79999999999995" y1="536.0" x2="482.5" y2="536.0" stroke="#111" stroke-width="1.5"/>
<line x1="361.29999999999995" y1="536.0" x2="364.4" y2="536.0" stroke="#111" stroke-width="1.5"/>
<text x="358.5" y="539.324" font-size="8.4" text-anchor="end" font-weight="normal" fill="#111">0</text>
<line x1="361.29999999999995" y1="517.625" x2="364.4" y2="517.625" stroke="#111" stroke-width="1.5"/>
<text x="358.5" y="520.949" font-size="8.4" text-anchor="end" font-weight="normal" fill="#111">25</text>
<line x1="361.29999999999995" y1="499.25" x2="364.4" y2="499.25" stroke="#111" stroke-width="1.5"/>
<text x="358.5" y="502.574" font-size="8.4" text-anchor="end" font-weight="normal" fill="#111">50</text>
<line x1="361.29999999999995" y1="480.875" x2="364.4" y2="480.875" stroke="#111" stroke-width="1.5"/>
<text x="358.5" y="484.199" font-size="8.4" text-anchor="end" font-weight="normal" fill="#111">75</text>
<line x1="361.29999999999995" y1="462.5" x2="364.4" y2="462.5" stroke="#111" stroke-width="1.5"/>
<text x="358.5" y="465.824" font-size="8.4" text-anchor="end" font-weight="normal" fill="#111">100</text>
<line x1="373.1" y1="536.0" x2="373.1" y2="539.1" stroke="#111" stroke-width="1.5"/>
<text x="373.1" y="549.2" font-size="8.4" text-anchor="middle" font-weight="normal" fill="#111">0</text>
<line x1="389.95000000000005" y1="536.0" x2="389.95000000000005" y2="539.1" stroke="#111" stroke-width="1.5"/>
<text x="389.95000000000005" y="549.2" font-size="8.4" text-anchor="middle" font-weight="normal" fill="#111">30</text>
<line x1="406.8" y1="536.0" x2="406.8" y2="539.1" stroke="#111" stroke-width="1.5"/>
<text x="406.8" y="549.2" font-size="8.4" text-anchor="middle" font-weight="normal" fill="#111">60</text>
<line x1="423.65000000000003" y1="536.0" x2="423.65000000000003" y2="539.1" stroke="#111" stroke-width="1.5"/>
<text x="423.65000000000003" y="549.2" font-size="8.4" text-anchor="middle" font-weight="normal" fill="#111">90</text>
<line x1="440.5" y1="536.0" x2="440.5" y2="539.1" stroke="#111" stroke-width="1.5"/>
<text x="440.5" y="549.2" font-size="8.4" text-anchor="middle" font-weight="normal" fill="#111">120</text>
<line x1="457.35" y1="536.0" x2="457.35" y2="539.1" stroke="#111" stroke-width="1.5"/>
<text x="457.35" y="549.2" font-size="8.4" text-anchor="middle" font-weight="normal" fill="#111">150</text>
<line x1="474.20000000000005" y1="536.0" x2="474.20000000000005" y2="539.1" stroke="#111" stroke-width="1.5"/>
<text x="474.20000000000005" y="549.2" font-size="8.4" text-anchor="middle" font-weight="normal" fill="#111">180</text>
<text transform="translate(327.3,498.4) rotate(-90)" font-size="9.9" text-anchor="middle" fill="#111" textLength="88" lengthAdjust="spacingAndGlyphs">Surface covered (% of</text>
<text transform="translate(339.4,497.6) rotate(-90)" font-size="9.9" text-anchor="middle" fill="#111" textLength="69.5" lengthAdjust="spacingAndGlyphs">maximum DMSO)</text>
<polyline points="373.1,535.4 389.95000000000005,529.8 406.8,524.0 423.65000000000003,517.3 440.5,510.2 457.35,504.8 474.20000000000005,496.2" fill="none" stroke="#4f2564" stroke-width="1.4"/>
<line x1="389.95000000000005" y1="529" x2="389.95000000000005" y2="530.6" stroke="#4f2564" stroke-width="1.2"/>
<line x1="387.75000000000006" y1="529" x2="392.15000000000003" y2="529" stroke="#4f2564" stroke-width="1.2"/>
<line x1="387.75000000000006" y1="530.6" x2="392.15000000000003" y2="530.6" stroke="#4f2564" stroke-width="1.2"/>
<line x1="406.8" y1="522.6" x2="406.8" y2="525.4" stroke="#4f2564" stroke-width="1.2"/>
<line x1="404.6" y1="522.6" x2="409.0" y2="522.6" stroke="#4f2564" stroke-width="1.2"/>
<line x1="404.6" y1="525.4" x2="409.0" y2="525.4" stroke="#4f2564" stroke-width="1.2"/>
<line x1="423.65000000000003" y1="516" x2="423.65000000000003" y2="518.6" stroke="#4f2564" stroke-width="1.2"/>
<line x1="421.45000000000005" y1="516" x2="425.85" y2="516" stroke="#4f2564" stroke-width="1.2"/>
<line x1="421.45000000000005" y1="518.6" x2="425.85" y2="518.6" stroke="#4f2564" stroke-width="1.2"/>
<line x1="440.5" y1="509" x2="440.5" y2="511.4" stroke="#4f2564" stroke-width="1.2"/>
<line x1="438.3" y1="509" x2="442.7" y2="509" stroke="#4f2564" stroke-width="1.2"/>
<line x1="438.3" y1="511.4" x2="442.7" y2="511.4" stroke="#4f2564" stroke-width="1.2"/>
<line x1="457.35" y1="503.5" x2="457.35" y2="506.1" stroke="#4f2564" stroke-width="1.2"/>
<line x1="455.15000000000003" y1="503.5" x2="459.55" y2="503.5" stroke="#4f2564" stroke-width="1.2"/>
<line x1="455.15000000000003" y1="506.1" x2="459.55" y2="506.1" stroke="#4f2564" stroke-width="1.2"/>
<line x1="474.20000000000005" y1="495" x2="474.20000000000005" y2="497.4" stroke="#4f2564" stroke-width="1.2"/>
<line x1="472.00000000000006" y1="495" x2="476.40000000000003" y2="495" stroke="#4f2564" stroke-width="1.2"/>
<line x1="472.00000000000006" y1="497.4" x2="476.40000000000003" y2="497.4" stroke="#4f2564" stroke-width="1.2"/>
<path d="M373.1,533.4 L375.1,537.0 L371.1,537.0 Z" fill="#4f2564"/>
<path d="M389.95000000000005,527.8 L391.95000000000005,531.4 L387.95000000000005,531.4 Z" fill="#4f2564"/>
<path d="M406.8,522.0 L408.8,525.6 L404.8,525.6 Z" fill="#4f2564"/>
<path d="M423.65000000000003,515.3 L425.65000000000003,518.9 L421.65000000000003,518.9 Z" fill="#4f2564"/>
<path d="M440.5,508.2 L442.5,511.8 L438.5,511.8 Z" fill="#4f2564"/>
<path d="M457.35,502.8 L459.35,506.40000000000003 L455.35,506.40000000000003 Z" fill="#4f2564"/>
<path d="M474.20000000000005,494.2 L476.20000000000005,497.8 L472.20000000000005,497.8 Z" fill="#4f2564"/>
<polyline points="373.1,535.2 389.95000000000005,528.8 406.8,521.2 423.65000000000003,515.4 440.5,509.6 457.35,503.8 474.20000000000005,495.6" fill="none" stroke="#6fb344" stroke-width="1.4"/>
<line x1="389.95000000000005" y1="528" x2="389.95000000000005" y2="529.6" stroke="#6fb344" stroke-width="1.2"/>
<line x1="387.75000000000006" y1="528" x2="392.15000000000003" y2="528" stroke="#6fb344" stroke-width="1.2"/>
<line x1="387.75000000000006" y1="529.6" x2="392.15000000000003" y2="529.6" stroke="#6fb344" stroke-width="1.2"/>
<line x1="406.8" y1="519.5" x2="406.8" y2="523" stroke="#6fb344" stroke-width="1.2"/>
<line x1="404.6" y1="519.5" x2="409.0" y2="519.5" stroke="#6fb344" stroke-width="1.2"/>
<line x1="404.6" y1="523" x2="409.0" y2="523" stroke="#6fb344" stroke-width="1.2"/>
<line x1="423.65000000000003" y1="512.8" x2="423.65000000000003" y2="518" stroke="#6fb344" stroke-width="1.2"/>
<line x1="421.45000000000005" y1="512.8" x2="425.85" y2="512.8" stroke="#6fb344" stroke-width="1.2"/>
<line x1="421.45000000000005" y1="518" x2="425.85" y2="518" stroke="#6fb344" stroke-width="1.2"/>
<line x1="440.5" y1="507.8" x2="440.5" y2="511.4" stroke="#6fb344" stroke-width="1.2"/>
<line x1="438.3" y1="507.8" x2="442.7" y2="507.8" stroke="#6fb344" stroke-width="1.2"/>
<line x1="438.3" y1="511.4" x2="442.7" y2="511.4" stroke="#6fb344" stroke-width="1.2"/>
<line x1="457.35" y1="502" x2="457.35" y2="505.6" stroke="#6fb344" stroke-width="1.2"/>
<line x1="455.15000000000003" y1="502" x2="459.55" y2="502" stroke="#6fb344" stroke-width="1.2"/>
<line x1="455.15000000000003" y1="505.6" x2="459.55" y2="505.6" stroke="#6fb344" stroke-width="1.2"/>
<line x1="474.20000000000005" y1="494" x2="474.20000000000005" y2="497.2" stroke="#6fb344" stroke-width="1.2"/>
<line x1="472.00000000000006" y1="494" x2="476.40000000000003" y2="494" stroke="#6fb344" stroke-width="1.2"/>
<line x1="472.00000000000006" y1="497.2" x2="476.40000000000003" y2="497.2" stroke="#6fb344" stroke-width="1.2"/>
<rect x="371.50" y="533.60" width="3.20" height="3.20" rx="0.7" fill="#6fb344"/>
<rect x="388.35" y="527.20" width="3.20" height="3.20" rx="0.7" fill="#6fb344"/>
<rect x="405.20" y="519.60" width="3.20" height="3.20" rx="0.7" fill="#6fb344"/>
<rect x="422.05" y="513.80" width="3.20" height="3.20" rx="0.7" fill="#6fb344"/>
<rect x="438.90" y="508.00" width="3.20" height="3.20" rx="0.7" fill="#6fb344"/>
<rect x="455.75" y="502.20" width="3.20" height="3.20" rx="0.7" fill="#6fb344"/>
<rect x="472.60" y="494.00" width="3.20" height="3.20" rx="0.7" fill="#6fb344"/>
<polyline points="373.1,535.0 389.95000000000005,526.9 406.8,515.8 423.65000000000003,502.9 440.5,490.8 457.35,475.4 474.20000000000005,462.5" fill="none" stroke="#aa0c2e" stroke-width="1.4"/>
<line x1="389.95000000000005" y1="526" x2="389.95000000000005" y2="527.8" stroke="#aa0c2e" stroke-width="1.2"/>
<line x1="387.75000000000006" y1="526" x2="392.15000000000003" y2="526" stroke="#aa0c2e" stroke-width="1.2"/>
<line x1="387.75000000000006" y1="527.8" x2="392.15000000000003" y2="527.8" stroke="#aa0c2e" stroke-width="1.2"/>
<line x1="406.8" y1="513" x2="406.8" y2="518.6" stroke="#aa0c2e" stroke-width="1.2"/>
<line x1="404.6" y1="513" x2="409.0" y2="513" stroke="#aa0c2e" stroke-width="1.2"/>
<line x1="404.6" y1="518.6" x2="409.0" y2="518.6" stroke="#aa0c2e" stroke-width="1.2"/>
<line x1="423.65000000000003" y1="499" x2="423.65000000000003" y2="507.7" stroke="#aa0c2e" stroke-width="1.2"/>
<line x1="421.45000000000005" y1="499" x2="425.85" y2="499" stroke="#aa0c2e" stroke-width="1.2"/>
<line x1="421.45000000000005" y1="507.7" x2="425.85" y2="507.7" stroke="#aa0c2e" stroke-width="1.2"/>
<line x1="440.5" y1="486.2" x2="440.5" y2="495.2" stroke="#aa0c2e" stroke-width="1.2"/>
<line x1="438.3" y1="486.2" x2="442.7" y2="486.2" stroke="#aa0c2e" stroke-width="1.2"/>
<line x1="438.3" y1="495.2" x2="442.7" y2="495.2" stroke="#aa0c2e" stroke-width="1.2"/>
<line x1="457.35" y1="473.6" x2="457.35" y2="477.2" stroke="#aa0c2e" stroke-width="1.2"/>
<line x1="455.15000000000003" y1="473.6" x2="459.55" y2="473.6" stroke="#aa0c2e" stroke-width="1.2"/>
<line x1="455.15000000000003" y1="477.2" x2="459.55" y2="477.2" stroke="#aa0c2e" stroke-width="1.2"/>
<circle cx="373.1" cy="535.0" r="1.55" fill="#fff" stroke="#aa0c2e" stroke-width="1.05"/>
<circle cx="389.95000000000005" cy="526.9" r="1.55" fill="#fff" stroke="#aa0c2e" stroke-width="1.05"/>
<circle cx="406.8" cy="515.8" r="1.55" fill="#fff" stroke="#aa0c2e" stroke-width="1.05"/>
<circle cx="423.65000000000003" cy="502.9" r="1.55" fill="#fff" stroke="#aa0c2e" stroke-width="1.05"/>
<circle cx="440.5" cy="490.8" r="1.55" fill="#fff" stroke="#aa0c2e" stroke-width="1.05"/>
<circle cx="457.35" cy="475.4" r="1.55" fill="#fff" stroke="#aa0c2e" stroke-width="1.05"/>
<circle cx="474.20000000000005" cy="462.5" r="1.55" fill="#fff" stroke="#aa0c2e" stroke-width="1.05"/>
<path d="M423.50,522.60V525.20M422.30,523.30L424.70,524.50M422.30,524.50L424.70,523.30" stroke="#111" stroke-width="0.95" fill="none"/>
<path d="M440.50,515.90V518.50M439.30,516.60L441.70,517.80M439.30,517.80L441.70,516.60" stroke="#111" stroke-width="0.95" fill="none"/>
<path d="M457.30,509.80V512.40M456.10,510.50L458.50,511.70M456.10,511.70L458.50,510.50" stroke="#111" stroke-width="0.95" fill="none"/>
<path d="M472.30,502.10V504.70M471.10,502.80L473.50,504.00M471.10,504.00L473.50,502.80" stroke="#111" stroke-width="0.95" fill="none"/>
<path d="M476.30,502.10V504.70M475.10,502.80L477.50,504.00M475.10,504.00L477.50,502.80" stroke="#111" stroke-width="0.95" fill="none"/>
<line x1="370.6" y1="462.5" x2="381.7" y2="462.5" stroke="#aa0c2e" stroke-width="1.3"/>
<circle cx="376.15" cy="462.5" r="1.32" fill="#fff" stroke="#aa0c2e" stroke-width="1.05"/>
<text x="385" y="464.7" font-size="7.8" text-anchor="start" font-weight="normal" fill="#111">Vehicle</text>
<line x1="370.6" y1="471.2" x2="381.7" y2="471.2" stroke="#6fb344" stroke-width="1.3"/>
<rect x="374.79" y="469.84" width="2.72" height="2.72" rx="0.7" fill="#6fb344"/>
<text x="385" y="473.4" font-size="7.8" text-anchor="start" font-weight="normal" fill="#111">VPS34-IN1</text>
<line x1="370.6" y1="480.4" x2="381.7" y2="480.4" stroke="#4f2564" stroke-width="1.3"/>
<path d="M376.15,478.7 L377.84999999999997,481.76 L374.45,481.76 Z" fill="#4f2564"/>
<text x="385" y="482.59999999999997" font-size="7.8" text-anchor="start" font-weight="normal" fill="#111">SAR405</text>
<line x1="364.5" y1="564.0" x2="364.5" y2="643.6" stroke="#111" stroke-width="1.5"/>
<line x1="363.9" y1="643.0" x2="458.4" y2="643.0" stroke="#111" stroke-width="1.5"/>
<line x1="361.5" y1="643.0" x2="364.5" y2="643.0" stroke="#111" stroke-width="1.5"/>
<text x="358.1" y="646.324" font-size="8.4" text-anchor="end" font-weight="normal" fill="#111">0</text>
<line x1="361.5" y1="605.2" x2="364.5" y2="605.2" stroke="#111" stroke-width="1.5"/>
<text x="358.1" y="608.524" font-size="8.4" text-anchor="end" font-weight="normal" fill="#111">50</text>
<line x1="361.5" y1="567.4" x2="364.5" y2="567.4" stroke="#111" stroke-width="1.5"/>
<text x="358.1" y="570.7239999999999" font-size="8.4" text-anchor="end" font-weight="normal" fill="#111">100</text>
<line x1="382.3" y1="643.0" x2="382.3" y2="646.0" stroke="#111" stroke-width="1.5"/>
<line x1="411.8" y1="643.0" x2="411.8" y2="646.0" stroke="#111" stroke-width="1.5"/>
<line x1="441.8" y1="643.0" x2="441.8" y2="646.0" stroke="#111" stroke-width="1.5"/>
<rect x="370.0" y="567.4" width="25.1" height="75.60000000000002" fill="#aa0c2e"/>
<rect x="399.3" y="589.6" width="25.1" height="53.39999999999998" fill="#6fb344"/>
<rect x="429.6" y="602.6" width="25.4" height="40.39999999999998" fill="#4f2564"/>
<line x1="411.8" y1="583.8" x2="411.8" y2="590" stroke="#111" stroke-width="1.2"/>
<line x1="406" y1="583.8" x2="418.6" y2="583.8" stroke="#111" stroke-width="1.2"/>
<line x1="435" y1="601.8" x2="449" y2="601.8" stroke="#111" stroke-width="1.2"/>
<line x1="363.9" y1="643.0" x2="458.4" y2="643.0" stroke="#111" stroke-width="1.3"/>
<path d="M412.00,576.10V578.70M410.80,576.80L413.20,578.00M410.80,578.00L413.20,576.80" stroke="#111" stroke-width="0.95" fill="none"/>
<path d="M439.80,593.40V596.00M438.60,594.10L441.00,595.30M438.60,595.30L441.00,594.10" stroke="#111" stroke-width="0.95" fill="none"/>
<path d="M443.80,593.40V596.00M442.60,594.10L445.00,595.30M442.60,595.30L445.00,594.10" stroke="#111" stroke-width="0.95" fill="none"/>
<text transform="translate(387.3,651.2) rotate(-45)" font-size="8.4" text-anchor="end" fill="#111">Vehicle</text>
<text transform="translate(416.9,651.2) rotate(-45)" font-size="8.4" text-anchor="end" fill="#111">VPS34-IN1</text>
<text transform="translate(446.9,651.2) rotate(-45)" font-size="8.4" text-anchor="end" fill="#111">SAR405</text>
<text transform="translate(327.2,603) rotate(-90)" font-size="9.9" text-anchor="middle" fill="#111" textLength="73.5" lengthAdjust="spacingAndGlyphs">Thrombus volume</text>
<text transform="translate(338.7,602.6) rotate(-90)" font-size="9.9" text-anchor="middle" fill="#111" textLength="57.7" lengthAdjust="spacingAndGlyphs">(% of vehicle)</text>
<path d="M0,0H520V691H0Z M1.05,1.1H519V690H1.05Z" fill="#000" fill-rule="evenodd"/>
</svg>
</body></html>
